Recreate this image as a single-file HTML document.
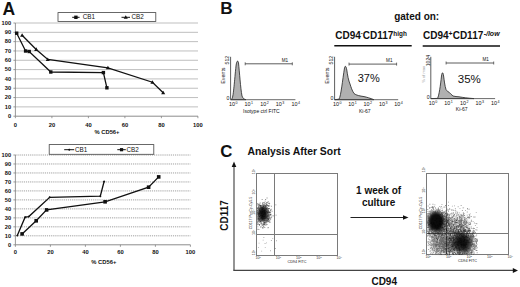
<!DOCTYPE html>
<html><head><meta charset="utf-8"><style>
html,body{margin:0;padding:0;background:#fff;width:520px;height:287px;overflow:hidden}
svg{display:block}
text{font-family:"Liberation Sans",sans-serif;fill:#111}
</style></head><body>
<svg width="520" height="287" viewBox="0 0 520 287" font-family="Liberation Sans, sans-serif">
<rect width="520" height="287" fill="#fff"/>
<text x="2.6" y="14.6" font-size="17.5" font-weight="bold" text-anchor="start" >A</text>
<line x1="15.4" y1="106.88" x2="198" y2="106.88" stroke="#bfbfbf" stroke-width="1" />
<line x1="15.4" y1="97.56" x2="198" y2="97.56" stroke="#bfbfbf" stroke-width="1" />
<line x1="15.4" y1="88.24" x2="198" y2="88.24" stroke="#bfbfbf" stroke-width="1" />
<line x1="15.4" y1="78.92" x2="198" y2="78.92" stroke="#bfbfbf" stroke-width="1" />
<line x1="15.4" y1="69.60" x2="198" y2="69.60" stroke="#bfbfbf" stroke-width="1" />
<line x1="15.4" y1="60.28" x2="198" y2="60.28" stroke="#bfbfbf" stroke-width="1" />
<line x1="15.4" y1="50.96" x2="198" y2="50.96" stroke="#bfbfbf" stroke-width="1" />
<line x1="15.4" y1="41.64" x2="198" y2="41.64" stroke="#bfbfbf" stroke-width="1" />
<line x1="15.4" y1="32.32" x2="198" y2="32.32" stroke="#bfbfbf" stroke-width="1" />
<line x1="15.4" y1="23.00" x2="198" y2="23.00" stroke="#bfbfbf" stroke-width="1" />
<line x1="15.4" y1="23.00" x2="15.4" y2="116.2" stroke="#8c8c8c" stroke-width="0.9"/>
<line x1="15.4" y1="116.2" x2="198" y2="116.2" stroke="#808080" stroke-width="0.9"/>
<line x1="13.4" y1="116.20" x2="15.4" y2="116.20" stroke="#808080" stroke-width="0.8"/>
<text x="11.100000000000001" y="117.90" font-size="5.7" font-weight="bold" text-anchor="end" >0</text>
<line x1="13.4" y1="106.88" x2="15.4" y2="106.88" stroke="#808080" stroke-width="0.8"/>
<text x="11.100000000000001" y="108.58" font-size="5.7" font-weight="bold" text-anchor="end" >10</text>
<line x1="13.4" y1="97.56" x2="15.4" y2="97.56" stroke="#808080" stroke-width="0.8"/>
<text x="11.100000000000001" y="99.26" font-size="5.7" font-weight="bold" text-anchor="end" >20</text>
<line x1="13.4" y1="88.24" x2="15.4" y2="88.24" stroke="#808080" stroke-width="0.8"/>
<text x="11.100000000000001" y="89.94" font-size="5.7" font-weight="bold" text-anchor="end" >30</text>
<line x1="13.4" y1="78.92" x2="15.4" y2="78.92" stroke="#808080" stroke-width="0.8"/>
<text x="11.100000000000001" y="80.62" font-size="5.7" font-weight="bold" text-anchor="end" >40</text>
<line x1="13.4" y1="69.60" x2="15.4" y2="69.60" stroke="#808080" stroke-width="0.8"/>
<text x="11.100000000000001" y="71.30" font-size="5.7" font-weight="bold" text-anchor="end" >50</text>
<line x1="13.4" y1="60.28" x2="15.4" y2="60.28" stroke="#808080" stroke-width="0.8"/>
<text x="11.100000000000001" y="61.98" font-size="5.7" font-weight="bold" text-anchor="end" >60</text>
<line x1="13.4" y1="50.96" x2="15.4" y2="50.96" stroke="#808080" stroke-width="0.8"/>
<text x="11.100000000000001" y="52.66" font-size="5.7" font-weight="bold" text-anchor="end" >70</text>
<line x1="13.4" y1="41.64" x2="15.4" y2="41.64" stroke="#808080" stroke-width="0.8"/>
<text x="11.100000000000001" y="43.34" font-size="5.7" font-weight="bold" text-anchor="end" >80</text>
<line x1="13.4" y1="32.32" x2="15.4" y2="32.32" stroke="#808080" stroke-width="0.8"/>
<text x="11.100000000000001" y="34.02" font-size="5.7" font-weight="bold" text-anchor="end" >90</text>
<line x1="13.4" y1="23.00" x2="15.4" y2="23.00" stroke="#808080" stroke-width="0.8"/>
<text x="11.100000000000001" y="24.70" font-size="5.7" font-weight="bold" text-anchor="end" >100</text>
<line x1="15.40" y1="116.2" x2="15.40" y2="118.2" stroke="#808080" stroke-width="0.8"/>
<text x="15.40" y="127" font-size="5.8" font-weight="bold" text-anchor="middle" >0</text>
<line x1="51.90" y1="116.2" x2="51.90" y2="118.2" stroke="#808080" stroke-width="0.8"/>
<text x="51.90" y="127" font-size="5.8" font-weight="bold" text-anchor="middle" >20</text>
<line x1="88.40" y1="116.2" x2="88.40" y2="118.2" stroke="#808080" stroke-width="0.8"/>
<text x="88.40" y="127" font-size="5.8" font-weight="bold" text-anchor="middle" >40</text>
<line x1="124.90" y1="116.2" x2="124.90" y2="118.2" stroke="#808080" stroke-width="0.8"/>
<text x="124.90" y="127" font-size="5.8" font-weight="bold" text-anchor="middle" >60</text>
<line x1="161.40" y1="116.2" x2="161.40" y2="118.2" stroke="#808080" stroke-width="0.8"/>
<text x="161.40" y="127" font-size="5.8" font-weight="bold" text-anchor="middle" >80</text>
<line x1="197.90" y1="116.2" x2="197.90" y2="118.2" stroke="#808080" stroke-width="0.8"/>
<text x="197.90" y="127" font-size="5.8" font-weight="bold" text-anchor="middle" >100</text>
<text x="107" y="133.5" font-size="5.8" font-weight="bold" text-anchor="middle" >% CD56+</text>
<rect x="58" y="12.6" width="97.8" height="8.9" fill="#fff" stroke="#444" stroke-width="0.8"/>
<polyline points="16.7,33.2 25.6,51 29.2,51.5 50.8,72 103.4,72.6 106.9,87.8" fill="none" stroke="#111" stroke-width="1.3"/>
<rect x="15.00" y="31.50" width="3.4" height="3.4" fill="#111"/>
<rect x="23.90" y="49.30" width="3.4" height="3.4" fill="#111"/>
<rect x="27.50" y="49.80" width="3.4" height="3.4" fill="#111"/>
<rect x="49.10" y="70.30" width="3.4" height="3.4" fill="#111"/>
<rect x="101.70" y="70.90" width="3.4" height="3.4" fill="#111"/>
<rect x="105.20" y="86.10" width="3.4" height="3.4" fill="#111"/>
<polyline points="22.1,35.3 36.2,49.4 47.8,59.5 107.9,67.8 152.4,82.2 163.2,92.7" fill="none" stroke="#111" stroke-width="1.3"/>
<polygon points="22.10,33.26 24.14,36.83 20.06,36.83" fill="#111"/>
<polygon points="36.20,47.36 38.24,50.93 34.16,50.93" fill="#111"/>
<polygon points="47.80,57.46 49.84,61.03 45.76,61.03" fill="#111"/>
<polygon points="107.90,65.76 109.94,69.33 105.86,69.33" fill="#111"/>
<polygon points="152.40,80.16 154.44,83.73 150.36,83.73" fill="#111"/>
<polygon points="163.20,90.66 165.24,94.23 161.16,94.23" fill="#111"/>
<line x1="72.2" y1="17.3" x2="79.6" y2="17.3" stroke="#111" stroke-width="1"/>
<rect x="74.20" y="15.60" width="3.4" height="3.4" fill="#111"/>
<text x="82.8" y="19.3" font-size="6.3" text-anchor="start" >CB1</text>
<line x1="121.5" y1="17.3" x2="130" y2="17.3" stroke="#111" stroke-width="1"/>
<polygon points="125.75,15.26 127.79,18.83 123.71,18.83" fill="#111"/>
<text x="131.4" y="19.3" font-size="6.3" text-anchor="start" >CB2</text>
<line x1="15.4" y1="235.82" x2="190.4" y2="235.82" stroke="#a0a0a0" stroke-width="1" stroke-dasharray="1.2 0.9"/>
<line x1="15.4" y1="226.84" x2="190.4" y2="226.84" stroke="#a0a0a0" stroke-width="1" stroke-dasharray="1.2 0.9"/>
<line x1="15.4" y1="217.86" x2="190.4" y2="217.86" stroke="#a0a0a0" stroke-width="1" stroke-dasharray="1.2 0.9"/>
<line x1="15.4" y1="208.88" x2="190.4" y2="208.88" stroke="#a0a0a0" stroke-width="1" stroke-dasharray="1.2 0.9"/>
<line x1="15.4" y1="199.90" x2="190.4" y2="199.90" stroke="#a0a0a0" stroke-width="1" stroke-dasharray="1.2 0.9"/>
<line x1="15.4" y1="190.92" x2="190.4" y2="190.92" stroke="#a0a0a0" stroke-width="1" stroke-dasharray="1.2 0.9"/>
<line x1="15.4" y1="181.94" x2="190.4" y2="181.94" stroke="#a0a0a0" stroke-width="1" stroke-dasharray="1.2 0.9"/>
<line x1="15.4" y1="172.96" x2="190.4" y2="172.96" stroke="#a0a0a0" stroke-width="1" stroke-dasharray="1.2 0.9"/>
<line x1="15.4" y1="163.98" x2="190.4" y2="163.98" stroke="#a0a0a0" stroke-width="1" stroke-dasharray="1.2 0.9"/>
<line x1="15.4" y1="155.00" x2="190.4" y2="155.00" stroke="#a0a0a0" stroke-width="1" stroke-dasharray="1.2 0.9"/>
<line x1="15.4" y1="155.00" x2="15.4" y2="244.8" stroke="#8c8c8c" stroke-width="0.9"/>
<line x1="15.4" y1="244.8" x2="190.4" y2="244.8" stroke="#808080" stroke-width="0.9"/>
<line x1="13.4" y1="244.80" x2="15.4" y2="244.80" stroke="#808080" stroke-width="0.8"/>
<text x="11.100000000000001" y="246.50" font-size="5.7" font-weight="bold" text-anchor="end" >0</text>
<line x1="13.4" y1="235.82" x2="15.4" y2="235.82" stroke="#808080" stroke-width="0.8"/>
<text x="11.100000000000001" y="237.52" font-size="5.7" font-weight="bold" text-anchor="end" >10</text>
<line x1="13.4" y1="226.84" x2="15.4" y2="226.84" stroke="#808080" stroke-width="0.8"/>
<text x="11.100000000000001" y="228.54" font-size="5.7" font-weight="bold" text-anchor="end" >20</text>
<line x1="13.4" y1="217.86" x2="15.4" y2="217.86" stroke="#808080" stroke-width="0.8"/>
<text x="11.100000000000001" y="219.56" font-size="5.7" font-weight="bold" text-anchor="end" >30</text>
<line x1="13.4" y1="208.88" x2="15.4" y2="208.88" stroke="#808080" stroke-width="0.8"/>
<text x="11.100000000000001" y="210.58" font-size="5.7" font-weight="bold" text-anchor="end" >40</text>
<line x1="13.4" y1="199.90" x2="15.4" y2="199.90" stroke="#808080" stroke-width="0.8"/>
<text x="11.100000000000001" y="201.60" font-size="5.7" font-weight="bold" text-anchor="end" >50</text>
<line x1="13.4" y1="190.92" x2="15.4" y2="190.92" stroke="#808080" stroke-width="0.8"/>
<text x="11.100000000000001" y="192.62" font-size="5.7" font-weight="bold" text-anchor="end" >60</text>
<line x1="13.4" y1="181.94" x2="15.4" y2="181.94" stroke="#808080" stroke-width="0.8"/>
<text x="11.100000000000001" y="183.64" font-size="5.7" font-weight="bold" text-anchor="end" >70</text>
<line x1="13.4" y1="172.96" x2="15.4" y2="172.96" stroke="#808080" stroke-width="0.8"/>
<text x="11.100000000000001" y="174.66" font-size="5.7" font-weight="bold" text-anchor="end" >80</text>
<line x1="13.4" y1="163.98" x2="15.4" y2="163.98" stroke="#808080" stroke-width="0.8"/>
<text x="11.100000000000001" y="165.68" font-size="5.7" font-weight="bold" text-anchor="end" >90</text>
<line x1="13.4" y1="155.00" x2="15.4" y2="155.00" stroke="#808080" stroke-width="0.8"/>
<text x="11.100000000000001" y="156.70" font-size="5.7" font-weight="bold" text-anchor="end" >100</text>
<line x1="15.40" y1="244.8" x2="15.40" y2="246.8" stroke="#808080" stroke-width="0.8"/>
<text x="15.40" y="254.3" font-size="5.8" font-weight="bold" text-anchor="middle" >0</text>
<line x1="50.40" y1="244.8" x2="50.40" y2="246.8" stroke="#808080" stroke-width="0.8"/>
<text x="50.40" y="254.3" font-size="5.8" font-weight="bold" text-anchor="middle" >20</text>
<line x1="85.40" y1="244.8" x2="85.40" y2="246.8" stroke="#808080" stroke-width="0.8"/>
<text x="85.40" y="254.3" font-size="5.8" font-weight="bold" text-anchor="middle" >40</text>
<line x1="120.40" y1="244.8" x2="120.40" y2="246.8" stroke="#808080" stroke-width="0.8"/>
<text x="120.40" y="254.3" font-size="5.8" font-weight="bold" text-anchor="middle" >60</text>
<line x1="155.40" y1="244.8" x2="155.40" y2="246.8" stroke="#808080" stroke-width="0.8"/>
<text x="155.40" y="254.3" font-size="5.8" font-weight="bold" text-anchor="middle" >80</text>
<line x1="190.40" y1="244.8" x2="190.40" y2="246.8" stroke="#808080" stroke-width="0.8"/>
<text x="190.40" y="254.3" font-size="5.8" font-weight="bold" text-anchor="middle" >100</text>
<text x="103.8" y="264.2" font-size="5.8" font-weight="bold" text-anchor="middle" >% CD56+</text>
<rect x="49.2" y="144.6" width="104.6" height="9.7" fill="#fff" stroke="#444" stroke-width="0.8"/>
<polyline points="17.3,235.6 25.1,217.2 28.8,216.6 49.7,197.3 100.3,196.2 104.1,181.5" fill="none" stroke="#111" stroke-width="1.3"/>
<polygon points="17.30,234.40 18.50,235.60 17.30,236.80 16.10,235.60" fill="#111"/>
<polygon points="25.10,216.00 26.30,217.20 25.10,218.40 23.90,217.20" fill="#111"/>
<polygon points="28.80,215.40 30.00,216.60 28.80,217.80 27.60,216.60" fill="#111"/>
<polygon points="49.70,196.10 50.90,197.30 49.70,198.50 48.50,197.30" fill="#111"/>
<polygon points="100.30,195.00 101.50,196.20 100.30,197.40 99.10,196.20" fill="#111"/>
<polygon points="104.10,180.30 105.30,181.50 104.10,182.70 102.90,181.50" fill="#111"/>
<polyline points="22.1,233.9 36.2,220.8 46.6,209.9 105.1,201.8 148.6,187.2 158.7,176.9" fill="none" stroke="#111" stroke-width="1.3"/>
<rect x="20.30" y="232.10" width="3.6" height="3.6" fill="#111"/>
<rect x="34.40" y="219.00" width="3.6" height="3.6" fill="#111"/>
<rect x="44.80" y="208.10" width="3.6" height="3.6" fill="#111"/>
<rect x="103.30" y="200.00" width="3.6" height="3.6" fill="#111"/>
<rect x="146.80" y="185.40" width="3.6" height="3.6" fill="#111"/>
<rect x="156.90" y="175.10" width="3.6" height="3.6" fill="#111"/>
<line x1="64.2" y1="149.7" x2="74.2" y2="149.7" stroke="#111" stroke-width="1"/>
<polygon points="69.20,148.50 70.40,149.70 69.20,150.90 68.00,149.70" fill="#111"/>
<text x="75" y="151.7" font-size="6.3" text-anchor="start" >CB1</text>
<line x1="117.3" y1="149.7" x2="125.8" y2="149.7" stroke="#111" stroke-width="1"/>
<rect x="119.95" y="148.10" width="3.2" height="3.2" fill="#111"/>
<text x="126.5" y="151.7" font-size="6.3" text-anchor="start" >CB2</text>
<text x="220.2" y="13.85" font-size="17.2" font-weight="bold" text-anchor="start" >B</text>
<text x="416.7" y="19.6" font-size="10" font-weight="bold" text-anchor="middle" >gated on:</text>
<text x="335.2" y="39.3" font-size="10" font-weight="bold">CD94<tspan font-size="6" dy="-4">-</tspan><tspan dy="4">CD117</tspan><tspan font-size="6.4" dy="-3.3">high</tspan></text>
<line x1="334.3" y1="45.8" x2="411.7" y2="45.8" stroke="#111" stroke-width="1.5"/>
<text x="423" y="39.3" font-size="10" font-weight="bold">CD94<tspan font-size="7" dy="-3.3">+</tspan><tspan dy="3.3">CD117</tspan><tspan font-size="7" font-style="italic" dx="0.4" dy="-3">-/low</tspan></text>
<line x1="422.7" y1="46" x2="500" y2="46" stroke="#111" stroke-width="1.5"/>
<path d="M230.8,99.7 L232,98.9 C233.5,96 234.5,80 236,66 C236.6,61 237.8,59.5 238.5,63 C239.5,72 240.5,88 242,96 C243,98.5 244,99.2 246,99.7 Z" fill="#b0b0b0" stroke="#222" stroke-width="0.8"/>
<line x1="230.6" y1="56.8" x2="230.6" y2="99.7" stroke="#333" stroke-width="0.8"/>
<line x1="230.6" y1="99.7" x2="295.4" y2="99.7" stroke="#444" stroke-width="0.8"/>
<text x="229.00" y="106.30" font-size="5.4">10<tspan font-size="3.6" dx="0.5" dy="-2">0</tspan></text>
<text x="244.60" y="106.30" font-size="5.4">10<tspan font-size="3.6" dx="0.5" dy="-2">1</tspan></text>
<text x="260.20" y="106.30" font-size="5.4">10<tspan font-size="3.6" dx="0.5" dy="-2">2</tspan></text>
<text x="275.80" y="106.30" font-size="5.4">10<tspan font-size="3.6" dx="0.5" dy="-2">3</tspan></text>
<text x="291.40" y="106.30" font-size="5.4">10<tspan font-size="3.6" dx="0.5" dy="-2">4</tspan></text>
<line x1="245.2" y1="63.8" x2="292.3" y2="63.8" stroke="#333" stroke-width="0.8"/>
<line x1="245.2" y1="62.3" x2="245.2" y2="65.3" stroke="#333" stroke-width="0.7"/>
<line x1="292.3" y1="62.3" x2="292.3" y2="65.3" stroke="#333" stroke-width="0.7"/>
<text x="285" y="62.0" font-size="4.6" text-anchor="middle" >M1</text>
<text transform="translate(229.4,55.8) rotate(-90)" font-size="5.2" text-anchor="end">512</text>
<text transform="translate(224.91,75.6) rotate(-90)" font-size="5.3" text-anchor="middle" style="fill:#111">Events</text>
<text x="229.4" y="99.9" font-size="5.2" text-anchor="end">0</text>
<text x="261.4" y="113.2" font-size="5.0" text-anchor="middle" >Isotype ctrl FITC</text>
<path d="M334.6,99.7 L339,99.2 C341,96 342.5,80 344.5,68 C345,65.5 346,65.5 346.8,70 C347.5,75 348.5,80.5 350,84 C351,87 352,90.5 354,93.5 C356,95.3 360,96 364,96.6 C367,97.2 370,98.2 374,99.7 Z" fill="#b0b0b0" stroke="#222" stroke-width="0.8"/>
<line x1="334.6" y1="56.8" x2="334.6" y2="99.7" stroke="#333" stroke-width="0.8"/>
<line x1="334.6" y1="99.7" x2="398.2" y2="99.7" stroke="#444" stroke-width="0.8"/>
<text x="333.00" y="106.30" font-size="5.4">10<tspan font-size="3.6" dx="0.5" dy="-2">0</tspan></text>
<text x="348.30" y="106.30" font-size="5.4">10<tspan font-size="3.6" dx="0.5" dy="-2">1</tspan></text>
<text x="363.60" y="106.30" font-size="5.4">10<tspan font-size="3.6" dx="0.5" dy="-2">2</tspan></text>
<text x="378.90" y="106.30" font-size="5.4">10<tspan font-size="3.6" dx="0.5" dy="-2">3</tspan></text>
<text x="394.20" y="106.30" font-size="5.4">10<tspan font-size="3.6" dx="0.5" dy="-2">4</tspan></text>
<line x1="349" y1="64.1" x2="396.6" y2="64.1" stroke="#333" stroke-width="0.8"/>
<line x1="349" y1="62.599999999999994" x2="349" y2="65.6" stroke="#333" stroke-width="0.7"/>
<line x1="396.6" y1="62.599999999999994" x2="396.6" y2="65.6" stroke="#333" stroke-width="0.7"/>
<text x="389.3" y="61.599999999999994" font-size="4.6" text-anchor="middle" >M1</text>
<text transform="translate(333.40000000000003,55.8) rotate(-90)" font-size="5.2" text-anchor="end">512</text>
<text transform="translate(328.91,75.6) rotate(-90)" font-size="5.3" text-anchor="middle" style="fill:#111">Events</text>
<text x="333.40000000000003" y="99.9" font-size="5.2" text-anchor="end">0</text>
<text x="364.8" y="112.7" font-size="5.0" text-anchor="middle" >Ki-67</text>
<path d="M430.8,98.6 L437.5,98.4 C439,96 440.5,85 441.5,76 C442,72 443,71.5 443.6,76 C444.2,80 444.8,86 446,89.5 C447,91.5 448,91.3 449,92.2 C450.5,93.5 451.5,95 453,96 C455,96.6 457,96.6 459,96.8 C463,97.5 468,98.2 474,98.6 Z" fill="#b0b0b0" stroke="#222" stroke-width="0.8"/>
<line x1="430.8" y1="56.8" x2="430.8" y2="98.6" stroke="#333" stroke-width="0.8"/>
<line x1="430.8" y1="98.6" x2="495.09999999999997" y2="98.6" stroke="#444" stroke-width="0.8"/>
<text x="428.70" y="105.20" font-size="5.4">10<tspan font-size="3.6" dx="0.5" dy="-2">0</tspan></text>
<text x="444.30" y="105.20" font-size="5.4">10<tspan font-size="3.6" dx="0.5" dy="-2">1</tspan></text>
<text x="459.90" y="105.20" font-size="5.4">10<tspan font-size="3.6" dx="0.5" dy="-2">2</tspan></text>
<text x="475.50" y="105.20" font-size="5.4">10<tspan font-size="3.6" dx="0.5" dy="-2">3</tspan></text>
<text x="491.10" y="105.20" font-size="5.4">10<tspan font-size="3.6" dx="0.5" dy="-2">4</tspan></text>
<line x1="446.1" y1="63.0" x2="493.7" y2="63.0" stroke="#333" stroke-width="0.8"/>
<line x1="446.1" y1="61.5" x2="446.1" y2="64.5" stroke="#333" stroke-width="0.7"/>
<line x1="493.7" y1="61.5" x2="493.7" y2="64.5" stroke="#333" stroke-width="0.7"/>
<text x="485.7" y="61.199999999999996" font-size="4.6" text-anchor="middle" >M1</text>
<text transform="translate(429.6,54.8) rotate(-90)" font-size="5.2" text-anchor="end">1024</text>
<text transform="translate(425.44,74.3) rotate(-90)" font-size="4" text-anchor="middle" style="fill:#999">% of max</text>
<text x="429.6" y="98.8" font-size="5.2" text-anchor="end">0</text>
<text x="461.7" y="111.1" font-size="5.0" text-anchor="middle" >Ki-67</text>
<text x="357.7" y="82.4" font-size="11" text-anchor="start" >37%</text>
<text x="457.8" y="83.4" font-size="11.5" text-anchor="start" >35%</text>
<text x="220.3" y="157.3" font-size="16.8" font-weight="bold" text-anchor="start" >C</text>
<text x="247.5" y="155" font-size="10.4" font-weight="bold" text-anchor="start" >Analysis After Sort</text>
<line x1="234" y1="165" x2="234" y2="270.3" stroke="#666" stroke-width="1.4"/>
<polygon points="234,161.6 231.7,166.9 236.3,166.9" fill="#111"/>
<line x1="233.3" y1="270.4" x2="514" y2="270.4" stroke="#444" stroke-width="1.3"/>
<polygon points="518,270.4 512.8,267.9 512.8,272.9" fill="#111"/>
<text transform="translate(228.2,215.5) rotate(-90)" font-size="10" font-weight="bold" text-anchor="middle">CD117</text>
<text x="384.2" y="285" font-size="10" font-weight="bold" text-anchor="middle" >CD94</text>
<text x="378.6" y="193.9" font-size="10" font-weight="bold" text-anchor="middle" >1 week of</text>
<text x="378.6" y="206.1" font-size="10" font-weight="bold" text-anchor="middle" >culture</text>
<line x1="350.5" y1="217.5" x2="404" y2="217.5" stroke="#222" stroke-width="1"/>
<polygon points="408.5,217.5 403,215.3 403,219.7" fill="#111"/>
<rect x="256.5" y="173.5" width="81.0" height="82.0" fill="none" stroke="#7a7a7a" stroke-width="1"/>
<line x1="274.5" y1="173.5" x2="274.5" y2="255.5" stroke="#7a7a7a" stroke-width="1"/>
<line x1="256.5" y1="234.5" x2="337.5" y2="234.5" stroke="#7a7a7a" stroke-width="1"/>
<text x="258.30" y="259.10" font-size="3.6" text-anchor="middle" style="fill:#333">10<tspan font-size="2.5" dy="-1.4">0</tspan></text>
<text transform="translate(255.10,252.50) rotate(-90)" font-size="3.6" text-anchor="middle" style="fill:#333">10<tspan font-size="2.5" dy="-1.4">0</tspan></text>
<text x="278.55" y="259.10" font-size="3.6" text-anchor="middle" style="fill:#333">10<tspan font-size="2.5" dy="-1.4">1</tspan></text>
<text transform="translate(255.10,232.25) rotate(-90)" font-size="3.6" text-anchor="middle" style="fill:#333">10<tspan font-size="2.5" dy="-1.4">1</tspan></text>
<text x="298.80" y="259.10" font-size="3.6" text-anchor="middle" style="fill:#333">10<tspan font-size="2.5" dy="-1.4">2</tspan></text>
<text transform="translate(255.10,212.00) rotate(-90)" font-size="3.6" text-anchor="middle" style="fill:#333">10<tspan font-size="2.5" dy="-1.4">2</tspan></text>
<text x="319.05" y="259.10" font-size="3.6" text-anchor="middle" style="fill:#333">10<tspan font-size="2.5" dy="-1.4">3</tspan></text>
<text transform="translate(255.10,191.75) rotate(-90)" font-size="3.6" text-anchor="middle" style="fill:#333">10<tspan font-size="2.5" dy="-1.4">3</tspan></text>
<text x="339.30" y="259.10" font-size="3.6" text-anchor="middle" style="fill:#333">10<tspan font-size="2.5" dy="-1.4">4</tspan></text>
<text transform="translate(255.10,171.50) rotate(-90)" font-size="3.6" text-anchor="middle" style="fill:#333">10<tspan font-size="2.5" dy="-1.4">4</tspan></text>
<text x="297.00" y="262.80" font-size="3.8" text-anchor="middle" style="fill:#222">CD94 FITC</text>
<text transform="translate(251.70,213.00) rotate(-90)" font-size="3.6" text-anchor="middle" style="fill:#222">CD117 PerCp-Cy5.5</text>
<defs><filter id="bl" x="-50%" y="-50%" width="200%" height="200%"><feGaussianBlur stdDeviation="1.8"/></filter><filter id="bl2" x="-50%" y="-50%" width="200%" height="200%"><feGaussianBlur stdDeviation="2.4"/></filter></defs>
<ellipse cx="262.8" cy="213.6" rx="4.4" ry="6.8" fill="#000" fill-opacity="0.85" filter="url(#bl)"/>
<path d="M262.1 215.7h0.9v0.9h-0.9zM262.1 212.3h0.9v0.9h-0.9zM260.1 212.7h0.9v0.9h-0.9zM266.0 215.4h0.9v0.9h-0.9zM265.8 214.6h0.9v0.9h-0.9zM263.9 214.4h0.9v0.9h-0.9zM258.0 217.2h0.9v0.9h-0.9zM264.3 215.7h0.9v0.9h-0.9zM257.9 206.3h0.9v0.9h-0.9zM260.2 211.6h0.9v0.9h-0.9zM263.7 213.4h0.9v0.9h-0.9zM264.3 210.9h0.9v0.9h-0.9zM263.7 215.3h0.9v0.9h-0.9zM260.9 220.8h0.9v0.9h-0.9zM264.4 218.6h0.9v0.9h-0.9zM261.0 210.5h0.9v0.9h-0.9zM261.8 213.2h0.9v0.9h-0.9zM264.6 214.6h0.9v0.9h-0.9zM261.5 209.6h0.9v0.9h-0.9zM261.3 218.7h0.9v0.9h-0.9zM260.5 214.6h0.9v0.9h-0.9zM264.0 207.3h0.9v0.9h-0.9zM262.9 219.1h0.9v0.9h-0.9zM257.0 212.2h0.9v0.9h-0.9zM262.5 210.2h0.9v0.9h-0.9zM264.2 213.3h0.9v0.9h-0.9zM258.6 217.1h0.9v0.9h-0.9zM264.7 217.6h0.9v0.9h-0.9zM267.0 215.1h0.9v0.9h-0.9zM263.1 208.1h0.9v0.9h-0.9zM264.6 211.0h0.9v0.9h-0.9zM261.5 208.3h0.9v0.9h-0.9zM260.0 211.4h0.9v0.9h-0.9zM266.5 205.1h0.9v0.9h-0.9zM258.6 214.6h0.9v0.9h-0.9zM267.0 216.0h0.9v0.9h-0.9zM257.3 203.0h0.9v0.9h-0.9zM263.8 210.5h0.9v0.9h-0.9zM259.6 217.7h0.9v0.9h-0.9zM266.0 214.3h0.9v0.9h-0.9zM263.5 215.4h0.9v0.9h-0.9zM267.4 216.2h0.9v0.9h-0.9zM264.3 215.9h0.9v0.9h-0.9zM258.3 219.0h0.9v0.9h-0.9zM265.6 215.8h0.9v0.9h-0.9zM257.1 210.9h0.9v0.9h-0.9zM265.2 206.0h0.9v0.9h-0.9zM262.3 217.9h0.9v0.9h-0.9zM259.0 220.4h0.9v0.9h-0.9zM264.4 213.0h0.9v0.9h-0.9zM263.7 216.3h0.9v0.9h-0.9zM263.1 218.4h0.9v0.9h-0.9zM260.9 211.9h0.9v0.9h-0.9zM265.8 213.7h0.9v0.9h-0.9zM260.2 217.6h0.9v0.9h-0.9zM267.0 211.7h0.9v0.9h-0.9zM258.8 213.0h0.9v0.9h-0.9zM262.4 212.3h0.9v0.9h-0.9zM266.9 209.3h0.9v0.9h-0.9zM266.5 208.3h0.9v0.9h-0.9zM260.5 216.3h0.9v0.9h-0.9zM266.1 217.2h0.9v0.9h-0.9zM263.8 214.2h0.9v0.9h-0.9zM263.2 216.0h0.9v0.9h-0.9zM262.3 214.8h0.9v0.9h-0.9zM264.5 213.6h0.9v0.9h-0.9zM265.0 216.0h0.9v0.9h-0.9zM268.6 215.0h0.9v0.9h-0.9zM261.6 212.0h0.9v0.9h-0.9zM262.8 217.5h0.9v0.9h-0.9zM261.8 215.2h0.9v0.9h-0.9zM268.1 202.8h0.9v0.9h-0.9zM259.5 214.6h0.9v0.9h-0.9zM264.0 214.6h0.9v0.9h-0.9zM261.5 216.4h0.9v0.9h-0.9zM263.6 211.4h0.9v0.9h-0.9zM269.8 215.1h0.9v0.9h-0.9zM261.2 213.2h0.9v0.9h-0.9zM262.1 213.3h0.9v0.9h-0.9zM265.7 208.7h0.9v0.9h-0.9zM262.6 217.6h0.9v0.9h-0.9zM265.3 219.9h0.9v0.9h-0.9zM257.9 212.1h0.9v0.9h-0.9zM261.8 216.2h0.9v0.9h-0.9zM266.0 202.3h0.9v0.9h-0.9zM266.0 207.5h0.9v0.9h-0.9zM264.8 207.3h0.9v0.9h-0.9zM263.3 218.6h0.9v0.9h-0.9zM262.4 214.4h0.9v0.9h-0.9zM265.1 214.2h0.9v0.9h-0.9zM262.5 220.0h0.9v0.9h-0.9zM265.8 212.4h0.9v0.9h-0.9zM270.8 208.8h0.9v0.9h-0.9zM265.5 212.5h0.9v0.9h-0.9zM263.2 216.6h0.9v0.9h-0.9zM263.4 216.3h0.9v0.9h-0.9zM258.4 207.3h0.9v0.9h-0.9zM264.6 209.6h0.9v0.9h-0.9zM259.8 207.4h0.9v0.9h-0.9zM266.5 216.7h0.9v0.9h-0.9zM267.1 209.7h0.9v0.9h-0.9zM262.8 208.8h0.9v0.9h-0.9zM265.0 220.3h0.9v0.9h-0.9zM260.2 220.2h0.9v0.9h-0.9zM265.7 212.9h0.9v0.9h-0.9zM257.1 219.5h0.9v0.9h-0.9zM262.5 211.1h0.9v0.9h-0.9zM264.0 215.3h0.9v0.9h-0.9zM267.1 209.3h0.9v0.9h-0.9zM266.1 219.8h0.9v0.9h-0.9zM267.0 212.8h0.9v0.9h-0.9zM260.6 217.9h0.9v0.9h-0.9zM263.1 214.1h0.9v0.9h-0.9zM266.9 212.5h0.9v0.9h-0.9zM257.4 217.0h0.9v0.9h-0.9zM263.7 211.0h0.9v0.9h-0.9zM262.8 217.1h0.9v0.9h-0.9zM263.0 219.2h0.9v0.9h-0.9zM262.6 218.0h0.9v0.9h-0.9zM267.1 220.4h0.9v0.9h-0.9zM260.9 217.3h0.9v0.9h-0.9zM257.4 209.0h0.9v0.9h-0.9zM257.1 218.1h0.9v0.9h-0.9zM259.2 213.5h0.9v0.9h-0.9zM262.2 213.5h0.9v0.9h-0.9zM261.1 214.6h0.9v0.9h-0.9zM268.0 213.8h0.9v0.9h-0.9zM264.3 217.8h0.9v0.9h-0.9zM262.2 208.3h0.9v0.9h-0.9zM261.2 218.1h0.9v0.9h-0.9zM258.0 211.1h0.9v0.9h-0.9zM265.7 216.9h0.9v0.9h-0.9zM262.8 217.0h0.9v0.9h-0.9zM263.3 208.6h0.9v0.9h-0.9zM258.3 210.9h0.9v0.9h-0.9zM265.5 211.2h0.9v0.9h-0.9zM260.2 210.4h0.9v0.9h-0.9zM258.4 213.1h0.9v0.9h-0.9zM259.4 215.1h0.9v0.9h-0.9zM260.9 205.4h0.9v0.9h-0.9zM264.9 212.4h0.9v0.9h-0.9zM263.6 211.7h0.9v0.9h-0.9zM265.1 216.7h0.9v0.9h-0.9zM264.7 215.0h0.9v0.9h-0.9zM266.7 216.4h0.9v0.9h-0.9zM264.1 204.8h0.9v0.9h-0.9zM265.4 219.1h0.9v0.9h-0.9zM261.9 211.6h0.9v0.9h-0.9zM268.4 206.2h0.9v0.9h-0.9zM264.2 223.8h0.9v0.9h-0.9zM260.1 216.5h0.9v0.9h-0.9zM268.3 213.1h0.9v0.9h-0.9zM264.4 217.4h0.9v0.9h-0.9zM260.2 213.2h0.9v0.9h-0.9zM263.6 217.1h0.9v0.9h-0.9zM262.7 212.8h0.9v0.9h-0.9zM259.9 212.1h0.9v0.9h-0.9zM265.4 214.0h0.9v0.9h-0.9zM260.3 210.1h0.9v0.9h-0.9zM270.5 218.4h0.9v0.9h-0.9zM264.6 202.7h0.9v0.9h-0.9zM264.6 215.6h0.9v0.9h-0.9zM267.7 215.4h0.9v0.9h-0.9zM262.6 215.8h0.9v0.9h-0.9zM257.2 217.9h0.9v0.9h-0.9zM263.7 210.7h0.9v0.9h-0.9zM266.6 221.2h0.9v0.9h-0.9zM258.7 210.8h0.9v0.9h-0.9zM263.6 214.4h0.9v0.9h-0.9zM261.6 209.5h0.9v0.9h-0.9zM268.9 218.0h0.9v0.9h-0.9zM259.3 208.0h0.9v0.9h-0.9zM267.7 217.8h0.9v0.9h-0.9zM268.1 217.0h0.9v0.9h-0.9zM260.3 214.7h0.9v0.9h-0.9zM262.6 215.8h0.9v0.9h-0.9zM260.7 213.1h0.9v0.9h-0.9zM264.1 215.2h0.9v0.9h-0.9zM264.7 214.5h0.9v0.9h-0.9zM261.9 216.9h0.9v0.9h-0.9zM262.9 210.1h0.9v0.9h-0.9zM261.0 213.6h0.9v0.9h-0.9zM262.5 214.3h0.9v0.9h-0.9zM262.8 214.3h0.9v0.9h-0.9zM262.4 208.3h0.9v0.9h-0.9zM264.0 218.0h0.9v0.9h-0.9zM264.1 212.8h0.9v0.9h-0.9zM264.1 209.5h0.9v0.9h-0.9zM257.3 213.9h0.9v0.9h-0.9zM260.1 216.7h0.9v0.9h-0.9zM259.7 202.6h0.9v0.9h-0.9zM259.8 220.2h0.9v0.9h-0.9zM261.7 207.8h0.9v0.9h-0.9zM260.6 215.8h0.9v0.9h-0.9zM264.2 214.3h0.9v0.9h-0.9zM267.1 216.6h0.9v0.9h-0.9zM262.7 216.1h0.9v0.9h-0.9zM267.6 217.7h0.9v0.9h-0.9zM265.8 209.1h0.9v0.9h-0.9zM262.4 216.7h0.9v0.9h-0.9zM261.9 218.1h0.9v0.9h-0.9zM264.5 217.4h0.9v0.9h-0.9zM262.2 224.3h0.9v0.9h-0.9zM266.4 212.7h0.9v0.9h-0.9zM263.1 224.5h0.9v0.9h-0.9zM261.8 217.3h0.9v0.9h-0.9zM265.6 213.6h0.9v0.9h-0.9zM259.4 214.4h0.9v0.9h-0.9zM263.8 218.3h0.9v0.9h-0.9zM265.1 213.7h0.9v0.9h-0.9zM265.3 215.9h0.9v0.9h-0.9zM263.4 213.8h0.9v0.9h-0.9zM262.1 216.5h0.9v0.9h-0.9zM259.7 211.0h0.9v0.9h-0.9zM262.8 207.5h0.9v0.9h-0.9zM261.5 205.2h0.9v0.9h-0.9zM260.8 216.0h0.9v0.9h-0.9zM264.4 213.4h0.9v0.9h-0.9zM262.1 207.6h0.9v0.9h-0.9zM268.1 215.8h0.9v0.9h-0.9zM266.0 209.9h0.9v0.9h-0.9zM262.3 206.0h0.9v0.9h-0.9zM265.1 217.5h0.9v0.9h-0.9zM257.3 213.4h0.9v0.9h-0.9zM264.6 206.2h0.9v0.9h-0.9zM257.5 209.1h0.9v0.9h-0.9zM261.0 207.7h0.9v0.9h-0.9zM262.9 214.6h0.9v0.9h-0.9zM264.6 216.5h0.9v0.9h-0.9zM267.2 218.5h0.9v0.9h-0.9zM259.0 211.5h0.9v0.9h-0.9zM259.7 209.1h0.9v0.9h-0.9zM262.6 213.6h0.9v0.9h-0.9zM264.2 206.9h0.9v0.9h-0.9zM259.2 213.5h0.9v0.9h-0.9zM262.2 212.3h0.9v0.9h-0.9zM262.6 210.4h0.9v0.9h-0.9zM264.8 215.1h0.9v0.9h-0.9zM262.5 210.8h0.9v0.9h-0.9zM262.3 202.2h0.9v0.9h-0.9zM260.0 213.8h0.9v0.9h-0.9zM258.4 214.4h0.9v0.9h-0.9zM263.2 207.8h0.9v0.9h-0.9zM262.1 212.3h0.9v0.9h-0.9zM264.1 216.2h0.9v0.9h-0.9zM262.7 210.0h0.9v0.9h-0.9zM262.4 213.3h0.9v0.9h-0.9zM264.9 214.8h0.9v0.9h-0.9zM260.7 207.9h0.9v0.9h-0.9zM261.7 210.5h0.9v0.9h-0.9zM259.6 213.1h0.9v0.9h-0.9zM261.4 214.0h0.9v0.9h-0.9zM264.3 211.9h0.9v0.9h-0.9zM269.5 212.2h0.9v0.9h-0.9zM266.0 214.1h0.9v0.9h-0.9zM266.0 203.6h0.9v0.9h-0.9zM260.6 214.6h0.9v0.9h-0.9zM264.5 223.4h0.9v0.9h-0.9zM263.7 219.0h0.9v0.9h-0.9zM265.0 217.6h0.9v0.9h-0.9zM264.3 212.9h0.9v0.9h-0.9zM264.3 209.1h0.9v0.9h-0.9zM266.2 209.3h0.9v0.9h-0.9zM263.5 222.5h0.9v0.9h-0.9zM262.2 213.7h0.9v0.9h-0.9zM266.2 213.7h0.9v0.9h-0.9zM260.5 214.7h0.9v0.9h-0.9zM264.5 216.6h0.9v0.9h-0.9zM260.6 221.0h0.9v0.9h-0.9zM267.6 213.7h0.9v0.9h-0.9zM263.6 211.8h0.9v0.9h-0.9zM266.9 210.6h0.9v0.9h-0.9zM264.8 211.6h0.9v0.9h-0.9zM260.8 216.6h0.9v0.9h-0.9zM266.7 213.6h0.9v0.9h-0.9zM260.8 217.0h0.9v0.9h-0.9zM262.7 214.9h0.9v0.9h-0.9zM267.2 218.4h0.9v0.9h-0.9zM261.3 223.2h0.9v0.9h-0.9zM262.8 216.9h0.9v0.9h-0.9zM260.9 213.4h0.9v0.9h-0.9zM257.7 221.1h0.9v0.9h-0.9zM266.8 208.5h0.9v0.9h-0.9zM258.4 206.8h0.9v0.9h-0.9zM266.2 211.7h0.9v0.9h-0.9zM262.6 212.3h0.9v0.9h-0.9zM262.4 209.0h0.9v0.9h-0.9zM262.9 207.6h0.9v0.9h-0.9zM262.6 214.9h0.9v0.9h-0.9zM264.2 212.6h0.9v0.9h-0.9zM260.2 214.3h0.9v0.9h-0.9zM261.4 220.2h0.9v0.9h-0.9zM265.0 213.1h0.9v0.9h-0.9zM261.4 210.6h0.9v0.9h-0.9zM260.1 212.1h0.9v0.9h-0.9zM263.7 215.8h0.9v0.9h-0.9zM264.4 222.4h0.9v0.9h-0.9zM260.8 213.7h0.9v0.9h-0.9zM270.9 205.8h0.9v0.9h-0.9zM261.3 214.3h0.9v0.9h-0.9zM263.2 215.3h0.9v0.9h-0.9zM262.1 215.1h0.9v0.9h-0.9zM263.0 216.8h0.9v0.9h-0.9zM257.3 209.9h0.9v0.9h-0.9zM262.8 209.3h0.9v0.9h-0.9zM259.8 216.2h0.9v0.9h-0.9zM260.9 216.3h0.9v0.9h-0.9zM265.0 214.9h0.9v0.9h-0.9zM264.3 213.2h0.9v0.9h-0.9zM258.7 213.5h0.9v0.9h-0.9zM264.1 211.4h0.9v0.9h-0.9zM262.5 216.7h0.9v0.9h-0.9zM260.3 216.3h0.9v0.9h-0.9zM268.2 211.3h0.9v0.9h-0.9zM263.2 213.0h0.9v0.9h-0.9zM267.3 214.9h0.9v0.9h-0.9zM265.4 210.7h0.9v0.9h-0.9zM262.8 213.6h0.9v0.9h-0.9zM257.6 219.7h0.9v0.9h-0.9zM265.4 206.3h0.9v0.9h-0.9zM265.0 213.0h0.9v0.9h-0.9zM264.1 215.1h0.9v0.9h-0.9zM258.5 212.7h0.9v0.9h-0.9zM267.1 211.2h0.9v0.9h-0.9zM259.8 207.9h0.9v0.9h-0.9zM259.3 215.0h0.9v0.9h-0.9zM267.7 215.4h0.9v0.9h-0.9zM263.5 223.0h0.9v0.9h-0.9zM261.3 210.8h0.9v0.9h-0.9zM264.3 215.9h0.9v0.9h-0.9zM259.9 208.7h0.9v0.9h-0.9zM263.6 214.6h0.9v0.9h-0.9zM259.0 212.8h0.9v0.9h-0.9zM261.2 215.5h0.9v0.9h-0.9zM262.5 213.2h0.9v0.9h-0.9zM261.8 218.0h0.9v0.9h-0.9zM266.8 212.1h0.9v0.9h-0.9zM265.3 210.4h0.9v0.9h-0.9zM263.0 216.7h0.9v0.9h-0.9zM267.2 212.0h0.9v0.9h-0.9zM262.6 214.4h0.9v0.9h-0.9zM258.5 213.7h0.9v0.9h-0.9zM260.8 215.2h0.9v0.9h-0.9zM259.5 205.3h0.9v0.9h-0.9zM262.9 214.7h0.9v0.9h-0.9zM261.2 217.3h0.9v0.9h-0.9zM262.0 211.1h0.9v0.9h-0.9zM264.2 207.0h0.9v0.9h-0.9zM260.8 213.5h0.9v0.9h-0.9zM265.3 212.9h0.9v0.9h-0.9zM263.7 210.8h0.9v0.9h-0.9zM263.7 220.6h0.9v0.9h-0.9zM260.8 223.5h0.9v0.9h-0.9zM260.9 213.7h0.9v0.9h-0.9zM263.3 217.9h0.9v0.9h-0.9zM259.2 204.8h0.9v0.9h-0.9zM264.6 216.9h0.9v0.9h-0.9zM264.6 224.6h0.9v0.9h-0.9zM263.4 214.7h0.9v0.9h-0.9zM265.5 215.1h0.9v0.9h-0.9zM267.6 208.4h0.9v0.9h-0.9zM261.7 199.1h0.9v0.9h-0.9zM265.2 212.0h0.9v0.9h-0.9zM265.5 222.6h0.9v0.9h-0.9zM262.8 212.5h0.9v0.9h-0.9zM261.4 210.1h0.9v0.9h-0.9zM261.0 216.3h0.9v0.9h-0.9zM262.9 213.9h0.9v0.9h-0.9zM262.3 217.4h0.9v0.9h-0.9zM264.2 213.0h0.9v0.9h-0.9zM264.7 213.0h0.9v0.9h-0.9zM259.5 219.7h0.9v0.9h-0.9zM264.1 209.6h0.9v0.9h-0.9zM265.9 215.0h0.9v0.9h-0.9zM258.3 220.4h0.9v0.9h-0.9zM263.8 217.3h0.9v0.9h-0.9zM263.4 213.0h0.9v0.9h-0.9zM258.3 217.7h0.9v0.9h-0.9zM262.9 212.4h0.9v0.9h-0.9zM263.8 213.9h0.9v0.9h-0.9zM264.8 212.0h0.9v0.9h-0.9zM262.7 204.6h0.9v0.9h-0.9zM261.6 216.4h0.9v0.9h-0.9zM266.7 212.1h0.9v0.9h-0.9zM262.4 220.3h0.9v0.9h-0.9zM261.9 216.7h0.9v0.9h-0.9zM267.7 213.8h0.9v0.9h-0.9zM266.4 210.6h0.9v0.9h-0.9zM263.4 213.3h0.9v0.9h-0.9zM263.1 218.3h0.9v0.9h-0.9zM269.7 210.8h0.9v0.9h-0.9zM261.1 215.7h0.9v0.9h-0.9zM259.7 215.7h0.9v0.9h-0.9zM264.5 212.4h0.9v0.9h-0.9zM264.3 207.1h0.9v0.9h-0.9zM265.0 207.1h0.9v0.9h-0.9zM260.8 211.3h0.9v0.9h-0.9zM261.6 217.2h0.9v0.9h-0.9zM263.0 211.9h0.9v0.9h-0.9zM264.4 220.2h0.9v0.9h-0.9zM262.8 215.1h0.9v0.9h-0.9zM266.4 214.7h0.9v0.9h-0.9zM259.1 224.1h0.9v0.9h-0.9zM269.2 205.3h0.9v0.9h-0.9zM262.7 215.4h0.9v0.9h-0.9zM265.6 216.4h0.9v0.9h-0.9zM262.0 209.2h0.9v0.9h-0.9zM263.1 217.9h0.9v0.9h-0.9zM259.6 209.3h0.9v0.9h-0.9zM262.7 205.5h0.9v0.9h-0.9zM262.0 211.8h0.9v0.9h-0.9zM264.1 210.7h0.9v0.9h-0.9zM260.2 211.9h0.9v0.9h-0.9zM262.7 210.8h0.9v0.9h-0.9zM262.8 216.8h0.9v0.9h-0.9zM266.2 220.8h0.9v0.9h-0.9zM260.5 211.8h0.9v0.9h-0.9zM260.7 213.5h0.9v0.9h-0.9zM264.3 207.9h0.9v0.9h-0.9zM264.1 213.5h0.9v0.9h-0.9zM257.5 214.8h0.9v0.9h-0.9zM266.3 205.8h0.9v0.9h-0.9zM265.1 214.5h0.9v0.9h-0.9zM264.2 215.5h0.9v0.9h-0.9zM266.6 212.7h0.9v0.9h-0.9zM265.3 211.9h0.9v0.9h-0.9zM264.9 210.2h0.9v0.9h-0.9zM262.5 220.9h0.9v0.9h-0.9zM264.1 212.9h0.9v0.9h-0.9zM259.5 210.3h0.9v0.9h-0.9zM263.4 217.5h0.9v0.9h-0.9zM264.0 215.8h0.9v0.9h-0.9zM262.7 219.3h0.9v0.9h-0.9zM261.7 211.3h0.9v0.9h-0.9zM265.4 213.9h0.9v0.9h-0.9zM262.0 211.2h0.9v0.9h-0.9zM262.1 216.2h0.9v0.9h-0.9zM263.8 208.5h0.9v0.9h-0.9zM264.0 214.4h0.9v0.9h-0.9zM259.9 216.8h0.9v0.9h-0.9zM262.0 212.2h0.9v0.9h-0.9zM265.1 219.1h0.9v0.9h-0.9zM260.8 215.4h0.9v0.9h-0.9zM260.3 223.3h0.9v0.9h-0.9zM261.4 218.6h0.9v0.9h-0.9zM260.9 217.0h0.9v0.9h-0.9zM269.2 202.9h0.9v0.9h-0.9zM261.5 215.7h0.9v0.9h-0.9zM262.5 210.8h0.9v0.9h-0.9zM269.0 213.9h0.9v0.9h-0.9zM258.0 217.2h0.9v0.9h-0.9zM257.8 218.4h0.9v0.9h-0.9zM261.1 214.2h0.9v0.9h-0.9zM266.5 214.1h0.9v0.9h-0.9zM258.8 206.5h0.9v0.9h-0.9zM266.2 216.7h0.9v0.9h-0.9zM260.4 217.2h0.9v0.9h-0.9zM264.2 216.3h0.9v0.9h-0.9zM265.4 216.7h0.9v0.9h-0.9zM265.4 203.3h0.9v0.9h-0.9zM263.3 215.7h0.9v0.9h-0.9zM270.2 209.6h0.9v0.9h-0.9zM261.8 213.8h0.9v0.9h-0.9zM265.4 211.7h0.9v0.9h-0.9zM266.1 210.3h0.9v0.9h-0.9zM263.6 211.4h0.9v0.9h-0.9zM263.3 210.7h0.9v0.9h-0.9zM258.2 218.2h0.9v0.9h-0.9zM263.7 211.3h0.9v0.9h-0.9zM263.4 217.8h0.9v0.9h-0.9zM260.0 213.1h0.9v0.9h-0.9zM264.4 215.8h0.9v0.9h-0.9zM261.8 204.8h0.9v0.9h-0.9zM266.4 215.0h0.9v0.9h-0.9zM262.8 212.4h0.9v0.9h-0.9zM263.6 211.8h0.9v0.9h-0.9zM259.8 210.5h0.9v0.9h-0.9zM261.1 211.0h0.9v0.9h-0.9zM259.4 216.3h0.9v0.9h-0.9zM259.0 216.4h0.9v0.9h-0.9zM259.9 215.1h0.9v0.9h-0.9zM266.8 214.5h0.9v0.9h-0.9zM260.7 213.8h0.9v0.9h-0.9zM263.2 206.3h0.9v0.9h-0.9zM261.0 214.3h0.9v0.9h-0.9zM261.4 213.9h0.9v0.9h-0.9zM264.9 216.8h0.9v0.9h-0.9zM265.4 216.1h0.9v0.9h-0.9zM262.0 213.5h0.9v0.9h-0.9zM262.0 212.3h0.9v0.9h-0.9zM262.3 206.4h0.9v0.9h-0.9zM261.8 213.5h0.9v0.9h-0.9zM260.0 213.5h0.9v0.9h-0.9zM264.3 212.9h0.9v0.9h-0.9zM268.8 202.7h0.9v0.9h-0.9zM262.2 205.9h0.9v0.9h-0.9zM265.6 224.7h0.9v0.9h-0.9zM264.3 212.3h0.9v0.9h-0.9zM264.4 204.2h0.9v0.9h-0.9zM265.3 215.2h0.9v0.9h-0.9zM262.9 211.1h0.9v0.9h-0.9zM264.7 211.6h0.9v0.9h-0.9zM263.4 211.5h0.9v0.9h-0.9zM263.4 216.8h0.9v0.9h-0.9zM260.3 213.5h0.9v0.9h-0.9zM264.6 214.2h0.9v0.9h-0.9zM266.4 222.0h0.9v0.9h-0.9zM260.2 205.5h0.9v0.9h-0.9zM265.3 220.0h0.9v0.9h-0.9zM265.5 217.0h0.9v0.9h-0.9zM261.0 210.6h0.9v0.9h-0.9zM265.4 209.8h0.9v0.9h-0.9zM257.5 209.4h0.9v0.9h-0.9zM270.0 221.7h0.9v0.9h-0.9zM260.8 210.5h0.9v0.9h-0.9zM263.5 210.5h0.9v0.9h-0.9zM266.6 213.3h0.9v0.9h-0.9zM259.6 219.1h0.9v0.9h-0.9zM261.1 214.5h0.9v0.9h-0.9zM262.8 212.3h0.9v0.9h-0.9zM263.7 210.7h0.9v0.9h-0.9zM257.5 204.3h0.9v0.9h-0.9zM259.1 210.4h0.9v0.9h-0.9zM262.7 213.8h0.9v0.9h-0.9zM264.4 214.1h0.9v0.9h-0.9zM260.5 210.6h0.9v0.9h-0.9zM264.2 215.8h0.9v0.9h-0.9zM262.4 212.9h0.9v0.9h-0.9zM265.5 213.7h0.9v0.9h-0.9zM264.9 216.0h0.9v0.9h-0.9zM263.4 219.1h0.9v0.9h-0.9zM261.1 212.1h0.9v0.9h-0.9zM260.5 210.3h0.9v0.9h-0.9zM267.3 221.0h0.9v0.9h-0.9zM262.9 216.0h0.9v0.9h-0.9zM266.2 217.0h0.9v0.9h-0.9zM266.3 208.3h0.9v0.9h-0.9zM260.9 215.5h0.9v0.9h-0.9zM267.0 214.0h0.9v0.9h-0.9zM260.3 212.1h0.9v0.9h-0.9zM260.9 210.0h0.9v0.9h-0.9zM267.2 211.0h0.9v0.9h-0.9zM262.9 222.7h0.9v0.9h-0.9zM266.2 215.0h0.9v0.9h-0.9zM261.0 215.3h0.9v0.9h-0.9zM267.5 216.2h0.9v0.9h-0.9zM266.5 214.0h0.9v0.9h-0.9zM264.3 212.8h0.9v0.9h-0.9zM264.0 219.1h0.9v0.9h-0.9zM258.6 213.3h0.9v0.9h-0.9zM263.5 211.2h0.9v0.9h-0.9zM261.9 216.9h0.9v0.9h-0.9zM268.6 216.2h0.9v0.9h-0.9zM263.7 207.1h0.9v0.9h-0.9zM268.4 213.9h0.9v0.9h-0.9zM262.7 208.9h0.9v0.9h-0.9zM262.6 209.0h0.9v0.9h-0.9zM263.0 215.6h0.9v0.9h-0.9zM262.9 214.8h0.9v0.9h-0.9zM260.3 219.6h0.9v0.9h-0.9zM260.9 206.0h0.9v0.9h-0.9zM262.3 210.4h0.9v0.9h-0.9zM259.9 212.1h0.9v0.9h-0.9zM263.6 208.6h0.9v0.9h-0.9zM262.4 219.6h0.9v0.9h-0.9zM264.8 213.0h0.9v0.9h-0.9zM263.2 213.1h0.9v0.9h-0.9zM262.7 216.7h0.9v0.9h-0.9zM262.5 203.5h0.9v0.9h-0.9zM262.7 209.9h0.9v0.9h-0.9zM264.7 211.0h0.9v0.9h-0.9zM263.2 222.7h0.9v0.9h-0.9zM259.8 208.9h0.9v0.9h-0.9zM258.7 203.5h0.9v0.9h-0.9zM257.4 215.1h0.9v0.9h-0.9zM260.9 205.8h0.9v0.9h-0.9zM258.5 216.2h0.9v0.9h-0.9zM260.6 212.1h0.9v0.9h-0.9zM263.8 219.3h0.9v0.9h-0.9zM268.4 217.9h0.9v0.9h-0.9zM263.2 214.4h0.9v0.9h-0.9zM268.0 219.6h0.9v0.9h-0.9zM261.9 215.5h0.9v0.9h-0.9zM263.6 213.8h0.9v0.9h-0.9zM261.3 208.0h0.9v0.9h-0.9zM261.3 207.1h0.9v0.9h-0.9zM266.3 215.9h0.9v0.9h-0.9zM259.3 219.5h0.9v0.9h-0.9zM265.4 205.6h0.9v0.9h-0.9zM268.1 217.0h0.9v0.9h-0.9zM268.8 208.4h0.9v0.9h-0.9zM264.3 215.4h0.9v0.9h-0.9zM263.4 214.3h0.9v0.9h-0.9zM265.9 207.3h0.9v0.9h-0.9zM259.2 207.7h0.9v0.9h-0.9zM261.2 211.1h0.9v0.9h-0.9zM263.9 214.7h0.9v0.9h-0.9zM262.9 210.8h0.9v0.9h-0.9zM261.5 217.6h0.9v0.9h-0.9zM265.0 214.0h0.9v0.9h-0.9zM261.9 220.1h0.9v0.9h-0.9zM261.1 216.3h0.9v0.9h-0.9zM266.1 212.5h0.9v0.9h-0.9zM265.2 208.9h0.9v0.9h-0.9zM265.7 214.4h0.9v0.9h-0.9zM258.2 216.4h0.9v0.9h-0.9zM260.2 219.0h0.9v0.9h-0.9zM260.8 212.9h0.9v0.9h-0.9zM263.6 212.2h0.9v0.9h-0.9zM263.6 211.3h0.9v0.9h-0.9zM264.7 213.6h0.9v0.9h-0.9zM263.4 202.0h0.9v0.9h-0.9zM266.2 213.7h0.9v0.9h-0.9zM257.6 214.0h0.9v0.9h-0.9zM264.2 218.1h0.9v0.9h-0.9zM259.7 220.1h0.9v0.9h-0.9zM262.3 223.7h0.9v0.9h-0.9zM262.4 216.5h0.9v0.9h-0.9zM261.7 208.9h0.9v0.9h-0.9zM266.0 217.4h0.9v0.9h-0.9zM267.3 217.2h0.9v0.9h-0.9zM261.1 206.6h0.9v0.9h-0.9zM260.9 210.8h0.9v0.9h-0.9zM260.4 216.0h0.9v0.9h-0.9zM263.8 212.5h0.9v0.9h-0.9zM263.3 213.0h0.9v0.9h-0.9zM263.4 216.8h0.9v0.9h-0.9zM265.6 210.7h0.9v0.9h-0.9zM258.4 219.6h0.9v0.9h-0.9zM263.1 218.2h0.9v0.9h-0.9zM258.0 212.2h0.9v0.9h-0.9zM262.9 207.5h0.9v0.9h-0.9zM261.3 216.6h0.9v0.9h-0.9zM265.9 220.3h0.9v0.9h-0.9zM260.3 207.7h0.9v0.9h-0.9zM264.3 217.5h0.9v0.9h-0.9zM263.4 208.1h0.9v0.9h-0.9zM265.1 216.9h0.9v0.9h-0.9zM264.4 211.6h0.9v0.9h-0.9zM263.7 216.9h0.9v0.9h-0.9zM261.2 205.9h0.9v0.9h-0.9zM263.8 215.6h0.9v0.9h-0.9zM262.8 217.3h0.9v0.9h-0.9zM261.1 213.3h0.9v0.9h-0.9zM261.9 216.0h0.9v0.9h-0.9zM267.4 212.5h0.9v0.9h-0.9zM268.8 220.0h0.9v0.9h-0.9zM265.1 216.1h0.9v0.9h-0.9zM267.9 212.8h0.9v0.9h-0.9zM262.5 209.1h0.9v0.9h-0.9zM264.2 219.2h0.9v0.9h-0.9zM264.3 215.4h0.9v0.9h-0.9zM262.2 214.3h0.9v0.9h-0.9zM258.7 218.0h0.9v0.9h-0.9zM261.6 209.0h0.9v0.9h-0.9zM260.6 210.1h0.9v0.9h-0.9zM265.3 218.0h0.9v0.9h-0.9zM258.9 217.5h0.9v0.9h-0.9zM265.4 211.2h0.9v0.9h-0.9zM258.5 210.5h0.9v0.9h-0.9zM261.0 215.0h0.9v0.9h-0.9zM261.8 205.1h0.9v0.9h-0.9zM263.5 207.2h0.9v0.9h-0.9zM265.4 208.5h0.9v0.9h-0.9zM260.8 210.0h0.9v0.9h-0.9zM261.2 219.1h0.9v0.9h-0.9zM265.3 216.1h0.9v0.9h-0.9zM263.7 207.1h0.9v0.9h-0.9zM261.3 211.3h0.9v0.9h-0.9zM260.0 215.7h0.9v0.9h-0.9zM260.7 210.6h0.9v0.9h-0.9zM259.8 205.0h0.9v0.9h-0.9zM264.5 219.2h0.9v0.9h-0.9zM263.3 209.5h0.9v0.9h-0.9zM266.3 214.8h0.9v0.9h-0.9zM265.5 219.8h0.9v0.9h-0.9zM266.1 211.7h0.9v0.9h-0.9zM265.9 216.9h0.9v0.9h-0.9zM258.3 211.9h0.9v0.9h-0.9zM258.7 213.1h0.9v0.9h-0.9zM264.5 209.1h0.9v0.9h-0.9zM263.9 219.8h0.9v0.9h-0.9zM259.0 218.1h0.9v0.9h-0.9zM268.8 222.0h0.9v0.9h-0.9zM262.2 214.7h0.9v0.9h-0.9zM262.4 217.8h0.9v0.9h-0.9zM265.8 214.0h0.9v0.9h-0.9zM258.9 216.7h0.9v0.9h-0.9zM261.4 216.2h0.9v0.9h-0.9zM263.6 220.4h0.9v0.9h-0.9zM266.1 211.7h0.9v0.9h-0.9zM263.8 221.0h0.9v0.9h-0.9zM261.2 215.4h0.9v0.9h-0.9zM266.3 218.9h0.9v0.9h-0.9zM264.3 208.1h0.9v0.9h-0.9zM259.1 214.6h0.9v0.9h-0.9zM263.9 224.3h0.9v0.9h-0.9zM260.3 218.4h0.9v0.9h-0.9zM265.0 206.6h0.9v0.9h-0.9zM260.4 214.3h0.9v0.9h-0.9zM261.4 213.0h0.9v0.9h-0.9zM264.2 210.2h0.9v0.9h-0.9zM264.2 210.9h0.9v0.9h-0.9zM261.2 215.9h0.9v0.9h-0.9zM261.1 214.8h0.9v0.9h-0.9zM267.4 213.7h0.9v0.9h-0.9zM262.4 216.7h0.9v0.9h-0.9zM261.7 218.1h0.9v0.9h-0.9zM259.1 216.2h0.9v0.9h-0.9zM261.3 210.2h0.9v0.9h-0.9zM267.9 210.0h0.9v0.9h-0.9zM267.9 216.4h0.9v0.9h-0.9zM267.0 209.5h0.9v0.9h-0.9zM266.3 219.7h0.9v0.9h-0.9zM262.5 213.1h0.9v0.9h-0.9zM269.9 214.3h0.9v0.9h-0.9zM261.6 211.0h0.9v0.9h-0.9zM264.1 215.0h0.9v0.9h-0.9zM263.3 220.8h0.9v0.9h-0.9zM261.8 215.6h0.9v0.9h-0.9zM267.0 209.4h0.9v0.9h-0.9zM265.8 221.3h0.9v0.9h-0.9zM258.9 209.0h0.9v0.9h-0.9zM259.8 205.8h0.9v0.9h-0.9zM264.1 205.8h0.9v0.9h-0.9zM264.2 219.7h0.9v0.9h-0.9zM258.1 212.3h0.9v0.9h-0.9zM257.2 216.9h0.9v0.9h-0.9zM260.7 212.5h0.9v0.9h-0.9zM263.0 215.9h0.9v0.9h-0.9zM261.8 213.7h0.9v0.9h-0.9zM261.2 214.1h0.9v0.9h-0.9zM259.4 213.9h0.9v0.9h-0.9zM257.2 211.5h0.9v0.9h-0.9zM268.4 213.9h0.9v0.9h-0.9zM259.1 214.7h0.9v0.9h-0.9zM260.0 206.7h0.9v0.9h-0.9zM260.7 216.7h0.9v0.9h-0.9zM263.9 213.2h0.9v0.9h-0.9zM260.1 209.1h0.9v0.9h-0.9zM266.7 214.6h0.9v0.9h-0.9zM260.0 204.7h0.9v0.9h-0.9zM258.8 224.0h0.9v0.9h-0.9zM259.5 213.3h0.9v0.9h-0.9zM263.4 212.9h0.9v0.9h-0.9zM262.0 207.8h0.9v0.9h-0.9zM259.8 220.7h0.9v0.9h-0.9zM260.6 217.2h0.9v0.9h-0.9zM257.9 212.4h0.9v0.9h-0.9zM263.6 218.0h0.9v0.9h-0.9zM259.5 216.1h0.9v0.9h-0.9zM263.9 210.5h0.9v0.9h-0.9zM264.2 209.8h0.9v0.9h-0.9zM260.5 213.5h0.9v0.9h-0.9zM259.9 207.5h0.9v0.9h-0.9zM261.6 216.8h0.9v0.9h-0.9zM261.6 218.9h0.9v0.9h-0.9zM259.4 208.1h0.9v0.9h-0.9zM267.3 215.3h0.9v0.9h-0.9zM265.5 210.1h0.9v0.9h-0.9zM265.1 214.7h0.9v0.9h-0.9zM264.7 213.7h0.9v0.9h-0.9zM266.3 210.9h0.9v0.9h-0.9zM260.0 207.4h0.9v0.9h-0.9zM266.2 210.5h0.9v0.9h-0.9zM259.8 209.7h0.9v0.9h-0.9zM261.5 208.3h0.9v0.9h-0.9zM262.0 211.0h0.9v0.9h-0.9zM261.2 209.6h0.9v0.9h-0.9zM262.9 211.7h0.9v0.9h-0.9zM263.1 214.6h0.9v0.9h-0.9zM263.8 204.4h0.9v0.9h-0.9zM261.2 210.3h0.9v0.9h-0.9zM265.0 207.0h0.9v0.9h-0.9zM260.7 212.4h0.9v0.9h-0.9zM261.8 217.8h0.9v0.9h-0.9zM261.5 217.7h0.9v0.9h-0.9zM258.5 206.0h0.9v0.9h-0.9zM266.3 215.4h0.9v0.9h-0.9zM264.2 214.1h0.9v0.9h-0.9zM264.2 208.5h0.9v0.9h-0.9zM265.6 211.4h0.9v0.9h-0.9zM265.7 214.0h0.9v0.9h-0.9zM257.1 208.2h0.9v0.9h-0.9zM266.1 213.0h0.9v0.9h-0.9zM261.7 214.6h0.9v0.9h-0.9zM261.6 211.3h0.9v0.9h-0.9zM263.1 214.2h0.9v0.9h-0.9zM267.2 213.8h0.9v0.9h-0.9zM268.3 221.2h0.9v0.9h-0.9zM267.8 218.1h0.9v0.9h-0.9zM263.2 214.2h0.9v0.9h-0.9zM262.4 210.5h0.9v0.9h-0.9zM262.6 210.9h0.9v0.9h-0.9zM267.6 215.8h0.9v0.9h-0.9zM261.5 205.6h0.9v0.9h-0.9zM262.6 211.9h0.9v0.9h-0.9zM259.7 208.8h0.9v0.9h-0.9zM262.6 224.4h0.9v0.9h-0.9zM262.7 213.0h0.9v0.9h-0.9zM267.0 214.2h0.9v0.9h-0.9zM263.3 212.0h0.9v0.9h-0.9zM261.0 219.9h0.9v0.9h-0.9zM265.7 220.8h0.9v0.9h-0.9zM261.8 213.7h0.9v0.9h-0.9zM260.2 217.7h0.9v0.9h-0.9zM258.8 216.0h0.9v0.9h-0.9zM266.0 219.5h0.9v0.9h-0.9zM260.1 218.2h0.9v0.9h-0.9zM260.7 210.4h0.9v0.9h-0.9zM259.0 218.5h0.9v0.9h-0.9zM267.6 211.1h0.9v0.9h-0.9zM260.6 212.2h0.9v0.9h-0.9zM270.1 217.8h0.9v0.9h-0.9zM261.2 206.1h0.9v0.9h-0.9zM260.8 218.6h0.9v0.9h-0.9zM268.2 212.5h0.9v0.9h-0.9zM260.8 211.5h0.9v0.9h-0.9zM257.3 217.4h0.9v0.9h-0.9zM259.7 218.1h0.9v0.9h-0.9zM257.8 208.3h0.9v0.9h-0.9zM263.6 210.4h0.9v0.9h-0.9zM265.1 213.6h0.9v0.9h-0.9zM259.4 216.2h0.9v0.9h-0.9zM265.2 205.6h0.9v0.9h-0.9zM268.1 215.7h0.9v0.9h-0.9zM265.0 205.8h0.9v0.9h-0.9zM260.7 212.1h0.9v0.9h-0.9zM265.9 207.5h0.9v0.9h-0.9zM260.2 205.1h0.9v0.9h-0.9zM262.1 215.1h0.9v0.9h-0.9zM257.9 211.1h0.9v0.9h-0.9zM264.3 220.3h0.9v0.9h-0.9zM264.7 212.3h0.9v0.9h-0.9zM259.4 209.7h0.9v0.9h-0.9zM260.9 214.2h0.9v0.9h-0.9zM262.7 220.6h0.9v0.9h-0.9zM263.6 209.1h0.9v0.9h-0.9zM267.3 217.6h0.9v0.9h-0.9zM263.1 210.6h0.9v0.9h-0.9zM257.4 209.3h0.9v0.9h-0.9zM265.4 210.2h0.9v0.9h-0.9zM259.0 214.4h0.9v0.9h-0.9zM263.5 216.1h0.9v0.9h-0.9zM264.7 219.5h0.9v0.9h-0.9zM260.4 217.7h0.9v0.9h-0.9zM259.9 216.5h0.9v0.9h-0.9zM263.3 214.6h0.9v0.9h-0.9zM265.6 213.5h0.9v0.9h-0.9zM266.0 217.3h0.9v0.9h-0.9zM263.2 211.2h0.9v0.9h-0.9zM260.6 211.4h0.9v0.9h-0.9zM262.2 213.5h0.9v0.9h-0.9zM271.4 216.3h0.9v0.9h-0.9zM265.0 210.0h0.9v0.9h-0.9zM260.7 212.3h0.9v0.9h-0.9zM263.4 209.2h0.9v0.9h-0.9zM267.5 211.2h0.9v0.9h-0.9zM265.9 203.8h0.9v0.9h-0.9zM262.8 214.8h0.9v0.9h-0.9zM263.4 216.1h0.9v0.9h-0.9zM263.6 214.3h0.9v0.9h-0.9zM257.3 210.6h0.9v0.9h-0.9zM263.7 212.8h0.9v0.9h-0.9zM260.4 211.2h0.9v0.9h-0.9zM268.2 220.9h0.9v0.9h-0.9zM262.6 219.0h0.9v0.9h-0.9zM258.2 205.5h0.9v0.9h-0.9zM261.4 209.9h0.9v0.9h-0.9zM261.2 214.4h0.9v0.9h-0.9zM271.6 210.8h0.9v0.9h-0.9zM262.9 214.8h0.9v0.9h-0.9zM262.7 217.5h0.9v0.9h-0.9zM267.9 208.4h0.9v0.9h-0.9zM263.3 212.5h0.9v0.9h-0.9zM263.8 207.2h0.9v0.9h-0.9zM257.7 203.9h0.9v0.9h-0.9zM264.3 214.4h0.9v0.9h-0.9zM263.0 203.7h0.9v0.9h-0.9zM261.7 210.4h0.9v0.9h-0.9zM258.7 209.8h0.9v0.9h-0.9zM264.8 215.9h0.9v0.9h-0.9zM262.7 215.8h0.9v0.9h-0.9zM261.0 213.9h0.9v0.9h-0.9zM262.9 215.9h0.9v0.9h-0.9zM262.6 213.0h0.9v0.9h-0.9zM262.4 210.9h0.9v0.9h-0.9zM269.3 215.8h0.9v0.9h-0.9zM264.0 223.2h0.9v0.9h-0.9zM266.9 207.1h0.9v0.9h-0.9zM264.8 217.1h0.9v0.9h-0.9zM268.3 219.1h0.9v0.9h-0.9zM265.0 208.7h0.9v0.9h-0.9zM260.3 214.7h0.9v0.9h-0.9zM264.3 209.3h0.9v0.9h-0.9zM261.7 211.9h0.9v0.9h-0.9zM263.0 215.0h0.9v0.9h-0.9zM262.0 208.4h0.9v0.9h-0.9zM266.4 220.3h0.9v0.9h-0.9zM262.5 217.9h0.9v0.9h-0.9zM264.1 216.4h0.9v0.9h-0.9zM264.2 210.4h0.9v0.9h-0.9zM264.5 217.8h0.9v0.9h-0.9zM260.2 221.9h0.9v0.9h-0.9zM268.9 221.3h0.9v0.9h-0.9zM268.6 216.7h0.9v0.9h-0.9zM261.8 211.1h0.9v0.9h-0.9zM260.4 214.1h0.9v0.9h-0.9zM262.7 216.4h0.9v0.9h-0.9zM256.9 223.3h0.9v0.9h-0.9zM269.4 213.5h0.9v0.9h-0.9zM264.8 215.6h0.9v0.9h-0.9zM263.6 212.7h0.9v0.9h-0.9zM262.4 210.1h0.9v0.9h-0.9zM263.3 213.5h0.9v0.9h-0.9zM263.7 210.0h0.9v0.9h-0.9zM262.9 213.8h0.9v0.9h-0.9zM264.6 209.1h0.9v0.9h-0.9zM264.0 217.7h0.9v0.9h-0.9zM264.5 212.1h0.9v0.9h-0.9zM261.4 212.6h0.9v0.9h-0.9zM264.9 220.1h0.9v0.9h-0.9zM262.3 210.9h0.9v0.9h-0.9zM263.9 214.5h0.9v0.9h-0.9zM260.2 210.5h0.9v0.9h-0.9zM262.5 216.4h0.9v0.9h-0.9zM259.3 209.3h0.9v0.9h-0.9zM264.2 208.5h0.9v0.9h-0.9zM263.1 215.1h0.9v0.9h-0.9zM262.5 209.3h0.9v0.9h-0.9zM262.6 212.2h0.9v0.9h-0.9zM263.8 210.1h0.9v0.9h-0.9zM266.0 206.6h0.9v0.9h-0.9zM262.3 213.6h0.9v0.9h-0.9zM265.6 211.0h0.9v0.9h-0.9zM264.4 211.2h0.9v0.9h-0.9zM264.9 220.9h0.9v0.9h-0.9zM261.6 215.5h0.9v0.9h-0.9zM260.1 217.7h0.9v0.9h-0.9zM266.3 213.7h0.9v0.9h-0.9zM259.5 215.3h0.9v0.9h-0.9zM266.1 218.2h0.9v0.9h-0.9zM265.2 205.9h0.9v0.9h-0.9zM260.8 219.6h0.9v0.9h-0.9zM259.2 218.4h0.9v0.9h-0.9zM268.3 216.8h0.9v0.9h-0.9zM266.0 212.2h0.9v0.9h-0.9zM259.2 213.2h0.9v0.9h-0.9zM262.2 213.4h0.9v0.9h-0.9zM264.8 213.0h0.9v0.9h-0.9zM263.4 215.4h0.9v0.9h-0.9zM262.8 221.3h0.9v0.9h-0.9zM264.1 214.0h0.9v0.9h-0.9zM262.2 211.0h0.9v0.9h-0.9zM266.7 214.2h0.9v0.9h-0.9zM259.7 211.2h0.9v0.9h-0.9zM262.4 211.7h0.9v0.9h-0.9zM265.9 208.7h0.9v0.9h-0.9zM264.2 214.2h0.9v0.9h-0.9zM259.4 213.8h0.9v0.9h-0.9zM262.5 215.7h0.9v0.9h-0.9zM261.5 214.9h0.9v0.9h-0.9zM258.0 209.0h0.9v0.9h-0.9zM265.1 218.0h0.9v0.9h-0.9zM262.8 211.1h0.9v0.9h-0.9zM265.9 204.8h0.9v0.9h-0.9zM260.5 216.4h0.9v0.9h-0.9zM264.7 209.3h0.9v0.9h-0.9zM257.3 219.7h0.9v0.9h-0.9zM263.2 209.8h0.9v0.9h-0.9zM263.0 217.4h0.9v0.9h-0.9zM264.9 204.9h0.9v0.9h-0.9zM265.0 206.1h0.9v0.9h-0.9zM266.1 215.3h0.9v0.9h-0.9zM269.3 211.0h0.9v0.9h-0.9zM262.8 218.0h0.9v0.9h-0.9zM260.9 210.6h0.9v0.9h-0.9zM261.7 213.3h0.9v0.9h-0.9zM259.7 215.6h0.9v0.9h-0.9zM264.4 213.9h0.9v0.9h-0.9zM267.7 212.2h0.9v0.9h-0.9zM266.6 211.3h0.9v0.9h-0.9zM265.0 205.5h0.9v0.9h-0.9zM263.4 212.9h0.9v0.9h-0.9zM261.4 211.0h0.9v0.9h-0.9zM261.8 210.6h0.9v0.9h-0.9zM261.2 211.4h0.9v0.9h-0.9zM259.7 213.0h0.9v0.9h-0.9zM265.1 212.5h0.9v0.9h-0.9zM261.4 219.3h0.9v0.9h-0.9zM265.6 217.5h0.9v0.9h-0.9zM266.2 212.2h0.9v0.9h-0.9zM262.4 218.3h0.9v0.9h-0.9zM261.2 213.1h0.9v0.9h-0.9zM263.9 215.2h0.9v0.9h-0.9zM262.0 217.7h0.9v0.9h-0.9zM262.3 216.6h0.9v0.9h-0.9zM265.9 216.4h0.9v0.9h-0.9zM264.9 208.7h0.9v0.9h-0.9zM259.0 211.0h0.9v0.9h-0.9zM264.2 219.9h0.9v0.9h-0.9zM259.3 214.9h0.9v0.9h-0.9zM260.3 210.5h0.9v0.9h-0.9zM262.0 216.5h0.9v0.9h-0.9zM263.4 218.6h0.9v0.9h-0.9zM259.9 217.3h0.9v0.9h-0.9zM265.5 213.9h0.9v0.9h-0.9zM264.2 211.2h0.9v0.9h-0.9zM259.6 211.9h0.9v0.9h-0.9zM260.9 225.7h0.9v0.9h-0.9zM261.4 220.5h0.9v0.9h-0.9zM263.4 214.9h0.9v0.9h-0.9zM265.0 210.3h0.9v0.9h-0.9zM265.5 215.2h0.9v0.9h-0.9zM258.4 216.1h0.9v0.9h-0.9zM264.4 215.5h0.9v0.9h-0.9zM267.4 211.9h0.9v0.9h-0.9zM264.3 216.7h0.9v0.9h-0.9zM260.2 218.6h0.9v0.9h-0.9zM258.6 208.1h0.9v0.9h-0.9zM264.3 209.0h0.9v0.9h-0.9zM262.5 206.7h0.9v0.9h-0.9zM263.0 208.8h0.9v0.9h-0.9zM263.8 207.2h0.9v0.9h-0.9zM264.1 212.5h0.9v0.9h-0.9zM263.0 213.3h0.9v0.9h-0.9zM263.2 208.1h0.9v0.9h-0.9zM260.1 211.7h0.9v0.9h-0.9zM264.0 205.3h0.9v0.9h-0.9zM260.6 211.0h0.9v0.9h-0.9zM259.7 215.0h0.9v0.9h-0.9zM262.4 210.2h0.9v0.9h-0.9zM259.9 217.0h0.9v0.9h-0.9zM260.9 216.1h0.9v0.9h-0.9zM264.1 205.6h0.9v0.9h-0.9zM259.7 213.6h0.9v0.9h-0.9zM263.8 216.9h0.9v0.9h-0.9zM265.1 217.9h0.9v0.9h-0.9zM261.7 212.7h0.9v0.9h-0.9zM265.0 211.8h0.9v0.9h-0.9zM265.9 206.9h0.9v0.9h-0.9zM264.7 212.9h0.9v0.9h-0.9zM257.1 217.7h0.9v0.9h-0.9zM263.7 213.7h0.9v0.9h-0.9zM259.7 211.6h0.9v0.9h-0.9zM267.2 210.1h0.9v0.9h-0.9zM259.3 213.0h0.9v0.9h-0.9zM261.7 209.8h0.9v0.9h-0.9zM260.4 218.0h0.9v0.9h-0.9zM258.6 221.8h0.9v0.9h-0.9zM261.2 209.0h0.9v0.9h-0.9zM265.1 216.0h0.9v0.9h-0.9zM259.8 216.7h0.9v0.9h-0.9zM257.5 209.7h0.9v0.9h-0.9zM266.1 212.5h0.9v0.9h-0.9zM259.0 215.8h0.9v0.9h-0.9zM265.5 213.5h0.9v0.9h-0.9zM257.6 212.1h0.9v0.9h-0.9zM264.0 216.8h0.9v0.9h-0.9zM268.2 212.5h0.9v0.9h-0.9zM261.4 213.4h0.9v0.9h-0.9zM266.3 209.6h0.9v0.9h-0.9zM266.6 202.1h0.9v0.9h-0.9zM265.1 210.8h0.9v0.9h-0.9zM264.1 216.5h0.9v0.9h-0.9zM259.4 213.2h0.9v0.9h-0.9zM263.5 216.1h0.9v0.9h-0.9zM260.1 209.4h0.9v0.9h-0.9zM257.2 224.3h0.9v0.9h-0.9zM262.2 212.7h0.9v0.9h-0.9zM258.5 217.5h0.9v0.9h-0.9zM261.2 219.6h0.9v0.9h-0.9zM265.3 213.7h0.9v0.9h-0.9zM264.9 208.9h0.9v0.9h-0.9zM261.9 211.2h0.9v0.9h-0.9zM259.1 213.7h0.9v0.9h-0.9zM262.4 219.6h0.9v0.9h-0.9zM260.1 211.7h0.9v0.9h-0.9zM264.0 215.3h0.9v0.9h-0.9zM262.9 211.6h0.9v0.9h-0.9zM264.2 215.1h0.9v0.9h-0.9zM257.5 212.5h0.9v0.9h-0.9zM258.8 208.6h0.9v0.9h-0.9zM263.2 213.9h0.9v0.9h-0.9zM263.1 209.9h0.9v0.9h-0.9zM262.2 209.8h0.9v0.9h-0.9zM263.9 216.5h0.9v0.9h-0.9zM267.9 218.9h0.9v0.9h-0.9zM260.5 211.7h0.9v0.9h-0.9zM260.1 214.9h0.9v0.9h-0.9zM268.5 216.6h0.9v0.9h-0.9zM259.1 215.8h0.9v0.9h-0.9zM262.8 214.9h0.9v0.9h-0.9zM268.0 210.1h0.9v0.9h-0.9zM260.3 221.9h0.9v0.9h-0.9zM263.8 210.3h0.9v0.9h-0.9zM256.9 207.2h0.9v0.9h-0.9zM262.9 217.8h0.9v0.9h-0.9zM262.4 210.7h0.9v0.9h-0.9zM260.7 221.6h0.9v0.9h-0.9zM257.7 214.3h0.9v0.9h-0.9zM262.9 216.2h0.9v0.9h-0.9zM261.6 215.7h0.9v0.9h-0.9zM265.2 213.0h0.9v0.9h-0.9zM261.5 212.8h0.9v0.9h-0.9zM260.0 212.7h0.9v0.9h-0.9zM261.9 214.5h0.9v0.9h-0.9zM266.7 219.1h0.9v0.9h-0.9zM261.5 216.1h0.9v0.9h-0.9zM263.7 216.8h0.9v0.9h-0.9zM262.9 214.7h0.9v0.9h-0.9zM261.4 210.3h0.9v0.9h-0.9zM265.3 219.1h0.9v0.9h-0.9zM264.7 215.4h0.9v0.9h-0.9zM263.6 211.7h0.9v0.9h-0.9zM257.6 216.4h0.9v0.9h-0.9zM263.4 211.3h0.9v0.9h-0.9zM260.0 219.0h0.9v0.9h-0.9zM257.6 221.0h0.9v0.9h-0.9zM264.7 223.6h0.9v0.9h-0.9zM260.7 213.5h0.9v0.9h-0.9zM261.3 214.3h0.9v0.9h-0.9zM262.2 210.5h0.9v0.9h-0.9zM265.9 210.3h0.9v0.9h-0.9zM261.3 215.9h0.9v0.9h-0.9zM261.2 211.8h0.9v0.9h-0.9zM263.8 212.1h0.9v0.9h-0.9zM259.2 213.2h0.9v0.9h-0.9zM262.2 220.8h0.9v0.9h-0.9zM259.6 217.7h0.9v0.9h-0.9zM260.5 212.1h0.9v0.9h-0.9zM261.9 214.7h0.9v0.9h-0.9zM265.3 220.9h0.9v0.9h-0.9zM261.0 219.2h0.9v0.9h-0.9zM265.7 217.0h0.9v0.9h-0.9zM260.6 217.4h0.9v0.9h-0.9zM262.5 215.1h0.9v0.9h-0.9zM262.0 216.4h0.9v0.9h-0.9zM266.0 218.4h0.9v0.9h-0.9zM262.2 217.8h0.9v0.9h-0.9zM267.0 209.7h0.9v0.9h-0.9zM267.1 208.0h0.9v0.9h-0.9zM264.4 216.1h0.9v0.9h-0.9zM267.1 214.8h0.9v0.9h-0.9zM261.4 210.3h0.9v0.9h-0.9zM259.2 216.8h0.9v0.9h-0.9zM262.1 210.6h0.9v0.9h-0.9zM264.3 210.4h0.9v0.9h-0.9zM261.5 211.7h0.9v0.9h-0.9zM267.6 219.7h0.9v0.9h-0.9zM262.3 207.0h0.9v0.9h-0.9zM263.6 213.9h0.9v0.9h-0.9zM263.8 216.0h0.9v0.9h-0.9zM261.9 217.5h0.9v0.9h-0.9zM265.2 214.5h0.9v0.9h-0.9zM261.6 211.6h0.9v0.9h-0.9zM264.8 209.0h0.9v0.9h-0.9zM262.3 210.5h0.9v0.9h-0.9zM258.8 216.1h0.9v0.9h-0.9zM262.7 213.8h0.9v0.9h-0.9zM265.3 207.3h0.9v0.9h-0.9zM262.6 214.8h0.9v0.9h-0.9zM265.2 209.0h0.9v0.9h-0.9zM264.9 214.5h0.9v0.9h-0.9zM266.7 218.4h0.9v0.9h-0.9zM264.4 222.6h0.9v0.9h-0.9zM262.8 211.8h0.9v0.9h-0.9zM261.8 209.7h0.9v0.9h-0.9zM262.7 205.7h0.9v0.9h-0.9zM262.6 215.4h0.9v0.9h-0.9zM265.7 212.1h0.9v0.9h-0.9zM266.8 210.9h0.9v0.9h-0.9zM262.4 205.7h0.9v0.9h-0.9zM260.6 210.3h0.9v0.9h-0.9zM267.0 215.8h0.9v0.9h-0.9zM259.7 215.8h0.9v0.9h-0.9zM264.2 212.6h0.9v0.9h-0.9zM262.9 212.3h0.9v0.9h-0.9zM261.3 206.3h0.9v0.9h-0.9zM262.5 218.9h0.9v0.9h-0.9zM266.9 212.5h0.9v0.9h-0.9zM260.7 212.7h0.9v0.9h-0.9zM265.3 215.0h0.9v0.9h-0.9zM261.1 215.1h0.9v0.9h-0.9zM262.2 215.7h0.9v0.9h-0.9zM261.6 207.6h0.9v0.9h-0.9zM263.0 216.7h0.9v0.9h-0.9zM259.7 213.2h0.9v0.9h-0.9zM265.3 212.1h0.9v0.9h-0.9zM261.0 221.9h0.9v0.9h-0.9zM265.1 217.8h0.9v0.9h-0.9zM260.1 220.3h0.9v0.9h-0.9zM258.1 211.5h0.9v0.9h-0.9zM264.9 219.0h0.9v0.9h-0.9zM260.2 210.9h0.9v0.9h-0.9zM263.4 205.7h0.9v0.9h-0.9zM264.6 215.9h0.9v0.9h-0.9zM261.5 215.8h0.9v0.9h-0.9zM265.0 214.9h0.9v0.9h-0.9zM264.3 219.8h0.9v0.9h-0.9zM261.5 214.3h0.9v0.9h-0.9zM261.3 217.8h0.9v0.9h-0.9zM261.7 215.5h0.9v0.9h-0.9zM263.2 213.9h0.9v0.9h-0.9zM267.6 213.3h0.9v0.9h-0.9zM266.8 217.0h0.9v0.9h-0.9zM266.5 212.9h0.9v0.9h-0.9zM265.4 216.7h0.9v0.9h-0.9zM261.1 214.7h0.9v0.9h-0.9zM262.4 213.5h0.9v0.9h-0.9zM266.4 210.7h0.9v0.9h-0.9zM258.1 206.5h0.9v0.9h-0.9zM261.5 211.0h0.9v0.9h-0.9zM262.8 215.9h0.9v0.9h-0.9zM267.7 214.9h0.9v0.9h-0.9zM264.1 210.6h0.9v0.9h-0.9zM264.4 219.1h0.9v0.9h-0.9zM266.6 205.7h0.9v0.9h-0.9zM265.3 220.0h0.9v0.9h-0.9zM265.1 207.5h0.9v0.9h-0.9zM261.9 216.0h0.9v0.9h-0.9zM264.0 210.3h0.9v0.9h-0.9zM260.3 217.5h0.9v0.9h-0.9zM259.1 219.4h0.9v0.9h-0.9zM262.9 214.8h0.9v0.9h-0.9zM259.1 211.2h0.9v0.9h-0.9zM264.7 207.7h0.9v0.9h-0.9zM268.6 207.9h0.9v0.9h-0.9zM259.4 213.8h0.9v0.9h-0.9zM264.1 216.6h0.9v0.9h-0.9zM261.8 212.8h0.9v0.9h-0.9zM262.1 211.3h0.9v0.9h-0.9zM263.5 214.2h0.9v0.9h-0.9zM261.0 214.6h0.9v0.9h-0.9zM262.8 213.3h0.9v0.9h-0.9zM265.9 206.6h0.9v0.9h-0.9zM263.5 209.3h0.9v0.9h-0.9zM261.9 219.6h0.9v0.9h-0.9zM259.8 213.2h0.9v0.9h-0.9zM261.2 217.4h0.9v0.9h-0.9zM260.1 206.8h0.9v0.9h-0.9zM264.2 212.2h0.9v0.9h-0.9zM261.9 218.0h0.9v0.9h-0.9zM260.3 212.1h0.9v0.9h-0.9zM263.2 215.3h0.9v0.9h-0.9zM261.4 217.8h0.9v0.9h-0.9zM269.0 212.0h0.9v0.9h-0.9zM268.0 205.1h0.9v0.9h-0.9zM266.7 212.2h0.9v0.9h-0.9zM263.2 212.2h0.9v0.9h-0.9zM261.0 208.4h0.9v0.9h-0.9zM261.7 218.8h0.9v0.9h-0.9zM266.0 212.2h0.9v0.9h-0.9zM261.3 210.8h0.9v0.9h-0.9zM259.5 220.9h0.9v0.9h-0.9zM264.6 214.1h0.9v0.9h-0.9zM261.4 209.5h0.9v0.9h-0.9zM266.5 216.7h0.9v0.9h-0.9zM260.1 217.6h0.9v0.9h-0.9zM259.7 216.2h0.9v0.9h-0.9zM260.1 211.9h0.9v0.9h-0.9zM264.2 215.3h0.9v0.9h-0.9zM265.6 210.2h0.9v0.9h-0.9zM267.2 219.0h0.9v0.9h-0.9zM262.8 215.5h0.9v0.9h-0.9zM260.6 213.0h0.9v0.9h-0.9zM259.1 214.0h0.9v0.9h-0.9zM263.4 219.0h0.9v0.9h-0.9zM265.4 216.9h0.9v0.9h-0.9zM261.8 212.7h0.9v0.9h-0.9zM261.9 214.5h0.9v0.9h-0.9zM257.4 216.7h0.9v0.9h-0.9zM258.4 211.5h0.9v0.9h-0.9zM262.9 211.5h0.9v0.9h-0.9zM267.4 213.2h0.9v0.9h-0.9zM267.2 218.3h0.9v0.9h-0.9zM261.4 215.2h0.9v0.9h-0.9zM266.4 212.3h0.9v0.9h-0.9zM263.0 211.3h0.9v0.9h-0.9zM263.0 212.2h0.9v0.9h-0.9zM263.0 217.6h0.9v0.9h-0.9zM266.7 214.1h0.9v0.9h-0.9zM263.4 217.1h0.9v0.9h-0.9zM262.0 209.3h0.9v0.9h-0.9zM265.9 209.8h0.9v0.9h-0.9zM265.4 209.7h0.9v0.9h-0.9zM267.9 209.4h0.9v0.9h-0.9zM265.2 219.6h0.9v0.9h-0.9zM260.1 219.6h0.9v0.9h-0.9zM260.5 206.5h0.9v0.9h-0.9zM264.8 216.4h0.9v0.9h-0.9zM262.2 203.4h0.9v0.9h-0.9zM262.6 212.4h0.9v0.9h-0.9zM261.7 212.4h0.9v0.9h-0.9zM257.8 211.3h0.9v0.9h-0.9zM267.8 219.8h0.9v0.9h-0.9zM261.8 210.7h0.9v0.9h-0.9zM263.9 217.9h0.9v0.9h-0.9zM264.8 208.9h0.9v0.9h-0.9zM263.3 214.2h0.9v0.9h-0.9zM266.8 218.4h0.9v0.9h-0.9zM264.3 218.5h0.9v0.9h-0.9zM261.7 219.8h0.9v0.9h-0.9zM261.6 215.2h0.9v0.9h-0.9zM265.4 209.9h0.9v0.9h-0.9zM260.8 206.5h0.9v0.9h-0.9zM263.3 213.4h0.9v0.9h-0.9zM261.9 215.6h0.9v0.9h-0.9zM256.9 213.5h0.9v0.9h-0.9zM263.0 212.5h0.9v0.9h-0.9zM265.0 220.7h0.9v0.9h-0.9zM261.6 209.8h0.9v0.9h-0.9zM261.1 214.0h0.9v0.9h-0.9zM264.4 210.1h0.9v0.9h-0.9zM265.6 209.5h0.9v0.9h-0.9zM265.1 215.3h0.9v0.9h-0.9zM264.1 222.3h0.9v0.9h-0.9zM262.1 212.9h0.9v0.9h-0.9zM264.1 217.1h0.9v0.9h-0.9zM259.1 214.7h0.9v0.9h-0.9zM260.7 216.1h0.9v0.9h-0.9zM266.6 213.8h0.9v0.9h-0.9zM262.5 214.3h0.9v0.9h-0.9zM264.4 214.3h0.9v0.9h-0.9zM261.7 210.7h0.9v0.9h-0.9zM262.3 218.5h0.9v0.9h-0.9zM262.5 219.0h0.9v0.9h-0.9zM263.6 213.5h0.9v0.9h-0.9zM258.2 210.9h0.9v0.9h-0.9zM266.3 208.4h0.9v0.9h-0.9zM260.0 209.2h0.9v0.9h-0.9zM261.3 216.2h0.9v0.9h-0.9zM264.5 205.4h0.9v0.9h-0.9zM266.9 211.2h0.9v0.9h-0.9zM261.2 220.3h0.9v0.9h-0.9zM262.6 208.6h0.9v0.9h-0.9zM261.0 210.7h0.9v0.9h-0.9zM260.0 212.3h0.9v0.9h-0.9zM265.2 215.0h0.9v0.9h-0.9zM259.0 224.8h0.9v0.9h-0.9zM260.0 214.1h0.9v0.9h-0.9zM262.9 216.7h0.9v0.9h-0.9zM261.9 215.4h0.9v0.9h-0.9zM268.7 214.0h0.9v0.9h-0.9zM259.8 214.9h0.9v0.9h-0.9zM260.6 212.1h0.9v0.9h-0.9zM263.3 215.0h0.9v0.9h-0.9zM262.0 217.0h0.9v0.9h-0.9zM262.3 208.3h0.9v0.9h-0.9zM265.2 212.1h0.9v0.9h-0.9zM266.2 211.0h0.9v0.9h-0.9zM264.4 214.9h0.9v0.9h-0.9zM259.7 219.3h0.9v0.9h-0.9zM257.5 217.3h0.9v0.9h-0.9zM265.8 215.6h0.9v0.9h-0.9zM264.7 211.6h0.9v0.9h-0.9zM262.8 214.5h0.9v0.9h-0.9zM264.0 216.5h0.9v0.9h-0.9zM262.2 210.8h0.9v0.9h-0.9zM261.2 215.3h0.9v0.9h-0.9zM258.2 208.5h0.9v0.9h-0.9zM261.7 211.4h0.9v0.9h-0.9zM262.0 202.9h0.9v0.9h-0.9zM261.9 212.6h0.9v0.9h-0.9zM265.0 205.6h0.9v0.9h-0.9zM261.9 215.5h0.9v0.9h-0.9zM264.2 218.4h0.9v0.9h-0.9zM265.7 209.4h0.9v0.9h-0.9zM264.6 212.2h0.9v0.9h-0.9zM260.6 219.8h0.9v0.9h-0.9zM261.0 210.2h0.9v0.9h-0.9zM261.7 210.2h0.9v0.9h-0.9zM265.6 215.1h0.9v0.9h-0.9zM266.7 215.3h0.9v0.9h-0.9zM261.1 217.8h0.9v0.9h-0.9zM261.0 211.7h0.9v0.9h-0.9zM262.3 213.8h0.9v0.9h-0.9zM266.1 211.2h0.9v0.9h-0.9zM263.8 213.5h0.9v0.9h-0.9zM259.3 209.2h0.9v0.9h-0.9zM262.2 215.2h0.9v0.9h-0.9zM263.7 215.5h0.9v0.9h-0.9zM262.9 211.8h0.9v0.9h-0.9zM264.0 209.5h0.9v0.9h-0.9zM259.0 212.3h0.9v0.9h-0.9zM258.8 211.5h0.9v0.9h-0.9zM260.7 211.4h0.9v0.9h-0.9zM262.7 210.4h0.9v0.9h-0.9zM261.6 206.7h0.9v0.9h-0.9zM263.2 210.0h0.9v0.9h-0.9zM263.9 202.2h0.9v0.9h-0.9zM260.6 214.6h0.9v0.9h-0.9zM263.1 214.0h0.9v0.9h-0.9zM258.6 214.5h0.9v0.9h-0.9zM263.2 209.7h0.9v0.9h-0.9zM264.9 213.4h0.9v0.9h-0.9zM262.9 211.8h0.9v0.9h-0.9zM264.3 214.0h0.9v0.9h-0.9zM266.0 215.4h0.9v0.9h-0.9zM261.1 212.7h0.9v0.9h-0.9zM265.4 212.1h0.9v0.9h-0.9zM263.9 215.7h0.9v0.9h-0.9zM262.3 204.2h0.9v0.9h-0.9zM263.2 214.5h0.9v0.9h-0.9zM263.2 210.5h0.9v0.9h-0.9zM266.2 213.1h0.9v0.9h-0.9zM261.1 210.7h0.9v0.9h-0.9zM263.8 209.2h0.9v0.9h-0.9zM260.0 221.7h0.9v0.9h-0.9zM266.5 217.9h0.9v0.9h-0.9zM266.6 216.0h0.9v0.9h-0.9zM258.1 218.5h0.9v0.9h-0.9zM266.3 215.6h0.9v0.9h-0.9zM257.3 218.7h0.9v0.9h-0.9zM266.6 211.6h0.9v0.9h-0.9zM263.2 216.8h0.9v0.9h-0.9zM262.6 218.1h0.9v0.9h-0.9zM263.0 216.4h0.9v0.9h-0.9zM263.0 207.6h0.9v0.9h-0.9zM260.0 226.5h0.9v0.9h-0.9zM263.6 218.9h0.9v0.9h-0.9zM266.0 220.6h0.9v0.9h-0.9zM264.4 211.2h0.9v0.9h-0.9zM262.9 205.8h0.9v0.9h-0.9zM262.3 217.3h0.9v0.9h-0.9zM265.1 219.0h0.9v0.9h-0.9zM260.2 210.9h0.9v0.9h-0.9zM257.5 209.4h0.9v0.9h-0.9zM264.3 222.0h0.9v0.9h-0.9zM259.6 219.2h0.9v0.9h-0.9zM264.0 211.6h0.9v0.9h-0.9zM269.0 203.3h0.9v0.9h-0.9zM262.6 214.5h0.9v0.9h-0.9zM268.8 220.9h0.9v0.9h-0.9zM269.2 214.1h0.9v0.9h-0.9zM265.6 219.2h0.9v0.9h-0.9zM264.2 215.1h0.9v0.9h-0.9zM262.3 211.9h0.9v0.9h-0.9zM259.3 221.6h0.9v0.9h-0.9zM261.5 205.1h0.9v0.9h-0.9zM263.5 213.5h0.9v0.9h-0.9zM263.3 221.0h0.9v0.9h-0.9zM262.5 212.5h0.9v0.9h-0.9zM260.7 213.5h0.9v0.9h-0.9zM261.6 214.4h0.9v0.9h-0.9zM271.6 215.2h0.9v0.9h-0.9zM260.4 221.5h0.9v0.9h-0.9zM265.2 216.9h0.9v0.9h-0.9zM264.8 216.9h0.9v0.9h-0.9zM264.7 219.4h0.9v0.9h-0.9zM265.6 219.1h0.9v0.9h-0.9zM261.4 213.6h0.9v0.9h-0.9zM260.7 217.5h0.9v0.9h-0.9zM265.1 211.7h0.9v0.9h-0.9zM264.4 224.3h0.9v0.9h-0.9zM266.3 209.0h0.9v0.9h-0.9zM262.5 216.2h0.9v0.9h-0.9zM262.7 215.2h0.9v0.9h-0.9zM266.1 214.9h0.9v0.9h-0.9zM259.7 216.5h0.9v0.9h-0.9zM262.5 214.1h0.9v0.9h-0.9zM261.2 207.9h0.9v0.9h-0.9zM259.3 212.2h0.9v0.9h-0.9zM259.8 202.5h0.9v0.9h-0.9zM266.0 208.8h0.9v0.9h-0.9zM260.8 215.8h0.9v0.9h-0.9zM260.6 216.3h0.9v0.9h-0.9zM261.4 214.9h0.9v0.9h-0.9zM263.1 213.6h0.9v0.9h-0.9zM257.6 207.6h0.9v0.9h-0.9zM262.7 219.4h0.9v0.9h-0.9z" fill="#000" fill-opacity="0.45"/>
<path d="M260.8 217.2h0.9v0.9h-0.9zM263.7 216.9h0.9v0.9h-0.9zM267.1 204.9h0.9v0.9h-0.9zM264.1 212.9h0.9v0.9h-0.9zM261.7 208.8h0.9v0.9h-0.9zM259.8 207.8h0.9v0.9h-0.9zM258.5 229.2h0.9v0.9h-0.9zM270.0 214.1h0.9v0.9h-0.9zM266.0 208.1h0.9v0.9h-0.9zM263.6 222.7h0.9v0.9h-0.9zM262.8 208.0h0.9v0.9h-0.9zM262.0 208.0h0.9v0.9h-0.9zM257.3 212.6h0.9v0.9h-0.9zM261.4 209.1h0.9v0.9h-0.9zM259.4 208.4h0.9v0.9h-0.9zM264.0 222.4h0.9v0.9h-0.9zM262.1 227.5h0.9v0.9h-0.9zM258.3 213.0h0.9v0.9h-0.9zM263.4 217.4h0.9v0.9h-0.9zM267.6 210.6h0.9v0.9h-0.9zM257.9 212.9h0.9v0.9h-0.9zM264.2 209.8h0.9v0.9h-0.9zM266.7 224.2h0.9v0.9h-0.9zM257.2 216.2h0.9v0.9h-0.9zM267.2 202.4h0.9v0.9h-0.9zM263.8 212.6h0.9v0.9h-0.9zM257.2 222.0h0.9v0.9h-0.9zM263.9 211.1h0.9v0.9h-0.9zM264.8 217.9h0.9v0.9h-0.9zM266.1 217.5h0.9v0.9h-0.9zM264.7 206.9h0.9v0.9h-0.9zM261.3 214.8h0.9v0.9h-0.9zM261.4 207.6h0.9v0.9h-0.9zM263.1 210.5h0.9v0.9h-0.9zM261.3 208.6h0.9v0.9h-0.9zM259.9 213.4h0.9v0.9h-0.9zM260.4 218.1h0.9v0.9h-0.9zM262.4 214.8h0.9v0.9h-0.9zM264.7 221.7h0.9v0.9h-0.9zM265.5 215.4h0.9v0.9h-0.9zM262.3 209.1h0.9v0.9h-0.9zM261.6 218.1h0.9v0.9h-0.9zM263.9 211.7h0.9v0.9h-0.9zM257.5 204.7h0.9v0.9h-0.9zM264.3 220.2h0.9v0.9h-0.9zM264.5 205.7h0.9v0.9h-0.9zM262.1 215.3h0.9v0.9h-0.9zM259.2 216.1h0.9v0.9h-0.9zM262.2 209.0h0.9v0.9h-0.9zM257.9 218.9h0.9v0.9h-0.9zM264.5 208.6h0.9v0.9h-0.9zM258.8 219.4h0.9v0.9h-0.9zM265.4 212.2h0.9v0.9h-0.9zM269.5 212.3h0.9v0.9h-0.9zM258.7 220.6h0.9v0.9h-0.9zM262.2 216.1h0.9v0.9h-0.9zM263.2 207.9h0.9v0.9h-0.9zM258.1 212.8h0.9v0.9h-0.9zM268.7 207.9h0.9v0.9h-0.9zM268.6 215.3h0.9v0.9h-0.9zM258.5 215.6h0.9v0.9h-0.9zM265.3 208.6h0.9v0.9h-0.9zM258.5 216.7h0.9v0.9h-0.9zM259.7 205.1h0.9v0.9h-0.9zM262.0 215.0h0.9v0.9h-0.9zM260.7 206.9h0.9v0.9h-0.9zM263.9 203.4h0.9v0.9h-0.9zM265.2 217.0h0.9v0.9h-0.9zM269.9 219.3h0.9v0.9h-0.9zM264.4 215.6h0.9v0.9h-0.9zM263.1 206.0h0.9v0.9h-0.9zM269.0 217.2h0.9v0.9h-0.9zM261.8 207.1h0.9v0.9h-0.9zM269.1 217.2h0.9v0.9h-0.9zM258.2 218.0h0.9v0.9h-0.9zM270.7 213.9h0.9v0.9h-0.9zM264.6 211.5h0.9v0.9h-0.9zM260.4 220.5h0.9v0.9h-0.9zM275.6 214.7h0.9v0.9h-0.9zM262.5 218.8h0.9v0.9h-0.9zM261.8 218.4h0.9v0.9h-0.9zM266.4 207.9h0.9v0.9h-0.9zM258.6 213.6h0.9v0.9h-0.9zM266.4 215.7h0.9v0.9h-0.9zM268.1 205.7h0.9v0.9h-0.9zM265.0 210.3h0.9v0.9h-0.9zM263.4 215.9h0.9v0.9h-0.9zM259.0 212.6h0.9v0.9h-0.9zM258.3 215.6h0.9v0.9h-0.9zM259.5 211.0h0.9v0.9h-0.9zM263.9 210.1h0.9v0.9h-0.9zM267.7 210.2h0.9v0.9h-0.9zM266.5 215.7h0.9v0.9h-0.9zM258.8 212.7h0.9v0.9h-0.9zM259.6 211.8h0.9v0.9h-0.9zM261.9 224.9h0.9v0.9h-0.9zM261.3 223.4h0.9v0.9h-0.9zM264.8 206.1h0.9v0.9h-0.9zM267.2 216.3h0.9v0.9h-0.9zM262.1 212.5h0.9v0.9h-0.9zM264.1 212.2h0.9v0.9h-0.9zM260.8 211.8h0.9v0.9h-0.9zM267.8 210.3h0.9v0.9h-0.9zM264.5 207.1h0.9v0.9h-0.9zM260.1 205.7h0.9v0.9h-0.9zM262.2 218.1h0.9v0.9h-0.9zM264.2 211.0h0.9v0.9h-0.9zM265.5 211.9h0.9v0.9h-0.9zM264.5 215.6h0.9v0.9h-0.9zM265.2 199.1h0.9v0.9h-0.9zM257.7 218.6h0.9v0.9h-0.9zM262.6 227.5h0.9v0.9h-0.9zM262.0 210.7h0.9v0.9h-0.9zM269.1 217.3h0.9v0.9h-0.9zM270.7 217.1h0.9v0.9h-0.9zM262.2 218.3h0.9v0.9h-0.9zM259.8 211.3h0.9v0.9h-0.9zM260.7 212.7h0.9v0.9h-0.9zM266.2 211.1h0.9v0.9h-0.9zM264.3 211.0h0.9v0.9h-0.9zM266.6 197.5h0.9v0.9h-0.9zM262.2 215.0h0.9v0.9h-0.9zM258.6 220.1h0.9v0.9h-0.9zM263.9 221.7h0.9v0.9h-0.9zM266.9 217.8h0.9v0.9h-0.9zM262.4 207.5h0.9v0.9h-0.9zM262.1 211.2h0.9v0.9h-0.9zM264.0 211.2h0.9v0.9h-0.9zM275.4 204.4h0.9v0.9h-0.9zM267.8 211.2h0.9v0.9h-0.9zM262.0 219.5h0.9v0.9h-0.9zM263.0 206.7h0.9v0.9h-0.9zM264.7 212.8h0.9v0.9h-0.9zM258.7 209.5h0.9v0.9h-0.9zM265.0 215.8h0.9v0.9h-0.9zM261.8 227.0h0.9v0.9h-0.9zM264.7 210.3h0.9v0.9h-0.9zM264.0 213.3h0.9v0.9h-0.9zM257.4 226.4h0.9v0.9h-0.9zM262.3 212.3h0.9v0.9h-0.9zM260.7 219.9h0.9v0.9h-0.9zM263.1 224.2h0.9v0.9h-0.9zM266.2 223.8h0.9v0.9h-0.9zM262.5 216.2h0.9v0.9h-0.9zM261.2 213.0h0.9v0.9h-0.9zM259.1 210.1h0.9v0.9h-0.9zM267.9 215.6h0.9v0.9h-0.9zM268.0 219.1h0.9v0.9h-0.9zM266.7 220.0h0.9v0.9h-0.9zM260.5 218.8h0.9v0.9h-0.9zM261.7 210.8h0.9v0.9h-0.9zM267.8 226.9h0.9v0.9h-0.9zM259.0 224.4h0.9v0.9h-0.9zM266.4 208.9h0.9v0.9h-0.9zM264.1 216.2h0.9v0.9h-0.9zM264.5 211.9h0.9v0.9h-0.9zM257.8 214.2h0.9v0.9h-0.9zM266.5 218.7h0.9v0.9h-0.9zM265.7 220.6h0.9v0.9h-0.9zM259.0 213.7h0.9v0.9h-0.9zM264.4 220.0h0.9v0.9h-0.9zM263.6 217.1h0.9v0.9h-0.9zM263.5 226.5h0.9v0.9h-0.9zM273.0 215.4h0.9v0.9h-0.9zM257.2 209.9h0.9v0.9h-0.9zM263.9 224.2h0.9v0.9h-0.9zM264.9 218.0h0.9v0.9h-0.9zM267.1 215.2h0.9v0.9h-0.9zM259.5 213.4h0.9v0.9h-0.9zM264.4 212.3h0.9v0.9h-0.9zM260.3 211.9h0.9v0.9h-0.9zM256.9 207.9h0.9v0.9h-0.9zM262.6 211.8h0.9v0.9h-0.9zM263.2 222.4h0.9v0.9h-0.9zM264.2 213.8h0.9v0.9h-0.9zM258.3 207.6h0.9v0.9h-0.9zM264.5 208.8h0.9v0.9h-0.9zM264.7 207.6h0.9v0.9h-0.9zM263.5 213.6h0.9v0.9h-0.9zM267.0 211.7h0.9v0.9h-0.9zM261.5 215.5h0.9v0.9h-0.9zM263.2 224.1h0.9v0.9h-0.9zM262.0 210.8h0.9v0.9h-0.9zM261.7 216.8h0.9v0.9h-0.9zM263.9 218.1h0.9v0.9h-0.9zM257.4 228.8h0.9v0.9h-0.9zM270.4 213.8h0.9v0.9h-0.9zM258.1 214.9h0.9v0.9h-0.9zM264.7 200.7h0.9v0.9h-0.9zM263.1 205.2h0.9v0.9h-0.9zM264.9 222.2h0.9v0.9h-0.9zM267.2 205.0h0.9v0.9h-0.9zM268.6 219.4h0.9v0.9h-0.9zM261.5 217.0h0.9v0.9h-0.9zM269.1 212.0h0.9v0.9h-0.9zM262.9 210.7h0.9v0.9h-0.9zM267.7 201.2h0.9v0.9h-0.9zM268.7 208.2h0.9v0.9h-0.9zM266.7 204.3h0.9v0.9h-0.9zM259.2 210.4h0.9v0.9h-0.9zM266.3 204.3h0.9v0.9h-0.9zM265.4 210.2h0.9v0.9h-0.9zM268.0 212.1h0.9v0.9h-0.9zM265.0 213.0h0.9v0.9h-0.9zM270.2 211.9h0.9v0.9h-0.9zM262.9 225.8h0.9v0.9h-0.9zM263.3 218.1h0.9v0.9h-0.9zM260.0 215.2h0.9v0.9h-0.9zM260.4 205.0h0.9v0.9h-0.9zM257.3 220.8h0.9v0.9h-0.9zM264.7 205.0h0.9v0.9h-0.9zM270.3 209.8h0.9v0.9h-0.9zM261.5 215.5h0.9v0.9h-0.9zM258.4 204.4h0.9v0.9h-0.9zM260.0 221.0h0.9v0.9h-0.9zM266.8 204.6h0.9v0.9h-0.9zM267.9 214.2h0.9v0.9h-0.9zM265.0 214.3h0.9v0.9h-0.9zM264.7 208.0h0.9v0.9h-0.9zM259.3 209.8h0.9v0.9h-0.9zM261.5 217.7h0.9v0.9h-0.9zM258.1 223.5h0.9v0.9h-0.9zM260.4 210.5h0.9v0.9h-0.9zM265.8 216.6h0.9v0.9h-0.9zM261.6 207.6h0.9v0.9h-0.9zM259.0 204.5h0.9v0.9h-0.9zM267.6 220.5h0.9v0.9h-0.9zM270.6 217.0h0.9v0.9h-0.9zM264.3 218.5h0.9v0.9h-0.9zM266.8 212.5h0.9v0.9h-0.9zM264.4 226.9h0.9v0.9h-0.9zM259.1 218.5h0.9v0.9h-0.9zM267.8 212.0h0.9v0.9h-0.9zM265.7 213.7h0.9v0.9h-0.9zM264.2 210.8h0.9v0.9h-0.9zM262.9 214.0h0.9v0.9h-0.9zM267.6 227.3h0.9v0.9h-0.9zM263.0 219.8h0.9v0.9h-0.9zM267.3 218.7h0.9v0.9h-0.9zM266.3 208.3h0.9v0.9h-0.9zM267.9 208.3h0.9v0.9h-0.9zM268.2 218.0h0.9v0.9h-0.9z" fill="#000" fill-opacity="0.5"/>
<path d="M261.2 250.7h0.9v0.9h-0.9zM262.7 239.7h0.9v0.9h-0.9zM258.6 242.7h0.9v0.9h-0.9zM270.9 240.1h0.9v0.9h-0.9zM274.9 248.0h0.9v0.9h-0.9zM263.4 237.0h0.9v0.9h-0.9zM258.1 247.2h0.9v0.9h-0.9zM272.3 237.9h0.9v0.9h-0.9zM266.0 242.4h0.9v0.9h-0.9zM264.8 246.9h0.9v0.9h-0.9zM276.1 240.3h0.9v0.9h-0.9zM270.1 250.3h0.9v0.9h-0.9zM264.6 243.1h0.9v0.9h-0.9z" fill="#000" fill-opacity="0.35"/>
<rect x="426.5" y="173.5" width="82.0" height="81.0" fill="none" stroke="#7a7a7a" stroke-width="1"/>
<line x1="446.5" y1="173.5" x2="446.5" y2="254.5" stroke="#7a7a7a" stroke-width="1"/>
<line x1="426.5" y1="233.5" x2="508.5" y2="233.5" stroke="#7a7a7a" stroke-width="1"/>
<text x="428.30" y="258.10" font-size="3.6" text-anchor="middle" style="fill:#333">10<tspan font-size="2.5" dy="-1.4">0</tspan></text>
<text transform="translate(425.10,251.50) rotate(-90)" font-size="3.6" text-anchor="middle" style="fill:#333">10<tspan font-size="2.5" dy="-1.4">0</tspan></text>
<text x="448.80" y="258.10" font-size="3.6" text-anchor="middle" style="fill:#333">10<tspan font-size="2.5" dy="-1.4">1</tspan></text>
<text transform="translate(425.10,231.00) rotate(-90)" font-size="3.6" text-anchor="middle" style="fill:#333">10<tspan font-size="2.5" dy="-1.4">1</tspan></text>
<text x="469.30" y="258.10" font-size="3.6" text-anchor="middle" style="fill:#333">10<tspan font-size="2.5" dy="-1.4">2</tspan></text>
<text transform="translate(425.10,210.50) rotate(-90)" font-size="3.6" text-anchor="middle" style="fill:#333">10<tspan font-size="2.5" dy="-1.4">2</tspan></text>
<text x="489.80" y="258.10" font-size="3.6" text-anchor="middle" style="fill:#333">10<tspan font-size="2.5" dy="-1.4">3</tspan></text>
<text transform="translate(425.10,190.00) rotate(-90)" font-size="3.6" text-anchor="middle" style="fill:#333">10<tspan font-size="2.5" dy="-1.4">3</tspan></text>
<text x="510.30" y="258.10" font-size="3.6" text-anchor="middle" style="fill:#333">10<tspan font-size="2.5" dy="-1.4">4</tspan></text>
<text transform="translate(425.10,169.50) rotate(-90)" font-size="3.6" text-anchor="middle" style="fill:#333">10<tspan font-size="2.5" dy="-1.4">4</tspan></text>
<text x="467.50" y="261.80" font-size="3.8" text-anchor="middle" style="fill:#222">CD94 FITC</text>
<text transform="translate(421.70,213.00) rotate(-90)" font-size="3.6" text-anchor="middle" style="fill:#222">CD117 PerCp-Cy5.5</text>
<ellipse cx="436.2" cy="221.5" rx="8" ry="9.5" fill="#000" fill-opacity="0.92" filter="url(#bl)"/>
<ellipse cx="463" cy="243" rx="8" ry="8.5" fill="#000" fill-opacity="0.85" filter="url(#bl2)"/>
<ellipse cx="445" cy="245" rx="14" ry="8" fill="#000" fill-opacity="0.3" filter="url(#bl2)"/>
<ellipse cx="459" cy="224" rx="10" ry="9" fill="#000" fill-opacity="0.12" filter="url(#bl2)"/>
<path d="M429.0 227.7h0.9v0.9h-0.9zM433.2 217.7h0.9v0.9h-0.9zM436.4 216.5h0.9v0.9h-0.9zM430.6 219.8h0.9v0.9h-0.9zM443.7 220.3h0.9v0.9h-0.9zM438.7 213.0h0.9v0.9h-0.9zM433.9 212.6h0.9v0.9h-0.9zM435.4 225.0h0.9v0.9h-0.9zM427.0 216.4h0.9v0.9h-0.9zM437.4 216.2h0.9v0.9h-0.9zM440.2 227.1h0.9v0.9h-0.9zM438.3 219.0h0.9v0.9h-0.9zM435.8 217.8h0.9v0.9h-0.9zM435.3 223.3h0.9v0.9h-0.9zM434.4 227.1h0.9v0.9h-0.9zM449.5 218.3h0.9v0.9h-0.9zM437.8 226.3h0.9v0.9h-0.9zM439.4 220.1h0.9v0.9h-0.9zM433.5 227.3h0.9v0.9h-0.9zM439.3 224.4h0.9v0.9h-0.9zM431.8 225.2h0.9v0.9h-0.9zM440.1 220.4h0.9v0.9h-0.9zM439.4 234.1h0.9v0.9h-0.9zM429.9 213.6h0.9v0.9h-0.9zM434.8 224.7h0.9v0.9h-0.9zM436.3 214.7h0.9v0.9h-0.9zM428.5 218.3h0.9v0.9h-0.9zM436.1 216.7h0.9v0.9h-0.9zM428.2 231.7h0.9v0.9h-0.9zM431.6 220.6h0.9v0.9h-0.9zM433.1 218.1h0.9v0.9h-0.9zM436.2 219.8h0.9v0.9h-0.9zM439.2 214.6h0.9v0.9h-0.9zM428.2 232.8h0.9v0.9h-0.9zM435.6 226.0h0.9v0.9h-0.9zM442.2 224.7h0.9v0.9h-0.9zM436.2 212.5h0.9v0.9h-0.9zM427.6 227.2h0.9v0.9h-0.9zM439.5 224.8h0.9v0.9h-0.9zM427.3 209.1h0.9v0.9h-0.9zM430.5 214.6h0.9v0.9h-0.9zM436.8 215.6h0.9v0.9h-0.9zM444.3 217.9h0.9v0.9h-0.9zM433.1 226.5h0.9v0.9h-0.9zM437.7 216.3h0.9v0.9h-0.9zM440.3 232.7h0.9v0.9h-0.9zM429.6 220.1h0.9v0.9h-0.9zM430.4 210.2h0.9v0.9h-0.9zM439.3 225.6h0.9v0.9h-0.9zM441.1 224.0h0.9v0.9h-0.9zM432.5 214.6h0.9v0.9h-0.9zM430.2 226.0h0.9v0.9h-0.9zM434.4 233.0h0.9v0.9h-0.9zM438.5 210.4h0.9v0.9h-0.9zM440.7 228.8h0.9v0.9h-0.9zM436.2 214.4h0.9v0.9h-0.9zM445.3 213.8h0.9v0.9h-0.9zM435.6 210.4h0.9v0.9h-0.9zM429.4 211.6h0.9v0.9h-0.9zM441.7 228.4h0.9v0.9h-0.9zM433.9 213.6h0.9v0.9h-0.9zM435.7 223.7h0.9v0.9h-0.9zM428.0 214.7h0.9v0.9h-0.9zM435.5 225.6h0.9v0.9h-0.9zM436.4 224.1h0.9v0.9h-0.9zM429.4 206.9h0.9v0.9h-0.9zM437.6 216.1h0.9v0.9h-0.9zM435.3 219.3h0.9v0.9h-0.9zM438.5 217.0h0.9v0.9h-0.9zM443.6 221.7h0.9v0.9h-0.9zM438.8 225.2h0.9v0.9h-0.9zM441.5 223.9h0.9v0.9h-0.9zM445.8 224.3h0.9v0.9h-0.9zM439.0 224.2h0.9v0.9h-0.9zM432.6 217.5h0.9v0.9h-0.9zM432.6 228.3h0.9v0.9h-0.9zM437.9 231.9h0.9v0.9h-0.9zM438.6 232.6h0.9v0.9h-0.9zM438.4 214.6h0.9v0.9h-0.9zM445.2 223.5h0.9v0.9h-0.9zM442.3 222.8h0.9v0.9h-0.9zM434.3 222.5h0.9v0.9h-0.9zM430.1 214.5h0.9v0.9h-0.9zM431.3 218.4h0.9v0.9h-0.9zM428.8 220.9h0.9v0.9h-0.9zM437.6 233.4h0.9v0.9h-0.9zM445.7 221.2h0.9v0.9h-0.9zM440.7 220.2h0.9v0.9h-0.9zM438.1 221.3h0.9v0.9h-0.9zM433.1 221.9h0.9v0.9h-0.9zM428.2 224.1h0.9v0.9h-0.9zM434.5 215.1h0.9v0.9h-0.9zM434.1 224.8h0.9v0.9h-0.9zM432.4 224.3h0.9v0.9h-0.9zM439.0 230.7h0.9v0.9h-0.9zM430.2 220.8h0.9v0.9h-0.9zM438.7 230.4h0.9v0.9h-0.9zM437.4 226.0h0.9v0.9h-0.9zM428.2 218.1h0.9v0.9h-0.9zM444.8 219.8h0.9v0.9h-0.9zM447.5 217.2h0.9v0.9h-0.9zM434.5 212.1h0.9v0.9h-0.9zM439.4 223.1h0.9v0.9h-0.9zM446.7 222.5h0.9v0.9h-0.9zM434.7 213.2h0.9v0.9h-0.9zM435.6 227.1h0.9v0.9h-0.9zM439.9 228.8h0.9v0.9h-0.9zM440.6 221.2h0.9v0.9h-0.9zM439.2 222.5h0.9v0.9h-0.9zM428.9 231.6h0.9v0.9h-0.9zM438.0 215.3h0.9v0.9h-0.9zM438.1 223.2h0.9v0.9h-0.9zM441.3 230.1h0.9v0.9h-0.9zM444.2 215.9h0.9v0.9h-0.9zM437.8 223.6h0.9v0.9h-0.9zM430.1 218.7h0.9v0.9h-0.9zM437.0 225.9h0.9v0.9h-0.9zM447.7 223.2h0.9v0.9h-0.9zM432.8 207.5h0.9v0.9h-0.9zM441.7 220.7h0.9v0.9h-0.9zM435.4 215.6h0.9v0.9h-0.9zM439.9 210.8h0.9v0.9h-0.9zM436.6 222.2h0.9v0.9h-0.9zM437.6 229.3h0.9v0.9h-0.9zM435.5 222.1h0.9v0.9h-0.9zM440.6 212.3h0.9v0.9h-0.9zM434.4 221.9h0.9v0.9h-0.9zM441.1 216.7h0.9v0.9h-0.9zM440.3 223.8h0.9v0.9h-0.9zM428.0 212.7h0.9v0.9h-0.9zM428.3 222.3h0.9v0.9h-0.9zM437.1 225.8h0.9v0.9h-0.9zM440.4 218.2h0.9v0.9h-0.9zM441.7 226.4h0.9v0.9h-0.9zM438.5 224.4h0.9v0.9h-0.9zM429.1 223.7h0.9v0.9h-0.9zM430.5 214.4h0.9v0.9h-0.9zM434.1 222.3h0.9v0.9h-0.9zM435.7 219.5h0.9v0.9h-0.9zM430.6 222.6h0.9v0.9h-0.9zM432.0 213.1h0.9v0.9h-0.9zM436.5 230.2h0.9v0.9h-0.9zM433.8 215.2h0.9v0.9h-0.9zM443.4 231.7h0.9v0.9h-0.9zM434.4 220.2h0.9v0.9h-0.9zM437.1 239.1h0.9v0.9h-0.9zM436.7 227.4h0.9v0.9h-0.9zM438.4 210.6h0.9v0.9h-0.9zM430.1 214.1h0.9v0.9h-0.9zM438.3 222.1h0.9v0.9h-0.9zM445.6 219.9h0.9v0.9h-0.9zM437.7 221.9h0.9v0.9h-0.9zM436.7 235.3h0.9v0.9h-0.9zM437.5 230.3h0.9v0.9h-0.9zM443.0 217.9h0.9v0.9h-0.9zM439.7 219.2h0.9v0.9h-0.9zM436.6 222.4h0.9v0.9h-0.9zM436.1 218.7h0.9v0.9h-0.9zM444.4 219.9h0.9v0.9h-0.9zM439.8 231.5h0.9v0.9h-0.9zM439.4 227.6h0.9v0.9h-0.9zM443.5 228.0h0.9v0.9h-0.9zM445.3 213.0h0.9v0.9h-0.9zM446.5 221.7h0.9v0.9h-0.9zM428.5 221.4h0.9v0.9h-0.9zM428.0 215.5h0.9v0.9h-0.9zM437.6 222.4h0.9v0.9h-0.9zM431.7 220.1h0.9v0.9h-0.9zM435.5 221.9h0.9v0.9h-0.9zM436.0 220.2h0.9v0.9h-0.9zM440.7 211.9h0.9v0.9h-0.9zM433.3 222.3h0.9v0.9h-0.9zM433.8 218.2h0.9v0.9h-0.9zM433.6 222.8h0.9v0.9h-0.9zM442.7 220.4h0.9v0.9h-0.9zM434.6 223.6h0.9v0.9h-0.9zM434.7 209.9h0.9v0.9h-0.9zM437.4 219.2h0.9v0.9h-0.9zM432.9 225.3h0.9v0.9h-0.9zM436.2 218.1h0.9v0.9h-0.9zM436.1 220.8h0.9v0.9h-0.9zM438.4 222.8h0.9v0.9h-0.9zM433.4 213.9h0.9v0.9h-0.9zM430.1 220.7h0.9v0.9h-0.9zM429.8 226.0h0.9v0.9h-0.9zM428.8 210.8h0.9v0.9h-0.9zM435.0 210.9h0.9v0.9h-0.9zM444.8 215.5h0.9v0.9h-0.9zM435.7 220.0h0.9v0.9h-0.9zM431.6 210.9h0.9v0.9h-0.9zM441.5 234.5h0.9v0.9h-0.9zM428.1 224.9h0.9v0.9h-0.9zM435.9 226.6h0.9v0.9h-0.9zM433.2 225.8h0.9v0.9h-0.9zM440.8 225.1h0.9v0.9h-0.9zM443.8 220.5h0.9v0.9h-0.9zM444.3 217.3h0.9v0.9h-0.9zM445.0 205.0h0.9v0.9h-0.9zM436.1 216.7h0.9v0.9h-0.9zM436.0 227.7h0.9v0.9h-0.9zM439.9 222.1h0.9v0.9h-0.9zM445.2 212.6h0.9v0.9h-0.9zM431.6 230.6h0.9v0.9h-0.9zM437.8 209.1h0.9v0.9h-0.9zM437.8 214.4h0.9v0.9h-0.9zM444.0 228.4h0.9v0.9h-0.9zM433.0 229.3h0.9v0.9h-0.9zM431.5 227.0h0.9v0.9h-0.9zM439.1 220.7h0.9v0.9h-0.9zM428.3 219.8h0.9v0.9h-0.9zM430.8 206.9h0.9v0.9h-0.9zM439.2 223.7h0.9v0.9h-0.9zM433.3 234.2h0.9v0.9h-0.9zM440.2 221.9h0.9v0.9h-0.9zM432.5 203.8h0.9v0.9h-0.9zM438.6 227.3h0.9v0.9h-0.9zM432.8 213.0h0.9v0.9h-0.9zM435.8 211.5h0.9v0.9h-0.9zM436.0 226.1h0.9v0.9h-0.9zM444.2 223.1h0.9v0.9h-0.9zM437.1 226.0h0.9v0.9h-0.9zM443.6 219.6h0.9v0.9h-0.9zM429.4 216.8h0.9v0.9h-0.9zM429.2 216.2h0.9v0.9h-0.9zM435.3 223.6h0.9v0.9h-0.9zM436.8 221.9h0.9v0.9h-0.9zM434.1 224.0h0.9v0.9h-0.9zM440.8 226.1h0.9v0.9h-0.9zM444.1 219.8h0.9v0.9h-0.9zM434.6 231.7h0.9v0.9h-0.9zM437.1 224.0h0.9v0.9h-0.9zM434.2 227.3h0.9v0.9h-0.9zM433.8 215.5h0.9v0.9h-0.9zM435.7 218.8h0.9v0.9h-0.9zM440.5 219.2h0.9v0.9h-0.9zM436.7 220.2h0.9v0.9h-0.9zM437.8 217.7h0.9v0.9h-0.9zM442.0 213.0h0.9v0.9h-0.9zM433.9 217.2h0.9v0.9h-0.9zM439.5 221.7h0.9v0.9h-0.9zM438.6 219.5h0.9v0.9h-0.9zM432.1 214.8h0.9v0.9h-0.9zM434.2 218.3h0.9v0.9h-0.9zM437.5 223.6h0.9v0.9h-0.9zM441.3 220.9h0.9v0.9h-0.9zM432.0 215.1h0.9v0.9h-0.9zM436.3 223.7h0.9v0.9h-0.9zM446.5 222.6h0.9v0.9h-0.9zM445.5 232.7h0.9v0.9h-0.9zM430.3 228.8h0.9v0.9h-0.9zM442.1 229.6h0.9v0.9h-0.9zM435.9 227.2h0.9v0.9h-0.9zM433.4 221.1h0.9v0.9h-0.9zM436.1 232.2h0.9v0.9h-0.9zM434.8 227.2h0.9v0.9h-0.9zM436.4 217.2h0.9v0.9h-0.9zM437.3 225.5h0.9v0.9h-0.9zM432.2 225.3h0.9v0.9h-0.9zM432.2 216.2h0.9v0.9h-0.9zM437.2 220.1h0.9v0.9h-0.9zM430.7 211.7h0.9v0.9h-0.9zM436.1 223.0h0.9v0.9h-0.9zM433.5 222.6h0.9v0.9h-0.9zM427.8 223.9h0.9v0.9h-0.9zM438.2 223.2h0.9v0.9h-0.9zM432.7 222.0h0.9v0.9h-0.9zM436.7 227.9h0.9v0.9h-0.9zM437.5 223.0h0.9v0.9h-0.9zM432.1 226.7h0.9v0.9h-0.9zM442.3 218.5h0.9v0.9h-0.9zM439.4 223.3h0.9v0.9h-0.9zM435.7 213.8h0.9v0.9h-0.9zM445.5 210.3h0.9v0.9h-0.9zM437.6 219.2h0.9v0.9h-0.9zM442.2 219.0h0.9v0.9h-0.9zM436.2 225.2h0.9v0.9h-0.9zM438.5 218.4h0.9v0.9h-0.9zM439.7 223.8h0.9v0.9h-0.9zM441.3 218.4h0.9v0.9h-0.9zM435.8 219.2h0.9v0.9h-0.9zM431.5 223.0h0.9v0.9h-0.9zM438.2 230.0h0.9v0.9h-0.9zM434.2 223.8h0.9v0.9h-0.9zM442.2 220.8h0.9v0.9h-0.9zM436.3 222.3h0.9v0.9h-0.9zM432.3 215.6h0.9v0.9h-0.9zM442.0 222.5h0.9v0.9h-0.9zM435.6 214.1h0.9v0.9h-0.9zM436.6 228.5h0.9v0.9h-0.9zM429.8 216.2h0.9v0.9h-0.9zM442.0 230.1h0.9v0.9h-0.9zM444.4 218.2h0.9v0.9h-0.9zM439.2 217.0h0.9v0.9h-0.9zM438.8 219.3h0.9v0.9h-0.9zM437.1 229.5h0.9v0.9h-0.9zM437.8 220.1h0.9v0.9h-0.9zM436.3 223.1h0.9v0.9h-0.9zM433.2 222.7h0.9v0.9h-0.9zM439.2 230.8h0.9v0.9h-0.9zM429.4 226.7h0.9v0.9h-0.9zM449.1 222.7h0.9v0.9h-0.9zM436.7 228.3h0.9v0.9h-0.9zM433.3 218.6h0.9v0.9h-0.9zM437.8 218.0h0.9v0.9h-0.9zM442.0 221.5h0.9v0.9h-0.9zM438.0 236.6h0.9v0.9h-0.9zM433.6 227.0h0.9v0.9h-0.9zM431.6 228.9h0.9v0.9h-0.9zM441.2 222.3h0.9v0.9h-0.9zM441.3 231.1h0.9v0.9h-0.9zM443.4 221.5h0.9v0.9h-0.9zM435.7 228.1h0.9v0.9h-0.9zM428.1 217.9h0.9v0.9h-0.9zM438.6 224.9h0.9v0.9h-0.9zM446.0 232.0h0.9v0.9h-0.9zM437.7 224.1h0.9v0.9h-0.9zM428.9 220.4h0.9v0.9h-0.9zM437.4 220.2h0.9v0.9h-0.9zM436.3 225.1h0.9v0.9h-0.9zM430.9 218.1h0.9v0.9h-0.9zM430.4 211.4h0.9v0.9h-0.9zM440.1 220.2h0.9v0.9h-0.9zM441.2 219.3h0.9v0.9h-0.9zM447.4 225.7h0.9v0.9h-0.9zM436.8 222.2h0.9v0.9h-0.9zM434.9 226.3h0.9v0.9h-0.9zM446.7 219.0h0.9v0.9h-0.9zM430.2 225.0h0.9v0.9h-0.9zM441.7 212.6h0.9v0.9h-0.9zM432.3 215.6h0.9v0.9h-0.9zM439.0 224.5h0.9v0.9h-0.9zM432.1 214.8h0.9v0.9h-0.9zM439.6 209.3h0.9v0.9h-0.9zM439.4 220.6h0.9v0.9h-0.9zM446.2 227.4h0.9v0.9h-0.9zM432.9 219.9h0.9v0.9h-0.9zM434.5 217.2h0.9v0.9h-0.9zM436.4 227.2h0.9v0.9h-0.9zM428.0 220.2h0.9v0.9h-0.9zM444.0 225.9h0.9v0.9h-0.9zM431.7 216.7h0.9v0.9h-0.9zM431.4 212.0h0.9v0.9h-0.9zM442.1 221.9h0.9v0.9h-0.9zM432.3 213.0h0.9v0.9h-0.9zM434.0 218.5h0.9v0.9h-0.9zM445.2 218.8h0.9v0.9h-0.9zM436.6 227.8h0.9v0.9h-0.9zM439.6 220.4h0.9v0.9h-0.9zM439.2 218.9h0.9v0.9h-0.9zM435.5 215.9h0.9v0.9h-0.9zM431.2 212.7h0.9v0.9h-0.9zM438.7 224.6h0.9v0.9h-0.9zM436.9 226.1h0.9v0.9h-0.9zM438.8 222.2h0.9v0.9h-0.9zM431.3 225.0h0.9v0.9h-0.9zM442.3 225.2h0.9v0.9h-0.9zM442.6 218.7h0.9v0.9h-0.9zM430.8 228.9h0.9v0.9h-0.9zM432.9 222.9h0.9v0.9h-0.9zM435.0 221.6h0.9v0.9h-0.9zM434.6 218.3h0.9v0.9h-0.9zM437.1 210.2h0.9v0.9h-0.9zM431.2 214.9h0.9v0.9h-0.9zM432.1 206.5h0.9v0.9h-0.9zM439.0 231.2h0.9v0.9h-0.9zM434.7 225.9h0.9v0.9h-0.9zM439.2 214.2h0.9v0.9h-0.9zM442.5 211.6h0.9v0.9h-0.9zM433.0 219.4h0.9v0.9h-0.9zM442.7 222.2h0.9v0.9h-0.9zM435.3 216.8h0.9v0.9h-0.9zM436.5 221.7h0.9v0.9h-0.9zM439.9 229.7h0.9v0.9h-0.9zM439.9 221.6h0.9v0.9h-0.9zM435.2 230.9h0.9v0.9h-0.9zM437.1 221.4h0.9v0.9h-0.9zM445.5 230.7h0.9v0.9h-0.9zM439.0 220.9h0.9v0.9h-0.9zM432.6 227.8h0.9v0.9h-0.9zM433.6 227.1h0.9v0.9h-0.9zM431.9 222.1h0.9v0.9h-0.9zM438.1 222.4h0.9v0.9h-0.9zM437.2 223.7h0.9v0.9h-0.9zM430.1 215.0h0.9v0.9h-0.9zM435.2 232.1h0.9v0.9h-0.9zM435.3 216.1h0.9v0.9h-0.9zM432.5 221.7h0.9v0.9h-0.9zM442.2 218.2h0.9v0.9h-0.9zM439.0 222.6h0.9v0.9h-0.9zM434.1 216.0h0.9v0.9h-0.9zM435.2 217.3h0.9v0.9h-0.9zM438.8 211.2h0.9v0.9h-0.9zM442.0 225.9h0.9v0.9h-0.9zM439.1 230.3h0.9v0.9h-0.9zM439.2 211.5h0.9v0.9h-0.9zM436.3 224.1h0.9v0.9h-0.9zM432.4 214.9h0.9v0.9h-0.9zM438.3 224.5h0.9v0.9h-0.9zM433.8 220.1h0.9v0.9h-0.9zM433.3 218.2h0.9v0.9h-0.9zM435.7 227.8h0.9v0.9h-0.9zM427.5 219.5h0.9v0.9h-0.9zM444.5 223.4h0.9v0.9h-0.9zM436.8 226.4h0.9v0.9h-0.9zM430.7 214.4h0.9v0.9h-0.9zM427.3 213.0h0.9v0.9h-0.9zM437.3 226.5h0.9v0.9h-0.9zM433.8 217.5h0.9v0.9h-0.9zM438.1 225.1h0.9v0.9h-0.9zM437.4 210.4h0.9v0.9h-0.9zM433.1 206.7h0.9v0.9h-0.9zM437.3 216.5h0.9v0.9h-0.9zM432.5 230.3h0.9v0.9h-0.9zM443.0 224.3h0.9v0.9h-0.9zM437.5 222.5h0.9v0.9h-0.9zM432.9 221.2h0.9v0.9h-0.9zM446.1 216.4h0.9v0.9h-0.9zM432.5 222.4h0.9v0.9h-0.9zM440.7 226.4h0.9v0.9h-0.9zM430.9 220.7h0.9v0.9h-0.9zM434.6 214.3h0.9v0.9h-0.9zM436.4 218.7h0.9v0.9h-0.9zM440.8 224.0h0.9v0.9h-0.9zM431.9 222.0h0.9v0.9h-0.9zM434.1 217.8h0.9v0.9h-0.9zM433.4 227.7h0.9v0.9h-0.9zM433.8 211.5h0.9v0.9h-0.9zM431.9 226.2h0.9v0.9h-0.9zM447.3 215.4h0.9v0.9h-0.9zM434.1 219.6h0.9v0.9h-0.9zM428.6 223.8h0.9v0.9h-0.9zM435.7 223.1h0.9v0.9h-0.9zM447.8 219.9h0.9v0.9h-0.9zM440.2 226.4h0.9v0.9h-0.9zM432.7 218.0h0.9v0.9h-0.9zM444.2 225.7h0.9v0.9h-0.9zM436.8 215.1h0.9v0.9h-0.9zM440.6 224.6h0.9v0.9h-0.9zM447.5 230.1h0.9v0.9h-0.9zM440.2 223.1h0.9v0.9h-0.9zM436.3 218.3h0.9v0.9h-0.9zM437.6 222.9h0.9v0.9h-0.9zM439.4 227.8h0.9v0.9h-0.9zM437.6 218.3h0.9v0.9h-0.9zM440.2 230.6h0.9v0.9h-0.9zM431.6 224.0h0.9v0.9h-0.9zM438.9 224.6h0.9v0.9h-0.9zM438.7 221.0h0.9v0.9h-0.9zM435.5 231.3h0.9v0.9h-0.9zM445.1 213.3h0.9v0.9h-0.9zM432.5 218.5h0.9v0.9h-0.9zM427.6 223.6h0.9v0.9h-0.9zM435.7 218.4h0.9v0.9h-0.9zM440.7 235.7h0.9v0.9h-0.9zM443.7 228.3h0.9v0.9h-0.9zM433.8 225.3h0.9v0.9h-0.9zM435.8 228.2h0.9v0.9h-0.9zM439.1 221.3h0.9v0.9h-0.9zM438.9 217.3h0.9v0.9h-0.9zM440.2 230.3h0.9v0.9h-0.9zM434.1 224.7h0.9v0.9h-0.9zM427.3 227.0h0.9v0.9h-0.9zM440.6 215.6h0.9v0.9h-0.9zM445.1 222.2h0.9v0.9h-0.9zM440.6 219.9h0.9v0.9h-0.9zM441.8 212.5h0.9v0.9h-0.9zM435.5 227.2h0.9v0.9h-0.9zM432.4 225.5h0.9v0.9h-0.9zM434.1 223.5h0.9v0.9h-0.9zM437.7 234.5h0.9v0.9h-0.9zM429.5 226.0h0.9v0.9h-0.9zM442.9 214.9h0.9v0.9h-0.9zM436.4 235.0h0.9v0.9h-0.9zM441.5 204.2h0.9v0.9h-0.9zM434.8 211.5h0.9v0.9h-0.9zM437.6 217.3h0.9v0.9h-0.9zM433.1 216.6h0.9v0.9h-0.9zM437.5 218.8h0.9v0.9h-0.9zM431.3 220.2h0.9v0.9h-0.9zM438.1 216.5h0.9v0.9h-0.9zM441.8 211.8h0.9v0.9h-0.9zM438.1 219.2h0.9v0.9h-0.9zM444.3 217.8h0.9v0.9h-0.9zM432.5 213.7h0.9v0.9h-0.9zM446.4 225.1h0.9v0.9h-0.9zM430.3 219.5h0.9v0.9h-0.9zM431.0 230.4h0.9v0.9h-0.9zM438.2 209.6h0.9v0.9h-0.9zM437.1 226.8h0.9v0.9h-0.9zM436.0 224.3h0.9v0.9h-0.9zM435.4 222.7h0.9v0.9h-0.9zM437.1 217.4h0.9v0.9h-0.9zM437.8 222.5h0.9v0.9h-0.9zM435.8 217.5h0.9v0.9h-0.9zM430.7 222.9h0.9v0.9h-0.9zM440.3 207.4h0.9v0.9h-0.9zM433.2 229.4h0.9v0.9h-0.9zM440.8 217.3h0.9v0.9h-0.9zM443.1 215.7h0.9v0.9h-0.9zM431.9 232.8h0.9v0.9h-0.9zM433.7 220.2h0.9v0.9h-0.9zM427.3 215.6h0.9v0.9h-0.9zM429.8 220.7h0.9v0.9h-0.9zM434.1 218.0h0.9v0.9h-0.9zM432.7 225.8h0.9v0.9h-0.9zM444.1 219.1h0.9v0.9h-0.9zM444.5 230.9h0.9v0.9h-0.9zM443.0 223.2h0.9v0.9h-0.9zM428.2 225.4h0.9v0.9h-0.9zM433.9 222.6h0.9v0.9h-0.9zM437.2 216.0h0.9v0.9h-0.9zM437.5 231.3h0.9v0.9h-0.9zM437.2 217.5h0.9v0.9h-0.9zM448.5 208.9h0.9v0.9h-0.9zM431.2 223.9h0.9v0.9h-0.9zM432.9 208.1h0.9v0.9h-0.9zM437.4 226.4h0.9v0.9h-0.9zM431.8 230.1h0.9v0.9h-0.9zM438.6 228.5h0.9v0.9h-0.9zM428.0 221.5h0.9v0.9h-0.9zM444.4 233.3h0.9v0.9h-0.9zM442.9 221.5h0.9v0.9h-0.9zM437.0 217.8h0.9v0.9h-0.9zM441.8 217.4h0.9v0.9h-0.9zM436.7 209.4h0.9v0.9h-0.9zM428.1 231.9h0.9v0.9h-0.9zM436.3 222.8h0.9v0.9h-0.9zM446.9 212.8h0.9v0.9h-0.9zM433.2 220.3h0.9v0.9h-0.9zM429.4 213.6h0.9v0.9h-0.9zM429.5 225.3h0.9v0.9h-0.9zM435.8 226.3h0.9v0.9h-0.9zM430.3 225.0h0.9v0.9h-0.9zM433.7 222.0h0.9v0.9h-0.9zM440.9 221.7h0.9v0.9h-0.9zM434.1 211.7h0.9v0.9h-0.9zM436.3 226.1h0.9v0.9h-0.9zM432.7 221.1h0.9v0.9h-0.9zM438.1 229.1h0.9v0.9h-0.9zM434.4 211.7h0.9v0.9h-0.9zM434.0 212.3h0.9v0.9h-0.9zM434.5 232.8h0.9v0.9h-0.9zM437.6 220.6h0.9v0.9h-0.9zM441.5 219.3h0.9v0.9h-0.9zM437.8 222.7h0.9v0.9h-0.9zM438.4 212.9h0.9v0.9h-0.9zM439.8 226.7h0.9v0.9h-0.9zM431.3 230.3h0.9v0.9h-0.9zM436.1 225.5h0.9v0.9h-0.9zM438.9 226.7h0.9v0.9h-0.9zM432.6 218.1h0.9v0.9h-0.9zM438.0 225.1h0.9v0.9h-0.9zM439.0 223.5h0.9v0.9h-0.9zM433.4 228.0h0.9v0.9h-0.9zM438.5 227.8h0.9v0.9h-0.9zM432.5 222.2h0.9v0.9h-0.9zM433.5 219.7h0.9v0.9h-0.9zM437.0 223.5h0.9v0.9h-0.9zM431.8 206.6h0.9v0.9h-0.9zM431.9 224.7h0.9v0.9h-0.9zM431.5 224.0h0.9v0.9h-0.9zM434.0 215.9h0.9v0.9h-0.9zM442.2 231.3h0.9v0.9h-0.9zM435.5 221.2h0.9v0.9h-0.9zM441.1 213.6h0.9v0.9h-0.9zM431.4 228.2h0.9v0.9h-0.9zM440.8 218.6h0.9v0.9h-0.9zM431.9 223.6h0.9v0.9h-0.9zM428.5 218.5h0.9v0.9h-0.9zM434.8 206.9h0.9v0.9h-0.9zM439.2 226.0h0.9v0.9h-0.9zM441.7 213.0h0.9v0.9h-0.9zM429.1 216.7h0.9v0.9h-0.9zM429.0 233.7h0.9v0.9h-0.9zM430.8 219.6h0.9v0.9h-0.9zM437.1 224.2h0.9v0.9h-0.9zM443.8 215.0h0.9v0.9h-0.9zM440.7 222.4h0.9v0.9h-0.9zM429.7 222.4h0.9v0.9h-0.9zM428.5 231.1h0.9v0.9h-0.9zM432.1 227.5h0.9v0.9h-0.9zM443.0 217.8h0.9v0.9h-0.9zM431.2 222.3h0.9v0.9h-0.9zM430.4 226.9h0.9v0.9h-0.9zM436.9 217.0h0.9v0.9h-0.9zM432.3 225.8h0.9v0.9h-0.9zM428.2 231.6h0.9v0.9h-0.9zM431.8 220.3h0.9v0.9h-0.9zM431.0 231.2h0.9v0.9h-0.9zM440.4 229.3h0.9v0.9h-0.9zM439.5 222.0h0.9v0.9h-0.9zM445.1 225.5h0.9v0.9h-0.9zM438.3 224.9h0.9v0.9h-0.9zM440.0 223.2h0.9v0.9h-0.9zM435.1 212.0h0.9v0.9h-0.9zM447.1 213.7h0.9v0.9h-0.9zM446.4 228.8h0.9v0.9h-0.9zM432.8 223.1h0.9v0.9h-0.9zM435.9 209.6h0.9v0.9h-0.9zM434.2 223.2h0.9v0.9h-0.9zM442.3 214.3h0.9v0.9h-0.9zM437.8 222.0h0.9v0.9h-0.9zM436.8 222.4h0.9v0.9h-0.9zM434.0 213.3h0.9v0.9h-0.9zM438.4 223.8h0.9v0.9h-0.9zM439.1 229.0h0.9v0.9h-0.9zM429.3 207.5h0.9v0.9h-0.9zM431.1 223.9h0.9v0.9h-0.9zM435.9 225.9h0.9v0.9h-0.9zM453.3 218.4h0.9v0.9h-0.9zM435.1 217.9h0.9v0.9h-0.9zM437.3 224.6h0.9v0.9h-0.9zM430.8 229.4h0.9v0.9h-0.9zM442.2 224.2h0.9v0.9h-0.9zM435.4 220.1h0.9v0.9h-0.9zM427.1 225.4h0.9v0.9h-0.9zM430.7 218.5h0.9v0.9h-0.9zM441.4 216.0h0.9v0.9h-0.9zM433.2 226.6h0.9v0.9h-0.9zM446.0 217.4h0.9v0.9h-0.9zM442.0 217.6h0.9v0.9h-0.9zM438.1 224.4h0.9v0.9h-0.9zM429.9 227.7h0.9v0.9h-0.9zM445.7 221.8h0.9v0.9h-0.9zM437.5 214.5h0.9v0.9h-0.9zM445.7 221.9h0.9v0.9h-0.9zM429.1 226.1h0.9v0.9h-0.9zM428.1 217.4h0.9v0.9h-0.9zM447.9 217.7h0.9v0.9h-0.9zM432.5 218.0h0.9v0.9h-0.9zM432.9 224.8h0.9v0.9h-0.9zM443.9 215.5h0.9v0.9h-0.9zM438.4 210.7h0.9v0.9h-0.9zM444.2 221.0h0.9v0.9h-0.9zM432.2 230.7h0.9v0.9h-0.9zM435.4 229.7h0.9v0.9h-0.9zM441.8 231.4h0.9v0.9h-0.9zM431.7 221.8h0.9v0.9h-0.9zM438.0 220.3h0.9v0.9h-0.9zM444.2 217.2h0.9v0.9h-0.9zM441.4 229.7h0.9v0.9h-0.9zM431.1 218.2h0.9v0.9h-0.9zM438.1 220.5h0.9v0.9h-0.9zM436.4 218.7h0.9v0.9h-0.9zM435.6 224.4h0.9v0.9h-0.9zM440.0 216.8h0.9v0.9h-0.9zM435.4 216.9h0.9v0.9h-0.9zM435.0 212.9h0.9v0.9h-0.9zM441.2 225.5h0.9v0.9h-0.9zM435.3 217.4h0.9v0.9h-0.9zM433.5 217.5h0.9v0.9h-0.9zM427.7 231.3h0.9v0.9h-0.9zM453.8 214.1h0.9v0.9h-0.9zM429.7 225.0h0.9v0.9h-0.9zM439.3 212.1h0.9v0.9h-0.9zM433.3 222.0h0.9v0.9h-0.9zM436.0 218.1h0.9v0.9h-0.9zM435.2 219.7h0.9v0.9h-0.9zM442.7 220.9h0.9v0.9h-0.9zM435.8 218.3h0.9v0.9h-0.9zM432.6 217.1h0.9v0.9h-0.9zM436.1 232.5h0.9v0.9h-0.9zM442.0 222.9h0.9v0.9h-0.9zM445.0 227.6h0.9v0.9h-0.9zM437.1 220.5h0.9v0.9h-0.9zM430.1 223.0h0.9v0.9h-0.9zM434.3 212.0h0.9v0.9h-0.9zM429.1 233.1h0.9v0.9h-0.9zM437.2 224.5h0.9v0.9h-0.9zM437.1 218.7h0.9v0.9h-0.9zM438.5 228.0h0.9v0.9h-0.9zM434.3 224.6h0.9v0.9h-0.9zM441.5 218.6h0.9v0.9h-0.9zM436.9 217.1h0.9v0.9h-0.9zM439.3 219.3h0.9v0.9h-0.9zM442.2 216.9h0.9v0.9h-0.9zM445.1 219.6h0.9v0.9h-0.9zM431.5 216.1h0.9v0.9h-0.9zM439.6 216.4h0.9v0.9h-0.9zM445.7 229.2h0.9v0.9h-0.9zM438.8 213.0h0.9v0.9h-0.9zM435.9 217.1h0.9v0.9h-0.9zM447.9 218.3h0.9v0.9h-0.9zM440.4 229.2h0.9v0.9h-0.9zM430.8 219.5h0.9v0.9h-0.9zM437.4 224.3h0.9v0.9h-0.9zM429.8 222.8h0.9v0.9h-0.9zM435.4 227.2h0.9v0.9h-0.9zM427.4 218.1h0.9v0.9h-0.9zM433.3 219.6h0.9v0.9h-0.9zM439.9 217.7h0.9v0.9h-0.9zM450.8 217.3h0.9v0.9h-0.9zM440.5 227.6h0.9v0.9h-0.9zM441.2 220.3h0.9v0.9h-0.9zM431.5 220.0h0.9v0.9h-0.9zM439.6 222.2h0.9v0.9h-0.9zM439.1 224.9h0.9v0.9h-0.9zM431.2 215.9h0.9v0.9h-0.9zM443.8 218.6h0.9v0.9h-0.9zM427.4 232.7h0.9v0.9h-0.9zM431.5 215.9h0.9v0.9h-0.9zM441.2 214.7h0.9v0.9h-0.9zM431.3 227.8h0.9v0.9h-0.9zM431.6 236.5h0.9v0.9h-0.9zM436.5 237.6h0.9v0.9h-0.9zM436.7 221.8h0.9v0.9h-0.9zM432.5 220.2h0.9v0.9h-0.9zM433.3 221.4h0.9v0.9h-0.9zM440.2 213.9h0.9v0.9h-0.9zM431.0 208.9h0.9v0.9h-0.9zM444.1 221.1h0.9v0.9h-0.9zM435.9 221.2h0.9v0.9h-0.9zM441.4 223.4h0.9v0.9h-0.9zM440.6 220.5h0.9v0.9h-0.9zM435.3 221.2h0.9v0.9h-0.9zM427.5 215.5h0.9v0.9h-0.9zM439.6 221.8h0.9v0.9h-0.9zM440.4 231.7h0.9v0.9h-0.9zM446.1 229.8h0.9v0.9h-0.9zM434.8 233.8h0.9v0.9h-0.9zM431.2 221.0h0.9v0.9h-0.9zM441.4 220.2h0.9v0.9h-0.9zM435.3 219.4h0.9v0.9h-0.9zM443.4 206.7h0.9v0.9h-0.9zM442.9 227.9h0.9v0.9h-0.9zM435.6 224.9h0.9v0.9h-0.9zM430.8 228.2h0.9v0.9h-0.9zM452.5 216.0h0.9v0.9h-0.9zM443.5 221.2h0.9v0.9h-0.9zM434.2 218.6h0.9v0.9h-0.9zM435.0 214.0h0.9v0.9h-0.9zM428.7 231.5h0.9v0.9h-0.9zM435.9 224.8h0.9v0.9h-0.9zM437.7 224.4h0.9v0.9h-0.9zM427.8 215.8h0.9v0.9h-0.9zM439.4 227.5h0.9v0.9h-0.9zM429.8 218.0h0.9v0.9h-0.9zM430.2 225.4h0.9v0.9h-0.9zM437.9 221.7h0.9v0.9h-0.9zM432.5 223.6h0.9v0.9h-0.9zM436.2 217.0h0.9v0.9h-0.9zM437.8 217.5h0.9v0.9h-0.9zM441.1 225.3h0.9v0.9h-0.9zM432.3 225.0h0.9v0.9h-0.9zM436.4 217.3h0.9v0.9h-0.9zM431.1 211.5h0.9v0.9h-0.9zM429.9 223.6h0.9v0.9h-0.9zM442.5 217.7h0.9v0.9h-0.9zM436.9 223.6h0.9v0.9h-0.9zM440.2 224.2h0.9v0.9h-0.9zM442.6 226.1h0.9v0.9h-0.9zM431.9 223.9h0.9v0.9h-0.9zM436.1 225.0h0.9v0.9h-0.9zM434.4 226.5h0.9v0.9h-0.9zM443.1 216.5h0.9v0.9h-0.9zM433.1 223.1h0.9v0.9h-0.9zM438.6 222.4h0.9v0.9h-0.9zM440.5 214.4h0.9v0.9h-0.9zM440.2 228.5h0.9v0.9h-0.9zM442.0 224.1h0.9v0.9h-0.9zM434.7 223.9h0.9v0.9h-0.9zM435.6 212.0h0.9v0.9h-0.9zM432.7 221.3h0.9v0.9h-0.9zM433.2 215.9h0.9v0.9h-0.9zM434.7 219.3h0.9v0.9h-0.9zM436.4 221.2h0.9v0.9h-0.9zM436.9 227.5h0.9v0.9h-0.9zM436.7 223.9h0.9v0.9h-0.9zM429.4 203.8h0.9v0.9h-0.9zM433.8 225.6h0.9v0.9h-0.9zM434.2 217.8h0.9v0.9h-0.9zM429.3 226.9h0.9v0.9h-0.9zM433.2 223.0h0.9v0.9h-0.9zM442.1 224.7h0.9v0.9h-0.9zM448.1 220.7h0.9v0.9h-0.9zM441.2 225.7h0.9v0.9h-0.9zM432.5 221.8h0.9v0.9h-0.9zM433.0 215.4h0.9v0.9h-0.9zM437.6 216.9h0.9v0.9h-0.9zM445.1 217.1h0.9v0.9h-0.9zM433.1 222.0h0.9v0.9h-0.9zM433.2 221.8h0.9v0.9h-0.9zM432.7 213.0h0.9v0.9h-0.9zM444.2 224.2h0.9v0.9h-0.9zM436.8 218.7h0.9v0.9h-0.9zM435.2 223.3h0.9v0.9h-0.9zM428.5 216.7h0.9v0.9h-0.9zM431.2 229.1h0.9v0.9h-0.9zM430.3 228.5h0.9v0.9h-0.9zM433.5 237.9h0.9v0.9h-0.9zM435.6 221.7h0.9v0.9h-0.9zM443.3 226.7h0.9v0.9h-0.9zM441.1 215.1h0.9v0.9h-0.9zM442.1 231.6h0.9v0.9h-0.9zM435.4 218.6h0.9v0.9h-0.9zM430.1 227.6h0.9v0.9h-0.9zM437.6 221.5h0.9v0.9h-0.9zM429.3 231.2h0.9v0.9h-0.9zM440.7 221.4h0.9v0.9h-0.9zM444.0 215.8h0.9v0.9h-0.9zM440.8 215.5h0.9v0.9h-0.9zM443.6 219.8h0.9v0.9h-0.9zM442.6 219.0h0.9v0.9h-0.9zM438.2 228.4h0.9v0.9h-0.9zM431.1 222.1h0.9v0.9h-0.9zM431.5 226.6h0.9v0.9h-0.9zM432.7 219.3h0.9v0.9h-0.9zM434.9 228.5h0.9v0.9h-0.9zM430.4 221.3h0.9v0.9h-0.9zM434.2 218.2h0.9v0.9h-0.9zM431.7 220.5h0.9v0.9h-0.9zM437.1 212.2h0.9v0.9h-0.9zM437.3 214.4h0.9v0.9h-0.9zM436.1 235.2h0.9v0.9h-0.9zM430.8 221.1h0.9v0.9h-0.9zM434.6 227.4h0.9v0.9h-0.9zM433.4 210.8h0.9v0.9h-0.9zM427.3 222.6h0.9v0.9h-0.9zM437.4 227.9h0.9v0.9h-0.9zM433.1 225.5h0.9v0.9h-0.9zM430.3 229.3h0.9v0.9h-0.9zM435.6 217.4h0.9v0.9h-0.9zM437.0 232.0h0.9v0.9h-0.9zM431.4 214.1h0.9v0.9h-0.9zM430.5 214.6h0.9v0.9h-0.9zM435.7 223.6h0.9v0.9h-0.9zM435.1 222.7h0.9v0.9h-0.9zM442.4 219.8h0.9v0.9h-0.9zM429.2 207.8h0.9v0.9h-0.9zM437.3 217.4h0.9v0.9h-0.9zM434.7 224.0h0.9v0.9h-0.9zM438.5 212.1h0.9v0.9h-0.9zM430.8 221.9h0.9v0.9h-0.9zM435.2 228.4h0.9v0.9h-0.9zM433.3 209.1h0.9v0.9h-0.9zM442.3 211.7h0.9v0.9h-0.9zM430.8 223.8h0.9v0.9h-0.9zM430.3 236.4h0.9v0.9h-0.9zM437.3 224.7h0.9v0.9h-0.9zM433.6 234.8h0.9v0.9h-0.9zM438.9 217.2h0.9v0.9h-0.9zM442.8 211.4h0.9v0.9h-0.9zM432.8 223.2h0.9v0.9h-0.9zM436.7 215.7h0.9v0.9h-0.9zM444.5 230.3h0.9v0.9h-0.9zM431.0 223.7h0.9v0.9h-0.9zM432.6 218.9h0.9v0.9h-0.9zM441.3 222.3h0.9v0.9h-0.9zM435.4 222.1h0.9v0.9h-0.9zM429.7 228.8h0.9v0.9h-0.9zM431.9 229.4h0.9v0.9h-0.9zM433.5 218.8h0.9v0.9h-0.9zM444.0 222.6h0.9v0.9h-0.9zM432.5 218.3h0.9v0.9h-0.9zM439.3 232.7h0.9v0.9h-0.9zM439.3 219.1h0.9v0.9h-0.9zM429.9 217.5h0.9v0.9h-0.9zM435.4 223.0h0.9v0.9h-0.9zM432.5 229.2h0.9v0.9h-0.9zM430.8 217.2h0.9v0.9h-0.9zM438.7 224.4h0.9v0.9h-0.9zM433.9 227.3h0.9v0.9h-0.9zM428.4 231.3h0.9v0.9h-0.9zM447.8 233.2h0.9v0.9h-0.9zM436.6 233.3h0.9v0.9h-0.9zM436.3 229.5h0.9v0.9h-0.9zM434.9 222.7h0.9v0.9h-0.9zM438.8 211.0h0.9v0.9h-0.9zM434.9 231.8h0.9v0.9h-0.9zM441.0 223.5h0.9v0.9h-0.9zM437.1 229.8h0.9v0.9h-0.9zM437.8 210.1h0.9v0.9h-0.9zM430.9 219.7h0.9v0.9h-0.9zM436.8 218.8h0.9v0.9h-0.9zM435.4 231.5h0.9v0.9h-0.9zM441.1 225.1h0.9v0.9h-0.9zM436.1 221.9h0.9v0.9h-0.9zM438.0 223.0h0.9v0.9h-0.9zM432.1 226.2h0.9v0.9h-0.9zM431.5 221.3h0.9v0.9h-0.9zM434.1 214.6h0.9v0.9h-0.9zM439.3 221.1h0.9v0.9h-0.9zM429.7 221.0h0.9v0.9h-0.9zM428.6 230.1h0.9v0.9h-0.9zM438.8 233.4h0.9v0.9h-0.9zM432.9 225.7h0.9v0.9h-0.9zM430.8 216.4h0.9v0.9h-0.9zM435.5 224.0h0.9v0.9h-0.9zM441.0 219.9h0.9v0.9h-0.9zM441.9 227.3h0.9v0.9h-0.9zM431.3 220.4h0.9v0.9h-0.9zM431.1 231.7h0.9v0.9h-0.9zM433.0 226.8h0.9v0.9h-0.9zM440.9 220.0h0.9v0.9h-0.9zM433.4 223.6h0.9v0.9h-0.9zM431.8 213.9h0.9v0.9h-0.9zM430.8 223.5h0.9v0.9h-0.9zM437.0 232.0h0.9v0.9h-0.9zM429.8 228.4h0.9v0.9h-0.9zM439.7 222.3h0.9v0.9h-0.9zM443.9 219.3h0.9v0.9h-0.9zM433.2 215.2h0.9v0.9h-0.9zM432.5 222.2h0.9v0.9h-0.9zM439.6 229.1h0.9v0.9h-0.9zM434.6 217.1h0.9v0.9h-0.9zM434.2 218.9h0.9v0.9h-0.9zM433.5 219.1h0.9v0.9h-0.9zM431.3 221.2h0.9v0.9h-0.9zM433.2 220.5h0.9v0.9h-0.9zM428.6 222.4h0.9v0.9h-0.9zM439.1 225.4h0.9v0.9h-0.9zM433.1 214.7h0.9v0.9h-0.9zM429.0 214.5h0.9v0.9h-0.9zM432.6 219.7h0.9v0.9h-0.9zM427.7 217.4h0.9v0.9h-0.9zM432.1 226.4h0.9v0.9h-0.9zM445.9 219.4h0.9v0.9h-0.9zM434.5 219.2h0.9v0.9h-0.9zM434.9 220.5h0.9v0.9h-0.9zM449.2 215.0h0.9v0.9h-0.9zM435.4 216.8h0.9v0.9h-0.9zM437.9 218.4h0.9v0.9h-0.9zM439.1 215.1h0.9v0.9h-0.9zM447.3 222.7h0.9v0.9h-0.9zM433.5 214.6h0.9v0.9h-0.9zM438.4 218.4h0.9v0.9h-0.9zM439.9 218.3h0.9v0.9h-0.9zM440.8 222.4h0.9v0.9h-0.9zM437.9 222.4h0.9v0.9h-0.9zM434.1 219.4h0.9v0.9h-0.9zM438.4 225.7h0.9v0.9h-0.9zM433.8 234.8h0.9v0.9h-0.9zM445.0 214.7h0.9v0.9h-0.9zM441.8 221.1h0.9v0.9h-0.9zM437.2 216.8h0.9v0.9h-0.9zM444.8 216.6h0.9v0.9h-0.9zM435.6 217.2h0.9v0.9h-0.9zM446.3 228.9h0.9v0.9h-0.9zM429.0 218.8h0.9v0.9h-0.9zM437.9 219.0h0.9v0.9h-0.9zM434.1 215.1h0.9v0.9h-0.9zM437.3 215.0h0.9v0.9h-0.9zM440.4 235.7h0.9v0.9h-0.9zM434.3 231.2h0.9v0.9h-0.9zM438.0 217.5h0.9v0.9h-0.9zM434.2 215.8h0.9v0.9h-0.9zM436.6 225.6h0.9v0.9h-0.9zM441.0 219.9h0.9v0.9h-0.9zM429.6 221.1h0.9v0.9h-0.9zM444.9 223.2h0.9v0.9h-0.9zM435.7 209.2h0.9v0.9h-0.9zM433.7 224.7h0.9v0.9h-0.9zM431.0 229.5h0.9v0.9h-0.9zM433.0 216.4h0.9v0.9h-0.9zM432.9 221.0h0.9v0.9h-0.9zM441.3 218.2h0.9v0.9h-0.9zM438.8 230.6h0.9v0.9h-0.9zM430.0 230.2h0.9v0.9h-0.9zM439.6 224.2h0.9v0.9h-0.9zM431.9 216.3h0.9v0.9h-0.9zM430.9 227.0h0.9v0.9h-0.9zM437.2 227.8h0.9v0.9h-0.9zM445.7 221.6h0.9v0.9h-0.9zM435.7 232.8h0.9v0.9h-0.9zM429.1 218.9h0.9v0.9h-0.9zM434.0 219.3h0.9v0.9h-0.9zM436.8 216.6h0.9v0.9h-0.9zM442.2 213.5h0.9v0.9h-0.9zM431.7 211.6h0.9v0.9h-0.9zM428.6 225.0h0.9v0.9h-0.9zM439.3 220.4h0.9v0.9h-0.9zM440.5 225.2h0.9v0.9h-0.9zM432.9 221.3h0.9v0.9h-0.9zM438.0 233.3h0.9v0.9h-0.9zM433.7 223.7h0.9v0.9h-0.9zM438.9 228.7h0.9v0.9h-0.9zM438.3 227.8h0.9v0.9h-0.9zM430.4 220.0h0.9v0.9h-0.9zM448.4 223.0h0.9v0.9h-0.9zM436.5 223.1h0.9v0.9h-0.9zM436.8 213.8h0.9v0.9h-0.9zM432.3 220.5h0.9v0.9h-0.9zM436.9 216.5h0.9v0.9h-0.9zM435.4 217.2h0.9v0.9h-0.9zM429.0 217.7h0.9v0.9h-0.9zM431.7 226.5h0.9v0.9h-0.9zM443.1 224.9h0.9v0.9h-0.9zM434.9 218.3h0.9v0.9h-0.9zM427.7 218.4h0.9v0.9h-0.9zM444.3 228.3h0.9v0.9h-0.9zM437.2 220.1h0.9v0.9h-0.9zM436.0 224.0h0.9v0.9h-0.9zM436.0 224.0h0.9v0.9h-0.9zM431.9 221.8h0.9v0.9h-0.9zM434.1 227.8h0.9v0.9h-0.9zM429.4 229.1h0.9v0.9h-0.9zM435.5 218.6h0.9v0.9h-0.9zM436.1 222.3h0.9v0.9h-0.9zM434.8 224.0h0.9v0.9h-0.9zM432.9 211.6h0.9v0.9h-0.9zM439.7 221.4h0.9v0.9h-0.9zM444.8 223.8h0.9v0.9h-0.9zM432.4 224.7h0.9v0.9h-0.9zM447.8 227.9h0.9v0.9h-0.9zM430.2 221.0h0.9v0.9h-0.9zM427.5 225.5h0.9v0.9h-0.9zM439.0 215.5h0.9v0.9h-0.9zM438.4 227.0h0.9v0.9h-0.9zM440.3 217.6h0.9v0.9h-0.9zM432.3 215.0h0.9v0.9h-0.9zM429.1 223.4h0.9v0.9h-0.9zM436.2 229.2h0.9v0.9h-0.9zM437.5 219.7h0.9v0.9h-0.9zM428.4 230.6h0.9v0.9h-0.9zM436.9 221.4h0.9v0.9h-0.9zM430.7 215.4h0.9v0.9h-0.9zM439.4 215.9h0.9v0.9h-0.9zM439.1 225.2h0.9v0.9h-0.9zM434.0 212.1h0.9v0.9h-0.9zM438.2 229.8h0.9v0.9h-0.9zM431.6 214.2h0.9v0.9h-0.9zM441.8 222.4h0.9v0.9h-0.9zM432.7 228.7h0.9v0.9h-0.9zM434.5 224.2h0.9v0.9h-0.9zM433.9 217.2h0.9v0.9h-0.9zM437.2 216.5h0.9v0.9h-0.9zM442.5 228.0h0.9v0.9h-0.9zM447.5 227.3h0.9v0.9h-0.9zM444.6 223.0h0.9v0.9h-0.9zM433.7 224.3h0.9v0.9h-0.9zM431.0 225.8h0.9v0.9h-0.9zM433.6 223.1h0.9v0.9h-0.9zM431.5 220.8h0.9v0.9h-0.9zM441.2 220.3h0.9v0.9h-0.9zM432.4 223.2h0.9v0.9h-0.9zM440.7 220.5h0.9v0.9h-0.9zM429.8 212.5h0.9v0.9h-0.9zM428.9 227.8h0.9v0.9h-0.9zM435.5 224.3h0.9v0.9h-0.9zM441.7 223.2h0.9v0.9h-0.9zM438.6 218.6h0.9v0.9h-0.9zM427.5 225.2h0.9v0.9h-0.9zM435.5 224.9h0.9v0.9h-0.9zM430.4 220.7h0.9v0.9h-0.9zM446.7 216.7h0.9v0.9h-0.9zM436.5 229.2h0.9v0.9h-0.9zM434.8 222.3h0.9v0.9h-0.9zM433.7 229.0h0.9v0.9h-0.9zM435.5 219.4h0.9v0.9h-0.9zM438.3 220.2h0.9v0.9h-0.9zM433.3 230.5h0.9v0.9h-0.9zM441.2 222.2h0.9v0.9h-0.9zM440.3 226.4h0.9v0.9h-0.9zM439.1 221.8h0.9v0.9h-0.9zM436.4 223.9h0.9v0.9h-0.9zM439.0 223.6h0.9v0.9h-0.9zM433.1 221.1h0.9v0.9h-0.9zM438.4 215.9h0.9v0.9h-0.9zM436.0 226.0h0.9v0.9h-0.9zM436.9 219.9h0.9v0.9h-0.9zM435.9 218.8h0.9v0.9h-0.9zM441.2 219.4h0.9v0.9h-0.9zM427.2 214.6h0.9v0.9h-0.9zM437.6 222.8h0.9v0.9h-0.9zM433.5 214.0h0.9v0.9h-0.9zM435.2 216.7h0.9v0.9h-0.9zM432.5 221.6h0.9v0.9h-0.9zM431.9 223.4h0.9v0.9h-0.9zM432.1 218.9h0.9v0.9h-0.9zM434.8 230.0h0.9v0.9h-0.9zM444.3 227.0h0.9v0.9h-0.9zM432.1 221.6h0.9v0.9h-0.9zM440.8 226.2h0.9v0.9h-0.9zM427.4 221.3h0.9v0.9h-0.9zM432.1 225.9h0.9v0.9h-0.9zM439.4 218.5h0.9v0.9h-0.9zM447.3 220.0h0.9v0.9h-0.9zM448.9 220.6h0.9v0.9h-0.9zM435.6 232.5h0.9v0.9h-0.9zM433.2 218.9h0.9v0.9h-0.9zM443.8 221.4h0.9v0.9h-0.9zM438.5 214.4h0.9v0.9h-0.9zM445.5 227.2h0.9v0.9h-0.9zM437.9 225.6h0.9v0.9h-0.9zM433.4 218.9h0.9v0.9h-0.9zM427.7 223.7h0.9v0.9h-0.9zM442.5 226.5h0.9v0.9h-0.9zM440.9 225.7h0.9v0.9h-0.9zM431.1 214.1h0.9v0.9h-0.9zM439.4 222.5h0.9v0.9h-0.9zM441.2 220.0h0.9v0.9h-0.9zM431.3 224.1h0.9v0.9h-0.9zM433.1 212.2h0.9v0.9h-0.9zM432.8 216.6h0.9v0.9h-0.9zM430.1 218.4h0.9v0.9h-0.9zM441.0 235.1h0.9v0.9h-0.9zM445.1 219.2h0.9v0.9h-0.9zM442.0 221.2h0.9v0.9h-0.9zM438.1 217.7h0.9v0.9h-0.9zM435.6 212.0h0.9v0.9h-0.9zM445.5 217.2h0.9v0.9h-0.9zM439.1 218.2h0.9v0.9h-0.9zM437.4 214.9h0.9v0.9h-0.9zM434.0 226.8h0.9v0.9h-0.9zM439.1 210.5h0.9v0.9h-0.9zM440.5 214.1h0.9v0.9h-0.9zM437.5 224.6h0.9v0.9h-0.9zM432.6 219.8h0.9v0.9h-0.9zM434.7 223.9h0.9v0.9h-0.9zM440.8 229.4h0.9v0.9h-0.9zM437.7 233.0h0.9v0.9h-0.9zM431.0 231.8h0.9v0.9h-0.9zM434.6 226.0h0.9v0.9h-0.9zM435.3 222.1h0.9v0.9h-0.9zM431.1 223.8h0.9v0.9h-0.9zM446.7 222.4h0.9v0.9h-0.9zM435.9 221.6h0.9v0.9h-0.9zM439.8 220.4h0.9v0.9h-0.9zM436.0 222.8h0.9v0.9h-0.9zM442.9 227.0h0.9v0.9h-0.9zM430.4 218.0h0.9v0.9h-0.9zM436.1 226.4h0.9v0.9h-0.9zM441.1 220.4h0.9v0.9h-0.9zM447.2 220.7h0.9v0.9h-0.9zM443.4 229.7h0.9v0.9h-0.9zM444.4 222.7h0.9v0.9h-0.9zM439.0 212.9h0.9v0.9h-0.9zM439.8 227.7h0.9v0.9h-0.9zM435.5 227.5h0.9v0.9h-0.9zM439.1 230.3h0.9v0.9h-0.9zM427.6 216.9h0.9v0.9h-0.9zM430.9 215.6h0.9v0.9h-0.9zM444.7 216.3h0.9v0.9h-0.9zM431.6 219.3h0.9v0.9h-0.9zM440.7 219.0h0.9v0.9h-0.9zM439.9 224.7h0.9v0.9h-0.9zM432.6 208.1h0.9v0.9h-0.9zM431.1 214.5h0.9v0.9h-0.9zM444.7 217.5h0.9v0.9h-0.9zM430.3 223.7h0.9v0.9h-0.9zM436.3 216.3h0.9v0.9h-0.9zM441.8 226.8h0.9v0.9h-0.9zM437.5 217.3h0.9v0.9h-0.9zM431.4 209.9h0.9v0.9h-0.9zM438.0 223.8h0.9v0.9h-0.9zM431.1 221.7h0.9v0.9h-0.9zM453.3 215.2h0.9v0.9h-0.9zM433.7 218.8h0.9v0.9h-0.9zM439.3 220.8h0.9v0.9h-0.9zM441.3 224.5h0.9v0.9h-0.9zM442.1 222.3h0.9v0.9h-0.9zM437.3 213.7h0.9v0.9h-0.9zM436.4 226.6h0.9v0.9h-0.9zM430.6 221.8h0.9v0.9h-0.9zM432.1 215.9h0.9v0.9h-0.9zM432.7 228.9h0.9v0.9h-0.9zM439.6 221.4h0.9v0.9h-0.9zM435.6 222.3h0.9v0.9h-0.9zM437.5 222.6h0.9v0.9h-0.9zM431.5 206.7h0.9v0.9h-0.9zM439.7 214.7h0.9v0.9h-0.9zM435.2 221.0h0.9v0.9h-0.9zM432.9 224.6h0.9v0.9h-0.9zM434.6 220.0h0.9v0.9h-0.9zM430.9 220.0h0.9v0.9h-0.9zM430.5 221.8h0.9v0.9h-0.9zM443.0 227.3h0.9v0.9h-0.9zM438.3 213.8h0.9v0.9h-0.9zM441.5 226.9h0.9v0.9h-0.9zM446.9 208.7h0.9v0.9h-0.9zM436.1 219.7h0.9v0.9h-0.9zM441.8 215.4h0.9v0.9h-0.9zM434.0 234.8h0.9v0.9h-0.9zM441.3 210.2h0.9v0.9h-0.9zM436.1 229.4h0.9v0.9h-0.9zM432.7 225.0h0.9v0.9h-0.9zM436.5 213.2h0.9v0.9h-0.9zM432.7 228.0h0.9v0.9h-0.9zM442.3 218.1h0.9v0.9h-0.9zM442.0 217.5h0.9v0.9h-0.9zM437.3 221.4h0.9v0.9h-0.9zM429.4 223.4h0.9v0.9h-0.9zM433.9 205.9h0.9v0.9h-0.9zM431.6 216.7h0.9v0.9h-0.9zM431.6 216.0h0.9v0.9h-0.9zM432.3 207.5h0.9v0.9h-0.9zM440.7 222.0h0.9v0.9h-0.9zM437.4 220.0h0.9v0.9h-0.9zM436.3 220.0h0.9v0.9h-0.9zM430.2 212.9h0.9v0.9h-0.9zM436.4 227.4h0.9v0.9h-0.9zM437.2 230.8h0.9v0.9h-0.9zM428.8 220.0h0.9v0.9h-0.9zM432.7 228.6h0.9v0.9h-0.9zM445.0 218.6h0.9v0.9h-0.9zM439.9 220.2h0.9v0.9h-0.9zM430.7 220.9h0.9v0.9h-0.9zM430.5 230.4h0.9v0.9h-0.9zM439.1 228.3h0.9v0.9h-0.9zM437.9 207.6h0.9v0.9h-0.9zM440.3 222.1h0.9v0.9h-0.9zM441.4 231.3h0.9v0.9h-0.9zM430.6 226.1h0.9v0.9h-0.9zM437.8 220.5h0.9v0.9h-0.9zM434.5 224.6h0.9v0.9h-0.9zM439.1 225.3h0.9v0.9h-0.9zM433.8 214.0h0.9v0.9h-0.9zM443.0 229.0h0.9v0.9h-0.9zM433.0 221.3h0.9v0.9h-0.9zM440.3 211.4h0.9v0.9h-0.9zM438.7 235.4h0.9v0.9h-0.9zM437.4 217.5h0.9v0.9h-0.9zM446.9 221.6h0.9v0.9h-0.9zM437.1 219.1h0.9v0.9h-0.9zM437.0 211.2h0.9v0.9h-0.9zM429.2 213.1h0.9v0.9h-0.9zM440.8 221.0h0.9v0.9h-0.9zM442.1 209.8h0.9v0.9h-0.9zM432.8 229.9h0.9v0.9h-0.9zM431.8 210.8h0.9v0.9h-0.9zM432.0 219.5h0.9v0.9h-0.9zM435.9 229.0h0.9v0.9h-0.9zM443.1 230.4h0.9v0.9h-0.9zM439.1 218.6h0.9v0.9h-0.9zM433.4 213.0h0.9v0.9h-0.9zM442.8 228.7h0.9v0.9h-0.9zM436.5 216.4h0.9v0.9h-0.9zM439.6 224.3h0.9v0.9h-0.9zM436.8 214.8h0.9v0.9h-0.9zM437.3 218.3h0.9v0.9h-0.9zM439.9 224.9h0.9v0.9h-0.9zM438.3 219.1h0.9v0.9h-0.9zM444.1 226.0h0.9v0.9h-0.9zM442.7 226.3h0.9v0.9h-0.9zM439.5 223.8h0.9v0.9h-0.9zM430.3 211.1h0.9v0.9h-0.9zM431.0 225.0h0.9v0.9h-0.9zM440.8 222.6h0.9v0.9h-0.9zM436.5 232.1h0.9v0.9h-0.9zM433.9 211.3h0.9v0.9h-0.9zM427.8 219.7h0.9v0.9h-0.9zM439.7 225.7h0.9v0.9h-0.9zM434.8 226.2h0.9v0.9h-0.9zM435.7 217.3h0.9v0.9h-0.9zM434.0 225.9h0.9v0.9h-0.9zM441.1 215.0h0.9v0.9h-0.9zM430.8 222.2h0.9v0.9h-0.9zM447.3 214.8h0.9v0.9h-0.9zM429.4 223.9h0.9v0.9h-0.9zM438.7 218.0h0.9v0.9h-0.9zM435.9 224.3h0.9v0.9h-0.9zM439.2 226.8h0.9v0.9h-0.9zM442.2 221.1h0.9v0.9h-0.9zM428.4 229.2h0.9v0.9h-0.9zM440.1 217.8h0.9v0.9h-0.9zM441.5 227.5h0.9v0.9h-0.9zM435.3 207.9h0.9v0.9h-0.9zM433.5 217.2h0.9v0.9h-0.9zM431.6 221.0h0.9v0.9h-0.9zM430.3 223.7h0.9v0.9h-0.9zM446.0 214.7h0.9v0.9h-0.9zM441.5 218.4h0.9v0.9h-0.9zM438.9 220.8h0.9v0.9h-0.9zM442.8 217.4h0.9v0.9h-0.9zM439.9 217.0h0.9v0.9h-0.9zM437.2 221.4h0.9v0.9h-0.9zM441.8 212.4h0.9v0.9h-0.9zM428.9 229.5h0.9v0.9h-0.9zM438.0 231.3h0.9v0.9h-0.9zM430.6 222.7h0.9v0.9h-0.9zM439.2 231.7h0.9v0.9h-0.9zM435.7 218.9h0.9v0.9h-0.9zM439.8 220.9h0.9v0.9h-0.9zM432.0 225.9h0.9v0.9h-0.9zM443.2 218.6h0.9v0.9h-0.9zM434.3 223.6h0.9v0.9h-0.9zM441.9 224.5h0.9v0.9h-0.9zM430.9 218.2h0.9v0.9h-0.9zM441.5 220.8h0.9v0.9h-0.9zM432.7 226.5h0.9v0.9h-0.9zM442.0 234.0h0.9v0.9h-0.9zM430.3 217.4h0.9v0.9h-0.9zM432.3 223.5h0.9v0.9h-0.9zM433.5 227.9h0.9v0.9h-0.9zM432.6 219.9h0.9v0.9h-0.9zM439.0 222.7h0.9v0.9h-0.9zM430.7 230.1h0.9v0.9h-0.9zM439.0 218.7h0.9v0.9h-0.9zM437.1 215.1h0.9v0.9h-0.9zM429.5 219.8h0.9v0.9h-0.9zM437.9 222.1h0.9v0.9h-0.9zM431.9 213.5h0.9v0.9h-0.9zM427.2 230.7h0.9v0.9h-0.9zM437.9 216.9h0.9v0.9h-0.9zM442.3 224.6h0.9v0.9h-0.9zM433.8 218.0h0.9v0.9h-0.9zM442.0 223.4h0.9v0.9h-0.9zM444.6 223.6h0.9v0.9h-0.9zM432.9 218.1h0.9v0.9h-0.9zM432.3 223.0h0.9v0.9h-0.9zM437.3 225.0h0.9v0.9h-0.9zM438.4 215.5h0.9v0.9h-0.9zM434.9 216.1h0.9v0.9h-0.9zM438.5 213.9h0.9v0.9h-0.9zM432.9 216.6h0.9v0.9h-0.9zM432.7 220.0h0.9v0.9h-0.9zM444.0 220.0h0.9v0.9h-0.9zM428.5 219.8h0.9v0.9h-0.9zM439.9 224.7h0.9v0.9h-0.9zM437.3 233.0h0.9v0.9h-0.9zM441.8 222.0h0.9v0.9h-0.9zM442.4 213.8h0.9v0.9h-0.9zM435.1 216.5h0.9v0.9h-0.9zM436.9 230.8h0.9v0.9h-0.9zM433.4 230.7h0.9v0.9h-0.9zM430.6 229.7h0.9v0.9h-0.9zM427.1 216.6h0.9v0.9h-0.9zM441.2 221.0h0.9v0.9h-0.9zM436.8 221.4h0.9v0.9h-0.9zM437.0 220.5h0.9v0.9h-0.9zM430.9 219.8h0.9v0.9h-0.9zM436.6 216.3h0.9v0.9h-0.9zM438.5 231.6h0.9v0.9h-0.9zM427.4 218.4h0.9v0.9h-0.9zM434.5 221.6h0.9v0.9h-0.9zM436.5 217.3h0.9v0.9h-0.9zM435.8 221.5h0.9v0.9h-0.9zM435.5 230.4h0.9v0.9h-0.9zM436.7 213.0h0.9v0.9h-0.9zM427.8 224.9h0.9v0.9h-0.9zM434.2 217.9h0.9v0.9h-0.9zM428.9 219.7h0.9v0.9h-0.9zM435.5 217.6h0.9v0.9h-0.9zM434.2 226.6h0.9v0.9h-0.9zM440.1 224.6h0.9v0.9h-0.9zM435.1 213.7h0.9v0.9h-0.9zM440.1 230.1h0.9v0.9h-0.9zM442.7 228.2h0.9v0.9h-0.9zM437.5 223.7h0.9v0.9h-0.9zM435.9 228.7h0.9v0.9h-0.9zM434.6 233.9h0.9v0.9h-0.9zM440.1 219.7h0.9v0.9h-0.9zM436.0 212.2h0.9v0.9h-0.9zM432.2 219.8h0.9v0.9h-0.9zM448.8 216.8h0.9v0.9h-0.9zM440.8 221.9h0.9v0.9h-0.9zM434.4 225.1h0.9v0.9h-0.9zM446.1 223.2h0.9v0.9h-0.9zM435.7 222.4h0.9v0.9h-0.9zM439.5 218.7h0.9v0.9h-0.9zM436.6 224.4h0.9v0.9h-0.9zM434.2 223.7h0.9v0.9h-0.9zM437.8 225.6h0.9v0.9h-0.9zM430.8 218.4h0.9v0.9h-0.9zM433.8 228.4h0.9v0.9h-0.9zM437.3 212.0h0.9v0.9h-0.9zM429.3 232.7h0.9v0.9h-0.9zM437.8 214.1h0.9v0.9h-0.9zM431.2 222.3h0.9v0.9h-0.9zM443.5 230.8h0.9v0.9h-0.9zM434.1 219.8h0.9v0.9h-0.9zM446.1 215.8h0.9v0.9h-0.9zM444.2 223.5h0.9v0.9h-0.9zM436.5 228.9h0.9v0.9h-0.9zM438.5 216.7h0.9v0.9h-0.9zM428.0 221.6h0.9v0.9h-0.9zM438.7 229.4h0.9v0.9h-0.9zM439.2 230.2h0.9v0.9h-0.9zM440.2 222.7h0.9v0.9h-0.9zM438.3 223.8h0.9v0.9h-0.9zM432.7 220.8h0.9v0.9h-0.9zM436.7 218.9h0.9v0.9h-0.9zM428.3 213.2h0.9v0.9h-0.9zM438.6 224.5h0.9v0.9h-0.9zM436.6 214.8h0.9v0.9h-0.9zM440.5 219.2h0.9v0.9h-0.9zM428.2 234.5h0.9v0.9h-0.9zM438.8 219.0h0.9v0.9h-0.9zM443.8 229.3h0.9v0.9h-0.9zM437.4 211.6h0.9v0.9h-0.9zM434.0 219.9h0.9v0.9h-0.9zM438.4 220.8h0.9v0.9h-0.9zM437.8 212.1h0.9v0.9h-0.9zM432.6 229.8h0.9v0.9h-0.9zM428.4 226.8h0.9v0.9h-0.9zM448.1 225.3h0.9v0.9h-0.9zM428.7 228.7h0.9v0.9h-0.9zM433.9 228.6h0.9v0.9h-0.9zM442.2 222.6h0.9v0.9h-0.9zM445.4 227.2h0.9v0.9h-0.9zM433.5 215.8h0.9v0.9h-0.9zM448.9 219.2h0.9v0.9h-0.9zM438.2 220.8h0.9v0.9h-0.9zM433.5 212.2h0.9v0.9h-0.9zM435.2 220.8h0.9v0.9h-0.9zM441.2 218.5h0.9v0.9h-0.9zM427.8 215.3h0.9v0.9h-0.9zM435.8 222.9h0.9v0.9h-0.9zM439.8 219.3h0.9v0.9h-0.9zM438.8 222.3h0.9v0.9h-0.9zM444.9 221.2h0.9v0.9h-0.9zM436.8 224.8h0.9v0.9h-0.9zM442.4 216.2h0.9v0.9h-0.9zM433.5 219.9h0.9v0.9h-0.9zM441.6 221.6h0.9v0.9h-0.9zM453.7 228.8h0.9v0.9h-0.9zM446.6 230.6h0.9v0.9h-0.9zM440.7 213.3h0.9v0.9h-0.9zM444.0 223.9h0.9v0.9h-0.9zM429.7 221.8h0.9v0.9h-0.9zM440.0 227.2h0.9v0.9h-0.9zM436.9 218.5h0.9v0.9h-0.9zM440.0 217.1h0.9v0.9h-0.9zM435.6 225.9h0.9v0.9h-0.9zM428.4 223.7h0.9v0.9h-0.9zM429.5 221.0h0.9v0.9h-0.9zM439.8 221.2h0.9v0.9h-0.9zM440.8 222.1h0.9v0.9h-0.9zM434.9 224.3h0.9v0.9h-0.9zM434.8 222.3h0.9v0.9h-0.9zM441.5 218.2h0.9v0.9h-0.9zM442.0 215.1h0.9v0.9h-0.9zM434.9 211.5h0.9v0.9h-0.9zM433.2 230.7h0.9v0.9h-0.9zM437.9 228.8h0.9v0.9h-0.9zM428.3 215.7h0.9v0.9h-0.9zM438.5 226.3h0.9v0.9h-0.9zM440.4 211.8h0.9v0.9h-0.9zM438.7 221.1h0.9v0.9h-0.9zM436.6 224.3h0.9v0.9h-0.9zM434.5 211.7h0.9v0.9h-0.9zM430.4 213.1h0.9v0.9h-0.9zM429.1 220.7h0.9v0.9h-0.9zM442.9 217.4h0.9v0.9h-0.9zM432.0 214.9h0.9v0.9h-0.9zM433.5 220.1h0.9v0.9h-0.9zM431.0 224.3h0.9v0.9h-0.9zM429.7 224.7h0.9v0.9h-0.9zM432.5 226.1h0.9v0.9h-0.9zM431.3 224.1h0.9v0.9h-0.9zM438.3 221.0h0.9v0.9h-0.9zM444.6 222.5h0.9v0.9h-0.9zM431.3 225.5h0.9v0.9h-0.9zM431.7 218.4h0.9v0.9h-0.9zM436.1 222.6h0.9v0.9h-0.9zM445.0 211.4h0.9v0.9h-0.9zM434.6 228.0h0.9v0.9h-0.9zM435.2 223.4h0.9v0.9h-0.9zM444.0 214.4h0.9v0.9h-0.9zM436.2 226.1h0.9v0.9h-0.9zM432.9 211.4h0.9v0.9h-0.9zM430.8 222.6h0.9v0.9h-0.9zM437.0 232.2h0.9v0.9h-0.9zM443.0 212.5h0.9v0.9h-0.9zM441.5 226.8h0.9v0.9h-0.9zM444.5 220.6h0.9v0.9h-0.9zM433.1 222.4h0.9v0.9h-0.9zM444.1 225.1h0.9v0.9h-0.9zM444.9 226.1h0.9v0.9h-0.9zM432.9 215.6h0.9v0.9h-0.9zM445.7 212.7h0.9v0.9h-0.9zM434.2 219.7h0.9v0.9h-0.9zM431.2 218.2h0.9v0.9h-0.9zM436.0 235.3h0.9v0.9h-0.9zM435.7 218.5h0.9v0.9h-0.9zM436.7 226.9h0.9v0.9h-0.9zM431.7 219.1h0.9v0.9h-0.9zM439.6 230.2h0.9v0.9h-0.9zM429.7 234.1h0.9v0.9h-0.9zM440.6 219.9h0.9v0.9h-0.9zM433.9 219.7h0.9v0.9h-0.9zM429.6 226.0h0.9v0.9h-0.9zM432.8 217.3h0.9v0.9h-0.9zM438.7 222.2h0.9v0.9h-0.9zM432.9 220.1h0.9v0.9h-0.9zM433.4 229.3h0.9v0.9h-0.9zM441.3 217.3h0.9v0.9h-0.9zM435.8 229.5h0.9v0.9h-0.9zM434.5 231.8h0.9v0.9h-0.9zM438.3 225.4h0.9v0.9h-0.9zM437.8 224.9h0.9v0.9h-0.9zM438.5 224.6h0.9v0.9h-0.9zM433.3 226.7h0.9v0.9h-0.9zM436.3 215.4h0.9v0.9h-0.9zM430.6 222.4h0.9v0.9h-0.9zM437.8 208.7h0.9v0.9h-0.9zM435.9 238.1h0.9v0.9h-0.9zM427.9 220.1h0.9v0.9h-0.9zM432.8 224.7h0.9v0.9h-0.9zM443.4 230.9h0.9v0.9h-0.9zM430.7 228.7h0.9v0.9h-0.9zM429.6 223.3h0.9v0.9h-0.9zM436.9 225.1h0.9v0.9h-0.9zM431.8 229.3h0.9v0.9h-0.9zM435.6 221.4h0.9v0.9h-0.9zM434.6 215.3h0.9v0.9h-0.9zM439.8 223.5h0.9v0.9h-0.9zM438.4 232.3h0.9v0.9h-0.9zM431.4 219.8h0.9v0.9h-0.9zM436.0 226.5h0.9v0.9h-0.9zM435.1 226.9h0.9v0.9h-0.9zM438.4 211.3h0.9v0.9h-0.9zM432.4 209.7h0.9v0.9h-0.9zM434.5 219.1h0.9v0.9h-0.9zM439.1 222.5h0.9v0.9h-0.9zM435.7 228.8h0.9v0.9h-0.9zM439.1 214.3h0.9v0.9h-0.9zM432.4 223.4h0.9v0.9h-0.9zM445.0 220.3h0.9v0.9h-0.9zM435.1 223.0h0.9v0.9h-0.9zM440.1 221.0h0.9v0.9h-0.9zM437.6 219.0h0.9v0.9h-0.9zM433.1 216.9h0.9v0.9h-0.9zM439.5 218.3h0.9v0.9h-0.9zM438.9 223.9h0.9v0.9h-0.9zM441.1 205.9h0.9v0.9h-0.9zM430.9 214.4h0.9v0.9h-0.9zM435.1 226.2h0.9v0.9h-0.9zM449.4 230.5h0.9v0.9h-0.9zM443.2 223.7h0.9v0.9h-0.9zM434.0 224.6h0.9v0.9h-0.9zM436.0 225.1h0.9v0.9h-0.9zM430.6 215.1h0.9v0.9h-0.9zM432.6 221.2h0.9v0.9h-0.9zM437.8 219.4h0.9v0.9h-0.9zM437.8 225.5h0.9v0.9h-0.9zM429.9 220.9h0.9v0.9h-0.9zM427.8 218.3h0.9v0.9h-0.9zM440.8 217.3h0.9v0.9h-0.9zM445.8 224.4h0.9v0.9h-0.9zM440.7 222.1h0.9v0.9h-0.9zM440.6 227.9h0.9v0.9h-0.9zM436.6 218.4h0.9v0.9h-0.9zM433.1 232.8h0.9v0.9h-0.9zM435.0 218.8h0.9v0.9h-0.9zM432.3 211.7h0.9v0.9h-0.9zM433.4 223.4h0.9v0.9h-0.9zM433.4 217.1h0.9v0.9h-0.9zM438.2 224.2h0.9v0.9h-0.9zM433.7 223.3h0.9v0.9h-0.9zM430.9 226.5h0.9v0.9h-0.9zM430.8 219.5h0.9v0.9h-0.9zM436.7 219.1h0.9v0.9h-0.9zM430.0 233.7h0.9v0.9h-0.9zM444.0 211.3h0.9v0.9h-0.9zM436.6 214.1h0.9v0.9h-0.9zM437.6 213.9h0.9v0.9h-0.9zM439.1 224.6h0.9v0.9h-0.9zM445.0 228.5h0.9v0.9h-0.9zM433.6 227.0h0.9v0.9h-0.9zM433.6 220.8h0.9v0.9h-0.9zM433.4 211.2h0.9v0.9h-0.9zM439.2 209.6h0.9v0.9h-0.9zM434.8 224.6h0.9v0.9h-0.9zM436.6 212.3h0.9v0.9h-0.9zM432.6 225.5h0.9v0.9h-0.9zM441.8 230.8h0.9v0.9h-0.9zM433.5 226.0h0.9v0.9h-0.9zM427.1 220.7h0.9v0.9h-0.9zM439.7 217.7h0.9v0.9h-0.9zM434.1 215.8h0.9v0.9h-0.9zM441.9 213.7h0.9v0.9h-0.9zM431.2 219.6h0.9v0.9h-0.9zM434.3 233.8h0.9v0.9h-0.9zM437.4 216.6h0.9v0.9h-0.9zM439.1 223.5h0.9v0.9h-0.9zM437.5 221.1h0.9v0.9h-0.9zM438.4 214.7h0.9v0.9h-0.9zM429.7 219.0h0.9v0.9h-0.9zM430.2 225.6h0.9v0.9h-0.9zM446.2 228.7h0.9v0.9h-0.9zM438.4 223.5h0.9v0.9h-0.9zM432.4 213.9h0.9v0.9h-0.9zM438.9 212.9h0.9v0.9h-0.9zM437.6 220.7h0.9v0.9h-0.9zM440.0 221.8h0.9v0.9h-0.9zM436.6 218.1h0.9v0.9h-0.9zM439.7 227.6h0.9v0.9h-0.9zM443.3 215.7h0.9v0.9h-0.9zM431.1 225.6h0.9v0.9h-0.9zM433.6 236.5h0.9v0.9h-0.9zM437.7 212.6h0.9v0.9h-0.9zM433.1 230.7h0.9v0.9h-0.9zM428.7 230.9h0.9v0.9h-0.9zM433.6 215.5h0.9v0.9h-0.9zM447.5 222.1h0.9v0.9h-0.9zM434.6 214.7h0.9v0.9h-0.9zM437.8 218.7h0.9v0.9h-0.9zM431.5 229.6h0.9v0.9h-0.9zM438.3 216.3h0.9v0.9h-0.9zM443.8 221.2h0.9v0.9h-0.9zM438.7 222.4h0.9v0.9h-0.9zM442.2 225.1h0.9v0.9h-0.9zM434.2 225.7h0.9v0.9h-0.9zM433.9 222.3h0.9v0.9h-0.9zM444.7 215.3h0.9v0.9h-0.9zM430.5 219.2h0.9v0.9h-0.9zM433.4 229.1h0.9v0.9h-0.9zM427.6 234.9h0.9v0.9h-0.9zM444.4 218.9h0.9v0.9h-0.9zM437.0 219.4h0.9v0.9h-0.9zM439.5 225.4h0.9v0.9h-0.9zM440.0 226.0h0.9v0.9h-0.9zM446.2 220.5h0.9v0.9h-0.9zM439.7 220.4h0.9v0.9h-0.9zM436.2 222.8h0.9v0.9h-0.9zM435.7 223.5h0.9v0.9h-0.9zM431.5 220.6h0.9v0.9h-0.9zM432.8 214.7h0.9v0.9h-0.9zM432.3 218.6h0.9v0.9h-0.9zM435.2 212.4h0.9v0.9h-0.9zM434.6 214.9h0.9v0.9h-0.9zM431.7 222.6h0.9v0.9h-0.9zM441.9 223.2h0.9v0.9h-0.9zM433.4 218.9h0.9v0.9h-0.9zM443.1 212.0h0.9v0.9h-0.9zM442.0 212.7h0.9v0.9h-0.9zM432.7 221.8h0.9v0.9h-0.9zM434.8 231.2h0.9v0.9h-0.9zM438.6 221.2h0.9v0.9h-0.9zM441.0 221.7h0.9v0.9h-0.9zM431.7 228.1h0.9v0.9h-0.9zM443.9 229.0h0.9v0.9h-0.9zM429.8 232.7h0.9v0.9h-0.9zM433.8 226.0h0.9v0.9h-0.9zM442.3 235.4h0.9v0.9h-0.9zM427.5 215.5h0.9v0.9h-0.9zM442.2 224.4h0.9v0.9h-0.9zM434.4 204.4h0.9v0.9h-0.9zM438.3 220.4h0.9v0.9h-0.9zM436.0 222.9h0.9v0.9h-0.9zM440.0 219.9h0.9v0.9h-0.9zM431.3 219.4h0.9v0.9h-0.9zM446.4 217.5h0.9v0.9h-0.9zM435.6 232.6h0.9v0.9h-0.9zM441.6 222.2h0.9v0.9h-0.9zM439.9 219.9h0.9v0.9h-0.9zM431.2 227.4h0.9v0.9h-0.9zM436.7 230.9h0.9v0.9h-0.9zM434.6 219.3h0.9v0.9h-0.9zM437.8 220.4h0.9v0.9h-0.9zM434.4 216.3h0.9v0.9h-0.9zM437.3 223.4h0.9v0.9h-0.9zM445.7 221.3h0.9v0.9h-0.9zM448.1 218.9h0.9v0.9h-0.9zM431.8 220.5h0.9v0.9h-0.9zM435.0 212.6h0.9v0.9h-0.9zM439.1 216.4h0.9v0.9h-0.9zM439.4 232.8h0.9v0.9h-0.9zM442.6 222.6h0.9v0.9h-0.9zM433.3 220.0h0.9v0.9h-0.9zM441.1 218.5h0.9v0.9h-0.9zM438.2 227.2h0.9v0.9h-0.9zM431.2 218.0h0.9v0.9h-0.9zM438.4 221.5h0.9v0.9h-0.9zM435.3 218.4h0.9v0.9h-0.9zM435.7 232.4h0.9v0.9h-0.9zM443.2 212.0h0.9v0.9h-0.9zM436.3 222.0h0.9v0.9h-0.9zM436.2 213.4h0.9v0.9h-0.9zM435.3 222.4h0.9v0.9h-0.9zM432.4 223.3h0.9v0.9h-0.9zM436.5 223.8h0.9v0.9h-0.9zM435.1 218.8h0.9v0.9h-0.9zM437.0 227.9h0.9v0.9h-0.9zM440.8 221.0h0.9v0.9h-0.9zM433.5 227.7h0.9v0.9h-0.9zM438.9 226.7h0.9v0.9h-0.9zM434.5 216.4h0.9v0.9h-0.9zM437.0 217.8h0.9v0.9h-0.9zM442.1 226.5h0.9v0.9h-0.9zM443.1 227.6h0.9v0.9h-0.9zM433.5 216.4h0.9v0.9h-0.9zM441.1 227.5h0.9v0.9h-0.9zM436.3 214.7h0.9v0.9h-0.9zM427.9 223.1h0.9v0.9h-0.9zM431.6 217.5h0.9v0.9h-0.9zM438.4 227.7h0.9v0.9h-0.9zM442.9 221.3h0.9v0.9h-0.9zM434.2 225.3h0.9v0.9h-0.9zM430.0 214.3h0.9v0.9h-0.9zM436.1 230.7h0.9v0.9h-0.9zM441.4 221.5h0.9v0.9h-0.9zM441.4 219.1h0.9v0.9h-0.9zM429.8 211.7h0.9v0.9h-0.9zM437.4 226.8h0.9v0.9h-0.9zM438.0 221.3h0.9v0.9h-0.9zM433.9 227.9h0.9v0.9h-0.9zM435.8 213.0h0.9v0.9h-0.9zM443.3 217.7h0.9v0.9h-0.9zM438.1 221.5h0.9v0.9h-0.9zM441.6 223.0h0.9v0.9h-0.9zM442.5 222.7h0.9v0.9h-0.9zM433.6 218.5h0.9v0.9h-0.9zM439.5 216.6h0.9v0.9h-0.9zM440.9 220.1h0.9v0.9h-0.9zM431.1 216.4h0.9v0.9h-0.9zM435.2 231.9h0.9v0.9h-0.9zM440.1 221.6h0.9v0.9h-0.9zM431.2 232.7h0.9v0.9h-0.9zM434.5 221.5h0.9v0.9h-0.9zM433.8 229.3h0.9v0.9h-0.9zM436.9 218.8h0.9v0.9h-0.9zM437.0 215.6h0.9v0.9h-0.9zM430.4 220.6h0.9v0.9h-0.9zM446.5 215.0h0.9v0.9h-0.9zM435.2 212.2h0.9v0.9h-0.9zM436.9 222.7h0.9v0.9h-0.9zM439.9 213.7h0.9v0.9h-0.9zM432.8 217.7h0.9v0.9h-0.9zM434.7 234.9h0.9v0.9h-0.9zM434.9 221.3h0.9v0.9h-0.9zM433.3 226.2h0.9v0.9h-0.9zM449.6 228.3h0.9v0.9h-0.9zM444.1 215.2h0.9v0.9h-0.9zM441.6 221.7h0.9v0.9h-0.9zM442.6 227.7h0.9v0.9h-0.9zM439.5 211.6h0.9v0.9h-0.9zM436.7 218.6h0.9v0.9h-0.9zM438.4 221.7h0.9v0.9h-0.9zM441.6 212.1h0.9v0.9h-0.9zM432.1 221.1h0.9v0.9h-0.9zM437.7 219.1h0.9v0.9h-0.9zM435.8 221.8h0.9v0.9h-0.9zM441.6 220.8h0.9v0.9h-0.9zM437.3 210.8h0.9v0.9h-0.9zM437.9 207.9h0.9v0.9h-0.9zM438.2 220.9h0.9v0.9h-0.9zM436.0 217.2h0.9v0.9h-0.9zM433.8 226.4h0.9v0.9h-0.9zM437.9 221.3h0.9v0.9h-0.9zM433.4 222.7h0.9v0.9h-0.9zM442.3 221.4h0.9v0.9h-0.9zM434.1 214.6h0.9v0.9h-0.9zM436.5 216.1h0.9v0.9h-0.9zM428.4 226.6h0.9v0.9h-0.9zM432.7 209.5h0.9v0.9h-0.9zM432.2 232.4h0.9v0.9h-0.9zM435.4 213.7h0.9v0.9h-0.9zM430.1 225.7h0.9v0.9h-0.9zM438.2 222.8h0.9v0.9h-0.9zM435.0 224.4h0.9v0.9h-0.9zM444.2 224.4h0.9v0.9h-0.9zM435.1 213.3h0.9v0.9h-0.9zM438.4 230.7h0.9v0.9h-0.9zM439.4 214.1h0.9v0.9h-0.9zM437.0 229.2h0.9v0.9h-0.9zM432.6 224.4h0.9v0.9h-0.9zM442.4 231.1h0.9v0.9h-0.9zM427.5 211.2h0.9v0.9h-0.9zM438.0 225.6h0.9v0.9h-0.9zM434.1 221.4h0.9v0.9h-0.9zM433.8 228.6h0.9v0.9h-0.9zM429.2 217.5h0.9v0.9h-0.9zM427.9 216.1h0.9v0.9h-0.9zM435.9 221.7h0.9v0.9h-0.9zM445.5 220.2h0.9v0.9h-0.9zM437.8 223.6h0.9v0.9h-0.9zM437.4 230.2h0.9v0.9h-0.9zM436.7 222.4h0.9v0.9h-0.9zM435.4 221.5h0.9v0.9h-0.9zM435.7 227.4h0.9v0.9h-0.9zM436.1 221.9h0.9v0.9h-0.9zM435.7 226.0h0.9v0.9h-0.9zM433.5 227.0h0.9v0.9h-0.9zM433.0 225.6h0.9v0.9h-0.9zM446.2 222.9h0.9v0.9h-0.9zM435.5 214.5h0.9v0.9h-0.9zM439.9 221.6h0.9v0.9h-0.9zM440.8 217.6h0.9v0.9h-0.9zM438.8 232.2h0.9v0.9h-0.9zM438.1 219.6h0.9v0.9h-0.9zM429.1 221.4h0.9v0.9h-0.9zM439.5 225.0h0.9v0.9h-0.9zM430.0 215.4h0.9v0.9h-0.9zM430.8 215.5h0.9v0.9h-0.9zM434.5 223.1h0.9v0.9h-0.9zM446.2 222.7h0.9v0.9h-0.9zM443.7 211.7h0.9v0.9h-0.9zM444.2 226.2h0.9v0.9h-0.9zM438.3 226.4h0.9v0.9h-0.9zM439.3 232.8h0.9v0.9h-0.9zM440.3 211.2h0.9v0.9h-0.9zM435.6 229.3h0.9v0.9h-0.9zM434.2 217.6h0.9v0.9h-0.9zM434.2 223.4h0.9v0.9h-0.9zM437.0 217.8h0.9v0.9h-0.9zM438.9 225.2h0.9v0.9h-0.9zM431.1 214.9h0.9v0.9h-0.9zM436.1 217.4h0.9v0.9h-0.9zM432.8 220.7h0.9v0.9h-0.9zM436.2 224.9h0.9v0.9h-0.9zM440.4 224.1h0.9v0.9h-0.9zM442.0 215.8h0.9v0.9h-0.9zM439.2 223.7h0.9v0.9h-0.9zM430.4 217.5h0.9v0.9h-0.9zM438.4 221.9h0.9v0.9h-0.9zM429.3 218.2h0.9v0.9h-0.9zM444.1 226.5h0.9v0.9h-0.9zM436.4 229.5h0.9v0.9h-0.9zM431.2 220.5h0.9v0.9h-0.9zM441.1 219.5h0.9v0.9h-0.9zM430.0 225.0h0.9v0.9h-0.9zM444.5 206.5h0.9v0.9h-0.9zM436.8 214.1h0.9v0.9h-0.9zM434.4 213.1h0.9v0.9h-0.9zM449.9 217.5h0.9v0.9h-0.9zM436.2 217.3h0.9v0.9h-0.9zM430.7 218.8h0.9v0.9h-0.9zM437.1 231.9h0.9v0.9h-0.9zM437.5 230.8h0.9v0.9h-0.9zM430.3 221.9h0.9v0.9h-0.9zM433.7 212.2h0.9v0.9h-0.9zM455.9 220.1h0.9v0.9h-0.9zM437.3 217.0h0.9v0.9h-0.9zM432.9 215.4h0.9v0.9h-0.9zM441.5 219.1h0.9v0.9h-0.9zM435.2 222.6h0.9v0.9h-0.9zM429.5 222.9h0.9v0.9h-0.9zM435.1 224.1h0.9v0.9h-0.9zM433.9 221.7h0.9v0.9h-0.9zM438.8 227.2h0.9v0.9h-0.9zM432.3 227.3h0.9v0.9h-0.9zM430.7 220.4h0.9v0.9h-0.9zM436.7 222.4h0.9v0.9h-0.9zM435.0 227.0h0.9v0.9h-0.9zM432.2 230.5h0.9v0.9h-0.9zM438.9 221.6h0.9v0.9h-0.9zM437.4 227.0h0.9v0.9h-0.9zM431.7 225.0h0.9v0.9h-0.9zM441.7 220.1h0.9v0.9h-0.9zM431.4 215.2h0.9v0.9h-0.9zM438.3 216.7h0.9v0.9h-0.9zM449.2 224.9h0.9v0.9h-0.9zM429.0 219.8h0.9v0.9h-0.9zM444.2 225.5h0.9v0.9h-0.9zM430.6 227.6h0.9v0.9h-0.9zM433.5 234.6h0.9v0.9h-0.9zM433.1 225.0h0.9v0.9h-0.9zM439.0 218.9h0.9v0.9h-0.9zM435.2 228.4h0.9v0.9h-0.9zM438.7 221.1h0.9v0.9h-0.9zM438.4 231.9h0.9v0.9h-0.9zM441.0 224.3h0.9v0.9h-0.9zM437.8 212.2h0.9v0.9h-0.9zM436.7 218.6h0.9v0.9h-0.9zM439.9 217.9h0.9v0.9h-0.9zM438.4 215.3h0.9v0.9h-0.9zM440.8 217.2h0.9v0.9h-0.9zM435.8 224.9h0.9v0.9h-0.9zM434.3 221.5h0.9v0.9h-0.9zM441.7 232.0h0.9v0.9h-0.9zM439.6 227.1h0.9v0.9h-0.9zM433.5 222.1h0.9v0.9h-0.9zM435.0 235.0h0.9v0.9h-0.9zM434.9 214.4h0.9v0.9h-0.9zM427.7 213.9h0.9v0.9h-0.9zM443.0 219.2h0.9v0.9h-0.9zM446.4 225.3h0.9v0.9h-0.9zM438.0 225.3h0.9v0.9h-0.9zM440.2 227.0h0.9v0.9h-0.9zM430.8 218.2h0.9v0.9h-0.9zM433.1 222.1h0.9v0.9h-0.9zM434.7 214.2h0.9v0.9h-0.9zM432.3 232.1h0.9v0.9h-0.9zM447.3 216.4h0.9v0.9h-0.9zM438.0 221.3h0.9v0.9h-0.9zM431.5 225.7h0.9v0.9h-0.9zM435.6 231.4h0.9v0.9h-0.9zM438.4 219.7h0.9v0.9h-0.9zM440.5 217.3h0.9v0.9h-0.9zM440.7 225.5h0.9v0.9h-0.9zM437.7 226.0h0.9v0.9h-0.9zM436.8 221.4h0.9v0.9h-0.9zM434.2 219.8h0.9v0.9h-0.9zM436.0 215.2h0.9v0.9h-0.9zM439.4 219.6h0.9v0.9h-0.9zM438.8 218.5h0.9v0.9h-0.9zM438.2 222.3h0.9v0.9h-0.9zM440.8 224.2h0.9v0.9h-0.9zM441.0 220.5h0.9v0.9h-0.9zM435.7 220.0h0.9v0.9h-0.9zM429.3 220.8h0.9v0.9h-0.9zM441.8 226.1h0.9v0.9h-0.9zM431.5 223.3h0.9v0.9h-0.9zM440.0 213.4h0.9v0.9h-0.9zM437.9 223.5h0.9v0.9h-0.9zM440.0 223.0h0.9v0.9h-0.9zM446.6 219.2h0.9v0.9h-0.9zM442.8 229.0h0.9v0.9h-0.9zM436.5 214.7h0.9v0.9h-0.9zM443.3 221.3h0.9v0.9h-0.9zM438.8 224.3h0.9v0.9h-0.9zM441.1 227.5h0.9v0.9h-0.9zM428.4 213.2h0.9v0.9h-0.9zM436.8 221.6h0.9v0.9h-0.9zM440.1 220.7h0.9v0.9h-0.9zM435.0 233.5h0.9v0.9h-0.9zM443.3 228.4h0.9v0.9h-0.9zM441.5 216.8h0.9v0.9h-0.9zM435.5 221.1h0.9v0.9h-0.9zM430.2 216.4h0.9v0.9h-0.9zM436.9 214.3h0.9v0.9h-0.9zM438.9 224.3h0.9v0.9h-0.9zM434.7 219.5h0.9v0.9h-0.9z" fill="#000" fill-opacity="0.45"/>
<path d="M466.5 245.9h0.9v0.9h-0.9zM465.1 235.5h0.9v0.9h-0.9zM459.3 240.8h0.9v0.9h-0.9zM452.5 238.1h0.9v0.9h-0.9zM458.8 247.9h0.9v0.9h-0.9zM447.9 234.4h0.9v0.9h-0.9zM460.6 240.0h0.9v0.9h-0.9zM458.6 240.3h0.9v0.9h-0.9zM454.0 244.6h0.9v0.9h-0.9zM469.8 243.9h0.9v0.9h-0.9zM459.9 250.7h0.9v0.9h-0.9zM465.8 236.7h0.9v0.9h-0.9zM459.7 239.3h0.9v0.9h-0.9zM462.7 250.4h0.9v0.9h-0.9zM459.0 242.1h0.9v0.9h-0.9zM463.6 235.7h0.9v0.9h-0.9zM460.3 246.7h0.9v0.9h-0.9zM469.5 231.6h0.9v0.9h-0.9zM467.1 241.2h0.9v0.9h-0.9zM470.4 246.8h0.9v0.9h-0.9zM474.3 244.9h0.9v0.9h-0.9zM460.7 237.9h0.9v0.9h-0.9zM454.8 246.4h0.9v0.9h-0.9zM466.0 248.0h0.9v0.9h-0.9zM465.0 233.9h0.9v0.9h-0.9zM460.7 241.5h0.9v0.9h-0.9zM463.9 247.7h0.9v0.9h-0.9zM471.1 244.7h0.9v0.9h-0.9zM451.2 236.8h0.9v0.9h-0.9zM450.8 238.3h0.9v0.9h-0.9zM456.1 244.5h0.9v0.9h-0.9zM461.7 249.8h0.9v0.9h-0.9zM469.2 240.2h0.9v0.9h-0.9zM468.4 243.1h0.9v0.9h-0.9zM465.6 251.2h0.9v0.9h-0.9zM456.4 242.6h0.9v0.9h-0.9zM471.8 238.4h0.9v0.9h-0.9zM464.2 243.8h0.9v0.9h-0.9zM460.6 235.0h0.9v0.9h-0.9zM459.1 237.0h0.9v0.9h-0.9zM469.2 244.5h0.9v0.9h-0.9zM467.0 235.8h0.9v0.9h-0.9zM465.9 243.9h0.9v0.9h-0.9zM469.0 238.6h0.9v0.9h-0.9zM467.6 251.3h0.9v0.9h-0.9zM473.3 237.3h0.9v0.9h-0.9zM456.6 234.1h0.9v0.9h-0.9zM468.5 246.6h0.9v0.9h-0.9zM465.0 237.7h0.9v0.9h-0.9zM470.2 252.8h0.9v0.9h-0.9zM462.8 242.3h0.9v0.9h-0.9zM469.8 246.1h0.9v0.9h-0.9zM470.7 240.5h0.9v0.9h-0.9zM464.9 240.9h0.9v0.9h-0.9zM459.7 241.2h0.9v0.9h-0.9zM461.4 246.1h0.9v0.9h-0.9zM461.3 243.4h0.9v0.9h-0.9zM458.4 235.6h0.9v0.9h-0.9zM471.2 237.0h0.9v0.9h-0.9zM473.4 248.7h0.9v0.9h-0.9zM449.9 239.1h0.9v0.9h-0.9zM460.6 243.1h0.9v0.9h-0.9zM462.0 239.3h0.9v0.9h-0.9zM470.2 242.2h0.9v0.9h-0.9zM468.5 238.8h0.9v0.9h-0.9zM459.1 251.1h0.9v0.9h-0.9zM461.4 236.3h0.9v0.9h-0.9zM462.0 249.4h0.9v0.9h-0.9zM462.1 238.6h0.9v0.9h-0.9zM466.7 249.0h0.9v0.9h-0.9zM461.8 241.1h0.9v0.9h-0.9zM461.9 253.6h0.9v0.9h-0.9zM462.2 245.5h0.9v0.9h-0.9zM451.3 244.1h0.9v0.9h-0.9zM463.3 241.1h0.9v0.9h-0.9zM460.7 234.7h0.9v0.9h-0.9zM454.5 244.0h0.9v0.9h-0.9zM459.3 242.5h0.9v0.9h-0.9zM462.0 239.9h0.9v0.9h-0.9zM456.7 239.9h0.9v0.9h-0.9zM461.3 236.0h0.9v0.9h-0.9zM457.5 248.2h0.9v0.9h-0.9zM468.3 243.8h0.9v0.9h-0.9zM470.1 238.1h0.9v0.9h-0.9zM469.2 253.2h0.9v0.9h-0.9zM460.8 254.0h0.9v0.9h-0.9zM458.4 236.1h0.9v0.9h-0.9zM462.8 238.1h0.9v0.9h-0.9zM466.7 236.3h0.9v0.9h-0.9zM463.5 231.1h0.9v0.9h-0.9zM462.8 249.4h0.9v0.9h-0.9zM461.5 244.9h0.9v0.9h-0.9zM469.3 236.4h0.9v0.9h-0.9zM455.7 243.5h0.9v0.9h-0.9zM464.6 241.4h0.9v0.9h-0.9zM457.5 250.4h0.9v0.9h-0.9zM456.4 241.4h0.9v0.9h-0.9zM462.8 247.4h0.9v0.9h-0.9zM460.5 238.0h0.9v0.9h-0.9zM474.5 237.9h0.9v0.9h-0.9zM467.6 242.1h0.9v0.9h-0.9zM460.3 242.7h0.9v0.9h-0.9zM461.6 244.9h0.9v0.9h-0.9zM448.5 242.8h0.9v0.9h-0.9zM463.4 237.1h0.9v0.9h-0.9zM473.6 246.9h0.9v0.9h-0.9zM464.4 241.2h0.9v0.9h-0.9zM471.0 240.3h0.9v0.9h-0.9zM458.3 247.2h0.9v0.9h-0.9zM457.5 238.2h0.9v0.9h-0.9zM471.3 233.3h0.9v0.9h-0.9zM462.6 243.7h0.9v0.9h-0.9zM464.5 234.2h0.9v0.9h-0.9zM461.7 241.0h0.9v0.9h-0.9zM474.0 249.1h0.9v0.9h-0.9zM458.7 248.3h0.9v0.9h-0.9zM466.8 242.3h0.9v0.9h-0.9zM461.6 241.3h0.9v0.9h-0.9zM454.2 239.2h0.9v0.9h-0.9zM468.4 251.7h0.9v0.9h-0.9zM473.6 240.7h0.9v0.9h-0.9zM466.6 228.4h0.9v0.9h-0.9zM461.5 235.4h0.9v0.9h-0.9zM467.7 233.0h0.9v0.9h-0.9zM457.1 236.3h0.9v0.9h-0.9zM465.3 248.1h0.9v0.9h-0.9zM457.8 253.9h0.9v0.9h-0.9zM463.9 238.0h0.9v0.9h-0.9zM465.0 242.9h0.9v0.9h-0.9zM467.8 245.1h0.9v0.9h-0.9zM475.6 250.1h0.9v0.9h-0.9zM459.4 247.8h0.9v0.9h-0.9zM467.4 237.0h0.9v0.9h-0.9zM458.7 238.1h0.9v0.9h-0.9zM448.9 246.9h0.9v0.9h-0.9zM461.8 250.5h0.9v0.9h-0.9zM459.8 243.5h0.9v0.9h-0.9zM467.2 248.9h0.9v0.9h-0.9zM464.9 236.7h0.9v0.9h-0.9zM475.6 248.3h0.9v0.9h-0.9zM470.8 252.8h0.9v0.9h-0.9zM471.1 245.5h0.9v0.9h-0.9zM465.7 246.8h0.9v0.9h-0.9zM454.4 247.9h0.9v0.9h-0.9zM457.5 245.6h0.9v0.9h-0.9zM457.2 247.3h0.9v0.9h-0.9zM464.1 246.1h0.9v0.9h-0.9zM457.9 241.3h0.9v0.9h-0.9zM462.7 241.3h0.9v0.9h-0.9zM460.5 237.7h0.9v0.9h-0.9zM467.4 240.7h0.9v0.9h-0.9zM458.4 245.2h0.9v0.9h-0.9zM458.4 242.0h0.9v0.9h-0.9zM460.1 237.4h0.9v0.9h-0.9zM461.7 238.0h0.9v0.9h-0.9zM455.9 245.1h0.9v0.9h-0.9zM461.3 234.2h0.9v0.9h-0.9zM460.8 244.1h0.9v0.9h-0.9zM465.5 245.3h0.9v0.9h-0.9zM464.5 246.6h0.9v0.9h-0.9zM460.2 238.2h0.9v0.9h-0.9zM466.5 240.5h0.9v0.9h-0.9zM463.1 246.9h0.9v0.9h-0.9zM468.4 250.4h0.9v0.9h-0.9zM459.1 240.8h0.9v0.9h-0.9zM466.2 234.4h0.9v0.9h-0.9zM455.8 246.7h0.9v0.9h-0.9zM459.5 237.4h0.9v0.9h-0.9zM467.6 246.2h0.9v0.9h-0.9zM468.3 241.0h0.9v0.9h-0.9zM461.4 241.0h0.9v0.9h-0.9zM464.7 230.8h0.9v0.9h-0.9zM459.1 247.3h0.9v0.9h-0.9zM458.6 242.6h0.9v0.9h-0.9zM463.8 246.2h0.9v0.9h-0.9zM460.3 236.2h0.9v0.9h-0.9zM472.8 232.4h0.9v0.9h-0.9zM463.7 241.8h0.9v0.9h-0.9zM468.6 236.9h0.9v0.9h-0.9zM458.5 238.5h0.9v0.9h-0.9zM460.1 244.6h0.9v0.9h-0.9zM458.6 241.5h0.9v0.9h-0.9zM471.5 251.7h0.9v0.9h-0.9zM452.4 237.3h0.9v0.9h-0.9zM460.9 250.8h0.9v0.9h-0.9zM465.1 251.7h0.9v0.9h-0.9zM458.2 241.1h0.9v0.9h-0.9zM468.9 246.5h0.9v0.9h-0.9zM452.4 241.4h0.9v0.9h-0.9zM464.1 246.8h0.9v0.9h-0.9zM459.4 253.5h0.9v0.9h-0.9zM463.9 251.7h0.9v0.9h-0.9zM465.4 243.5h0.9v0.9h-0.9zM461.2 236.0h0.9v0.9h-0.9zM468.0 247.6h0.9v0.9h-0.9zM468.4 240.7h0.9v0.9h-0.9zM457.3 240.7h0.9v0.9h-0.9zM461.3 242.9h0.9v0.9h-0.9zM468.7 237.5h0.9v0.9h-0.9zM460.3 247.2h0.9v0.9h-0.9zM466.1 237.9h0.9v0.9h-0.9zM457.1 238.3h0.9v0.9h-0.9zM463.5 244.5h0.9v0.9h-0.9zM462.7 239.3h0.9v0.9h-0.9zM462.0 242.5h0.9v0.9h-0.9zM466.4 243.5h0.9v0.9h-0.9zM458.5 236.0h0.9v0.9h-0.9zM471.5 242.5h0.9v0.9h-0.9zM462.1 242.9h0.9v0.9h-0.9zM469.5 241.1h0.9v0.9h-0.9zM464.1 241.6h0.9v0.9h-0.9zM466.4 236.9h0.9v0.9h-0.9zM464.2 249.2h0.9v0.9h-0.9zM469.8 246.7h0.9v0.9h-0.9zM464.7 252.5h0.9v0.9h-0.9zM467.1 251.4h0.9v0.9h-0.9zM456.2 236.4h0.9v0.9h-0.9zM467.6 241.4h0.9v0.9h-0.9zM460.6 237.3h0.9v0.9h-0.9zM471.5 235.8h0.9v0.9h-0.9zM463.7 234.6h0.9v0.9h-0.9zM476.9 240.0h0.9v0.9h-0.9zM457.3 252.8h0.9v0.9h-0.9zM458.2 232.3h0.9v0.9h-0.9zM465.1 236.5h0.9v0.9h-0.9zM454.8 249.8h0.9v0.9h-0.9zM458.9 236.6h0.9v0.9h-0.9zM464.0 241.9h0.9v0.9h-0.9zM469.5 243.6h0.9v0.9h-0.9zM472.1 249.8h0.9v0.9h-0.9zM473.2 249.7h0.9v0.9h-0.9zM463.5 246.3h0.9v0.9h-0.9zM463.2 233.7h0.9v0.9h-0.9zM456.4 247.5h0.9v0.9h-0.9zM449.6 238.1h0.9v0.9h-0.9zM455.8 242.6h0.9v0.9h-0.9zM457.2 244.5h0.9v0.9h-0.9zM462.0 240.2h0.9v0.9h-0.9zM458.3 229.7h0.9v0.9h-0.9zM463.5 235.3h0.9v0.9h-0.9zM461.4 245.2h0.9v0.9h-0.9zM469.0 247.2h0.9v0.9h-0.9zM471.5 234.5h0.9v0.9h-0.9zM466.9 252.4h0.9v0.9h-0.9zM465.3 236.4h0.9v0.9h-0.9zM465.3 239.9h0.9v0.9h-0.9zM459.4 249.4h0.9v0.9h-0.9zM462.1 236.3h0.9v0.9h-0.9zM458.3 247.1h0.9v0.9h-0.9zM464.1 250.0h0.9v0.9h-0.9zM461.5 237.3h0.9v0.9h-0.9zM459.5 236.8h0.9v0.9h-0.9zM461.3 250.6h0.9v0.9h-0.9zM466.8 241.9h0.9v0.9h-0.9zM466.6 244.6h0.9v0.9h-0.9zM469.5 252.9h0.9v0.9h-0.9zM461.3 242.8h0.9v0.9h-0.9zM462.1 250.3h0.9v0.9h-0.9zM465.3 247.7h0.9v0.9h-0.9zM468.2 239.2h0.9v0.9h-0.9zM463.8 251.3h0.9v0.9h-0.9zM468.3 247.9h0.9v0.9h-0.9zM461.5 240.9h0.9v0.9h-0.9zM458.2 241.4h0.9v0.9h-0.9zM462.7 234.4h0.9v0.9h-0.9zM469.7 238.4h0.9v0.9h-0.9zM464.5 246.6h0.9v0.9h-0.9zM460.0 232.2h0.9v0.9h-0.9zM468.6 245.5h0.9v0.9h-0.9zM461.7 249.8h0.9v0.9h-0.9zM468.2 237.3h0.9v0.9h-0.9zM462.6 232.5h0.9v0.9h-0.9zM461.6 251.5h0.9v0.9h-0.9zM458.3 248.0h0.9v0.9h-0.9zM454.6 241.2h0.9v0.9h-0.9zM468.4 253.3h0.9v0.9h-0.9zM465.7 247.6h0.9v0.9h-0.9zM472.8 228.4h0.9v0.9h-0.9zM463.5 244.6h0.9v0.9h-0.9zM463.3 239.3h0.9v0.9h-0.9zM463.0 242.3h0.9v0.9h-0.9zM466.9 247.1h0.9v0.9h-0.9zM468.6 246.5h0.9v0.9h-0.9zM457.6 251.4h0.9v0.9h-0.9zM448.0 243.7h0.9v0.9h-0.9zM465.0 239.8h0.9v0.9h-0.9zM473.7 236.5h0.9v0.9h-0.9zM456.5 240.0h0.9v0.9h-0.9zM465.5 247.8h0.9v0.9h-0.9zM463.7 247.0h0.9v0.9h-0.9zM459.1 239.4h0.9v0.9h-0.9zM463.8 235.0h0.9v0.9h-0.9zM464.2 240.7h0.9v0.9h-0.9zM467.0 237.0h0.9v0.9h-0.9zM460.1 239.6h0.9v0.9h-0.9zM461.0 237.0h0.9v0.9h-0.9zM461.6 234.9h0.9v0.9h-0.9zM466.1 247.0h0.9v0.9h-0.9zM463.0 241.9h0.9v0.9h-0.9zM458.1 237.3h0.9v0.9h-0.9zM461.9 237.6h0.9v0.9h-0.9zM456.5 244.0h0.9v0.9h-0.9zM463.0 240.6h0.9v0.9h-0.9zM458.5 242.7h0.9v0.9h-0.9zM459.2 240.4h0.9v0.9h-0.9zM464.1 247.3h0.9v0.9h-0.9zM467.4 239.4h0.9v0.9h-0.9zM469.9 236.1h0.9v0.9h-0.9zM462.1 250.8h0.9v0.9h-0.9zM476.5 243.8h0.9v0.9h-0.9zM461.1 240.8h0.9v0.9h-0.9zM456.3 242.1h0.9v0.9h-0.9zM460.7 238.5h0.9v0.9h-0.9zM469.8 238.4h0.9v0.9h-0.9zM472.6 248.1h0.9v0.9h-0.9zM466.7 239.5h0.9v0.9h-0.9zM460.2 231.1h0.9v0.9h-0.9zM464.6 241.4h0.9v0.9h-0.9zM465.3 239.0h0.9v0.9h-0.9zM465.8 234.1h0.9v0.9h-0.9zM450.8 245.9h0.9v0.9h-0.9zM469.1 224.2h0.9v0.9h-0.9zM470.3 240.9h0.9v0.9h-0.9zM462.2 233.8h0.9v0.9h-0.9zM457.5 247.3h0.9v0.9h-0.9zM459.0 242.8h0.9v0.9h-0.9zM468.1 235.1h0.9v0.9h-0.9zM460.4 236.1h0.9v0.9h-0.9zM455.3 238.9h0.9v0.9h-0.9zM469.3 243.3h0.9v0.9h-0.9zM466.9 242.2h0.9v0.9h-0.9zM460.7 243.5h0.9v0.9h-0.9zM473.2 245.3h0.9v0.9h-0.9zM466.5 231.1h0.9v0.9h-0.9zM458.6 247.9h0.9v0.9h-0.9zM469.9 240.6h0.9v0.9h-0.9zM461.8 240.3h0.9v0.9h-0.9zM467.5 243.1h0.9v0.9h-0.9zM471.5 250.1h0.9v0.9h-0.9zM461.4 239.4h0.9v0.9h-0.9zM461.8 237.7h0.9v0.9h-0.9zM460.7 242.6h0.9v0.9h-0.9zM468.1 233.5h0.9v0.9h-0.9zM455.2 238.4h0.9v0.9h-0.9zM461.4 245.7h0.9v0.9h-0.9zM458.7 252.1h0.9v0.9h-0.9zM460.1 241.7h0.9v0.9h-0.9zM463.4 250.0h0.9v0.9h-0.9zM464.7 243.2h0.9v0.9h-0.9zM460.0 244.0h0.9v0.9h-0.9zM465.3 240.9h0.9v0.9h-0.9zM463.0 232.0h0.9v0.9h-0.9zM460.1 250.1h0.9v0.9h-0.9zM471.0 242.6h0.9v0.9h-0.9zM460.8 249.0h0.9v0.9h-0.9zM459.6 251.3h0.9v0.9h-0.9zM469.6 236.6h0.9v0.9h-0.9zM461.8 235.7h0.9v0.9h-0.9zM464.6 240.6h0.9v0.9h-0.9zM454.7 236.7h0.9v0.9h-0.9zM464.4 233.9h0.9v0.9h-0.9zM469.1 245.7h0.9v0.9h-0.9zM462.1 251.4h0.9v0.9h-0.9zM457.9 247.1h0.9v0.9h-0.9zM455.5 241.1h0.9v0.9h-0.9zM466.6 239.8h0.9v0.9h-0.9zM462.4 246.9h0.9v0.9h-0.9zM471.6 250.8h0.9v0.9h-0.9zM465.6 241.4h0.9v0.9h-0.9zM455.0 253.3h0.9v0.9h-0.9zM473.5 230.0h0.9v0.9h-0.9zM467.9 242.8h0.9v0.9h-0.9zM467.0 244.9h0.9v0.9h-0.9zM462.0 243.0h0.9v0.9h-0.9zM462.9 250.0h0.9v0.9h-0.9zM461.6 239.7h0.9v0.9h-0.9zM466.7 246.9h0.9v0.9h-0.9zM465.5 244.7h0.9v0.9h-0.9zM471.3 249.7h0.9v0.9h-0.9zM464.2 241.7h0.9v0.9h-0.9zM466.7 231.7h0.9v0.9h-0.9zM460.1 238.7h0.9v0.9h-0.9zM464.0 240.7h0.9v0.9h-0.9zM476.8 247.4h0.9v0.9h-0.9zM463.0 241.1h0.9v0.9h-0.9zM469.9 248.0h0.9v0.9h-0.9zM468.2 250.3h0.9v0.9h-0.9zM461.0 239.0h0.9v0.9h-0.9zM459.0 243.6h0.9v0.9h-0.9zM468.7 236.7h0.9v0.9h-0.9zM460.1 234.9h0.9v0.9h-0.9zM474.2 247.8h0.9v0.9h-0.9zM464.3 235.7h0.9v0.9h-0.9zM457.3 239.1h0.9v0.9h-0.9zM463.2 235.4h0.9v0.9h-0.9zM461.8 250.4h0.9v0.9h-0.9zM463.1 243.6h0.9v0.9h-0.9zM451.4 241.4h0.9v0.9h-0.9zM462.2 238.8h0.9v0.9h-0.9zM455.3 242.6h0.9v0.9h-0.9zM457.3 239.7h0.9v0.9h-0.9zM454.2 242.4h0.9v0.9h-0.9zM468.1 237.9h0.9v0.9h-0.9zM464.9 233.9h0.9v0.9h-0.9zM466.3 246.3h0.9v0.9h-0.9zM460.9 248.3h0.9v0.9h-0.9zM458.2 243.3h0.9v0.9h-0.9zM472.4 242.9h0.9v0.9h-0.9zM456.8 250.0h0.9v0.9h-0.9zM466.0 241.3h0.9v0.9h-0.9zM452.9 231.6h0.9v0.9h-0.9zM454.6 252.0h0.9v0.9h-0.9zM464.7 237.9h0.9v0.9h-0.9zM469.5 251.9h0.9v0.9h-0.9zM458.4 245.9h0.9v0.9h-0.9zM453.9 245.3h0.9v0.9h-0.9zM473.2 234.5h0.9v0.9h-0.9zM463.4 239.2h0.9v0.9h-0.9zM462.5 243.5h0.9v0.9h-0.9zM464.6 248.4h0.9v0.9h-0.9zM465.9 249.3h0.9v0.9h-0.9zM468.7 249.6h0.9v0.9h-0.9zM459.3 245.5h0.9v0.9h-0.9zM461.0 237.9h0.9v0.9h-0.9zM473.9 244.8h0.9v0.9h-0.9zM463.3 230.3h0.9v0.9h-0.9zM461.8 247.7h0.9v0.9h-0.9zM461.9 239.7h0.9v0.9h-0.9zM471.3 241.1h0.9v0.9h-0.9zM461.2 242.4h0.9v0.9h-0.9zM461.7 249.4h0.9v0.9h-0.9zM466.2 242.6h0.9v0.9h-0.9zM461.0 241.6h0.9v0.9h-0.9zM472.5 241.2h0.9v0.9h-0.9zM466.7 233.5h0.9v0.9h-0.9zM464.8 247.2h0.9v0.9h-0.9zM470.1 244.9h0.9v0.9h-0.9zM466.3 245.0h0.9v0.9h-0.9zM464.2 238.1h0.9v0.9h-0.9zM466.4 242.3h0.9v0.9h-0.9zM466.6 247.7h0.9v0.9h-0.9zM463.9 240.3h0.9v0.9h-0.9zM464.8 235.5h0.9v0.9h-0.9zM464.6 237.6h0.9v0.9h-0.9zM465.6 243.7h0.9v0.9h-0.9zM461.8 235.7h0.9v0.9h-0.9zM463.3 238.9h0.9v0.9h-0.9zM462.3 247.2h0.9v0.9h-0.9zM468.3 235.2h0.9v0.9h-0.9zM468.2 251.2h0.9v0.9h-0.9zM469.3 244.7h0.9v0.9h-0.9zM462.6 253.5h0.9v0.9h-0.9zM461.3 233.8h0.9v0.9h-0.9zM463.6 244.7h0.9v0.9h-0.9zM457.3 235.6h0.9v0.9h-0.9zM474.1 243.7h0.9v0.9h-0.9zM467.4 239.5h0.9v0.9h-0.9zM454.6 241.9h0.9v0.9h-0.9zM470.5 239.0h0.9v0.9h-0.9zM453.1 242.0h0.9v0.9h-0.9zM461.5 243.1h0.9v0.9h-0.9zM457.3 241.1h0.9v0.9h-0.9zM460.0 248.3h0.9v0.9h-0.9zM463.9 248.3h0.9v0.9h-0.9zM462.8 230.1h0.9v0.9h-0.9zM452.2 246.2h0.9v0.9h-0.9zM467.9 248.3h0.9v0.9h-0.9zM462.6 232.2h0.9v0.9h-0.9zM460.3 245.4h0.9v0.9h-0.9zM470.7 240.9h0.9v0.9h-0.9zM459.9 238.3h0.9v0.9h-0.9zM468.7 248.3h0.9v0.9h-0.9zM452.9 250.3h0.9v0.9h-0.9zM458.0 234.1h0.9v0.9h-0.9zM454.2 238.6h0.9v0.9h-0.9zM456.2 238.9h0.9v0.9h-0.9zM463.9 245.5h0.9v0.9h-0.9zM460.4 233.4h0.9v0.9h-0.9zM460.8 238.9h0.9v0.9h-0.9zM453.1 243.9h0.9v0.9h-0.9zM454.9 232.5h0.9v0.9h-0.9zM471.5 248.7h0.9v0.9h-0.9zM471.1 243.7h0.9v0.9h-0.9zM460.8 242.5h0.9v0.9h-0.9zM455.5 247.5h0.9v0.9h-0.9zM464.6 241.2h0.9v0.9h-0.9zM452.7 242.3h0.9v0.9h-0.9zM472.1 251.8h0.9v0.9h-0.9zM467.9 240.9h0.9v0.9h-0.9zM463.8 246.4h0.9v0.9h-0.9zM464.1 249.3h0.9v0.9h-0.9zM459.4 229.0h0.9v0.9h-0.9zM449.6 237.5h0.9v0.9h-0.9zM455.4 247.0h0.9v0.9h-0.9zM469.0 243.0h0.9v0.9h-0.9zM466.1 243.5h0.9v0.9h-0.9zM464.0 240.1h0.9v0.9h-0.9zM460.8 250.2h0.9v0.9h-0.9zM461.6 242.8h0.9v0.9h-0.9zM469.7 249.0h0.9v0.9h-0.9zM460.9 244.5h0.9v0.9h-0.9zM457.5 243.8h0.9v0.9h-0.9zM464.8 243.0h0.9v0.9h-0.9zM464.0 245.2h0.9v0.9h-0.9zM449.0 238.0h0.9v0.9h-0.9zM463.5 240.0h0.9v0.9h-0.9zM457.7 241.6h0.9v0.9h-0.9zM472.0 241.6h0.9v0.9h-0.9zM459.5 240.1h0.9v0.9h-0.9zM456.5 245.9h0.9v0.9h-0.9zM457.6 248.5h0.9v0.9h-0.9zM468.1 246.5h0.9v0.9h-0.9zM468.8 242.5h0.9v0.9h-0.9zM453.3 242.6h0.9v0.9h-0.9zM466.6 233.6h0.9v0.9h-0.9zM456.3 249.6h0.9v0.9h-0.9zM465.5 251.2h0.9v0.9h-0.9zM466.8 243.4h0.9v0.9h-0.9zM465.5 248.1h0.9v0.9h-0.9zM462.9 241.7h0.9v0.9h-0.9zM464.8 241.1h0.9v0.9h-0.9zM476.5 238.4h0.9v0.9h-0.9zM454.6 235.2h0.9v0.9h-0.9zM468.9 240.5h0.9v0.9h-0.9zM464.0 241.7h0.9v0.9h-0.9zM464.6 234.2h0.9v0.9h-0.9zM463.5 239.5h0.9v0.9h-0.9zM469.1 246.8h0.9v0.9h-0.9zM456.1 237.1h0.9v0.9h-0.9zM466.2 250.2h0.9v0.9h-0.9zM467.3 242.1h0.9v0.9h-0.9zM469.3 228.7h0.9v0.9h-0.9zM460.1 237.1h0.9v0.9h-0.9zM457.3 246.4h0.9v0.9h-0.9zM464.6 244.7h0.9v0.9h-0.9zM462.3 246.8h0.9v0.9h-0.9zM467.4 239.5h0.9v0.9h-0.9zM468.3 237.4h0.9v0.9h-0.9zM472.9 235.1h0.9v0.9h-0.9zM461.5 236.4h0.9v0.9h-0.9zM463.3 251.0h0.9v0.9h-0.9zM458.9 253.8h0.9v0.9h-0.9zM471.0 245.3h0.9v0.9h-0.9zM459.8 248.5h0.9v0.9h-0.9zM447.1 238.4h0.9v0.9h-0.9zM468.4 242.8h0.9v0.9h-0.9zM477.0 238.9h0.9v0.9h-0.9zM455.6 241.7h0.9v0.9h-0.9zM466.3 253.4h0.9v0.9h-0.9zM453.2 244.0h0.9v0.9h-0.9zM470.1 238.9h0.9v0.9h-0.9zM460.5 235.6h0.9v0.9h-0.9zM467.4 248.0h0.9v0.9h-0.9zM466.4 244.5h0.9v0.9h-0.9zM468.6 242.3h0.9v0.9h-0.9zM467.1 248.0h0.9v0.9h-0.9zM470.4 246.1h0.9v0.9h-0.9zM463.6 247.3h0.9v0.9h-0.9zM454.4 232.3h0.9v0.9h-0.9zM472.2 243.8h0.9v0.9h-0.9zM457.2 239.5h0.9v0.9h-0.9zM462.2 243.4h0.9v0.9h-0.9zM458.8 249.1h0.9v0.9h-0.9zM457.0 253.1h0.9v0.9h-0.9zM466.8 232.8h0.9v0.9h-0.9zM456.2 243.4h0.9v0.9h-0.9zM464.6 240.4h0.9v0.9h-0.9zM463.1 244.0h0.9v0.9h-0.9zM456.6 243.4h0.9v0.9h-0.9zM475.9 239.1h0.9v0.9h-0.9zM457.4 247.0h0.9v0.9h-0.9zM470.7 249.4h0.9v0.9h-0.9zM459.5 242.6h0.9v0.9h-0.9zM464.2 241.7h0.9v0.9h-0.9zM465.3 249.6h0.9v0.9h-0.9zM466.2 242.9h0.9v0.9h-0.9zM461.9 253.9h0.9v0.9h-0.9zM467.2 243.5h0.9v0.9h-0.9zM470.0 248.6h0.9v0.9h-0.9zM474.9 232.0h0.9v0.9h-0.9zM463.6 241.1h0.9v0.9h-0.9zM459.0 243.5h0.9v0.9h-0.9zM466.1 246.2h0.9v0.9h-0.9zM462.3 234.9h0.9v0.9h-0.9zM466.2 246.7h0.9v0.9h-0.9zM475.1 248.7h0.9v0.9h-0.9zM463.2 236.0h0.9v0.9h-0.9zM464.2 247.6h0.9v0.9h-0.9zM465.9 251.1h0.9v0.9h-0.9zM457.2 238.8h0.9v0.9h-0.9zM464.1 235.5h0.9v0.9h-0.9zM459.6 251.5h0.9v0.9h-0.9zM464.8 242.4h0.9v0.9h-0.9zM459.8 243.3h0.9v0.9h-0.9zM462.9 236.4h0.9v0.9h-0.9zM467.6 235.2h0.9v0.9h-0.9zM470.4 240.9h0.9v0.9h-0.9zM450.1 233.5h0.9v0.9h-0.9zM464.7 237.7h0.9v0.9h-0.9zM473.4 251.5h0.9v0.9h-0.9zM475.1 248.5h0.9v0.9h-0.9zM470.8 239.3h0.9v0.9h-0.9zM470.5 240.3h0.9v0.9h-0.9zM462.8 234.7h0.9v0.9h-0.9zM463.4 245.5h0.9v0.9h-0.9zM462.7 236.2h0.9v0.9h-0.9zM468.3 248.6h0.9v0.9h-0.9zM462.6 247.8h0.9v0.9h-0.9zM468.7 237.0h0.9v0.9h-0.9zM462.9 231.6h0.9v0.9h-0.9zM457.1 245.6h0.9v0.9h-0.9zM458.0 245.4h0.9v0.9h-0.9zM465.2 230.3h0.9v0.9h-0.9zM460.3 252.3h0.9v0.9h-0.9zM463.2 243.8h0.9v0.9h-0.9zM459.0 233.1h0.9v0.9h-0.9zM462.0 237.6h0.9v0.9h-0.9zM463.7 231.1h0.9v0.9h-0.9zM471.1 253.5h0.9v0.9h-0.9zM458.7 245.0h0.9v0.9h-0.9zM457.9 248.3h0.9v0.9h-0.9zM458.2 242.1h0.9v0.9h-0.9zM470.6 246.2h0.9v0.9h-0.9zM461.2 233.6h0.9v0.9h-0.9zM453.9 250.4h0.9v0.9h-0.9zM466.0 243.4h0.9v0.9h-0.9zM470.3 243.9h0.9v0.9h-0.9zM458.9 242.4h0.9v0.9h-0.9zM462.5 242.9h0.9v0.9h-0.9zM464.7 241.5h0.9v0.9h-0.9zM459.1 236.9h0.9v0.9h-0.9zM452.2 240.2h0.9v0.9h-0.9zM454.3 231.6h0.9v0.9h-0.9zM457.6 230.5h0.9v0.9h-0.9zM471.0 250.7h0.9v0.9h-0.9zM466.9 227.4h0.9v0.9h-0.9zM463.2 236.8h0.9v0.9h-0.9zM453.0 241.4h0.9v0.9h-0.9zM469.7 245.7h0.9v0.9h-0.9zM454.6 238.9h0.9v0.9h-0.9zM458.7 250.1h0.9v0.9h-0.9zM462.5 236.9h0.9v0.9h-0.9zM457.8 230.8h0.9v0.9h-0.9zM458.2 248.5h0.9v0.9h-0.9zM452.0 244.2h0.9v0.9h-0.9zM462.4 248.1h0.9v0.9h-0.9zM456.4 248.6h0.9v0.9h-0.9zM453.6 242.8h0.9v0.9h-0.9zM461.8 243.8h0.9v0.9h-0.9zM457.3 248.3h0.9v0.9h-0.9zM476.7 252.3h0.9v0.9h-0.9zM457.5 239.4h0.9v0.9h-0.9zM467.3 243.8h0.9v0.9h-0.9zM458.6 250.7h0.9v0.9h-0.9zM466.1 249.3h0.9v0.9h-0.9zM462.0 250.9h0.9v0.9h-0.9zM460.3 236.1h0.9v0.9h-0.9zM463.0 234.3h0.9v0.9h-0.9zM470.3 247.5h0.9v0.9h-0.9zM453.3 244.1h0.9v0.9h-0.9zM468.0 240.8h0.9v0.9h-0.9zM465.5 239.4h0.9v0.9h-0.9zM462.6 242.5h0.9v0.9h-0.9zM465.9 237.0h0.9v0.9h-0.9zM456.5 245.0h0.9v0.9h-0.9zM460.1 246.2h0.9v0.9h-0.9zM460.1 234.9h0.9v0.9h-0.9zM467.3 244.7h0.9v0.9h-0.9zM467.3 240.9h0.9v0.9h-0.9zM460.9 250.8h0.9v0.9h-0.9zM453.2 253.8h0.9v0.9h-0.9zM466.0 242.6h0.9v0.9h-0.9zM463.6 246.7h0.9v0.9h-0.9zM458.5 244.7h0.9v0.9h-0.9zM457.5 231.5h0.9v0.9h-0.9zM464.2 243.6h0.9v0.9h-0.9zM466.8 246.5h0.9v0.9h-0.9zM467.1 247.9h0.9v0.9h-0.9zM456.9 250.6h0.9v0.9h-0.9zM455.7 247.3h0.9v0.9h-0.9zM468.4 249.3h0.9v0.9h-0.9zM472.0 234.4h0.9v0.9h-0.9zM465.2 245.9h0.9v0.9h-0.9zM470.3 237.5h0.9v0.9h-0.9zM463.2 240.7h0.9v0.9h-0.9zM462.1 242.1h0.9v0.9h-0.9zM462.1 232.0h0.9v0.9h-0.9zM462.8 243.4h0.9v0.9h-0.9zM460.8 220.9h0.9v0.9h-0.9zM459.0 238.9h0.9v0.9h-0.9zM458.0 253.0h0.9v0.9h-0.9zM468.4 241.8h0.9v0.9h-0.9zM457.4 245.9h0.9v0.9h-0.9zM459.5 252.2h0.9v0.9h-0.9zM469.5 242.2h0.9v0.9h-0.9zM466.6 238.0h0.9v0.9h-0.9zM453.8 248.2h0.9v0.9h-0.9zM472.6 241.1h0.9v0.9h-0.9zM460.0 231.8h0.9v0.9h-0.9zM475.5 235.5h0.9v0.9h-0.9zM457.4 241.8h0.9v0.9h-0.9zM470.1 243.3h0.9v0.9h-0.9zM462.9 243.1h0.9v0.9h-0.9zM468.0 242.8h0.9v0.9h-0.9zM463.9 242.5h0.9v0.9h-0.9zM456.5 251.4h0.9v0.9h-0.9zM459.0 234.8h0.9v0.9h-0.9zM460.5 243.2h0.9v0.9h-0.9zM467.8 233.8h0.9v0.9h-0.9zM455.6 244.1h0.9v0.9h-0.9zM465.2 236.2h0.9v0.9h-0.9zM456.4 244.1h0.9v0.9h-0.9zM462.2 232.9h0.9v0.9h-0.9zM457.9 252.2h0.9v0.9h-0.9zM456.8 249.5h0.9v0.9h-0.9zM454.1 252.2h0.9v0.9h-0.9zM472.4 239.1h0.9v0.9h-0.9zM459.0 246.9h0.9v0.9h-0.9zM455.8 246.4h0.9v0.9h-0.9zM470.1 244.6h0.9v0.9h-0.9zM464.9 242.0h0.9v0.9h-0.9zM468.9 237.9h0.9v0.9h-0.9zM472.3 242.9h0.9v0.9h-0.9zM461.1 232.8h0.9v0.9h-0.9zM460.4 244.5h0.9v0.9h-0.9zM470.3 233.0h0.9v0.9h-0.9zM462.3 238.7h0.9v0.9h-0.9zM456.0 243.0h0.9v0.9h-0.9zM458.6 248.4h0.9v0.9h-0.9zM447.3 247.6h0.9v0.9h-0.9zM451.9 230.9h0.9v0.9h-0.9zM466.0 240.9h0.9v0.9h-0.9zM463.8 237.0h0.9v0.9h-0.9zM456.9 238.4h0.9v0.9h-0.9zM462.7 237.8h0.9v0.9h-0.9zM460.6 237.6h0.9v0.9h-0.9zM464.4 235.9h0.9v0.9h-0.9zM450.9 226.7h0.9v0.9h-0.9zM462.9 243.6h0.9v0.9h-0.9zM468.6 238.4h0.9v0.9h-0.9zM456.4 233.7h0.9v0.9h-0.9zM467.4 239.1h0.9v0.9h-0.9zM468.8 242.5h0.9v0.9h-0.9zM461.4 231.4h0.9v0.9h-0.9zM459.1 247.9h0.9v0.9h-0.9zM459.5 247.2h0.9v0.9h-0.9zM453.4 249.3h0.9v0.9h-0.9zM464.9 235.3h0.9v0.9h-0.9zM459.9 238.9h0.9v0.9h-0.9zM464.1 230.4h0.9v0.9h-0.9zM458.0 247.9h0.9v0.9h-0.9zM463.9 247.6h0.9v0.9h-0.9zM468.0 235.9h0.9v0.9h-0.9zM455.2 245.9h0.9v0.9h-0.9zM463.2 243.5h0.9v0.9h-0.9zM458.3 249.3h0.9v0.9h-0.9zM465.9 250.1h0.9v0.9h-0.9zM460.9 247.3h0.9v0.9h-0.9zM462.7 237.1h0.9v0.9h-0.9zM462.5 232.7h0.9v0.9h-0.9zM462.0 244.1h0.9v0.9h-0.9zM467.0 236.4h0.9v0.9h-0.9zM455.3 238.5h0.9v0.9h-0.9zM450.9 238.9h0.9v0.9h-0.9zM458.6 238.8h0.9v0.9h-0.9zM473.3 235.8h0.9v0.9h-0.9zM462.3 242.5h0.9v0.9h-0.9zM458.7 238.5h0.9v0.9h-0.9zM453.2 237.8h0.9v0.9h-0.9zM470.6 251.8h0.9v0.9h-0.9zM461.4 247.4h0.9v0.9h-0.9zM465.7 243.7h0.9v0.9h-0.9zM462.2 250.6h0.9v0.9h-0.9zM466.3 241.6h0.9v0.9h-0.9zM461.6 248.8h0.9v0.9h-0.9zM459.5 238.5h0.9v0.9h-0.9zM461.4 239.9h0.9v0.9h-0.9zM470.3 245.2h0.9v0.9h-0.9zM462.5 239.7h0.9v0.9h-0.9zM471.2 245.7h0.9v0.9h-0.9zM475.1 248.7h0.9v0.9h-0.9zM461.7 239.6h0.9v0.9h-0.9zM461.3 244.1h0.9v0.9h-0.9zM467.6 246.0h0.9v0.9h-0.9zM472.1 233.5h0.9v0.9h-0.9zM463.2 234.2h0.9v0.9h-0.9zM457.0 239.3h0.9v0.9h-0.9zM459.2 237.0h0.9v0.9h-0.9zM454.2 250.1h0.9v0.9h-0.9zM461.1 249.0h0.9v0.9h-0.9zM456.6 228.6h0.9v0.9h-0.9zM459.5 248.5h0.9v0.9h-0.9zM459.7 245.5h0.9v0.9h-0.9zM456.7 251.7h0.9v0.9h-0.9zM465.5 249.5h0.9v0.9h-0.9zM461.4 251.0h0.9v0.9h-0.9zM463.4 240.0h0.9v0.9h-0.9zM459.3 243.3h0.9v0.9h-0.9zM457.7 235.6h0.9v0.9h-0.9zM463.8 247.4h0.9v0.9h-0.9zM461.3 248.2h0.9v0.9h-0.9zM472.2 235.1h0.9v0.9h-0.9zM464.5 237.0h0.9v0.9h-0.9zM459.3 244.1h0.9v0.9h-0.9zM449.2 246.8h0.9v0.9h-0.9zM467.9 246.4h0.9v0.9h-0.9zM460.9 249.8h0.9v0.9h-0.9zM471.4 246.1h0.9v0.9h-0.9zM452.6 242.0h0.9v0.9h-0.9zM461.3 232.9h0.9v0.9h-0.9zM462.6 247.7h0.9v0.9h-0.9zM461.5 241.9h0.9v0.9h-0.9zM471.5 239.2h0.9v0.9h-0.9zM457.5 243.2h0.9v0.9h-0.9zM469.5 246.7h0.9v0.9h-0.9zM463.4 239.9h0.9v0.9h-0.9zM470.2 248.5h0.9v0.9h-0.9zM452.9 245.1h0.9v0.9h-0.9zM449.0 252.3h0.9v0.9h-0.9zM466.6 239.1h0.9v0.9h-0.9zM455.5 241.1h0.9v0.9h-0.9zM452.8 246.5h0.9v0.9h-0.9zM460.0 232.0h0.9v0.9h-0.9zM462.9 250.3h0.9v0.9h-0.9zM455.6 240.8h0.9v0.9h-0.9zM473.6 244.1h0.9v0.9h-0.9zM459.8 244.2h0.9v0.9h-0.9zM467.5 236.8h0.9v0.9h-0.9zM462.4 232.8h0.9v0.9h-0.9zM453.8 233.4h0.9v0.9h-0.9zM467.9 244.9h0.9v0.9h-0.9zM467.3 250.6h0.9v0.9h-0.9zM463.3 244.5h0.9v0.9h-0.9zM465.4 245.9h0.9v0.9h-0.9zM456.8 241.3h0.9v0.9h-0.9zM462.1 243.2h0.9v0.9h-0.9zM458.6 242.2h0.9v0.9h-0.9zM464.7 244.2h0.9v0.9h-0.9zM466.4 248.1h0.9v0.9h-0.9zM466.2 249.0h0.9v0.9h-0.9zM467.9 251.7h0.9v0.9h-0.9zM466.6 239.1h0.9v0.9h-0.9zM476.5 250.0h0.9v0.9h-0.9zM470.3 247.5h0.9v0.9h-0.9zM463.3 235.9h0.9v0.9h-0.9zM465.5 240.8h0.9v0.9h-0.9zM460.7 229.7h0.9v0.9h-0.9zM472.0 235.7h0.9v0.9h-0.9zM456.6 245.9h0.9v0.9h-0.9zM466.3 238.1h0.9v0.9h-0.9zM463.0 244.6h0.9v0.9h-0.9zM463.9 246.3h0.9v0.9h-0.9zM467.5 240.7h0.9v0.9h-0.9zM460.8 236.8h0.9v0.9h-0.9zM467.4 246.6h0.9v0.9h-0.9zM449.3 251.0h0.9v0.9h-0.9zM462.8 244.9h0.9v0.9h-0.9zM464.8 241.6h0.9v0.9h-0.9zM464.8 234.9h0.9v0.9h-0.9zM448.0 250.7h0.9v0.9h-0.9zM450.0 237.7h0.9v0.9h-0.9zM468.1 240.5h0.9v0.9h-0.9zM459.6 233.7h0.9v0.9h-0.9zM462.3 241.9h0.9v0.9h-0.9zM459.3 233.3h0.9v0.9h-0.9zM463.9 245.6h0.9v0.9h-0.9zM469.6 246.2h0.9v0.9h-0.9zM471.8 250.4h0.9v0.9h-0.9zM446.6 253.3h0.9v0.9h-0.9zM462.4 236.5h0.9v0.9h-0.9zM465.5 249.0h0.9v0.9h-0.9zM454.0 235.3h0.9v0.9h-0.9zM467.0 239.6h0.9v0.9h-0.9zM471.5 244.3h0.9v0.9h-0.9zM459.8 234.7h0.9v0.9h-0.9zM466.5 232.3h0.9v0.9h-0.9zM455.4 234.8h0.9v0.9h-0.9zM472.9 253.6h0.9v0.9h-0.9zM461.7 240.6h0.9v0.9h-0.9zM467.1 250.7h0.9v0.9h-0.9zM461.8 250.0h0.9v0.9h-0.9zM449.2 242.7h0.9v0.9h-0.9zM461.7 235.1h0.9v0.9h-0.9zM474.3 238.7h0.9v0.9h-0.9zM463.0 235.2h0.9v0.9h-0.9zM466.9 244.2h0.9v0.9h-0.9zM461.3 240.5h0.9v0.9h-0.9zM459.7 238.5h0.9v0.9h-0.9zM454.8 250.5h0.9v0.9h-0.9zM468.2 234.3h0.9v0.9h-0.9zM456.2 245.5h0.9v0.9h-0.9zM476.2 241.7h0.9v0.9h-0.9zM461.2 241.4h0.9v0.9h-0.9zM464.4 241.9h0.9v0.9h-0.9zM469.3 249.1h0.9v0.9h-0.9zM466.2 252.8h0.9v0.9h-0.9zM461.6 239.6h0.9v0.9h-0.9zM453.9 228.3h0.9v0.9h-0.9zM465.1 236.3h0.9v0.9h-0.9zM469.2 229.9h0.9v0.9h-0.9zM462.2 240.6h0.9v0.9h-0.9zM456.7 249.9h0.9v0.9h-0.9zM460.7 245.8h0.9v0.9h-0.9zM459.9 243.9h0.9v0.9h-0.9zM460.4 243.5h0.9v0.9h-0.9zM462.4 238.8h0.9v0.9h-0.9zM465.5 241.8h0.9v0.9h-0.9zM457.3 236.5h0.9v0.9h-0.9zM465.6 251.3h0.9v0.9h-0.9zM455.4 240.4h0.9v0.9h-0.9zM465.6 249.5h0.9v0.9h-0.9zM467.1 235.6h0.9v0.9h-0.9zM463.2 248.6h0.9v0.9h-0.9zM464.4 241.6h0.9v0.9h-0.9zM456.1 244.0h0.9v0.9h-0.9zM462.6 243.2h0.9v0.9h-0.9zM471.7 250.4h0.9v0.9h-0.9zM458.4 244.4h0.9v0.9h-0.9zM461.2 243.6h0.9v0.9h-0.9zM472.5 248.7h0.9v0.9h-0.9zM463.2 238.9h0.9v0.9h-0.9zM462.0 245.3h0.9v0.9h-0.9zM460.1 249.8h0.9v0.9h-0.9zM463.1 235.6h0.9v0.9h-0.9zM474.9 224.9h0.9v0.9h-0.9zM461.4 242.2h0.9v0.9h-0.9zM468.8 249.9h0.9v0.9h-0.9zM471.5 252.7h0.9v0.9h-0.9zM464.8 243.7h0.9v0.9h-0.9zM468.9 242.8h0.9v0.9h-0.9zM455.7 240.2h0.9v0.9h-0.9zM466.9 246.8h0.9v0.9h-0.9zM456.6 250.4h0.9v0.9h-0.9zM464.8 233.6h0.9v0.9h-0.9zM465.7 249.3h0.9v0.9h-0.9zM466.1 241.1h0.9v0.9h-0.9zM458.3 250.0h0.9v0.9h-0.9zM464.3 243.0h0.9v0.9h-0.9zM460.7 236.6h0.9v0.9h-0.9zM452.1 240.9h0.9v0.9h-0.9zM469.5 247.7h0.9v0.9h-0.9zM459.0 252.5h0.9v0.9h-0.9zM461.7 236.7h0.9v0.9h-0.9zM468.7 251.6h0.9v0.9h-0.9zM460.7 235.4h0.9v0.9h-0.9zM462.6 227.9h0.9v0.9h-0.9zM463.3 252.5h0.9v0.9h-0.9zM464.6 238.4h0.9v0.9h-0.9zM467.1 239.9h0.9v0.9h-0.9zM470.4 240.8h0.9v0.9h-0.9zM474.9 240.8h0.9v0.9h-0.9zM464.1 237.2h0.9v0.9h-0.9zM455.5 245.1h0.9v0.9h-0.9zM465.0 236.9h0.9v0.9h-0.9zM466.3 240.4h0.9v0.9h-0.9zM459.8 242.5h0.9v0.9h-0.9zM465.3 247.5h0.9v0.9h-0.9zM470.2 245.4h0.9v0.9h-0.9zM458.8 238.7h0.9v0.9h-0.9zM465.2 235.6h0.9v0.9h-0.9zM462.0 240.6h0.9v0.9h-0.9zM462.4 244.1h0.9v0.9h-0.9zM469.1 253.2h0.9v0.9h-0.9zM468.1 249.3h0.9v0.9h-0.9zM456.8 249.4h0.9v0.9h-0.9zM470.5 234.6h0.9v0.9h-0.9zM449.1 254.0h0.9v0.9h-0.9zM463.4 238.0h0.9v0.9h-0.9zM459.7 249.7h0.9v0.9h-0.9zM464.5 240.7h0.9v0.9h-0.9zM469.7 237.2h0.9v0.9h-0.9zM458.1 239.5h0.9v0.9h-0.9zM458.6 247.3h0.9v0.9h-0.9zM461.7 236.5h0.9v0.9h-0.9zM460.3 230.7h0.9v0.9h-0.9zM464.0 243.6h0.9v0.9h-0.9zM466.5 241.5h0.9v0.9h-0.9zM465.3 237.2h0.9v0.9h-0.9zM463.1 244.0h0.9v0.9h-0.9zM455.9 246.6h0.9v0.9h-0.9zM463.8 243.3h0.9v0.9h-0.9zM463.0 238.2h0.9v0.9h-0.9zM458.1 246.7h0.9v0.9h-0.9zM461.8 238.1h0.9v0.9h-0.9zM458.8 248.8h0.9v0.9h-0.9zM463.5 249.5h0.9v0.9h-0.9zM462.9 235.7h0.9v0.9h-0.9zM468.0 245.0h0.9v0.9h-0.9zM459.2 241.1h0.9v0.9h-0.9zM457.3 248.2h0.9v0.9h-0.9zM460.6 246.0h0.9v0.9h-0.9zM464.5 241.4h0.9v0.9h-0.9zM465.2 241.5h0.9v0.9h-0.9zM456.1 240.4h0.9v0.9h-0.9zM456.1 247.7h0.9v0.9h-0.9zM466.8 239.4h0.9v0.9h-0.9zM466.6 244.5h0.9v0.9h-0.9zM468.7 237.2h0.9v0.9h-0.9zM463.1 236.8h0.9v0.9h-0.9zM459.0 251.5h0.9v0.9h-0.9zM451.3 237.3h0.9v0.9h-0.9zM465.8 247.8h0.9v0.9h-0.9zM458.4 230.4h0.9v0.9h-0.9zM453.0 245.3h0.9v0.9h-0.9zM469.4 248.6h0.9v0.9h-0.9zM458.7 251.4h0.9v0.9h-0.9zM461.9 246.8h0.9v0.9h-0.9zM461.9 252.9h0.9v0.9h-0.9zM460.0 229.7h0.9v0.9h-0.9zM461.2 244.2h0.9v0.9h-0.9zM464.6 238.5h0.9v0.9h-0.9zM461.7 236.0h0.9v0.9h-0.9zM461.6 243.5h0.9v0.9h-0.9zM464.4 253.2h0.9v0.9h-0.9zM451.4 246.2h0.9v0.9h-0.9zM465.5 235.8h0.9v0.9h-0.9zM463.4 243.0h0.9v0.9h-0.9zM457.2 247.5h0.9v0.9h-0.9zM474.1 247.2h0.9v0.9h-0.9zM467.5 249.6h0.9v0.9h-0.9zM462.2 249.0h0.9v0.9h-0.9zM458.3 244.1h0.9v0.9h-0.9zM467.1 251.1h0.9v0.9h-0.9zM461.3 241.2h0.9v0.9h-0.9zM465.7 242.5h0.9v0.9h-0.9zM463.8 248.0h0.9v0.9h-0.9zM458.6 248.4h0.9v0.9h-0.9zM465.2 241.4h0.9v0.9h-0.9zM455.8 239.1h0.9v0.9h-0.9zM462.7 248.8h0.9v0.9h-0.9zM451.6 247.4h0.9v0.9h-0.9zM464.1 236.0h0.9v0.9h-0.9zM468.0 245.5h0.9v0.9h-0.9zM465.5 237.0h0.9v0.9h-0.9zM456.6 248.6h0.9v0.9h-0.9zM471.1 245.3h0.9v0.9h-0.9zM461.9 240.2h0.9v0.9h-0.9zM453.1 249.1h0.9v0.9h-0.9zM462.4 250.6h0.9v0.9h-0.9zM458.8 249.5h0.9v0.9h-0.9zM458.9 246.6h0.9v0.9h-0.9zM470.9 238.7h0.9v0.9h-0.9zM468.2 243.0h0.9v0.9h-0.9zM457.6 244.2h0.9v0.9h-0.9zM466.7 238.6h0.9v0.9h-0.9zM461.5 239.5h0.9v0.9h-0.9zM458.6 241.7h0.9v0.9h-0.9zM467.7 239.9h0.9v0.9h-0.9zM470.2 240.7h0.9v0.9h-0.9zM459.0 249.6h0.9v0.9h-0.9zM471.1 239.0h0.9v0.9h-0.9zM466.4 235.8h0.9v0.9h-0.9zM460.7 240.7h0.9v0.9h-0.9zM467.1 235.3h0.9v0.9h-0.9zM460.1 238.8h0.9v0.9h-0.9zM463.6 235.4h0.9v0.9h-0.9zM464.2 233.7h0.9v0.9h-0.9zM467.8 234.9h0.9v0.9h-0.9zM452.2 253.2h0.9v0.9h-0.9zM470.2 237.8h0.9v0.9h-0.9zM456.7 245.9h0.9v0.9h-0.9zM474.7 246.7h0.9v0.9h-0.9zM466.8 235.7h0.9v0.9h-0.9zM452.8 245.4h0.9v0.9h-0.9zM468.8 243.8h0.9v0.9h-0.9zM463.0 251.5h0.9v0.9h-0.9zM458.2 249.7h0.9v0.9h-0.9zM467.8 239.2h0.9v0.9h-0.9zM463.7 243.7h0.9v0.9h-0.9zM466.3 237.0h0.9v0.9h-0.9zM461.7 243.6h0.9v0.9h-0.9zM463.2 243.1h0.9v0.9h-0.9zM464.4 241.8h0.9v0.9h-0.9zM460.1 249.3h0.9v0.9h-0.9zM459.3 241.0h0.9v0.9h-0.9zM458.0 236.0h0.9v0.9h-0.9zM465.6 242.7h0.9v0.9h-0.9zM462.2 245.8h0.9v0.9h-0.9zM462.0 247.2h0.9v0.9h-0.9zM473.3 245.1h0.9v0.9h-0.9zM461.5 253.1h0.9v0.9h-0.9zM467.0 232.8h0.9v0.9h-0.9zM470.6 244.3h0.9v0.9h-0.9zM467.9 235.9h0.9v0.9h-0.9zM458.2 239.0h0.9v0.9h-0.9zM466.2 236.1h0.9v0.9h-0.9zM458.9 248.8h0.9v0.9h-0.9zM459.3 243.7h0.9v0.9h-0.9zM457.9 232.6h0.9v0.9h-0.9zM462.5 242.3h0.9v0.9h-0.9zM454.8 248.9h0.9v0.9h-0.9zM467.7 248.4h0.9v0.9h-0.9zM460.1 236.0h0.9v0.9h-0.9zM462.5 244.0h0.9v0.9h-0.9zM462.0 239.4h0.9v0.9h-0.9zM457.3 238.5h0.9v0.9h-0.9zM462.5 240.0h0.9v0.9h-0.9zM472.5 241.3h0.9v0.9h-0.9zM465.6 240.2h0.9v0.9h-0.9zM461.9 237.1h0.9v0.9h-0.9zM460.2 233.9h0.9v0.9h-0.9zM451.2 251.2h0.9v0.9h-0.9zM457.0 245.6h0.9v0.9h-0.9zM462.3 239.5h0.9v0.9h-0.9zM467.1 239.6h0.9v0.9h-0.9zM465.5 240.7h0.9v0.9h-0.9zM468.5 248.8h0.9v0.9h-0.9zM463.4 249.7h0.9v0.9h-0.9zM465.9 252.5h0.9v0.9h-0.9zM462.3 233.6h0.9v0.9h-0.9zM464.2 244.4h0.9v0.9h-0.9zM460.9 241.7h0.9v0.9h-0.9zM461.5 235.4h0.9v0.9h-0.9zM472.8 238.3h0.9v0.9h-0.9zM456.9 233.4h0.9v0.9h-0.9zM458.2 242.8h0.9v0.9h-0.9zM471.4 246.6h0.9v0.9h-0.9zM458.9 235.4h0.9v0.9h-0.9zM456.6 242.5h0.9v0.9h-0.9zM467.9 240.1h0.9v0.9h-0.9zM463.9 229.8h0.9v0.9h-0.9zM469.2 242.4h0.9v0.9h-0.9zM466.8 249.0h0.9v0.9h-0.9zM457.3 243.4h0.9v0.9h-0.9zM464.0 238.4h0.9v0.9h-0.9zM466.9 242.2h0.9v0.9h-0.9zM463.9 252.9h0.9v0.9h-0.9zM462.1 249.3h0.9v0.9h-0.9zM458.7 243.9h0.9v0.9h-0.9zM469.1 229.8h0.9v0.9h-0.9zM466.0 241.3h0.9v0.9h-0.9zM469.2 244.1h0.9v0.9h-0.9zM462.6 235.2h0.9v0.9h-0.9zM461.1 238.6h0.9v0.9h-0.9zM461.3 244.3h0.9v0.9h-0.9zM455.4 249.4h0.9v0.9h-0.9zM461.5 246.6h0.9v0.9h-0.9zM451.0 239.8h0.9v0.9h-0.9zM461.3 240.6h0.9v0.9h-0.9zM459.2 244.9h0.9v0.9h-0.9zM465.3 237.0h0.9v0.9h-0.9zM451.9 247.4h0.9v0.9h-0.9zM461.2 249.5h0.9v0.9h-0.9zM467.9 242.3h0.9v0.9h-0.9zM454.9 240.8h0.9v0.9h-0.9zM458.8 250.5h0.9v0.9h-0.9zM453.4 248.5h0.9v0.9h-0.9zM454.2 239.5h0.9v0.9h-0.9zM455.0 238.7h0.9v0.9h-0.9zM460.5 245.2h0.9v0.9h-0.9zM459.6 247.2h0.9v0.9h-0.9zM472.9 244.0h0.9v0.9h-0.9zM456.4 241.9h0.9v0.9h-0.9zM462.4 240.8h0.9v0.9h-0.9zM469.5 250.0h0.9v0.9h-0.9zM474.3 246.2h0.9v0.9h-0.9zM447.9 242.2h0.9v0.9h-0.9zM466.8 238.1h0.9v0.9h-0.9zM459.6 248.5h0.9v0.9h-0.9zM463.8 236.1h0.9v0.9h-0.9zM459.7 224.3h0.9v0.9h-0.9zM462.9 235.6h0.9v0.9h-0.9zM462.7 235.8h0.9v0.9h-0.9zM457.7 239.8h0.9v0.9h-0.9zM456.2 239.7h0.9v0.9h-0.9zM469.0 247.8h0.9v0.9h-0.9zM466.9 241.0h0.9v0.9h-0.9zM463.7 238.3h0.9v0.9h-0.9zM461.9 238.1h0.9v0.9h-0.9zM454.7 236.9h0.9v0.9h-0.9zM473.9 245.4h0.9v0.9h-0.9zM458.7 242.3h0.9v0.9h-0.9zM460.4 250.4h0.9v0.9h-0.9zM462.8 239.1h0.9v0.9h-0.9zM466.8 244.9h0.9v0.9h-0.9zM459.1 238.3h0.9v0.9h-0.9zM463.8 233.0h0.9v0.9h-0.9zM457.8 249.1h0.9v0.9h-0.9zM467.8 249.7h0.9v0.9h-0.9zM460.4 239.4h0.9v0.9h-0.9zM461.4 240.1h0.9v0.9h-0.9zM470.2 241.6h0.9v0.9h-0.9zM470.6 238.7h0.9v0.9h-0.9zM465.1 252.8h0.9v0.9h-0.9zM458.7 239.0h0.9v0.9h-0.9zM459.6 233.2h0.9v0.9h-0.9zM461.3 239.1h0.9v0.9h-0.9zM475.4 240.1h0.9v0.9h-0.9zM450.9 248.7h0.9v0.9h-0.9zM468.3 242.8h0.9v0.9h-0.9zM464.6 247.3h0.9v0.9h-0.9zM459.8 243.2h0.9v0.9h-0.9zM463.8 253.0h0.9v0.9h-0.9zM470.9 244.0h0.9v0.9h-0.9zM455.4 248.3h0.9v0.9h-0.9zM462.6 250.1h0.9v0.9h-0.9zM463.2 244.1h0.9v0.9h-0.9zM466.6 238.5h0.9v0.9h-0.9zM458.0 248.6h0.9v0.9h-0.9zM466.8 247.9h0.9v0.9h-0.9zM470.7 234.8h0.9v0.9h-0.9zM468.3 230.5h0.9v0.9h-0.9zM463.2 245.0h0.9v0.9h-0.9zM468.8 249.6h0.9v0.9h-0.9zM457.7 241.3h0.9v0.9h-0.9zM462.0 238.8h0.9v0.9h-0.9zM458.3 239.0h0.9v0.9h-0.9zM469.4 251.2h0.9v0.9h-0.9zM467.2 253.2h0.9v0.9h-0.9zM463.4 236.4h0.9v0.9h-0.9zM459.2 244.2h0.9v0.9h-0.9zM468.7 250.4h0.9v0.9h-0.9zM457.9 248.8h0.9v0.9h-0.9zM459.9 246.6h0.9v0.9h-0.9zM468.1 252.0h0.9v0.9h-0.9zM460.0 244.5h0.9v0.9h-0.9zM465.3 240.4h0.9v0.9h-0.9zM463.4 246.6h0.9v0.9h-0.9zM453.6 239.1h0.9v0.9h-0.9zM475.9 245.7h0.9v0.9h-0.9zM459.8 231.8h0.9v0.9h-0.9zM457.5 246.1h0.9v0.9h-0.9zM466.8 245.7h0.9v0.9h-0.9zM466.3 239.3h0.9v0.9h-0.9zM471.9 236.1h0.9v0.9h-0.9zM465.8 241.4h0.9v0.9h-0.9zM453.3 248.5h0.9v0.9h-0.9zM461.4 247.3h0.9v0.9h-0.9zM470.1 244.0h0.9v0.9h-0.9zM459.2 241.7h0.9v0.9h-0.9zM462.5 251.8h0.9v0.9h-0.9zM467.8 252.6h0.9v0.9h-0.9zM467.2 238.3h0.9v0.9h-0.9zM468.2 248.9h0.9v0.9h-0.9zM462.2 245.8h0.9v0.9h-0.9zM461.1 235.3h0.9v0.9h-0.9zM462.4 247.6h0.9v0.9h-0.9zM460.9 229.4h0.9v0.9h-0.9zM458.4 249.6h0.9v0.9h-0.9zM464.2 249.8h0.9v0.9h-0.9zM458.7 240.4h0.9v0.9h-0.9zM457.3 238.3h0.9v0.9h-0.9zM465.8 243.8h0.9v0.9h-0.9zM460.2 244.8h0.9v0.9h-0.9zM455.5 240.6h0.9v0.9h-0.9zM454.5 233.9h0.9v0.9h-0.9zM455.2 236.3h0.9v0.9h-0.9zM471.8 251.4h0.9v0.9h-0.9zM470.0 239.5h0.9v0.9h-0.9zM466.4 236.1h0.9v0.9h-0.9zM459.9 244.5h0.9v0.9h-0.9zM453.9 244.2h0.9v0.9h-0.9zM466.4 230.4h0.9v0.9h-0.9zM449.1 241.3h0.9v0.9h-0.9zM462.2 243.9h0.9v0.9h-0.9zM456.5 246.5h0.9v0.9h-0.9zM463.6 238.5h0.9v0.9h-0.9zM472.2 244.6h0.9v0.9h-0.9zM460.1 241.6h0.9v0.9h-0.9zM453.1 241.6h0.9v0.9h-0.9zM466.1 244.2h0.9v0.9h-0.9zM455.8 237.8h0.9v0.9h-0.9zM452.5 234.6h0.9v0.9h-0.9zM463.5 244.8h0.9v0.9h-0.9zM457.8 241.7h0.9v0.9h-0.9zM458.4 246.8h0.9v0.9h-0.9zM466.5 239.6h0.9v0.9h-0.9zM460.3 235.5h0.9v0.9h-0.9zM462.8 248.2h0.9v0.9h-0.9zM466.2 252.0h0.9v0.9h-0.9zM461.1 237.5h0.9v0.9h-0.9zM468.8 248.6h0.9v0.9h-0.9zM459.2 249.7h0.9v0.9h-0.9zM462.8 242.7h0.9v0.9h-0.9zM473.3 246.2h0.9v0.9h-0.9zM464.7 241.0h0.9v0.9h-0.9zM464.0 249.4h0.9v0.9h-0.9zM465.5 238.4h0.9v0.9h-0.9zM465.4 242.3h0.9v0.9h-0.9zM464.6 241.8h0.9v0.9h-0.9zM450.6 233.1h0.9v0.9h-0.9zM460.7 229.5h0.9v0.9h-0.9zM466.8 240.2h0.9v0.9h-0.9zM464.8 229.3h0.9v0.9h-0.9zM464.3 249.0h0.9v0.9h-0.9zM464.0 235.0h0.9v0.9h-0.9zM468.4 239.7h0.9v0.9h-0.9zM459.7 244.2h0.9v0.9h-0.9zM465.5 235.4h0.9v0.9h-0.9zM462.9 243.3h0.9v0.9h-0.9zM471.0 250.9h0.9v0.9h-0.9zM457.8 245.2h0.9v0.9h-0.9zM472.0 236.8h0.9v0.9h-0.9zM460.9 238.4h0.9v0.9h-0.9zM465.9 245.5h0.9v0.9h-0.9zM462.7 247.0h0.9v0.9h-0.9zM458.5 240.7h0.9v0.9h-0.9zM462.7 243.4h0.9v0.9h-0.9zM470.3 243.5h0.9v0.9h-0.9zM470.3 244.5h0.9v0.9h-0.9zM469.4 244.1h0.9v0.9h-0.9zM457.7 237.8h0.9v0.9h-0.9zM473.5 241.0h0.9v0.9h-0.9zM458.1 248.7h0.9v0.9h-0.9zM454.3 248.6h0.9v0.9h-0.9zM465.0 246.9h0.9v0.9h-0.9zM456.1 245.4h0.9v0.9h-0.9zM468.2 242.7h0.9v0.9h-0.9zM468.7 243.2h0.9v0.9h-0.9zM464.9 241.1h0.9v0.9h-0.9zM455.2 242.0h0.9v0.9h-0.9zM465.7 238.3h0.9v0.9h-0.9zM451.8 233.4h0.9v0.9h-0.9zM470.4 241.6h0.9v0.9h-0.9zM458.6 250.6h0.9v0.9h-0.9zM461.9 233.7h0.9v0.9h-0.9zM460.4 237.6h0.9v0.9h-0.9zM461.9 237.4h0.9v0.9h-0.9zM463.3 245.8h0.9v0.9h-0.9zM459.7 241.8h0.9v0.9h-0.9zM462.0 248.1h0.9v0.9h-0.9zM458.8 247.6h0.9v0.9h-0.9zM470.0 241.8h0.9v0.9h-0.9zM457.4 241.1h0.9v0.9h-0.9zM452.8 239.6h0.9v0.9h-0.9zM456.1 241.9h0.9v0.9h-0.9zM460.8 246.2h0.9v0.9h-0.9zM463.6 245.6h0.9v0.9h-0.9zM462.6 244.7h0.9v0.9h-0.9zM456.5 247.1h0.9v0.9h-0.9zM470.3 249.9h0.9v0.9h-0.9zM455.3 245.6h0.9v0.9h-0.9zM453.7 247.7h0.9v0.9h-0.9zM461.7 240.2h0.9v0.9h-0.9zM458.7 241.5h0.9v0.9h-0.9zM462.9 237.0h0.9v0.9h-0.9zM463.2 244.6h0.9v0.9h-0.9zM465.9 242.7h0.9v0.9h-0.9zM468.7 245.0h0.9v0.9h-0.9zM455.0 246.8h0.9v0.9h-0.9zM466.2 226.6h0.9v0.9h-0.9zM462.0 245.4h0.9v0.9h-0.9zM463.1 243.6h0.9v0.9h-0.9zM462.0 251.6h0.9v0.9h-0.9zM465.1 241.3h0.9v0.9h-0.9zM458.0 239.7h0.9v0.9h-0.9zM464.8 243.9h0.9v0.9h-0.9zM464.6 251.4h0.9v0.9h-0.9zM469.4 245.6h0.9v0.9h-0.9zM463.2 242.6h0.9v0.9h-0.9zM461.6 249.2h0.9v0.9h-0.9zM455.7 236.6h0.9v0.9h-0.9zM460.3 237.0h0.9v0.9h-0.9zM458.7 250.4h0.9v0.9h-0.9zM450.1 246.6h0.9v0.9h-0.9zM455.4 241.5h0.9v0.9h-0.9zM459.6 236.9h0.9v0.9h-0.9zM454.4 243.4h0.9v0.9h-0.9zM446.0 229.9h0.9v0.9h-0.9zM460.7 249.8h0.9v0.9h-0.9zM473.5 241.2h0.9v0.9h-0.9zM458.3 241.2h0.9v0.9h-0.9zM465.6 248.8h0.9v0.9h-0.9zM457.5 245.9h0.9v0.9h-0.9zM462.7 250.1h0.9v0.9h-0.9zM460.6 241.7h0.9v0.9h-0.9zM458.1 234.8h0.9v0.9h-0.9zM464.5 247.4h0.9v0.9h-0.9zM469.4 244.7h0.9v0.9h-0.9zM460.3 237.3h0.9v0.9h-0.9zM456.3 238.5h0.9v0.9h-0.9zM464.9 243.6h0.9v0.9h-0.9zM449.8 242.4h0.9v0.9h-0.9zM461.3 236.5h0.9v0.9h-0.9zM462.8 246.3h0.9v0.9h-0.9zM457.0 234.6h0.9v0.9h-0.9zM461.1 244.6h0.9v0.9h-0.9zM461.5 252.6h0.9v0.9h-0.9zM463.8 236.8h0.9v0.9h-0.9zM467.4 239.0h0.9v0.9h-0.9zM466.9 243.6h0.9v0.9h-0.9zM470.0 236.8h0.9v0.9h-0.9zM467.1 245.6h0.9v0.9h-0.9zM457.8 247.4h0.9v0.9h-0.9zM475.9 245.2h0.9v0.9h-0.9zM458.5 242.1h0.9v0.9h-0.9zM470.4 244.6h0.9v0.9h-0.9zM471.4 239.0h0.9v0.9h-0.9zM470.4 233.2h0.9v0.9h-0.9zM462.0 241.2h0.9v0.9h-0.9zM460.1 250.6h0.9v0.9h-0.9zM459.5 245.2h0.9v0.9h-0.9zM473.6 248.1h0.9v0.9h-0.9zM460.6 238.5h0.9v0.9h-0.9zM451.4 245.4h0.9v0.9h-0.9zM468.0 249.9h0.9v0.9h-0.9zM467.4 228.7h0.9v0.9h-0.9zM457.9 248.0h0.9v0.9h-0.9zM460.7 248.2h0.9v0.9h-0.9zM475.7 242.5h0.9v0.9h-0.9zM454.5 243.6h0.9v0.9h-0.9zM468.2 239.4h0.9v0.9h-0.9zM472.0 237.6h0.9v0.9h-0.9zM461.8 248.7h0.9v0.9h-0.9zM461.7 239.5h0.9v0.9h-0.9zM462.9 247.1h0.9v0.9h-0.9zM472.9 251.4h0.9v0.9h-0.9zM473.7 242.8h0.9v0.9h-0.9zM453.4 242.7h0.9v0.9h-0.9zM460.6 236.8h0.9v0.9h-0.9zM460.0 242.6h0.9v0.9h-0.9zM463.3 248.7h0.9v0.9h-0.9zM457.7 250.1h0.9v0.9h-0.9zM463.2 247.6h0.9v0.9h-0.9zM470.1 235.3h0.9v0.9h-0.9zM472.2 238.5h0.9v0.9h-0.9zM465.3 249.7h0.9v0.9h-0.9zM468.3 233.3h0.9v0.9h-0.9zM463.9 250.0h0.9v0.9h-0.9zM462.3 242.5h0.9v0.9h-0.9zM463.4 253.2h0.9v0.9h-0.9zM459.8 237.2h0.9v0.9h-0.9zM456.6 239.7h0.9v0.9h-0.9zM461.6 245.2h0.9v0.9h-0.9zM462.5 232.3h0.9v0.9h-0.9zM453.9 247.2h0.9v0.9h-0.9zM467.2 234.6h0.9v0.9h-0.9zM468.4 227.9h0.9v0.9h-0.9zM476.4 246.7h0.9v0.9h-0.9zM453.4 246.2h0.9v0.9h-0.9zM462.8 240.2h0.9v0.9h-0.9zM460.9 241.6h0.9v0.9h-0.9zM462.4 237.4h0.9v0.9h-0.9zM459.7 246.5h0.9v0.9h-0.9zM466.0 234.7h0.9v0.9h-0.9zM460.1 252.7h0.9v0.9h-0.9zM467.1 253.3h0.9v0.9h-0.9zM455.2 236.6h0.9v0.9h-0.9zM450.4 231.0h0.9v0.9h-0.9zM460.8 236.5h0.9v0.9h-0.9zM456.7 238.7h0.9v0.9h-0.9zM461.9 248.2h0.9v0.9h-0.9zM466.2 232.1h0.9v0.9h-0.9zM471.6 241.0h0.9v0.9h-0.9zM457.2 242.8h0.9v0.9h-0.9zM460.7 234.4h0.9v0.9h-0.9zM472.0 239.4h0.9v0.9h-0.9zM459.5 246.3h0.9v0.9h-0.9zM472.7 246.0h0.9v0.9h-0.9zM457.8 245.7h0.9v0.9h-0.9zM469.4 245.4h0.9v0.9h-0.9zM466.8 240.0h0.9v0.9h-0.9zM462.6 232.6h0.9v0.9h-0.9zM458.8 235.9h0.9v0.9h-0.9zM463.0 252.3h0.9v0.9h-0.9zM449.9 234.8h0.9v0.9h-0.9zM457.6 242.4h0.9v0.9h-0.9zM469.7 238.2h0.9v0.9h-0.9zM458.4 250.5h0.9v0.9h-0.9zM465.2 246.3h0.9v0.9h-0.9zM467.8 238.4h0.9v0.9h-0.9zM464.3 238.9h0.9v0.9h-0.9zM458.8 243.8h0.9v0.9h-0.9zM465.5 235.1h0.9v0.9h-0.9zM458.5 246.8h0.9v0.9h-0.9zM464.0 247.1h0.9v0.9h-0.9zM461.2 238.0h0.9v0.9h-0.9zM467.5 246.7h0.9v0.9h-0.9zM446.5 248.4h0.9v0.9h-0.9zM458.6 247.2h0.9v0.9h-0.9zM472.1 241.3h0.9v0.9h-0.9zM457.4 244.6h0.9v0.9h-0.9zM463.5 246.5h0.9v0.9h-0.9zM454.8 244.5h0.9v0.9h-0.9zM468.2 247.4h0.9v0.9h-0.9zM466.7 250.5h0.9v0.9h-0.9zM458.2 250.6h0.9v0.9h-0.9zM464.2 236.8h0.9v0.9h-0.9zM461.3 244.7h0.9v0.9h-0.9zM464.9 251.4h0.9v0.9h-0.9zM464.1 239.8h0.9v0.9h-0.9zM475.7 240.9h0.9v0.9h-0.9zM458.2 248.8h0.9v0.9h-0.9zM460.6 238.1h0.9v0.9h-0.9zM456.8 250.4h0.9v0.9h-0.9zM456.8 243.6h0.9v0.9h-0.9zM460.3 241.8h0.9v0.9h-0.9zM458.2 244.0h0.9v0.9h-0.9zM466.5 249.6h0.9v0.9h-0.9zM460.9 235.8h0.9v0.9h-0.9zM454.4 243.1h0.9v0.9h-0.9zM448.5 251.3h0.9v0.9h-0.9zM463.2 243.8h0.9v0.9h-0.9zM454.9 239.0h0.9v0.9h-0.9zM458.7 247.2h0.9v0.9h-0.9zM460.6 246.9h0.9v0.9h-0.9zM466.0 231.1h0.9v0.9h-0.9zM461.6 250.9h0.9v0.9h-0.9zM460.0 243.8h0.9v0.9h-0.9zM462.3 235.4h0.9v0.9h-0.9zM475.7 242.2h0.9v0.9h-0.9zM466.7 240.2h0.9v0.9h-0.9zM471.2 250.2h0.9v0.9h-0.9zM469.9 248.9h0.9v0.9h-0.9zM467.1 251.6h0.9v0.9h-0.9zM465.3 243.9h0.9v0.9h-0.9zM467.7 237.5h0.9v0.9h-0.9zM448.2 248.1h0.9v0.9h-0.9zM463.9 238.7h0.9v0.9h-0.9zM461.4 237.1h0.9v0.9h-0.9zM458.1 244.2h0.9v0.9h-0.9zM463.7 248.2h0.9v0.9h-0.9zM462.5 247.0h0.9v0.9h-0.9zM467.0 238.7h0.9v0.9h-0.9zM453.2 238.8h0.9v0.9h-0.9zM461.5 239.7h0.9v0.9h-0.9zM475.9 238.8h0.9v0.9h-0.9zM465.8 238.3h0.9v0.9h-0.9zM467.0 235.2h0.9v0.9h-0.9zM468.5 244.2h0.9v0.9h-0.9zM460.7 235.6h0.9v0.9h-0.9zM472.7 239.5h0.9v0.9h-0.9zM471.4 228.1h0.9v0.9h-0.9zM473.4 243.2h0.9v0.9h-0.9zM468.8 246.8h0.9v0.9h-0.9zM460.9 243.9h0.9v0.9h-0.9zM456.3 234.7h0.9v0.9h-0.9zM463.7 247.6h0.9v0.9h-0.9zM463.9 235.5h0.9v0.9h-0.9zM467.9 243.6h0.9v0.9h-0.9zM467.4 241.3h0.9v0.9h-0.9zM461.5 249.6h0.9v0.9h-0.9zM471.0 235.6h0.9v0.9h-0.9zM456.6 249.1h0.9v0.9h-0.9zM465.1 243.4h0.9v0.9h-0.9zM457.3 249.3h0.9v0.9h-0.9zM464.1 244.4h0.9v0.9h-0.9zM465.2 239.8h0.9v0.9h-0.9zM465.3 243.9h0.9v0.9h-0.9zM467.2 245.4h0.9v0.9h-0.9zM455.5 238.7h0.9v0.9h-0.9zM461.4 250.3h0.9v0.9h-0.9zM459.2 250.1h0.9v0.9h-0.9zM469.3 248.5h0.9v0.9h-0.9zM476.1 243.0h0.9v0.9h-0.9zM464.9 250.6h0.9v0.9h-0.9zM465.4 249.2h0.9v0.9h-0.9zM462.2 251.8h0.9v0.9h-0.9zM465.0 231.2h0.9v0.9h-0.9zM469.3 241.9h0.9v0.9h-0.9zM457.9 241.2h0.9v0.9h-0.9zM461.4 250.2h0.9v0.9h-0.9zM464.9 242.6h0.9v0.9h-0.9zM462.9 237.5h0.9v0.9h-0.9zM459.3 240.2h0.9v0.9h-0.9zM461.7 235.9h0.9v0.9h-0.9zM460.7 249.3h0.9v0.9h-0.9zM465.6 243.1h0.9v0.9h-0.9zM465.0 241.6h0.9v0.9h-0.9zM456.1 248.5h0.9v0.9h-0.9zM476.1 246.2h0.9v0.9h-0.9zM456.0 246.3h0.9v0.9h-0.9zM461.0 241.4h0.9v0.9h-0.9zM453.4 242.6h0.9v0.9h-0.9zM465.3 233.2h0.9v0.9h-0.9zM461.7 240.1h0.9v0.9h-0.9zM457.2 247.0h0.9v0.9h-0.9zM472.6 245.7h0.9v0.9h-0.9zM469.0 247.8h0.9v0.9h-0.9zM462.6 246.7h0.9v0.9h-0.9zM470.7 240.5h0.9v0.9h-0.9zM462.1 234.6h0.9v0.9h-0.9zM452.2 238.1h0.9v0.9h-0.9zM468.2 245.3h0.9v0.9h-0.9zM464.5 251.2h0.9v0.9h-0.9zM452.7 251.6h0.9v0.9h-0.9zM463.5 247.9h0.9v0.9h-0.9zM471.0 238.1h0.9v0.9h-0.9zM457.9 245.6h0.9v0.9h-0.9zM462.7 239.5h0.9v0.9h-0.9zM462.3 238.6h0.9v0.9h-0.9zM463.8 240.7h0.9v0.9h-0.9zM472.9 236.7h0.9v0.9h-0.9zM466.4 243.6h0.9v0.9h-0.9zM472.2 237.1h0.9v0.9h-0.9zM460.3 253.8h0.9v0.9h-0.9zM459.2 240.8h0.9v0.9h-0.9zM460.7 237.1h0.9v0.9h-0.9zM470.1 252.4h0.9v0.9h-0.9zM462.1 238.5h0.9v0.9h-0.9zM455.1 247.2h0.9v0.9h-0.9zM459.9 246.5h0.9v0.9h-0.9zM449.0 240.5h0.9v0.9h-0.9zM466.7 245.7h0.9v0.9h-0.9zM446.3 244.9h0.9v0.9h-0.9zM463.8 243.0h0.9v0.9h-0.9zM461.0 240.4h0.9v0.9h-0.9zM463.8 246.2h0.9v0.9h-0.9zM444.6 243.0h0.9v0.9h-0.9zM468.4 241.7h0.9v0.9h-0.9zM470.1 237.3h0.9v0.9h-0.9zM474.1 249.0h0.9v0.9h-0.9zM471.4 252.8h0.9v0.9h-0.9zM456.0 242.4h0.9v0.9h-0.9zM465.7 249.5h0.9v0.9h-0.9zM463.4 235.1h0.9v0.9h-0.9zM470.1 242.1h0.9v0.9h-0.9zM465.6 241.1h0.9v0.9h-0.9zM462.3 234.6h0.9v0.9h-0.9zM466.9 239.2h0.9v0.9h-0.9zM452.7 245.6h0.9v0.9h-0.9zM462.8 249.0h0.9v0.9h-0.9zM467.8 235.6h0.9v0.9h-0.9zM462.0 243.1h0.9v0.9h-0.9zM463.5 236.6h0.9v0.9h-0.9zM463.4 249.1h0.9v0.9h-0.9zM470.2 252.0h0.9v0.9h-0.9zM467.4 227.6h0.9v0.9h-0.9zM461.4 239.7h0.9v0.9h-0.9zM446.1 252.5h0.9v0.9h-0.9zM468.3 243.0h0.9v0.9h-0.9zM465.1 246.1h0.9v0.9h-0.9zM461.7 251.5h0.9v0.9h-0.9zM473.6 248.1h0.9v0.9h-0.9zM459.8 244.6h0.9v0.9h-0.9zM468.7 247.5h0.9v0.9h-0.9zM459.0 248.9h0.9v0.9h-0.9zM467.2 246.6h0.9v0.9h-0.9zM460.6 242.9h0.9v0.9h-0.9zM451.9 242.9h0.9v0.9h-0.9zM460.4 241.3h0.9v0.9h-0.9zM461.4 241.1h0.9v0.9h-0.9zM463.5 243.7h0.9v0.9h-0.9zM459.4 242.3h0.9v0.9h-0.9zM462.5 246.1h0.9v0.9h-0.9zM465.6 240.9h0.9v0.9h-0.9zM458.2 233.0h0.9v0.9h-0.9zM455.7 245.6h0.9v0.9h-0.9zM457.6 252.9h0.9v0.9h-0.9zM462.1 240.7h0.9v0.9h-0.9zM462.1 239.7h0.9v0.9h-0.9zM459.3 243.5h0.9v0.9h-0.9zM454.6 243.9h0.9v0.9h-0.9zM462.5 237.5h0.9v0.9h-0.9zM469.0 245.3h0.9v0.9h-0.9zM469.3 239.0h0.9v0.9h-0.9zM455.8 235.8h0.9v0.9h-0.9zM453.9 231.5h0.9v0.9h-0.9zM472.1 240.1h0.9v0.9h-0.9zM464.1 239.8h0.9v0.9h-0.9zM462.2 252.7h0.9v0.9h-0.9zM452.9 237.0h0.9v0.9h-0.9zM463.8 237.5h0.9v0.9h-0.9zM467.0 251.0h0.9v0.9h-0.9zM468.2 247.7h0.9v0.9h-0.9zM462.1 249.2h0.9v0.9h-0.9zM458.3 235.8h0.9v0.9h-0.9zM461.5 241.5h0.9v0.9h-0.9zM470.1 237.0h0.9v0.9h-0.9zM469.7 238.3h0.9v0.9h-0.9zM455.6 232.7h0.9v0.9h-0.9zM462.8 234.2h0.9v0.9h-0.9zM464.2 243.3h0.9v0.9h-0.9zM460.7 231.2h0.9v0.9h-0.9zM460.0 245.8h0.9v0.9h-0.9zM452.6 247.3h0.9v0.9h-0.9zM463.1 239.7h0.9v0.9h-0.9zM464.2 247.0h0.9v0.9h-0.9zM462.9 238.3h0.9v0.9h-0.9zM467.6 238.9h0.9v0.9h-0.9zM465.1 249.0h0.9v0.9h-0.9zM470.6 252.8h0.9v0.9h-0.9zM469.0 243.9h0.9v0.9h-0.9zM461.8 244.2h0.9v0.9h-0.9zM466.8 238.0h0.9v0.9h-0.9zM471.9 233.3h0.9v0.9h-0.9zM468.8 235.2h0.9v0.9h-0.9zM456.7 240.0h0.9v0.9h-0.9zM461.3 234.8h0.9v0.9h-0.9zM466.6 242.3h0.9v0.9h-0.9zM470.8 236.8h0.9v0.9h-0.9zM452.5 247.3h0.9v0.9h-0.9zM461.7 249.0h0.9v0.9h-0.9zM449.4 235.4h0.9v0.9h-0.9zM455.8 231.4h0.9v0.9h-0.9zM460.4 251.7h0.9v0.9h-0.9zM472.2 234.7h0.9v0.9h-0.9zM459.5 231.8h0.9v0.9h-0.9zM458.1 237.1h0.9v0.9h-0.9zM465.5 250.0h0.9v0.9h-0.9zM476.9 240.8h0.9v0.9h-0.9zM467.8 244.4h0.9v0.9h-0.9zM467.1 252.6h0.9v0.9h-0.9zM464.8 248.3h0.9v0.9h-0.9zM466.0 242.4h0.9v0.9h-0.9zM458.9 240.6h0.9v0.9h-0.9zM463.1 240.7h0.9v0.9h-0.9zM461.0 238.7h0.9v0.9h-0.9zM468.0 241.5h0.9v0.9h-0.9zM462.3 241.7h0.9v0.9h-0.9zM470.6 239.7h0.9v0.9h-0.9zM471.2 237.8h0.9v0.9h-0.9zM471.9 246.8h0.9v0.9h-0.9zM460.2 245.8h0.9v0.9h-0.9zM469.6 237.2h0.9v0.9h-0.9zM461.7 244.9h0.9v0.9h-0.9zM461.8 241.2h0.9v0.9h-0.9zM463.1 244.9h0.9v0.9h-0.9zM467.5 252.1h0.9v0.9h-0.9zM461.1 253.9h0.9v0.9h-0.9zM462.3 234.1h0.9v0.9h-0.9zM460.5 240.9h0.9v0.9h-0.9zM469.2 230.7h0.9v0.9h-0.9zM459.3 242.2h0.9v0.9h-0.9zM466.8 245.5h0.9v0.9h-0.9zM468.0 242.1h0.9v0.9h-0.9zM461.7 250.4h0.9v0.9h-0.9zM473.0 245.4h0.9v0.9h-0.9zM463.9 237.8h0.9v0.9h-0.9zM475.2 245.5h0.9v0.9h-0.9zM466.6 233.2h0.9v0.9h-0.9zM462.1 241.8h0.9v0.9h-0.9zM471.9 241.9h0.9v0.9h-0.9zM456.2 237.9h0.9v0.9h-0.9zM467.0 243.7h0.9v0.9h-0.9zM463.3 242.0h0.9v0.9h-0.9zM463.8 245.2h0.9v0.9h-0.9zM460.3 241.3h0.9v0.9h-0.9zM464.4 236.4h0.9v0.9h-0.9zM465.6 229.6h0.9v0.9h-0.9zM466.7 242.3h0.9v0.9h-0.9zM456.2 251.3h0.9v0.9h-0.9zM458.8 250.5h0.9v0.9h-0.9zM462.6 252.9h0.9v0.9h-0.9zM461.7 249.4h0.9v0.9h-0.9zM461.2 231.5h0.9v0.9h-0.9zM465.3 245.9h0.9v0.9h-0.9zM465.3 253.3h0.9v0.9h-0.9zM458.8 234.3h0.9v0.9h-0.9zM464.5 238.8h0.9v0.9h-0.9zM462.4 243.0h0.9v0.9h-0.9zM458.3 249.7h0.9v0.9h-0.9zM464.5 249.5h0.9v0.9h-0.9zM461.3 239.0h0.9v0.9h-0.9zM460.0 237.6h0.9v0.9h-0.9zM465.6 243.9h0.9v0.9h-0.9zM456.8 233.6h0.9v0.9h-0.9zM458.1 231.8h0.9v0.9h-0.9zM457.9 233.7h0.9v0.9h-0.9zM467.1 235.9h0.9v0.9h-0.9zM459.6 242.3h0.9v0.9h-0.9zM463.2 245.6h0.9v0.9h-0.9zM467.4 247.0h0.9v0.9h-0.9zM461.0 250.7h0.9v0.9h-0.9zM465.2 238.7h0.9v0.9h-0.9zM471.7 235.8h0.9v0.9h-0.9zM465.8 250.7h0.9v0.9h-0.9zM463.7 245.1h0.9v0.9h-0.9zM463.7 247.1h0.9v0.9h-0.9zM464.3 243.1h0.9v0.9h-0.9zM467.1 231.4h0.9v0.9h-0.9zM464.5 241.2h0.9v0.9h-0.9zM474.3 244.8h0.9v0.9h-0.9zM459.2 247.0h0.9v0.9h-0.9zM460.8 235.7h0.9v0.9h-0.9zM461.4 246.1h0.9v0.9h-0.9zM469.9 249.5h0.9v0.9h-0.9zM464.3 242.0h0.9v0.9h-0.9zM464.2 250.5h0.9v0.9h-0.9zM462.3 250.1h0.9v0.9h-0.9zM458.5 242.9h0.9v0.9h-0.9zM467.5 247.3h0.9v0.9h-0.9zM464.2 239.9h0.9v0.9h-0.9zM452.7 240.3h0.9v0.9h-0.9zM458.2 240.5h0.9v0.9h-0.9zM472.1 238.3h0.9v0.9h-0.9zM467.9 242.9h0.9v0.9h-0.9zM456.7 243.7h0.9v0.9h-0.9zM467.3 235.7h0.9v0.9h-0.9zM456.4 240.7h0.9v0.9h-0.9zM467.2 239.3h0.9v0.9h-0.9zM465.5 245.8h0.9v0.9h-0.9zM463.1 245.8h0.9v0.9h-0.9zM470.3 241.8h0.9v0.9h-0.9zM464.9 236.5h0.9v0.9h-0.9zM458.9 242.4h0.9v0.9h-0.9zM467.7 238.9h0.9v0.9h-0.9zM455.1 248.7h0.9v0.9h-0.9zM476.6 227.2h0.9v0.9h-0.9zM457.0 243.8h0.9v0.9h-0.9zM465.8 237.2h0.9v0.9h-0.9zM464.9 249.8h0.9v0.9h-0.9zM461.5 247.5h0.9v0.9h-0.9zM463.8 237.3h0.9v0.9h-0.9zM459.5 239.3h0.9v0.9h-0.9zM470.6 250.1h0.9v0.9h-0.9zM464.4 233.4h0.9v0.9h-0.9zM460.2 240.6h0.9v0.9h-0.9zM452.0 242.9h0.9v0.9h-0.9zM464.7 234.9h0.9v0.9h-0.9zM460.6 240.2h0.9v0.9h-0.9zM473.6 247.1h0.9v0.9h-0.9zM467.4 243.5h0.9v0.9h-0.9zM455.7 248.7h0.9v0.9h-0.9zM459.2 231.2h0.9v0.9h-0.9zM467.2 240.9h0.9v0.9h-0.9zM463.0 246.2h0.9v0.9h-0.9zM461.7 245.5h0.9v0.9h-0.9zM470.4 241.0h0.9v0.9h-0.9zM461.0 243.1h0.9v0.9h-0.9zM466.7 240.6h0.9v0.9h-0.9zM463.5 238.8h0.9v0.9h-0.9zM462.6 246.3h0.9v0.9h-0.9zM458.4 241.9h0.9v0.9h-0.9zM454.7 238.7h0.9v0.9h-0.9zM463.5 246.3h0.9v0.9h-0.9zM457.2 242.4h0.9v0.9h-0.9zM457.7 244.9h0.9v0.9h-0.9zM464.5 245.7h0.9v0.9h-0.9zM461.8 234.3h0.9v0.9h-0.9zM459.8 234.8h0.9v0.9h-0.9zM459.2 242.7h0.9v0.9h-0.9zM469.1 239.1h0.9v0.9h-0.9zM458.6 244.3h0.9v0.9h-0.9zM454.3 249.2h0.9v0.9h-0.9zM468.6 248.9h0.9v0.9h-0.9zM462.4 247.5h0.9v0.9h-0.9zM461.1 248.9h0.9v0.9h-0.9zM459.3 238.0h0.9v0.9h-0.9zM465.2 240.2h0.9v0.9h-0.9zM466.8 237.8h0.9v0.9h-0.9zM464.5 237.0h0.9v0.9h-0.9zM456.9 235.5h0.9v0.9h-0.9zM454.0 241.6h0.9v0.9h-0.9zM472.2 240.3h0.9v0.9h-0.9zM468.3 241.9h0.9v0.9h-0.9zM469.1 231.8h0.9v0.9h-0.9zM457.5 245.5h0.9v0.9h-0.9zM466.7 241.6h0.9v0.9h-0.9zM464.8 246.3h0.9v0.9h-0.9zM461.0 249.1h0.9v0.9h-0.9zM458.2 247.6h0.9v0.9h-0.9zM468.2 244.2h0.9v0.9h-0.9zM461.1 242.9h0.9v0.9h-0.9zM450.5 244.6h0.9v0.9h-0.9zM455.0 230.7h0.9v0.9h-0.9zM467.3 237.4h0.9v0.9h-0.9zM465.0 243.3h0.9v0.9h-0.9zM453.1 237.5h0.9v0.9h-0.9zM461.5 245.9h0.9v0.9h-0.9zM463.4 235.3h0.9v0.9h-0.9zM460.0 243.6h0.9v0.9h-0.9zM455.9 240.3h0.9v0.9h-0.9zM459.9 230.0h0.9v0.9h-0.9zM472.7 248.4h0.9v0.9h-0.9zM460.4 248.8h0.9v0.9h-0.9zM457.1 252.4h0.9v0.9h-0.9zM460.9 243.9h0.9v0.9h-0.9zM459.8 243.6h0.9v0.9h-0.9zM464.9 243.2h0.9v0.9h-0.9zM458.4 247.6h0.9v0.9h-0.9zM466.1 243.0h0.9v0.9h-0.9zM468.9 238.5h0.9v0.9h-0.9zM470.2 242.0h0.9v0.9h-0.9zM471.5 240.3h0.9v0.9h-0.9zM461.6 244.3h0.9v0.9h-0.9zM469.2 251.8h0.9v0.9h-0.9zM460.4 238.6h0.9v0.9h-0.9zM467.3 250.6h0.9v0.9h-0.9zM467.0 241.0h0.9v0.9h-0.9zM470.2 242.9h0.9v0.9h-0.9zM464.0 246.8h0.9v0.9h-0.9zM459.8 229.2h0.9v0.9h-0.9zM464.2 247.4h0.9v0.9h-0.9zM465.5 246.3h0.9v0.9h-0.9zM463.9 249.4h0.9v0.9h-0.9zM463.7 252.1h0.9v0.9h-0.9zM463.3 247.9h0.9v0.9h-0.9zM459.9 244.8h0.9v0.9h-0.9zM465.4 243.9h0.9v0.9h-0.9zM471.7 243.3h0.9v0.9h-0.9zM469.3 245.2h0.9v0.9h-0.9zM469.1 237.5h0.9v0.9h-0.9zM461.0 248.9h0.9v0.9h-0.9zM458.4 245.4h0.9v0.9h-0.9zM466.2 244.2h0.9v0.9h-0.9zM465.5 246.3h0.9v0.9h-0.9zM461.7 245.5h0.9v0.9h-0.9zM460.1 240.2h0.9v0.9h-0.9zM454.1 242.4h0.9v0.9h-0.9zM453.5 243.2h0.9v0.9h-0.9zM464.2 236.4h0.9v0.9h-0.9zM463.4 244.8h0.9v0.9h-0.9zM461.0 237.4h0.9v0.9h-0.9zM462.4 245.5h0.9v0.9h-0.9zM451.9 245.1h0.9v0.9h-0.9zM465.4 239.1h0.9v0.9h-0.9zM463.7 251.3h0.9v0.9h-0.9zM469.0 240.3h0.9v0.9h-0.9zM450.0 250.1h0.9v0.9h-0.9zM471.7 232.2h0.9v0.9h-0.9zM461.9 238.7h0.9v0.9h-0.9zM464.2 243.4h0.9v0.9h-0.9zM469.4 239.4h0.9v0.9h-0.9zM473.8 232.6h0.9v0.9h-0.9zM462.5 246.9h0.9v0.9h-0.9zM468.0 240.9h0.9v0.9h-0.9zM452.3 244.3h0.9v0.9h-0.9zM467.1 230.5h0.9v0.9h-0.9zM460.3 246.4h0.9v0.9h-0.9zM449.5 241.8h0.9v0.9h-0.9zM454.1 234.8h0.9v0.9h-0.9zM465.3 250.0h0.9v0.9h-0.9zM469.5 239.0h0.9v0.9h-0.9zM465.9 232.2h0.9v0.9h-0.9z" fill="#000" fill-opacity="0.45"/>
<path d="M431.3 243.9h0.9v0.9h-0.9zM442.8 226.9h0.9v0.9h-0.9zM427.1 235.5h0.9v0.9h-0.9zM470.8 216.1h0.9v0.9h-0.9zM435.9 250.2h0.9v0.9h-0.9zM447.7 250.3h0.9v0.9h-0.9zM446.7 236.8h0.9v0.9h-0.9zM451.7 241.8h0.9v0.9h-0.9zM431.0 227.7h0.9v0.9h-0.9zM444.5 241.7h0.9v0.9h-0.9zM434.0 230.2h0.9v0.9h-0.9zM439.1 241.7h0.9v0.9h-0.9zM442.4 244.6h0.9v0.9h-0.9zM451.1 228.0h0.9v0.9h-0.9zM443.8 224.5h0.9v0.9h-0.9zM448.2 246.8h0.9v0.9h-0.9zM436.5 218.7h0.9v0.9h-0.9zM452.5 234.8h0.9v0.9h-0.9zM446.7 243.0h0.9v0.9h-0.9zM451.1 248.1h0.9v0.9h-0.9zM442.1 214.0h0.9v0.9h-0.9zM441.8 234.7h0.9v0.9h-0.9zM442.6 242.3h0.9v0.9h-0.9zM444.3 252.1h0.9v0.9h-0.9zM440.2 237.9h0.9v0.9h-0.9zM436.8 227.1h0.9v0.9h-0.9zM442.9 246.3h0.9v0.9h-0.9zM447.1 236.1h0.9v0.9h-0.9zM431.4 215.4h0.9v0.9h-0.9zM444.7 235.4h0.9v0.9h-0.9zM465.9 242.1h0.9v0.9h-0.9zM451.6 248.6h0.9v0.9h-0.9zM437.4 224.6h0.9v0.9h-0.9zM457.6 231.6h0.9v0.9h-0.9zM433.7 248.1h0.9v0.9h-0.9zM458.7 226.0h0.9v0.9h-0.9zM464.2 229.5h0.9v0.9h-0.9zM455.0 235.8h0.9v0.9h-0.9zM443.5 231.3h0.9v0.9h-0.9zM454.4 244.8h0.9v0.9h-0.9zM455.7 234.9h0.9v0.9h-0.9zM465.4 235.9h0.9v0.9h-0.9zM448.4 238.6h0.9v0.9h-0.9zM456.2 241.8h0.9v0.9h-0.9zM436.4 238.8h0.9v0.9h-0.9zM445.2 240.9h0.9v0.9h-0.9zM472.1 233.5h0.9v0.9h-0.9zM456.7 244.9h0.9v0.9h-0.9zM450.2 232.5h0.9v0.9h-0.9zM453.8 241.0h0.9v0.9h-0.9zM462.6 247.1h0.9v0.9h-0.9zM439.4 206.1h0.9v0.9h-0.9zM463.3 243.4h0.9v0.9h-0.9zM448.9 231.4h0.9v0.9h-0.9zM474.0 252.7h0.9v0.9h-0.9zM448.0 234.0h0.9v0.9h-0.9zM453.2 252.9h0.9v0.9h-0.9zM452.6 248.3h0.9v0.9h-0.9zM449.8 241.9h0.9v0.9h-0.9zM433.3 239.3h0.9v0.9h-0.9zM447.6 237.2h0.9v0.9h-0.9zM444.4 241.4h0.9v0.9h-0.9zM440.7 235.9h0.9v0.9h-0.9zM437.3 224.8h0.9v0.9h-0.9zM441.2 233.5h0.9v0.9h-0.9zM435.4 211.3h0.9v0.9h-0.9zM464.8 249.2h0.9v0.9h-0.9zM442.9 244.1h0.9v0.9h-0.9zM435.0 220.2h0.9v0.9h-0.9zM450.6 244.3h0.9v0.9h-0.9zM439.6 238.0h0.9v0.9h-0.9zM458.5 239.9h0.9v0.9h-0.9zM449.0 244.3h0.9v0.9h-0.9zM433.2 240.7h0.9v0.9h-0.9zM440.2 217.3h0.9v0.9h-0.9zM456.7 235.9h0.9v0.9h-0.9zM429.0 224.0h0.9v0.9h-0.9zM458.7 253.5h0.9v0.9h-0.9zM451.3 242.0h0.9v0.9h-0.9zM454.6 245.2h0.9v0.9h-0.9zM433.1 246.2h0.9v0.9h-0.9zM457.8 233.6h0.9v0.9h-0.9zM437.0 232.6h0.9v0.9h-0.9zM440.6 243.8h0.9v0.9h-0.9zM455.5 238.3h0.9v0.9h-0.9zM443.7 218.6h0.9v0.9h-0.9zM442.4 227.1h0.9v0.9h-0.9zM441.0 241.8h0.9v0.9h-0.9zM437.5 232.1h0.9v0.9h-0.9zM434.5 235.2h0.9v0.9h-0.9zM443.9 249.0h0.9v0.9h-0.9zM454.0 232.3h0.9v0.9h-0.9zM439.5 240.2h0.9v0.9h-0.9zM452.7 236.3h0.9v0.9h-0.9zM445.3 238.2h0.9v0.9h-0.9zM435.2 241.0h0.9v0.9h-0.9zM453.3 238.6h0.9v0.9h-0.9zM434.5 238.0h0.9v0.9h-0.9zM445.8 241.5h0.9v0.9h-0.9zM442.4 247.1h0.9v0.9h-0.9zM458.8 247.0h0.9v0.9h-0.9zM449.5 251.3h0.9v0.9h-0.9zM446.5 236.2h0.9v0.9h-0.9zM431.3 238.2h0.9v0.9h-0.9zM460.3 227.6h0.9v0.9h-0.9zM455.5 224.2h0.9v0.9h-0.9zM447.5 225.3h0.9v0.9h-0.9zM450.1 236.4h0.9v0.9h-0.9zM455.7 232.3h0.9v0.9h-0.9zM428.0 232.8h0.9v0.9h-0.9zM453.4 249.2h0.9v0.9h-0.9zM450.0 238.3h0.9v0.9h-0.9zM454.5 235.9h0.9v0.9h-0.9zM442.0 240.5h0.9v0.9h-0.9zM458.9 232.6h0.9v0.9h-0.9zM452.4 231.1h0.9v0.9h-0.9zM438.9 239.9h0.9v0.9h-0.9zM432.4 228.8h0.9v0.9h-0.9zM433.9 231.5h0.9v0.9h-0.9zM453.6 238.8h0.9v0.9h-0.9zM432.3 212.3h0.9v0.9h-0.9zM451.8 231.2h0.9v0.9h-0.9zM458.4 233.8h0.9v0.9h-0.9zM432.7 231.1h0.9v0.9h-0.9zM430.3 222.8h0.9v0.9h-0.9zM454.7 232.3h0.9v0.9h-0.9zM454.5 232.0h0.9v0.9h-0.9zM444.4 232.1h0.9v0.9h-0.9zM441.0 230.9h0.9v0.9h-0.9zM463.3 237.4h0.9v0.9h-0.9zM460.6 250.1h0.9v0.9h-0.9zM445.8 236.4h0.9v0.9h-0.9zM441.7 239.4h0.9v0.9h-0.9zM452.0 238.0h0.9v0.9h-0.9zM437.9 227.6h0.9v0.9h-0.9zM433.4 231.2h0.9v0.9h-0.9zM446.5 244.3h0.9v0.9h-0.9zM445.7 240.6h0.9v0.9h-0.9zM450.9 250.3h0.9v0.9h-0.9zM432.6 249.8h0.9v0.9h-0.9zM451.7 243.8h0.9v0.9h-0.9zM430.4 235.6h0.9v0.9h-0.9zM444.1 244.9h0.9v0.9h-0.9zM454.4 245.4h0.9v0.9h-0.9zM432.7 251.5h0.9v0.9h-0.9zM447.6 248.0h0.9v0.9h-0.9zM446.8 230.5h0.9v0.9h-0.9zM475.6 245.1h0.9v0.9h-0.9zM455.2 233.1h0.9v0.9h-0.9zM444.5 249.9h0.9v0.9h-0.9zM460.0 226.5h0.9v0.9h-0.9zM430.0 250.4h0.9v0.9h-0.9zM453.5 235.3h0.9v0.9h-0.9zM443.7 232.1h0.9v0.9h-0.9zM466.5 236.3h0.9v0.9h-0.9zM431.7 247.7h0.9v0.9h-0.9zM445.9 241.8h0.9v0.9h-0.9zM442.7 237.6h0.9v0.9h-0.9zM439.3 234.0h0.9v0.9h-0.9zM450.3 251.7h0.9v0.9h-0.9zM452.8 248.9h0.9v0.9h-0.9zM436.9 241.5h0.9v0.9h-0.9zM451.2 248.0h0.9v0.9h-0.9zM440.0 236.1h0.9v0.9h-0.9zM441.2 250.2h0.9v0.9h-0.9zM458.7 233.4h0.9v0.9h-0.9zM445.3 240.4h0.9v0.9h-0.9zM437.0 236.9h0.9v0.9h-0.9zM456.3 246.3h0.9v0.9h-0.9zM439.4 231.2h0.9v0.9h-0.9zM445.6 222.5h0.9v0.9h-0.9zM450.2 239.3h0.9v0.9h-0.9zM432.2 235.6h0.9v0.9h-0.9zM439.6 235.2h0.9v0.9h-0.9zM437.2 252.5h0.9v0.9h-0.9zM436.2 246.1h0.9v0.9h-0.9zM449.1 253.3h0.9v0.9h-0.9zM446.2 238.1h0.9v0.9h-0.9zM447.6 218.2h0.9v0.9h-0.9zM473.2 235.8h0.9v0.9h-0.9zM443.4 226.2h0.9v0.9h-0.9zM438.5 242.7h0.9v0.9h-0.9zM458.1 248.1h0.9v0.9h-0.9zM442.4 219.7h0.9v0.9h-0.9zM451.3 244.1h0.9v0.9h-0.9zM443.2 233.6h0.9v0.9h-0.9zM466.0 221.5h0.9v0.9h-0.9zM441.2 231.7h0.9v0.9h-0.9zM429.7 230.8h0.9v0.9h-0.9zM438.1 251.2h0.9v0.9h-0.9zM427.6 223.7h0.9v0.9h-0.9zM449.7 221.9h0.9v0.9h-0.9zM433.6 227.9h0.9v0.9h-0.9zM445.1 242.9h0.9v0.9h-0.9zM439.7 235.2h0.9v0.9h-0.9zM454.6 236.5h0.9v0.9h-0.9zM454.9 232.0h0.9v0.9h-0.9zM452.2 251.5h0.9v0.9h-0.9zM443.2 234.6h0.9v0.9h-0.9zM445.0 243.0h0.9v0.9h-0.9zM433.5 238.5h0.9v0.9h-0.9zM440.4 253.1h0.9v0.9h-0.9zM427.8 244.9h0.9v0.9h-0.9zM443.3 230.3h0.9v0.9h-0.9zM448.3 235.6h0.9v0.9h-0.9zM447.2 240.6h0.9v0.9h-0.9zM460.0 233.9h0.9v0.9h-0.9zM465.1 209.9h0.9v0.9h-0.9zM466.8 250.8h0.9v0.9h-0.9zM463.9 240.2h0.9v0.9h-0.9zM449.9 227.6h0.9v0.9h-0.9zM461.5 226.0h0.9v0.9h-0.9zM438.1 238.1h0.9v0.9h-0.9zM449.4 241.7h0.9v0.9h-0.9zM434.0 234.5h0.9v0.9h-0.9zM452.2 250.5h0.9v0.9h-0.9zM455.2 242.5h0.9v0.9h-0.9zM443.9 232.5h0.9v0.9h-0.9zM441.2 237.2h0.9v0.9h-0.9zM452.6 232.9h0.9v0.9h-0.9zM469.4 227.7h0.9v0.9h-0.9zM455.7 236.0h0.9v0.9h-0.9zM445.3 234.2h0.9v0.9h-0.9zM463.6 235.0h0.9v0.9h-0.9zM452.8 239.4h0.9v0.9h-0.9zM455.0 244.3h0.9v0.9h-0.9zM464.9 230.5h0.9v0.9h-0.9zM460.8 238.9h0.9v0.9h-0.9zM443.7 240.8h0.9v0.9h-0.9zM461.1 230.2h0.9v0.9h-0.9zM462.7 237.6h0.9v0.9h-0.9zM442.8 234.0h0.9v0.9h-0.9zM432.4 232.3h0.9v0.9h-0.9zM437.0 240.6h0.9v0.9h-0.9zM454.7 238.6h0.9v0.9h-0.9zM448.9 242.4h0.9v0.9h-0.9zM464.4 244.2h0.9v0.9h-0.9zM464.0 237.5h0.9v0.9h-0.9zM450.7 231.4h0.9v0.9h-0.9zM453.3 229.3h0.9v0.9h-0.9zM452.0 231.6h0.9v0.9h-0.9zM442.9 250.8h0.9v0.9h-0.9zM448.4 246.4h0.9v0.9h-0.9zM444.2 218.8h0.9v0.9h-0.9zM462.9 236.3h0.9v0.9h-0.9zM439.7 248.0h0.9v0.9h-0.9zM434.4 230.4h0.9v0.9h-0.9zM459.4 230.9h0.9v0.9h-0.9zM459.2 235.0h0.9v0.9h-0.9zM444.5 238.9h0.9v0.9h-0.9zM441.3 249.3h0.9v0.9h-0.9zM458.8 238.9h0.9v0.9h-0.9zM453.5 243.8h0.9v0.9h-0.9zM465.2 221.7h0.9v0.9h-0.9zM458.0 247.6h0.9v0.9h-0.9zM443.4 238.3h0.9v0.9h-0.9zM443.0 251.0h0.9v0.9h-0.9zM434.3 244.5h0.9v0.9h-0.9zM460.9 244.1h0.9v0.9h-0.9zM441.5 233.4h0.9v0.9h-0.9zM458.8 228.4h0.9v0.9h-0.9zM428.8 235.6h0.9v0.9h-0.9zM430.5 242.9h0.9v0.9h-0.9zM437.2 248.0h0.9v0.9h-0.9zM445.5 223.5h0.9v0.9h-0.9zM438.4 231.5h0.9v0.9h-0.9zM437.6 251.0h0.9v0.9h-0.9zM435.8 242.0h0.9v0.9h-0.9zM440.4 244.3h0.9v0.9h-0.9zM431.1 222.0h0.9v0.9h-0.9zM452.4 253.0h0.9v0.9h-0.9zM431.6 234.9h0.9v0.9h-0.9zM441.2 228.5h0.9v0.9h-0.9zM457.4 238.7h0.9v0.9h-0.9zM431.6 235.9h0.9v0.9h-0.9zM461.4 230.8h0.9v0.9h-0.9zM441.2 229.6h0.9v0.9h-0.9zM448.6 232.4h0.9v0.9h-0.9zM456.6 229.6h0.9v0.9h-0.9zM430.8 242.9h0.9v0.9h-0.9zM449.9 240.7h0.9v0.9h-0.9zM440.5 233.6h0.9v0.9h-0.9zM438.0 236.3h0.9v0.9h-0.9zM441.8 243.9h0.9v0.9h-0.9zM446.9 243.9h0.9v0.9h-0.9zM464.7 235.4h0.9v0.9h-0.9zM443.6 242.1h0.9v0.9h-0.9zM469.8 234.5h0.9v0.9h-0.9zM465.4 250.5h0.9v0.9h-0.9zM436.1 242.3h0.9v0.9h-0.9zM461.4 238.8h0.9v0.9h-0.9zM441.3 213.0h0.9v0.9h-0.9zM437.7 233.3h0.9v0.9h-0.9zM446.3 246.0h0.9v0.9h-0.9zM454.4 243.6h0.9v0.9h-0.9zM460.0 238.6h0.9v0.9h-0.9zM440.6 237.7h0.9v0.9h-0.9zM444.4 231.0h0.9v0.9h-0.9zM446.7 231.3h0.9v0.9h-0.9zM453.9 231.4h0.9v0.9h-0.9zM452.2 241.5h0.9v0.9h-0.9zM448.7 243.6h0.9v0.9h-0.9zM439.2 245.8h0.9v0.9h-0.9zM447.1 233.7h0.9v0.9h-0.9zM465.9 249.6h0.9v0.9h-0.9zM443.8 244.0h0.9v0.9h-0.9zM458.0 236.4h0.9v0.9h-0.9zM444.1 226.1h0.9v0.9h-0.9zM449.7 247.2h0.9v0.9h-0.9zM442.6 245.1h0.9v0.9h-0.9zM448.3 233.4h0.9v0.9h-0.9zM433.5 249.7h0.9v0.9h-0.9zM474.7 243.9h0.9v0.9h-0.9zM435.0 227.4h0.9v0.9h-0.9zM449.6 244.9h0.9v0.9h-0.9zM463.5 213.1h0.9v0.9h-0.9zM467.2 239.9h0.9v0.9h-0.9zM448.4 242.2h0.9v0.9h-0.9zM443.0 235.2h0.9v0.9h-0.9zM458.5 220.1h0.9v0.9h-0.9zM445.6 244.0h0.9v0.9h-0.9zM428.8 236.5h0.9v0.9h-0.9zM463.7 242.0h0.9v0.9h-0.9zM454.6 245.5h0.9v0.9h-0.9zM449.3 241.9h0.9v0.9h-0.9zM437.9 236.0h0.9v0.9h-0.9zM467.2 225.4h0.9v0.9h-0.9zM445.0 225.0h0.9v0.9h-0.9zM441.0 230.1h0.9v0.9h-0.9zM433.4 240.7h0.9v0.9h-0.9zM436.5 243.7h0.9v0.9h-0.9zM466.8 211.5h0.9v0.9h-0.9zM445.1 216.3h0.9v0.9h-0.9zM445.5 242.1h0.9v0.9h-0.9zM449.2 250.8h0.9v0.9h-0.9zM448.6 220.2h0.9v0.9h-0.9zM463.5 228.3h0.9v0.9h-0.9zM445.9 241.5h0.9v0.9h-0.9zM437.2 239.1h0.9v0.9h-0.9zM463.3 220.6h0.9v0.9h-0.9zM428.6 233.5h0.9v0.9h-0.9zM445.1 224.8h0.9v0.9h-0.9zM451.2 224.3h0.9v0.9h-0.9zM453.2 237.5h0.9v0.9h-0.9zM448.7 224.2h0.9v0.9h-0.9zM444.5 243.2h0.9v0.9h-0.9zM427.6 227.2h0.9v0.9h-0.9zM454.2 237.4h0.9v0.9h-0.9zM435.0 233.9h0.9v0.9h-0.9zM444.2 242.8h0.9v0.9h-0.9zM461.5 215.2h0.9v0.9h-0.9zM434.1 238.1h0.9v0.9h-0.9zM457.7 242.4h0.9v0.9h-0.9zM461.8 244.3h0.9v0.9h-0.9zM475.1 246.5h0.9v0.9h-0.9zM442.0 232.4h0.9v0.9h-0.9zM435.8 240.7h0.9v0.9h-0.9zM451.8 248.0h0.9v0.9h-0.9zM462.9 244.7h0.9v0.9h-0.9zM460.5 235.5h0.9v0.9h-0.9zM436.3 245.8h0.9v0.9h-0.9zM458.1 252.2h0.9v0.9h-0.9zM445.1 233.2h0.9v0.9h-0.9zM442.9 241.9h0.9v0.9h-0.9zM446.4 236.2h0.9v0.9h-0.9zM449.8 235.1h0.9v0.9h-0.9zM450.7 231.8h0.9v0.9h-0.9zM429.9 234.9h0.9v0.9h-0.9zM467.8 229.6h0.9v0.9h-0.9zM457.0 252.3h0.9v0.9h-0.9zM441.0 240.8h0.9v0.9h-0.9zM463.9 240.1h0.9v0.9h-0.9zM438.8 239.3h0.9v0.9h-0.9zM450.1 233.8h0.9v0.9h-0.9zM443.6 229.5h0.9v0.9h-0.9zM453.3 240.2h0.9v0.9h-0.9zM450.8 232.8h0.9v0.9h-0.9zM452.4 235.0h0.9v0.9h-0.9zM450.3 236.4h0.9v0.9h-0.9zM439.7 226.6h0.9v0.9h-0.9zM428.9 229.5h0.9v0.9h-0.9zM444.7 225.8h0.9v0.9h-0.9zM460.6 225.8h0.9v0.9h-0.9zM445.8 231.4h0.9v0.9h-0.9zM455.4 222.7h0.9v0.9h-0.9zM450.4 240.4h0.9v0.9h-0.9zM453.2 242.6h0.9v0.9h-0.9zM448.7 219.3h0.9v0.9h-0.9zM443.4 228.1h0.9v0.9h-0.9zM452.8 235.6h0.9v0.9h-0.9zM448.7 249.7h0.9v0.9h-0.9zM456.2 222.4h0.9v0.9h-0.9zM440.5 251.0h0.9v0.9h-0.9zM441.5 250.7h0.9v0.9h-0.9zM440.8 236.8h0.9v0.9h-0.9zM458.3 221.4h0.9v0.9h-0.9zM447.8 233.3h0.9v0.9h-0.9zM452.4 223.7h0.9v0.9h-0.9zM457.6 233.3h0.9v0.9h-0.9zM448.8 250.3h0.9v0.9h-0.9zM443.6 248.2h0.9v0.9h-0.9zM449.0 228.5h0.9v0.9h-0.9zM443.6 223.6h0.9v0.9h-0.9zM460.0 239.8h0.9v0.9h-0.9zM457.7 226.2h0.9v0.9h-0.9zM456.3 225.4h0.9v0.9h-0.9zM450.1 237.9h0.9v0.9h-0.9zM440.5 241.3h0.9v0.9h-0.9zM447.4 228.8h0.9v0.9h-0.9zM438.8 224.2h0.9v0.9h-0.9zM462.1 239.6h0.9v0.9h-0.9zM443.0 245.4h0.9v0.9h-0.9zM437.5 225.7h0.9v0.9h-0.9zM450.3 239.7h0.9v0.9h-0.9zM466.2 221.6h0.9v0.9h-0.9zM446.2 223.8h0.9v0.9h-0.9zM433.6 235.5h0.9v0.9h-0.9zM473.9 228.0h0.9v0.9h-0.9zM440.2 240.9h0.9v0.9h-0.9zM435.8 235.3h0.9v0.9h-0.9zM456.0 214.8h0.9v0.9h-0.9zM443.7 234.9h0.9v0.9h-0.9zM441.4 236.8h0.9v0.9h-0.9zM427.2 233.3h0.9v0.9h-0.9zM441.3 227.1h0.9v0.9h-0.9zM455.8 228.8h0.9v0.9h-0.9zM462.6 243.3h0.9v0.9h-0.9zM438.0 244.5h0.9v0.9h-0.9zM440.6 244.1h0.9v0.9h-0.9zM457.1 250.3h0.9v0.9h-0.9zM435.4 236.7h0.9v0.9h-0.9zM447.0 225.0h0.9v0.9h-0.9zM451.6 245.4h0.9v0.9h-0.9zM431.8 232.1h0.9v0.9h-0.9zM434.8 224.5h0.9v0.9h-0.9zM435.3 252.6h0.9v0.9h-0.9zM439.7 233.8h0.9v0.9h-0.9zM457.9 248.9h0.9v0.9h-0.9zM462.5 215.9h0.9v0.9h-0.9zM455.3 219.3h0.9v0.9h-0.9zM440.0 233.6h0.9v0.9h-0.9zM445.2 250.5h0.9v0.9h-0.9zM445.0 237.4h0.9v0.9h-0.9zM452.6 242.7h0.9v0.9h-0.9zM452.5 219.5h0.9v0.9h-0.9zM452.6 241.4h0.9v0.9h-0.9zM453.6 237.4h0.9v0.9h-0.9zM451.5 224.1h0.9v0.9h-0.9zM459.5 225.1h0.9v0.9h-0.9zM462.4 248.8h0.9v0.9h-0.9zM446.3 234.9h0.9v0.9h-0.9zM455.6 234.8h0.9v0.9h-0.9zM433.9 241.0h0.9v0.9h-0.9zM433.6 233.1h0.9v0.9h-0.9zM466.7 246.6h0.9v0.9h-0.9zM442.0 237.3h0.9v0.9h-0.9zM439.9 237.9h0.9v0.9h-0.9zM431.1 245.3h0.9v0.9h-0.9zM447.2 231.5h0.9v0.9h-0.9zM442.1 232.9h0.9v0.9h-0.9zM440.6 232.7h0.9v0.9h-0.9zM461.4 245.2h0.9v0.9h-0.9zM451.6 241.9h0.9v0.9h-0.9zM434.5 212.2h0.9v0.9h-0.9zM463.6 245.7h0.9v0.9h-0.9zM449.4 241.0h0.9v0.9h-0.9zM449.2 238.2h0.9v0.9h-0.9zM444.1 214.2h0.9v0.9h-0.9zM453.3 238.5h0.9v0.9h-0.9zM457.8 241.3h0.9v0.9h-0.9zM443.9 244.5h0.9v0.9h-0.9zM449.1 233.3h0.9v0.9h-0.9zM442.9 233.5h0.9v0.9h-0.9zM443.7 233.2h0.9v0.9h-0.9zM445.8 250.0h0.9v0.9h-0.9zM441.8 236.3h0.9v0.9h-0.9zM438.8 223.4h0.9v0.9h-0.9zM437.6 232.5h0.9v0.9h-0.9zM448.7 234.4h0.9v0.9h-0.9zM433.8 234.0h0.9v0.9h-0.9zM463.6 228.6h0.9v0.9h-0.9zM447.7 248.8h0.9v0.9h-0.9zM438.1 231.9h0.9v0.9h-0.9zM441.2 239.7h0.9v0.9h-0.9zM448.1 239.6h0.9v0.9h-0.9zM452.1 234.8h0.9v0.9h-0.9zM448.7 223.4h0.9v0.9h-0.9zM449.6 231.0h0.9v0.9h-0.9zM448.5 249.2h0.9v0.9h-0.9zM428.2 224.6h0.9v0.9h-0.9zM439.7 233.3h0.9v0.9h-0.9zM446.0 231.8h0.9v0.9h-0.9zM448.2 238.9h0.9v0.9h-0.9zM434.2 231.3h0.9v0.9h-0.9zM433.4 241.1h0.9v0.9h-0.9zM449.9 245.0h0.9v0.9h-0.9zM437.4 232.3h0.9v0.9h-0.9zM429.2 241.7h0.9v0.9h-0.9zM458.9 242.8h0.9v0.9h-0.9zM453.9 240.4h0.9v0.9h-0.9zM451.1 248.0h0.9v0.9h-0.9zM444.1 246.9h0.9v0.9h-0.9zM456.5 242.6h0.9v0.9h-0.9zM449.9 224.5h0.9v0.9h-0.9zM459.0 228.6h0.9v0.9h-0.9zM439.8 228.9h0.9v0.9h-0.9zM453.1 227.7h0.9v0.9h-0.9zM452.0 244.0h0.9v0.9h-0.9zM448.1 234.4h0.9v0.9h-0.9zM453.5 252.0h0.9v0.9h-0.9zM441.9 226.8h0.9v0.9h-0.9zM440.4 228.6h0.9v0.9h-0.9zM444.4 236.3h0.9v0.9h-0.9zM438.1 233.4h0.9v0.9h-0.9zM435.9 240.4h0.9v0.9h-0.9zM456.3 218.7h0.9v0.9h-0.9zM443.9 247.8h0.9v0.9h-0.9zM450.4 228.1h0.9v0.9h-0.9zM457.9 231.5h0.9v0.9h-0.9zM450.9 233.7h0.9v0.9h-0.9zM444.6 239.6h0.9v0.9h-0.9zM461.5 220.0h0.9v0.9h-0.9zM434.7 239.1h0.9v0.9h-0.9zM457.7 236.0h0.9v0.9h-0.9zM444.9 243.6h0.9v0.9h-0.9zM464.3 228.3h0.9v0.9h-0.9zM429.5 235.0h0.9v0.9h-0.9zM455.4 224.0h0.9v0.9h-0.9zM459.4 248.0h0.9v0.9h-0.9zM455.7 229.0h0.9v0.9h-0.9zM432.8 245.0h0.9v0.9h-0.9zM449.9 245.3h0.9v0.9h-0.9zM432.2 206.5h0.9v0.9h-0.9zM459.3 248.7h0.9v0.9h-0.9zM444.0 237.9h0.9v0.9h-0.9zM452.0 246.0h0.9v0.9h-0.9zM444.9 232.5h0.9v0.9h-0.9zM436.3 248.9h0.9v0.9h-0.9zM448.1 201.7h0.9v0.9h-0.9zM450.8 231.9h0.9v0.9h-0.9zM433.0 232.5h0.9v0.9h-0.9zM433.0 233.2h0.9v0.9h-0.9zM441.0 243.4h0.9v0.9h-0.9zM435.9 218.6h0.9v0.9h-0.9zM440.3 223.3h0.9v0.9h-0.9zM455.1 235.8h0.9v0.9h-0.9zM428.6 228.7h0.9v0.9h-0.9zM446.7 237.6h0.9v0.9h-0.9zM450.2 248.5h0.9v0.9h-0.9zM459.0 236.7h0.9v0.9h-0.9zM432.7 234.0h0.9v0.9h-0.9zM454.1 228.2h0.9v0.9h-0.9zM460.8 227.8h0.9v0.9h-0.9zM434.6 246.8h0.9v0.9h-0.9zM445.9 241.4h0.9v0.9h-0.9zM443.6 238.3h0.9v0.9h-0.9zM454.2 236.7h0.9v0.9h-0.9zM452.2 246.9h0.9v0.9h-0.9zM441.2 239.9h0.9v0.9h-0.9zM449.2 232.0h0.9v0.9h-0.9zM438.5 235.9h0.9v0.9h-0.9zM443.7 233.6h0.9v0.9h-0.9zM454.2 238.8h0.9v0.9h-0.9zM465.8 247.2h0.9v0.9h-0.9zM443.1 230.8h0.9v0.9h-0.9zM452.5 234.0h0.9v0.9h-0.9zM429.2 239.3h0.9v0.9h-0.9zM443.7 235.6h0.9v0.9h-0.9zM453.7 240.1h0.9v0.9h-0.9zM469.2 230.1h0.9v0.9h-0.9zM445.9 241.3h0.9v0.9h-0.9zM442.2 232.5h0.9v0.9h-0.9zM466.2 222.5h0.9v0.9h-0.9zM450.8 219.3h0.9v0.9h-0.9zM450.7 217.6h0.9v0.9h-0.9zM434.2 250.1h0.9v0.9h-0.9zM463.9 239.4h0.9v0.9h-0.9zM449.7 226.2h0.9v0.9h-0.9zM443.1 223.9h0.9v0.9h-0.9zM446.0 237.1h0.9v0.9h-0.9zM448.3 246.4h0.9v0.9h-0.9zM439.9 214.5h0.9v0.9h-0.9zM434.2 224.6h0.9v0.9h-0.9zM442.9 233.3h0.9v0.9h-0.9zM446.5 252.5h0.9v0.9h-0.9zM447.3 226.5h0.9v0.9h-0.9zM443.6 228.7h0.9v0.9h-0.9zM444.3 244.1h0.9v0.9h-0.9zM434.6 245.5h0.9v0.9h-0.9zM464.8 238.9h0.9v0.9h-0.9zM446.4 240.4h0.9v0.9h-0.9zM443.1 228.0h0.9v0.9h-0.9zM453.8 223.2h0.9v0.9h-0.9zM431.9 243.8h0.9v0.9h-0.9zM442.9 229.1h0.9v0.9h-0.9zM452.4 253.1h0.9v0.9h-0.9zM443.9 236.6h0.9v0.9h-0.9zM453.1 247.9h0.9v0.9h-0.9zM458.3 245.2h0.9v0.9h-0.9zM439.7 243.6h0.9v0.9h-0.9zM447.1 220.0h0.9v0.9h-0.9zM460.5 244.1h0.9v0.9h-0.9zM462.0 237.3h0.9v0.9h-0.9zM455.0 237.2h0.9v0.9h-0.9zM448.8 247.6h0.9v0.9h-0.9zM447.6 244.5h0.9v0.9h-0.9zM446.6 251.0h0.9v0.9h-0.9zM454.1 220.5h0.9v0.9h-0.9zM465.2 242.6h0.9v0.9h-0.9zM441.4 231.4h0.9v0.9h-0.9zM468.8 238.9h0.9v0.9h-0.9zM452.6 244.3h0.9v0.9h-0.9zM470.0 229.8h0.9v0.9h-0.9zM459.4 220.8h0.9v0.9h-0.9zM443.3 238.6h0.9v0.9h-0.9zM447.6 244.0h0.9v0.9h-0.9zM451.4 241.9h0.9v0.9h-0.9zM445.5 241.2h0.9v0.9h-0.9zM447.7 251.1h0.9v0.9h-0.9zM448.2 236.4h0.9v0.9h-0.9zM445.0 224.4h0.9v0.9h-0.9zM469.7 242.4h0.9v0.9h-0.9zM448.4 233.1h0.9v0.9h-0.9zM461.0 234.5h0.9v0.9h-0.9zM442.0 232.3h0.9v0.9h-0.9zM463.9 241.3h0.9v0.9h-0.9zM445.4 231.2h0.9v0.9h-0.9zM461.1 241.1h0.9v0.9h-0.9zM443.4 247.4h0.9v0.9h-0.9zM456.6 227.5h0.9v0.9h-0.9zM459.6 249.5h0.9v0.9h-0.9zM444.4 224.0h0.9v0.9h-0.9zM459.0 234.4h0.9v0.9h-0.9zM444.8 235.0h0.9v0.9h-0.9zM444.1 246.8h0.9v0.9h-0.9zM435.1 243.6h0.9v0.9h-0.9zM459.7 249.1h0.9v0.9h-0.9zM454.9 240.8h0.9v0.9h-0.9zM444.9 236.8h0.9v0.9h-0.9zM445.8 227.4h0.9v0.9h-0.9zM456.1 253.9h0.9v0.9h-0.9zM450.1 234.7h0.9v0.9h-0.9zM434.9 244.8h0.9v0.9h-0.9zM444.4 231.1h0.9v0.9h-0.9zM453.6 224.4h0.9v0.9h-0.9zM455.1 212.5h0.9v0.9h-0.9zM440.3 223.0h0.9v0.9h-0.9zM444.4 246.4h0.9v0.9h-0.9zM432.9 252.3h0.9v0.9h-0.9zM439.7 233.0h0.9v0.9h-0.9zM457.9 230.4h0.9v0.9h-0.9zM462.9 235.9h0.9v0.9h-0.9zM446.0 227.9h0.9v0.9h-0.9zM459.6 237.3h0.9v0.9h-0.9zM441.8 228.1h0.9v0.9h-0.9zM440.2 237.0h0.9v0.9h-0.9zM439.3 246.4h0.9v0.9h-0.9zM446.7 231.5h0.9v0.9h-0.9zM452.1 253.0h0.9v0.9h-0.9zM458.8 239.5h0.9v0.9h-0.9zM456.0 221.9h0.9v0.9h-0.9zM439.0 248.6h0.9v0.9h-0.9zM446.1 238.7h0.9v0.9h-0.9zM453.9 241.9h0.9v0.9h-0.9zM452.0 232.8h0.9v0.9h-0.9zM443.9 251.7h0.9v0.9h-0.9zM441.8 223.0h0.9v0.9h-0.9zM443.3 247.4h0.9v0.9h-0.9zM466.5 239.6h0.9v0.9h-0.9zM440.5 244.4h0.9v0.9h-0.9zM450.4 250.4h0.9v0.9h-0.9zM452.7 245.9h0.9v0.9h-0.9zM452.6 242.4h0.9v0.9h-0.9zM437.3 236.3h0.9v0.9h-0.9zM464.4 251.9h0.9v0.9h-0.9zM457.6 242.1h0.9v0.9h-0.9zM446.0 241.7h0.9v0.9h-0.9zM443.6 249.4h0.9v0.9h-0.9zM443.8 230.1h0.9v0.9h-0.9zM439.1 229.1h0.9v0.9h-0.9zM454.4 234.6h0.9v0.9h-0.9zM453.3 229.4h0.9v0.9h-0.9zM444.5 238.3h0.9v0.9h-0.9zM447.4 246.2h0.9v0.9h-0.9zM456.2 235.1h0.9v0.9h-0.9zM450.0 229.2h0.9v0.9h-0.9zM440.7 234.5h0.9v0.9h-0.9zM458.1 230.8h0.9v0.9h-0.9zM430.5 227.5h0.9v0.9h-0.9zM434.4 236.1h0.9v0.9h-0.9zM444.0 225.9h0.9v0.9h-0.9zM438.8 233.7h0.9v0.9h-0.9zM451.5 244.4h0.9v0.9h-0.9zM461.5 235.4h0.9v0.9h-0.9zM454.0 238.8h0.9v0.9h-0.9zM435.6 231.4h0.9v0.9h-0.9zM470.7 236.4h0.9v0.9h-0.9zM465.0 246.6h0.9v0.9h-0.9zM465.1 236.1h0.9v0.9h-0.9zM457.3 234.9h0.9v0.9h-0.9zM435.5 225.9h0.9v0.9h-0.9zM452.0 221.3h0.9v0.9h-0.9zM451.3 229.0h0.9v0.9h-0.9zM451.2 223.8h0.9v0.9h-0.9zM456.4 235.6h0.9v0.9h-0.9zM431.0 223.1h0.9v0.9h-0.9zM448.1 221.0h0.9v0.9h-0.9zM450.9 243.1h0.9v0.9h-0.9zM440.4 252.5h0.9v0.9h-0.9zM462.8 241.3h0.9v0.9h-0.9zM452.3 242.9h0.9v0.9h-0.9zM444.6 251.7h0.9v0.9h-0.9zM441.7 211.9h0.9v0.9h-0.9zM447.6 242.6h0.9v0.9h-0.9zM456.2 226.5h0.9v0.9h-0.9zM462.2 229.5h0.9v0.9h-0.9zM454.1 245.6h0.9v0.9h-0.9zM449.3 249.8h0.9v0.9h-0.9zM452.7 233.7h0.9v0.9h-0.9zM475.2 238.0h0.9v0.9h-0.9zM430.2 252.8h0.9v0.9h-0.9zM463.9 232.0h0.9v0.9h-0.9zM436.9 249.8h0.9v0.9h-0.9zM448.1 228.0h0.9v0.9h-0.9zM442.3 238.7h0.9v0.9h-0.9zM440.8 254.0h0.9v0.9h-0.9zM431.3 245.4h0.9v0.9h-0.9zM446.0 242.6h0.9v0.9h-0.9zM442.8 230.6h0.9v0.9h-0.9zM450.5 249.8h0.9v0.9h-0.9zM443.2 226.9h0.9v0.9h-0.9zM433.1 243.4h0.9v0.9h-0.9zM453.4 244.7h0.9v0.9h-0.9zM440.9 233.5h0.9v0.9h-0.9zM466.2 234.0h0.9v0.9h-0.9zM448.8 248.4h0.9v0.9h-0.9zM465.2 241.9h0.9v0.9h-0.9zM443.2 219.4h0.9v0.9h-0.9zM439.5 234.8h0.9v0.9h-0.9zM461.4 241.3h0.9v0.9h-0.9zM460.3 239.1h0.9v0.9h-0.9zM447.9 232.0h0.9v0.9h-0.9zM434.3 243.3h0.9v0.9h-0.9zM451.3 244.0h0.9v0.9h-0.9zM441.8 233.7h0.9v0.9h-0.9zM451.5 244.4h0.9v0.9h-0.9zM468.7 228.9h0.9v0.9h-0.9zM458.0 247.2h0.9v0.9h-0.9zM444.7 239.5h0.9v0.9h-0.9zM446.9 253.9h0.9v0.9h-0.9zM474.5 241.4h0.9v0.9h-0.9zM444.7 247.9h0.9v0.9h-0.9zM452.7 236.1h0.9v0.9h-0.9zM455.5 247.1h0.9v0.9h-0.9zM443.3 246.9h0.9v0.9h-0.9zM444.2 239.7h0.9v0.9h-0.9zM432.0 253.4h0.9v0.9h-0.9zM443.4 239.6h0.9v0.9h-0.9zM447.0 245.9h0.9v0.9h-0.9zM441.3 245.8h0.9v0.9h-0.9zM438.6 222.6h0.9v0.9h-0.9zM452.9 239.7h0.9v0.9h-0.9zM456.8 217.8h0.9v0.9h-0.9zM448.6 231.3h0.9v0.9h-0.9zM445.5 233.9h0.9v0.9h-0.9zM443.5 231.1h0.9v0.9h-0.9zM458.3 220.1h0.9v0.9h-0.9zM429.7 241.6h0.9v0.9h-0.9zM468.9 230.1h0.9v0.9h-0.9zM437.9 225.8h0.9v0.9h-0.9zM436.6 251.1h0.9v0.9h-0.9zM454.7 247.4h0.9v0.9h-0.9zM451.2 240.5h0.9v0.9h-0.9zM441.3 227.9h0.9v0.9h-0.9zM443.5 251.3h0.9v0.9h-0.9zM440.0 238.4h0.9v0.9h-0.9zM465.5 237.3h0.9v0.9h-0.9zM454.2 232.2h0.9v0.9h-0.9zM467.5 225.2h0.9v0.9h-0.9zM453.4 235.5h0.9v0.9h-0.9zM449.6 241.8h0.9v0.9h-0.9zM461.4 247.2h0.9v0.9h-0.9zM458.7 241.9h0.9v0.9h-0.9zM436.1 252.0h0.9v0.9h-0.9zM463.8 243.1h0.9v0.9h-0.9zM455.9 235.6h0.9v0.9h-0.9zM432.1 248.3h0.9v0.9h-0.9zM454.8 237.8h0.9v0.9h-0.9zM440.9 239.1h0.9v0.9h-0.9zM436.7 234.1h0.9v0.9h-0.9zM464.5 234.9h0.9v0.9h-0.9zM467.0 237.0h0.9v0.9h-0.9zM451.9 228.4h0.9v0.9h-0.9zM444.3 233.4h0.9v0.9h-0.9zM453.7 237.1h0.9v0.9h-0.9zM435.8 238.4h0.9v0.9h-0.9zM436.2 227.9h0.9v0.9h-0.9zM428.9 243.9h0.9v0.9h-0.9zM441.6 207.7h0.9v0.9h-0.9zM432.4 236.6h0.9v0.9h-0.9zM448.1 230.1h0.9v0.9h-0.9zM466.3 243.6h0.9v0.9h-0.9zM440.7 220.8h0.9v0.9h-0.9zM449.3 231.0h0.9v0.9h-0.9zM458.3 227.1h0.9v0.9h-0.9zM460.2 233.2h0.9v0.9h-0.9zM449.5 235.2h0.9v0.9h-0.9zM454.1 250.0h0.9v0.9h-0.9zM441.6 228.6h0.9v0.9h-0.9zM467.6 248.0h0.9v0.9h-0.9zM467.8 248.0h0.9v0.9h-0.9zM440.3 233.5h0.9v0.9h-0.9zM443.1 245.2h0.9v0.9h-0.9zM438.3 236.2h0.9v0.9h-0.9zM438.4 235.6h0.9v0.9h-0.9zM459.4 249.7h0.9v0.9h-0.9zM439.9 242.8h0.9v0.9h-0.9zM442.3 214.8h0.9v0.9h-0.9zM434.7 251.0h0.9v0.9h-0.9zM446.1 240.9h0.9v0.9h-0.9zM460.8 238.3h0.9v0.9h-0.9zM440.6 231.6h0.9v0.9h-0.9zM437.3 243.8h0.9v0.9h-0.9zM442.3 243.4h0.9v0.9h-0.9zM431.3 233.5h0.9v0.9h-0.9zM469.4 241.8h0.9v0.9h-0.9zM446.3 250.5h0.9v0.9h-0.9zM434.9 246.1h0.9v0.9h-0.9zM436.0 245.2h0.9v0.9h-0.9zM438.2 242.4h0.9v0.9h-0.9zM452.2 230.5h0.9v0.9h-0.9zM450.0 226.8h0.9v0.9h-0.9zM457.7 247.6h0.9v0.9h-0.9zM445.6 245.2h0.9v0.9h-0.9zM472.8 236.3h0.9v0.9h-0.9zM427.3 241.5h0.9v0.9h-0.9zM442.5 229.8h0.9v0.9h-0.9zM457.0 248.5h0.9v0.9h-0.9zM440.6 233.6h0.9v0.9h-0.9zM451.8 209.6h0.9v0.9h-0.9zM445.0 238.6h0.9v0.9h-0.9zM437.0 240.4h0.9v0.9h-0.9zM458.6 231.4h0.9v0.9h-0.9zM453.4 236.4h0.9v0.9h-0.9zM445.6 239.2h0.9v0.9h-0.9zM463.4 243.5h0.9v0.9h-0.9zM454.6 239.6h0.9v0.9h-0.9zM447.1 239.0h0.9v0.9h-0.9zM441.9 221.8h0.9v0.9h-0.9zM464.1 218.7h0.9v0.9h-0.9zM453.2 225.6h0.9v0.9h-0.9zM445.3 232.6h0.9v0.9h-0.9zM440.6 229.9h0.9v0.9h-0.9zM442.1 246.2h0.9v0.9h-0.9zM464.5 247.8h0.9v0.9h-0.9zM447.1 236.5h0.9v0.9h-0.9zM444.6 237.8h0.9v0.9h-0.9zM440.6 236.1h0.9v0.9h-0.9zM456.3 235.7h0.9v0.9h-0.9zM438.5 236.7h0.9v0.9h-0.9zM448.2 237.2h0.9v0.9h-0.9zM444.4 245.4h0.9v0.9h-0.9zM446.8 227.4h0.9v0.9h-0.9zM453.3 230.5h0.9v0.9h-0.9zM455.5 246.6h0.9v0.9h-0.9zM452.4 241.3h0.9v0.9h-0.9zM432.8 235.9h0.9v0.9h-0.9zM448.6 244.7h0.9v0.9h-0.9zM435.2 236.4h0.9v0.9h-0.9zM430.7 239.9h0.9v0.9h-0.9zM448.1 239.3h0.9v0.9h-0.9zM465.0 245.8h0.9v0.9h-0.9zM445.1 231.9h0.9v0.9h-0.9zM442.4 246.3h0.9v0.9h-0.9zM457.0 232.7h0.9v0.9h-0.9zM446.0 233.5h0.9v0.9h-0.9zM454.6 240.0h0.9v0.9h-0.9zM439.5 228.7h0.9v0.9h-0.9zM461.2 223.3h0.9v0.9h-0.9zM427.7 205.6h0.9v0.9h-0.9zM469.1 232.4h0.9v0.9h-0.9zM456.4 243.9h0.9v0.9h-0.9zM456.2 250.0h0.9v0.9h-0.9zM442.2 237.8h0.9v0.9h-0.9zM457.8 243.9h0.9v0.9h-0.9zM439.1 230.1h0.9v0.9h-0.9zM431.6 240.8h0.9v0.9h-0.9zM441.5 221.7h0.9v0.9h-0.9zM441.2 241.4h0.9v0.9h-0.9zM449.2 235.7h0.9v0.9h-0.9zM449.0 244.9h0.9v0.9h-0.9zM434.3 229.4h0.9v0.9h-0.9zM457.7 245.8h0.9v0.9h-0.9zM432.1 230.4h0.9v0.9h-0.9zM462.9 245.9h0.9v0.9h-0.9zM445.6 248.8h0.9v0.9h-0.9zM462.0 252.9h0.9v0.9h-0.9zM432.2 224.4h0.9v0.9h-0.9zM441.7 237.5h0.9v0.9h-0.9zM443.4 240.6h0.9v0.9h-0.9zM463.2 249.6h0.9v0.9h-0.9zM457.9 238.0h0.9v0.9h-0.9zM465.1 242.8h0.9v0.9h-0.9zM449.8 237.8h0.9v0.9h-0.9zM446.9 247.5h0.9v0.9h-0.9zM471.7 236.0h0.9v0.9h-0.9zM434.6 248.7h0.9v0.9h-0.9zM449.8 228.1h0.9v0.9h-0.9zM457.6 238.2h0.9v0.9h-0.9zM437.0 211.4h0.9v0.9h-0.9zM436.4 242.1h0.9v0.9h-0.9zM436.0 248.2h0.9v0.9h-0.9zM471.1 241.4h0.9v0.9h-0.9zM449.7 237.2h0.9v0.9h-0.9zM456.5 238.4h0.9v0.9h-0.9zM458.5 253.0h0.9v0.9h-0.9zM456.5 227.9h0.9v0.9h-0.9zM454.4 235.3h0.9v0.9h-0.9zM450.6 248.2h0.9v0.9h-0.9zM440.0 240.2h0.9v0.9h-0.9zM463.1 229.3h0.9v0.9h-0.9zM445.1 245.7h0.9v0.9h-0.9zM444.7 248.8h0.9v0.9h-0.9zM436.2 222.3h0.9v0.9h-0.9zM451.3 236.6h0.9v0.9h-0.9zM450.6 248.1h0.9v0.9h-0.9zM458.6 234.4h0.9v0.9h-0.9zM443.0 217.7h0.9v0.9h-0.9zM436.6 240.6h0.9v0.9h-0.9zM449.6 222.5h0.9v0.9h-0.9zM455.7 237.6h0.9v0.9h-0.9zM459.2 234.3h0.9v0.9h-0.9zM457.7 226.4h0.9v0.9h-0.9zM427.1 229.6h0.9v0.9h-0.9zM454.8 242.3h0.9v0.9h-0.9zM455.7 243.4h0.9v0.9h-0.9zM430.0 241.9h0.9v0.9h-0.9zM443.2 227.9h0.9v0.9h-0.9zM436.2 236.6h0.9v0.9h-0.9zM453.5 231.3h0.9v0.9h-0.9zM450.5 245.5h0.9v0.9h-0.9zM443.8 230.4h0.9v0.9h-0.9zM454.6 236.1h0.9v0.9h-0.9zM450.6 236.7h0.9v0.9h-0.9zM456.7 237.9h0.9v0.9h-0.9zM449.7 237.2h0.9v0.9h-0.9zM437.6 214.9h0.9v0.9h-0.9zM453.1 225.0h0.9v0.9h-0.9zM451.5 244.7h0.9v0.9h-0.9zM467.7 230.3h0.9v0.9h-0.9zM448.8 247.9h0.9v0.9h-0.9zM439.9 231.9h0.9v0.9h-0.9zM458.9 248.0h0.9v0.9h-0.9zM436.7 244.9h0.9v0.9h-0.9zM459.6 224.9h0.9v0.9h-0.9zM447.3 236.0h0.9v0.9h-0.9zM454.2 219.9h0.9v0.9h-0.9zM454.9 238.0h0.9v0.9h-0.9zM444.3 216.0h0.9v0.9h-0.9zM454.3 242.5h0.9v0.9h-0.9zM455.4 220.3h0.9v0.9h-0.9zM449.4 252.1h0.9v0.9h-0.9zM430.3 244.8h0.9v0.9h-0.9zM439.3 243.7h0.9v0.9h-0.9zM448.3 221.1h0.9v0.9h-0.9zM435.8 251.3h0.9v0.9h-0.9zM446.0 250.9h0.9v0.9h-0.9zM450.9 247.3h0.9v0.9h-0.9zM442.9 240.3h0.9v0.9h-0.9zM443.1 247.5h0.9v0.9h-0.9zM440.9 249.6h0.9v0.9h-0.9zM464.3 225.4h0.9v0.9h-0.9zM445.3 243.7h0.9v0.9h-0.9zM466.5 250.0h0.9v0.9h-0.9zM448.1 220.0h0.9v0.9h-0.9zM456.3 231.9h0.9v0.9h-0.9zM449.3 242.2h0.9v0.9h-0.9zM431.8 249.1h0.9v0.9h-0.9zM457.2 244.0h0.9v0.9h-0.9zM453.7 241.7h0.9v0.9h-0.9zM432.0 232.7h0.9v0.9h-0.9zM456.0 234.6h0.9v0.9h-0.9zM447.4 241.9h0.9v0.9h-0.9zM448.1 240.7h0.9v0.9h-0.9zM452.4 238.0h0.9v0.9h-0.9zM435.2 235.2h0.9v0.9h-0.9zM457.6 231.0h0.9v0.9h-0.9zM452.3 241.2h0.9v0.9h-0.9zM437.6 208.7h0.9v0.9h-0.9zM447.0 230.0h0.9v0.9h-0.9zM440.3 247.7h0.9v0.9h-0.9zM438.8 241.6h0.9v0.9h-0.9zM448.4 240.1h0.9v0.9h-0.9zM468.8 217.5h0.9v0.9h-0.9zM457.7 236.5h0.9v0.9h-0.9zM444.1 231.1h0.9v0.9h-0.9zM447.6 238.5h0.9v0.9h-0.9zM439.1 236.6h0.9v0.9h-0.9zM433.4 239.6h0.9v0.9h-0.9zM451.0 249.3h0.9v0.9h-0.9zM457.8 232.8h0.9v0.9h-0.9zM464.6 236.9h0.9v0.9h-0.9zM442.8 226.9h0.9v0.9h-0.9zM453.0 252.9h0.9v0.9h-0.9zM451.5 249.4h0.9v0.9h-0.9zM453.6 247.2h0.9v0.9h-0.9zM461.5 235.0h0.9v0.9h-0.9zM431.8 236.8h0.9v0.9h-0.9zM438.6 225.7h0.9v0.9h-0.9zM445.3 245.4h0.9v0.9h-0.9zM427.1 222.3h0.9v0.9h-0.9zM455.8 228.8h0.9v0.9h-0.9zM442.9 252.1h0.9v0.9h-0.9zM459.3 241.7h0.9v0.9h-0.9zM453.0 209.8h0.9v0.9h-0.9zM453.2 242.0h0.9v0.9h-0.9zM432.0 239.9h0.9v0.9h-0.9zM452.1 236.8h0.9v0.9h-0.9zM455.7 247.2h0.9v0.9h-0.9zM447.7 235.4h0.9v0.9h-0.9zM434.3 249.8h0.9v0.9h-0.9zM440.9 241.3h0.9v0.9h-0.9zM463.8 246.0h0.9v0.9h-0.9zM433.4 237.1h0.9v0.9h-0.9zM439.4 221.0h0.9v0.9h-0.9zM438.4 244.1h0.9v0.9h-0.9zM450.8 235.9h0.9v0.9h-0.9zM449.0 225.9h0.9v0.9h-0.9zM438.8 236.3h0.9v0.9h-0.9zM455.8 234.7h0.9v0.9h-0.9zM445.3 241.5h0.9v0.9h-0.9zM463.1 225.0h0.9v0.9h-0.9zM452.9 239.9h0.9v0.9h-0.9zM446.4 240.6h0.9v0.9h-0.9zM444.6 225.2h0.9v0.9h-0.9zM456.3 236.8h0.9v0.9h-0.9zM443.4 245.9h0.9v0.9h-0.9zM437.2 230.6h0.9v0.9h-0.9zM456.1 247.0h0.9v0.9h-0.9zM469.0 233.3h0.9v0.9h-0.9zM431.4 222.6h0.9v0.9h-0.9zM434.2 239.1h0.9v0.9h-0.9zM444.5 231.0h0.9v0.9h-0.9zM436.2 230.8h0.9v0.9h-0.9zM443.2 250.3h0.9v0.9h-0.9zM453.9 252.2h0.9v0.9h-0.9zM456.0 245.9h0.9v0.9h-0.9zM459.9 242.7h0.9v0.9h-0.9zM463.8 249.7h0.9v0.9h-0.9zM466.8 240.3h0.9v0.9h-0.9zM444.1 243.4h0.9v0.9h-0.9zM443.0 230.8h0.9v0.9h-0.9zM451.8 226.4h0.9v0.9h-0.9zM445.4 252.6h0.9v0.9h-0.9zM448.5 246.5h0.9v0.9h-0.9zM454.1 242.0h0.9v0.9h-0.9zM448.3 244.4h0.9v0.9h-0.9zM436.6 244.0h0.9v0.9h-0.9zM435.5 230.2h0.9v0.9h-0.9zM440.7 224.2h0.9v0.9h-0.9zM452.6 244.8h0.9v0.9h-0.9zM471.1 239.8h0.9v0.9h-0.9zM455.2 230.3h0.9v0.9h-0.9zM454.8 226.2h0.9v0.9h-0.9zM468.5 228.0h0.9v0.9h-0.9zM442.6 245.8h0.9v0.9h-0.9zM436.8 240.1h0.9v0.9h-0.9zM457.7 239.6h0.9v0.9h-0.9zM457.2 232.8h0.9v0.9h-0.9zM453.5 215.5h0.9v0.9h-0.9zM463.5 231.1h0.9v0.9h-0.9zM437.7 238.2h0.9v0.9h-0.9zM465.5 230.7h0.9v0.9h-0.9zM446.8 234.3h0.9v0.9h-0.9zM437.0 224.5h0.9v0.9h-0.9zM453.5 245.3h0.9v0.9h-0.9zM438.9 240.4h0.9v0.9h-0.9zM451.9 241.9h0.9v0.9h-0.9zM445.3 238.5h0.9v0.9h-0.9zM450.1 227.0h0.9v0.9h-0.9zM445.5 246.2h0.9v0.9h-0.9zM441.0 251.6h0.9v0.9h-0.9zM444.5 226.6h0.9v0.9h-0.9zM443.9 224.0h0.9v0.9h-0.9zM453.7 221.5h0.9v0.9h-0.9zM447.2 235.6h0.9v0.9h-0.9zM443.8 242.4h0.9v0.9h-0.9zM450.2 232.2h0.9v0.9h-0.9zM455.9 233.4h0.9v0.9h-0.9zM456.8 251.9h0.9v0.9h-0.9zM451.1 247.6h0.9v0.9h-0.9zM432.5 243.8h0.9v0.9h-0.9zM430.9 236.2h0.9v0.9h-0.9zM454.6 210.2h0.9v0.9h-0.9zM438.6 230.0h0.9v0.9h-0.9zM436.8 238.2h0.9v0.9h-0.9zM454.0 226.0h0.9v0.9h-0.9zM440.3 218.8h0.9v0.9h-0.9zM439.4 216.3h0.9v0.9h-0.9zM430.7 242.9h0.9v0.9h-0.9zM456.5 229.6h0.9v0.9h-0.9zM450.8 230.0h0.9v0.9h-0.9zM440.1 233.1h0.9v0.9h-0.9zM446.9 244.6h0.9v0.9h-0.9zM429.8 234.9h0.9v0.9h-0.9zM443.9 236.5h0.9v0.9h-0.9zM450.2 221.8h0.9v0.9h-0.9zM428.2 238.6h0.9v0.9h-0.9zM454.9 243.1h0.9v0.9h-0.9zM447.6 221.3h0.9v0.9h-0.9zM441.9 221.9h0.9v0.9h-0.9zM468.3 241.7h0.9v0.9h-0.9zM454.9 240.1h0.9v0.9h-0.9zM442.8 250.2h0.9v0.9h-0.9zM456.6 244.6h0.9v0.9h-0.9zM453.3 245.7h0.9v0.9h-0.9zM444.0 242.5h0.9v0.9h-0.9zM447.9 235.4h0.9v0.9h-0.9zM442.3 250.4h0.9v0.9h-0.9zM436.0 236.1h0.9v0.9h-0.9zM458.1 237.3h0.9v0.9h-0.9zM450.8 225.5h0.9v0.9h-0.9zM448.7 237.1h0.9v0.9h-0.9zM432.0 227.3h0.9v0.9h-0.9zM435.8 237.5h0.9v0.9h-0.9zM445.8 231.7h0.9v0.9h-0.9zM439.7 239.2h0.9v0.9h-0.9zM459.7 223.5h0.9v0.9h-0.9zM431.6 249.7h0.9v0.9h-0.9zM431.5 233.8h0.9v0.9h-0.9zM446.1 249.1h0.9v0.9h-0.9zM448.6 229.6h0.9v0.9h-0.9zM449.1 216.7h0.9v0.9h-0.9zM455.9 253.3h0.9v0.9h-0.9zM444.8 246.5h0.9v0.9h-0.9zM435.6 253.3h0.9v0.9h-0.9zM440.0 229.7h0.9v0.9h-0.9zM438.7 219.7h0.9v0.9h-0.9zM431.5 235.9h0.9v0.9h-0.9zM451.9 232.1h0.9v0.9h-0.9zM430.1 241.5h0.9v0.9h-0.9zM457.9 239.1h0.9v0.9h-0.9zM435.4 234.9h0.9v0.9h-0.9zM460.2 249.5h0.9v0.9h-0.9zM446.1 242.5h0.9v0.9h-0.9zM441.4 239.4h0.9v0.9h-0.9zM440.5 239.7h0.9v0.9h-0.9zM441.4 240.0h0.9v0.9h-0.9zM454.5 237.8h0.9v0.9h-0.9zM433.0 243.2h0.9v0.9h-0.9zM444.3 232.9h0.9v0.9h-0.9zM453.1 229.3h0.9v0.9h-0.9zM457.1 243.8h0.9v0.9h-0.9zM439.5 230.8h0.9v0.9h-0.9zM445.7 228.6h0.9v0.9h-0.9zM457.3 214.6h0.9v0.9h-0.9zM448.6 234.4h0.9v0.9h-0.9zM435.1 244.5h0.9v0.9h-0.9zM441.8 242.7h0.9v0.9h-0.9zM442.3 235.1h0.9v0.9h-0.9zM452.7 247.9h0.9v0.9h-0.9zM457.8 237.8h0.9v0.9h-0.9zM463.1 234.5h0.9v0.9h-0.9zM432.3 218.6h0.9v0.9h-0.9zM431.4 229.0h0.9v0.9h-0.9zM427.7 241.4h0.9v0.9h-0.9zM447.4 237.6h0.9v0.9h-0.9zM449.6 236.9h0.9v0.9h-0.9zM444.3 234.7h0.9v0.9h-0.9zM447.5 226.3h0.9v0.9h-0.9zM436.5 247.4h0.9v0.9h-0.9zM429.5 244.3h0.9v0.9h-0.9zM438.9 248.5h0.9v0.9h-0.9zM448.2 247.9h0.9v0.9h-0.9zM453.6 243.5h0.9v0.9h-0.9zM450.9 243.0h0.9v0.9h-0.9zM462.5 235.3h0.9v0.9h-0.9zM465.9 249.3h0.9v0.9h-0.9zM447.9 222.9h0.9v0.9h-0.9zM460.2 234.8h0.9v0.9h-0.9zM448.1 239.3h0.9v0.9h-0.9zM457.4 244.6h0.9v0.9h-0.9zM427.3 231.2h0.9v0.9h-0.9zM450.8 239.8h0.9v0.9h-0.9zM455.6 243.9h0.9v0.9h-0.9zM464.6 230.5h0.9v0.9h-0.9zM461.2 242.0h0.9v0.9h-0.9zM450.3 245.1h0.9v0.9h-0.9zM443.4 245.5h0.9v0.9h-0.9zM444.8 245.5h0.9v0.9h-0.9zM438.8 250.2h0.9v0.9h-0.9zM430.6 231.2h0.9v0.9h-0.9zM446.5 240.5h0.9v0.9h-0.9zM438.4 233.8h0.9v0.9h-0.9zM449.8 248.9h0.9v0.9h-0.9zM461.0 233.1h0.9v0.9h-0.9zM446.3 234.8h0.9v0.9h-0.9zM430.6 233.4h0.9v0.9h-0.9zM459.3 224.0h0.9v0.9h-0.9zM465.8 239.9h0.9v0.9h-0.9zM464.2 232.0h0.9v0.9h-0.9zM460.8 245.9h0.9v0.9h-0.9zM455.5 245.8h0.9v0.9h-0.9zM453.4 244.8h0.9v0.9h-0.9zM460.0 242.4h0.9v0.9h-0.9zM453.9 242.5h0.9v0.9h-0.9zM448.6 229.0h0.9v0.9h-0.9zM427.7 227.5h0.9v0.9h-0.9zM433.7 222.6h0.9v0.9h-0.9zM454.5 234.6h0.9v0.9h-0.9zM455.4 233.2h0.9v0.9h-0.9zM451.2 235.9h0.9v0.9h-0.9zM464.3 251.3h0.9v0.9h-0.9zM456.0 247.3h0.9v0.9h-0.9zM434.4 231.7h0.9v0.9h-0.9zM448.9 235.8h0.9v0.9h-0.9zM441.4 217.2h0.9v0.9h-0.9zM439.0 236.9h0.9v0.9h-0.9zM450.4 226.8h0.9v0.9h-0.9zM448.8 217.6h0.9v0.9h-0.9zM445.1 238.1h0.9v0.9h-0.9zM460.8 240.1h0.9v0.9h-0.9zM461.9 241.5h0.9v0.9h-0.9zM459.7 252.1h0.9v0.9h-0.9zM463.7 240.1h0.9v0.9h-0.9zM433.9 240.1h0.9v0.9h-0.9zM452.2 230.7h0.9v0.9h-0.9zM456.0 236.4h0.9v0.9h-0.9zM455.7 240.0h0.9v0.9h-0.9zM437.0 249.0h0.9v0.9h-0.9zM468.8 247.7h0.9v0.9h-0.9zM450.2 220.1h0.9v0.9h-0.9zM450.6 237.7h0.9v0.9h-0.9zM438.6 218.1h0.9v0.9h-0.9zM451.9 248.2h0.9v0.9h-0.9zM446.8 252.9h0.9v0.9h-0.9zM446.8 227.9h0.9v0.9h-0.9zM446.5 242.6h0.9v0.9h-0.9zM439.2 229.8h0.9v0.9h-0.9zM450.0 247.2h0.9v0.9h-0.9zM444.6 243.2h0.9v0.9h-0.9zM441.7 234.5h0.9v0.9h-0.9zM449.2 248.2h0.9v0.9h-0.9zM464.2 236.8h0.9v0.9h-0.9zM456.1 234.3h0.9v0.9h-0.9zM451.5 223.2h0.9v0.9h-0.9zM439.4 224.0h0.9v0.9h-0.9zM458.2 233.3h0.9v0.9h-0.9zM448.1 238.8h0.9v0.9h-0.9zM444.9 225.8h0.9v0.9h-0.9zM468.0 217.3h0.9v0.9h-0.9zM446.8 245.3h0.9v0.9h-0.9zM445.0 237.0h0.9v0.9h-0.9zM450.5 240.6h0.9v0.9h-0.9zM443.5 249.3h0.9v0.9h-0.9zM452.6 253.8h0.9v0.9h-0.9zM448.1 217.2h0.9v0.9h-0.9zM429.3 232.7h0.9v0.9h-0.9zM452.1 221.0h0.9v0.9h-0.9zM441.1 251.1h0.9v0.9h-0.9zM450.8 230.6h0.9v0.9h-0.9zM446.0 239.3h0.9v0.9h-0.9zM442.6 234.8h0.9v0.9h-0.9zM440.3 240.4h0.9v0.9h-0.9zM464.2 253.3h0.9v0.9h-0.9zM445.9 223.4h0.9v0.9h-0.9zM431.2 239.6h0.9v0.9h-0.9zM449.7 231.4h0.9v0.9h-0.9zM438.6 235.8h0.9v0.9h-0.9zM450.0 245.1h0.9v0.9h-0.9zM453.2 213.2h0.9v0.9h-0.9zM440.8 240.8h0.9v0.9h-0.9zM451.2 246.4h0.9v0.9h-0.9zM434.4 236.0h0.9v0.9h-0.9zM442.2 233.1h0.9v0.9h-0.9zM438.9 246.6h0.9v0.9h-0.9zM455.6 241.8h0.9v0.9h-0.9zM433.5 231.5h0.9v0.9h-0.9zM446.6 242.2h0.9v0.9h-0.9zM441.2 235.3h0.9v0.9h-0.9zM475.3 238.7h0.9v0.9h-0.9zM444.0 212.3h0.9v0.9h-0.9zM456.2 225.6h0.9v0.9h-0.9zM455.6 239.9h0.9v0.9h-0.9zM438.7 246.4h0.9v0.9h-0.9zM440.7 234.9h0.9v0.9h-0.9zM447.4 240.3h0.9v0.9h-0.9zM442.5 241.2h0.9v0.9h-0.9zM447.2 240.1h0.9v0.9h-0.9zM451.3 231.4h0.9v0.9h-0.9zM432.6 237.3h0.9v0.9h-0.9zM460.4 241.5h0.9v0.9h-0.9zM449.6 230.3h0.9v0.9h-0.9zM435.0 225.1h0.9v0.9h-0.9zM437.4 234.2h0.9v0.9h-0.9zM430.7 236.8h0.9v0.9h-0.9zM430.4 244.9h0.9v0.9h-0.9zM446.9 219.6h0.9v0.9h-0.9zM441.3 240.5h0.9v0.9h-0.9zM451.3 246.2h0.9v0.9h-0.9zM443.4 236.5h0.9v0.9h-0.9zM444.7 243.8h0.9v0.9h-0.9zM439.8 236.4h0.9v0.9h-0.9zM448.8 234.4h0.9v0.9h-0.9zM435.7 252.3h0.9v0.9h-0.9zM452.5 228.5h0.9v0.9h-0.9zM468.1 230.1h0.9v0.9h-0.9zM437.9 234.2h0.9v0.9h-0.9zM452.9 253.7h0.9v0.9h-0.9zM461.8 243.9h0.9v0.9h-0.9zM447.9 245.0h0.9v0.9h-0.9zM438.8 230.7h0.9v0.9h-0.9zM452.8 240.2h0.9v0.9h-0.9zM449.7 227.4h0.9v0.9h-0.9zM449.8 223.0h0.9v0.9h-0.9zM457.1 238.2h0.9v0.9h-0.9zM440.3 233.2h0.9v0.9h-0.9zM439.7 252.4h0.9v0.9h-0.9zM447.4 240.8h0.9v0.9h-0.9zM437.0 224.4h0.9v0.9h-0.9zM449.7 233.4h0.9v0.9h-0.9zM452.6 249.2h0.9v0.9h-0.9zM446.0 243.7h0.9v0.9h-0.9zM449.1 240.5h0.9v0.9h-0.9zM441.7 240.6h0.9v0.9h-0.9zM451.8 238.9h0.9v0.9h-0.9zM442.4 222.8h0.9v0.9h-0.9zM458.0 241.2h0.9v0.9h-0.9zM450.3 236.5h0.9v0.9h-0.9zM454.5 248.1h0.9v0.9h-0.9zM444.6 241.3h0.9v0.9h-0.9zM457.4 221.5h0.9v0.9h-0.9zM437.2 232.1h0.9v0.9h-0.9zM434.9 233.5h0.9v0.9h-0.9zM438.2 233.9h0.9v0.9h-0.9zM452.3 225.8h0.9v0.9h-0.9zM448.3 252.5h0.9v0.9h-0.9zM449.2 225.3h0.9v0.9h-0.9zM440.8 250.3h0.9v0.9h-0.9zM444.4 231.5h0.9v0.9h-0.9zM455.5 230.6h0.9v0.9h-0.9zM435.4 244.5h0.9v0.9h-0.9zM447.4 231.3h0.9v0.9h-0.9zM452.2 249.6h0.9v0.9h-0.9zM458.7 239.2h0.9v0.9h-0.9zM452.1 243.3h0.9v0.9h-0.9zM440.2 232.2h0.9v0.9h-0.9zM438.5 228.0h0.9v0.9h-0.9zM458.8 238.1h0.9v0.9h-0.9zM441.1 218.9h0.9v0.9h-0.9zM449.0 237.6h0.9v0.9h-0.9zM436.3 237.1h0.9v0.9h-0.9zM427.8 244.9h0.9v0.9h-0.9zM434.3 243.3h0.9v0.9h-0.9zM448.3 215.9h0.9v0.9h-0.9zM435.4 231.2h0.9v0.9h-0.9zM455.6 244.3h0.9v0.9h-0.9zM444.2 232.8h0.9v0.9h-0.9zM427.3 227.3h0.9v0.9h-0.9zM453.2 229.3h0.9v0.9h-0.9zM438.0 248.1h0.9v0.9h-0.9zM460.9 219.3h0.9v0.9h-0.9zM452.2 238.0h0.9v0.9h-0.9zM456.8 234.5h0.9v0.9h-0.9zM445.9 252.9h0.9v0.9h-0.9zM440.9 242.5h0.9v0.9h-0.9zM453.9 236.9h0.9v0.9h-0.9zM456.5 243.5h0.9v0.9h-0.9zM456.0 220.3h0.9v0.9h-0.9zM436.3 241.2h0.9v0.9h-0.9zM459.6 253.1h0.9v0.9h-0.9zM447.4 230.3h0.9v0.9h-0.9zM435.7 217.7h0.9v0.9h-0.9zM441.9 244.2h0.9v0.9h-0.9zM446.5 222.6h0.9v0.9h-0.9zM446.2 238.6h0.9v0.9h-0.9zM439.3 253.4h0.9v0.9h-0.9zM451.9 249.6h0.9v0.9h-0.9zM448.3 227.9h0.9v0.9h-0.9zM458.7 249.7h0.9v0.9h-0.9zM441.0 224.2h0.9v0.9h-0.9zM455.9 232.2h0.9v0.9h-0.9zM435.0 237.2h0.9v0.9h-0.9zM453.1 230.2h0.9v0.9h-0.9zM447.6 248.5h0.9v0.9h-0.9zM455.1 221.8h0.9v0.9h-0.9zM456.9 237.2h0.9v0.9h-0.9zM451.1 221.6h0.9v0.9h-0.9zM441.0 232.7h0.9v0.9h-0.9zM469.1 238.1h0.9v0.9h-0.9zM460.2 220.8h0.9v0.9h-0.9zM445.1 220.4h0.9v0.9h-0.9zM458.2 214.3h0.9v0.9h-0.9zM466.8 227.0h0.9v0.9h-0.9zM452.9 241.8h0.9v0.9h-0.9zM456.3 227.7h0.9v0.9h-0.9zM456.5 235.2h0.9v0.9h-0.9zM452.7 240.5h0.9v0.9h-0.9zM461.8 224.6h0.9v0.9h-0.9zM432.6 245.0h0.9v0.9h-0.9zM472.2 243.8h0.9v0.9h-0.9zM445.5 245.2h0.9v0.9h-0.9zM434.5 239.1h0.9v0.9h-0.9zM429.5 239.4h0.9v0.9h-0.9zM441.9 247.9h0.9v0.9h-0.9zM461.4 227.1h0.9v0.9h-0.9zM444.3 218.6h0.9v0.9h-0.9zM438.0 242.7h0.9v0.9h-0.9zM454.9 253.2h0.9v0.9h-0.9zM440.8 213.9h0.9v0.9h-0.9zM436.5 244.3h0.9v0.9h-0.9zM447.0 245.5h0.9v0.9h-0.9zM444.1 245.0h0.9v0.9h-0.9zM437.0 227.9h0.9v0.9h-0.9zM445.5 219.7h0.9v0.9h-0.9zM460.2 235.5h0.9v0.9h-0.9zM436.9 229.0h0.9v0.9h-0.9zM437.1 239.4h0.9v0.9h-0.9zM443.4 247.2h0.9v0.9h-0.9zM435.1 237.4h0.9v0.9h-0.9zM431.4 233.2h0.9v0.9h-0.9zM461.5 236.8h0.9v0.9h-0.9zM456.6 237.5h0.9v0.9h-0.9zM435.7 228.8h0.9v0.9h-0.9zM435.4 241.7h0.9v0.9h-0.9zM464.8 247.0h0.9v0.9h-0.9zM436.9 239.3h0.9v0.9h-0.9zM439.6 250.4h0.9v0.9h-0.9zM433.0 246.2h0.9v0.9h-0.9zM434.3 233.2h0.9v0.9h-0.9zM449.0 239.6h0.9v0.9h-0.9zM446.6 237.4h0.9v0.9h-0.9zM438.2 237.0h0.9v0.9h-0.9zM446.5 228.3h0.9v0.9h-0.9zM453.2 240.0h0.9v0.9h-0.9zM439.3 251.8h0.9v0.9h-0.9zM441.2 218.0h0.9v0.9h-0.9zM460.5 234.1h0.9v0.9h-0.9zM462.6 242.7h0.9v0.9h-0.9zM437.8 249.9h0.9v0.9h-0.9zM452.0 247.9h0.9v0.9h-0.9zM457.0 234.6h0.9v0.9h-0.9zM431.4 237.6h0.9v0.9h-0.9zM447.9 227.7h0.9v0.9h-0.9zM445.2 253.9h0.9v0.9h-0.9zM442.2 250.0h0.9v0.9h-0.9zM437.4 227.8h0.9v0.9h-0.9zM457.0 236.3h0.9v0.9h-0.9zM449.5 249.0h0.9v0.9h-0.9zM464.3 225.0h0.9v0.9h-0.9zM453.3 240.5h0.9v0.9h-0.9zM444.6 231.8h0.9v0.9h-0.9zM452.5 216.7h0.9v0.9h-0.9zM451.0 228.7h0.9v0.9h-0.9zM450.6 230.2h0.9v0.9h-0.9zM452.5 235.5h0.9v0.9h-0.9zM439.6 243.8h0.9v0.9h-0.9zM455.0 221.1h0.9v0.9h-0.9zM433.6 235.3h0.9v0.9h-0.9zM443.2 252.1h0.9v0.9h-0.9zM463.8 243.1h0.9v0.9h-0.9zM458.7 234.6h0.9v0.9h-0.9zM432.8 241.3h0.9v0.9h-0.9zM449.8 250.4h0.9v0.9h-0.9zM440.4 221.0h0.9v0.9h-0.9zM445.0 243.3h0.9v0.9h-0.9zM444.9 232.7h0.9v0.9h-0.9zM448.0 236.1h0.9v0.9h-0.9zM461.8 224.2h0.9v0.9h-0.9zM450.0 221.8h0.9v0.9h-0.9zM446.7 242.8h0.9v0.9h-0.9zM450.7 241.3h0.9v0.9h-0.9zM439.2 222.8h0.9v0.9h-0.9zM457.2 234.4h0.9v0.9h-0.9zM454.9 208.3h0.9v0.9h-0.9zM474.3 239.6h0.9v0.9h-0.9zM430.2 248.2h0.9v0.9h-0.9zM450.6 251.3h0.9v0.9h-0.9zM447.3 220.4h0.9v0.9h-0.9zM445.4 233.5h0.9v0.9h-0.9zM450.2 236.1h0.9v0.9h-0.9zM453.0 225.1h0.9v0.9h-0.9zM441.4 232.6h0.9v0.9h-0.9zM451.5 220.0h0.9v0.9h-0.9zM428.2 249.0h0.9v0.9h-0.9zM448.2 248.6h0.9v0.9h-0.9zM447.7 240.8h0.9v0.9h-0.9zM451.0 242.9h0.9v0.9h-0.9zM434.4 236.7h0.9v0.9h-0.9zM466.3 253.1h0.9v0.9h-0.9zM438.2 228.0h0.9v0.9h-0.9zM445.3 249.3h0.9v0.9h-0.9zM456.8 231.8h0.9v0.9h-0.9zM429.6 250.8h0.9v0.9h-0.9zM462.7 245.2h0.9v0.9h-0.9zM453.4 244.1h0.9v0.9h-0.9zM466.5 249.6h0.9v0.9h-0.9zM462.3 225.9h0.9v0.9h-0.9zM441.6 238.0h0.9v0.9h-0.9zM446.9 237.4h0.9v0.9h-0.9zM473.7 235.9h0.9v0.9h-0.9zM445.0 236.8h0.9v0.9h-0.9zM443.5 223.0h0.9v0.9h-0.9zM458.9 238.3h0.9v0.9h-0.9zM450.9 238.4h0.9v0.9h-0.9zM438.9 221.1h0.9v0.9h-0.9zM444.1 243.7h0.9v0.9h-0.9zM445.8 245.8h0.9v0.9h-0.9zM438.8 234.9h0.9v0.9h-0.9zM448.7 237.0h0.9v0.9h-0.9zM448.9 253.3h0.9v0.9h-0.9zM442.7 239.5h0.9v0.9h-0.9zM440.2 243.8h0.9v0.9h-0.9zM449.4 230.2h0.9v0.9h-0.9zM436.5 225.3h0.9v0.9h-0.9zM444.1 239.7h0.9v0.9h-0.9zM441.9 236.9h0.9v0.9h-0.9zM448.5 240.3h0.9v0.9h-0.9zM467.6 242.1h0.9v0.9h-0.9zM454.0 232.7h0.9v0.9h-0.9zM441.3 246.3h0.9v0.9h-0.9zM440.7 231.0h0.9v0.9h-0.9zM431.3 241.2h0.9v0.9h-0.9zM446.1 243.8h0.9v0.9h-0.9zM437.9 224.9h0.9v0.9h-0.9zM458.7 238.3h0.9v0.9h-0.9zM455.4 225.9h0.9v0.9h-0.9zM433.4 211.2h0.9v0.9h-0.9zM450.2 248.6h0.9v0.9h-0.9zM427.8 226.5h0.9v0.9h-0.9zM441.5 229.6h0.9v0.9h-0.9zM444.8 229.5h0.9v0.9h-0.9zM431.6 237.6h0.9v0.9h-0.9zM448.4 229.9h0.9v0.9h-0.9zM447.4 224.2h0.9v0.9h-0.9zM443.6 234.5h0.9v0.9h-0.9zM442.2 237.2h0.9v0.9h-0.9zM433.7 223.8h0.9v0.9h-0.9zM438.3 245.8h0.9v0.9h-0.9zM437.0 228.1h0.9v0.9h-0.9zM468.0 235.3h0.9v0.9h-0.9zM443.0 228.6h0.9v0.9h-0.9zM462.6 243.6h0.9v0.9h-0.9zM434.4 220.1h0.9v0.9h-0.9zM458.7 242.6h0.9v0.9h-0.9zM441.6 246.5h0.9v0.9h-0.9zM433.6 241.8h0.9v0.9h-0.9zM457.4 247.4h0.9v0.9h-0.9zM443.2 233.8h0.9v0.9h-0.9zM442.4 245.4h0.9v0.9h-0.9zM442.8 236.5h0.9v0.9h-0.9zM457.9 236.8h0.9v0.9h-0.9zM449.6 236.7h0.9v0.9h-0.9zM447.1 214.4h0.9v0.9h-0.9zM437.1 241.9h0.9v0.9h-0.9zM440.3 231.5h0.9v0.9h-0.9zM439.0 227.9h0.9v0.9h-0.9zM428.0 242.9h0.9v0.9h-0.9zM446.4 229.1h0.9v0.9h-0.9zM442.7 248.4h0.9v0.9h-0.9zM457.8 241.9h0.9v0.9h-0.9zM459.2 248.8h0.9v0.9h-0.9zM442.1 246.5h0.9v0.9h-0.9zM448.7 246.2h0.9v0.9h-0.9zM433.7 241.9h0.9v0.9h-0.9zM441.5 234.1h0.9v0.9h-0.9zM446.8 237.5h0.9v0.9h-0.9zM465.1 237.4h0.9v0.9h-0.9zM449.6 249.3h0.9v0.9h-0.9zM463.0 227.8h0.9v0.9h-0.9zM450.2 223.9h0.9v0.9h-0.9zM452.2 253.1h0.9v0.9h-0.9zM441.5 235.0h0.9v0.9h-0.9zM459.6 242.7h0.9v0.9h-0.9zM455.5 233.1h0.9v0.9h-0.9zM443.7 234.1h0.9v0.9h-0.9zM463.6 222.1h0.9v0.9h-0.9zM446.3 226.3h0.9v0.9h-0.9zM449.5 235.7h0.9v0.9h-0.9zM445.7 243.3h0.9v0.9h-0.9zM455.4 222.0h0.9v0.9h-0.9zM432.8 237.0h0.9v0.9h-0.9zM434.7 245.1h0.9v0.9h-0.9zM438.0 234.4h0.9v0.9h-0.9zM442.6 242.9h0.9v0.9h-0.9zM433.1 223.1h0.9v0.9h-0.9zM449.0 252.5h0.9v0.9h-0.9zM441.6 242.4h0.9v0.9h-0.9zM449.8 239.2h0.9v0.9h-0.9zM446.8 232.1h0.9v0.9h-0.9zM444.4 250.9h0.9v0.9h-0.9zM451.7 251.7h0.9v0.9h-0.9zM439.3 239.3h0.9v0.9h-0.9zM440.2 223.8h0.9v0.9h-0.9zM456.5 235.0h0.9v0.9h-0.9zM449.5 222.8h0.9v0.9h-0.9zM444.3 236.7h0.9v0.9h-0.9zM442.9 248.9h0.9v0.9h-0.9zM451.8 239.4h0.9v0.9h-0.9zM449.4 233.2h0.9v0.9h-0.9zM439.5 235.0h0.9v0.9h-0.9zM436.2 236.2h0.9v0.9h-0.9zM445.8 250.1h0.9v0.9h-0.9zM441.4 239.4h0.9v0.9h-0.9zM446.7 231.4h0.9v0.9h-0.9zM446.3 219.0h0.9v0.9h-0.9zM458.8 231.8h0.9v0.9h-0.9zM446.7 218.5h0.9v0.9h-0.9zM453.0 224.2h0.9v0.9h-0.9zM461.3 226.8h0.9v0.9h-0.9zM439.2 245.1h0.9v0.9h-0.9zM460.5 216.7h0.9v0.9h-0.9zM451.6 221.7h0.9v0.9h-0.9zM442.3 245.5h0.9v0.9h-0.9zM439.4 239.8h0.9v0.9h-0.9zM459.1 253.9h0.9v0.9h-0.9zM449.5 244.3h0.9v0.9h-0.9zM443.4 237.3h0.9v0.9h-0.9zM440.9 242.2h0.9v0.9h-0.9zM455.8 227.2h0.9v0.9h-0.9zM434.6 238.5h0.9v0.9h-0.9zM468.1 240.4h0.9v0.9h-0.9zM448.3 237.5h0.9v0.9h-0.9zM429.3 230.3h0.9v0.9h-0.9zM462.8 215.3h0.9v0.9h-0.9zM465.9 225.1h0.9v0.9h-0.9zM462.7 236.5h0.9v0.9h-0.9zM453.2 232.1h0.9v0.9h-0.9zM442.2 240.2h0.9v0.9h-0.9zM443.6 226.3h0.9v0.9h-0.9zM444.0 245.0h0.9v0.9h-0.9zM438.8 241.9h0.9v0.9h-0.9zM432.7 239.0h0.9v0.9h-0.9zM434.8 246.3h0.9v0.9h-0.9zM435.9 244.7h0.9v0.9h-0.9zM458.5 229.0h0.9v0.9h-0.9zM447.5 228.7h0.9v0.9h-0.9zM452.0 246.2h0.9v0.9h-0.9zM459.0 252.4h0.9v0.9h-0.9zM460.6 230.1h0.9v0.9h-0.9zM448.1 243.7h0.9v0.9h-0.9zM448.9 223.8h0.9v0.9h-0.9zM447.5 209.8h0.9v0.9h-0.9zM466.2 236.0h0.9v0.9h-0.9zM470.8 226.6h0.9v0.9h-0.9zM452.5 246.6h0.9v0.9h-0.9zM431.7 234.4h0.9v0.9h-0.9zM452.1 245.1h0.9v0.9h-0.9zM451.0 209.6h0.9v0.9h-0.9zM463.7 221.3h0.9v0.9h-0.9zM451.0 248.1h0.9v0.9h-0.9zM436.6 220.8h0.9v0.9h-0.9zM449.7 233.2h0.9v0.9h-0.9zM445.9 235.8h0.9v0.9h-0.9zM445.7 241.3h0.9v0.9h-0.9zM441.3 237.6h0.9v0.9h-0.9zM440.9 228.5h0.9v0.9h-0.9zM450.6 228.9h0.9v0.9h-0.9zM452.5 237.7h0.9v0.9h-0.9zM458.3 244.4h0.9v0.9h-0.9zM453.8 239.2h0.9v0.9h-0.9zM447.3 249.7h0.9v0.9h-0.9zM454.0 223.4h0.9v0.9h-0.9zM447.9 248.9h0.9v0.9h-0.9zM448.5 224.1h0.9v0.9h-0.9zM455.1 244.5h0.9v0.9h-0.9zM459.0 239.8h0.9v0.9h-0.9zM448.1 247.3h0.9v0.9h-0.9zM451.1 240.4h0.9v0.9h-0.9zM454.9 246.6h0.9v0.9h-0.9zM445.7 229.4h0.9v0.9h-0.9zM456.4 248.2h0.9v0.9h-0.9zM450.9 231.2h0.9v0.9h-0.9zM448.0 227.6h0.9v0.9h-0.9zM473.5 230.8h0.9v0.9h-0.9zM437.8 232.1h0.9v0.9h-0.9zM432.9 239.7h0.9v0.9h-0.9zM444.5 238.1h0.9v0.9h-0.9zM447.3 232.8h0.9v0.9h-0.9zM448.1 237.2h0.9v0.9h-0.9zM439.3 234.5h0.9v0.9h-0.9zM440.9 223.9h0.9v0.9h-0.9zM446.6 217.6h0.9v0.9h-0.9zM452.5 237.6h0.9v0.9h-0.9zM448.6 250.6h0.9v0.9h-0.9zM456.9 233.2h0.9v0.9h-0.9zM450.5 250.9h0.9v0.9h-0.9zM445.2 242.1h0.9v0.9h-0.9zM451.3 226.7h0.9v0.9h-0.9zM449.8 233.7h0.9v0.9h-0.9zM444.1 242.7h0.9v0.9h-0.9zM453.8 228.1h0.9v0.9h-0.9zM444.2 235.8h0.9v0.9h-0.9zM436.9 242.0h0.9v0.9h-0.9zM444.7 230.3h0.9v0.9h-0.9zM456.8 237.0h0.9v0.9h-0.9zM434.6 236.9h0.9v0.9h-0.9zM444.9 241.1h0.9v0.9h-0.9zM470.6 243.9h0.9v0.9h-0.9zM462.1 236.1h0.9v0.9h-0.9zM451.8 243.4h0.9v0.9h-0.9zM445.8 240.6h0.9v0.9h-0.9zM442.1 245.5h0.9v0.9h-0.9zM445.5 241.9h0.9v0.9h-0.9zM448.4 220.3h0.9v0.9h-0.9zM451.3 228.3h0.9v0.9h-0.9zM449.0 233.4h0.9v0.9h-0.9zM444.0 221.4h0.9v0.9h-0.9zM433.1 231.9h0.9v0.9h-0.9zM435.6 240.6h0.9v0.9h-0.9zM432.1 240.3h0.9v0.9h-0.9zM452.7 229.8h0.9v0.9h-0.9zM436.8 234.2h0.9v0.9h-0.9zM455.2 253.1h0.9v0.9h-0.9zM469.6 238.9h0.9v0.9h-0.9zM453.4 240.0h0.9v0.9h-0.9zM446.6 226.3h0.9v0.9h-0.9zM443.1 250.1h0.9v0.9h-0.9zM461.4 231.4h0.9v0.9h-0.9zM447.2 242.9h0.9v0.9h-0.9zM445.0 218.3h0.9v0.9h-0.9zM450.2 227.4h0.9v0.9h-0.9zM443.9 231.1h0.9v0.9h-0.9zM462.7 216.6h0.9v0.9h-0.9zM430.6 232.4h0.9v0.9h-0.9zM439.8 246.4h0.9v0.9h-0.9zM463.3 230.0h0.9v0.9h-0.9zM452.9 235.7h0.9v0.9h-0.9zM465.2 229.0h0.9v0.9h-0.9zM453.5 232.3h0.9v0.9h-0.9zM445.8 232.9h0.9v0.9h-0.9zM445.4 238.4h0.9v0.9h-0.9zM440.4 241.0h0.9v0.9h-0.9zM433.2 246.8h0.9v0.9h-0.9zM436.8 217.7h0.9v0.9h-0.9zM455.6 234.2h0.9v0.9h-0.9zM441.2 247.9h0.9v0.9h-0.9zM451.3 222.4h0.9v0.9h-0.9zM441.5 230.6h0.9v0.9h-0.9zM451.6 243.9h0.9v0.9h-0.9zM448.6 213.8h0.9v0.9h-0.9zM441.3 237.6h0.9v0.9h-0.9zM439.4 235.7h0.9v0.9h-0.9zM437.7 225.6h0.9v0.9h-0.9zM459.6 216.7h0.9v0.9h-0.9zM457.7 225.5h0.9v0.9h-0.9zM444.2 216.0h0.9v0.9h-0.9zM453.7 227.0h0.9v0.9h-0.9zM473.1 227.8h0.9v0.9h-0.9zM449.5 245.2h0.9v0.9h-0.9zM436.6 228.9h0.9v0.9h-0.9zM435.6 244.0h0.9v0.9h-0.9zM450.0 249.0h0.9v0.9h-0.9zM431.7 227.8h0.9v0.9h-0.9zM445.6 233.1h0.9v0.9h-0.9zM450.2 250.2h0.9v0.9h-0.9zM448.3 229.2h0.9v0.9h-0.9zM446.4 230.1h0.9v0.9h-0.9zM444.6 237.2h0.9v0.9h-0.9zM433.5 240.6h0.9v0.9h-0.9zM454.5 245.5h0.9v0.9h-0.9zM434.6 239.1h0.9v0.9h-0.9zM456.6 232.8h0.9v0.9h-0.9zM454.3 232.5h0.9v0.9h-0.9zM446.8 231.6h0.9v0.9h-0.9zM431.2 228.8h0.9v0.9h-0.9zM448.7 234.8h0.9v0.9h-0.9zM446.8 231.6h0.9v0.9h-0.9zM456.2 236.0h0.9v0.9h-0.9zM451.0 232.8h0.9v0.9h-0.9zM460.6 236.8h0.9v0.9h-0.9zM451.4 220.9h0.9v0.9h-0.9zM439.8 241.5h0.9v0.9h-0.9zM433.0 221.9h0.9v0.9h-0.9zM445.6 220.7h0.9v0.9h-0.9zM458.3 242.7h0.9v0.9h-0.9zM443.6 251.1h0.9v0.9h-0.9zM439.7 225.0h0.9v0.9h-0.9zM456.4 238.2h0.9v0.9h-0.9zM444.5 249.2h0.9v0.9h-0.9zM445.4 245.0h0.9v0.9h-0.9zM449.2 250.6h0.9v0.9h-0.9zM452.7 232.8h0.9v0.9h-0.9zM462.8 234.1h0.9v0.9h-0.9zM465.2 224.1h0.9v0.9h-0.9zM447.5 213.6h0.9v0.9h-0.9zM452.4 252.6h0.9v0.9h-0.9zM442.7 243.1h0.9v0.9h-0.9zM444.5 253.7h0.9v0.9h-0.9zM450.4 241.8h0.9v0.9h-0.9zM458.5 221.4h0.9v0.9h-0.9zM454.2 239.4h0.9v0.9h-0.9zM460.6 238.3h0.9v0.9h-0.9zM453.3 237.4h0.9v0.9h-0.9zM436.5 232.5h0.9v0.9h-0.9zM445.0 223.5h0.9v0.9h-0.9zM446.4 232.8h0.9v0.9h-0.9zM466.1 235.3h0.9v0.9h-0.9zM448.2 239.0h0.9v0.9h-0.9zM454.2 220.4h0.9v0.9h-0.9zM438.1 228.3h0.9v0.9h-0.9zM459.2 241.2h0.9v0.9h-0.9zM438.4 246.1h0.9v0.9h-0.9zM443.6 241.6h0.9v0.9h-0.9zM436.8 236.9h0.9v0.9h-0.9zM469.5 215.7h0.9v0.9h-0.9zM441.8 241.0h0.9v0.9h-0.9zM444.7 242.8h0.9v0.9h-0.9zM459.1 225.6h0.9v0.9h-0.9zM440.1 252.3h0.9v0.9h-0.9zM467.5 208.8h0.9v0.9h-0.9zM452.6 248.8h0.9v0.9h-0.9zM439.8 228.5h0.9v0.9h-0.9zM435.0 235.8h0.9v0.9h-0.9zM434.9 245.7h0.9v0.9h-0.9zM439.7 243.6h0.9v0.9h-0.9zM430.4 247.6h0.9v0.9h-0.9zM454.0 248.3h0.9v0.9h-0.9zM457.2 238.5h0.9v0.9h-0.9zM463.9 234.1h0.9v0.9h-0.9zM442.1 237.9h0.9v0.9h-0.9zM449.6 240.0h0.9v0.9h-0.9zM444.5 249.0h0.9v0.9h-0.9zM469.7 233.8h0.9v0.9h-0.9zM431.5 232.9h0.9v0.9h-0.9zM432.4 224.1h0.9v0.9h-0.9zM436.1 249.6h0.9v0.9h-0.9zM448.6 245.7h0.9v0.9h-0.9zM445.8 249.1h0.9v0.9h-0.9zM442.7 252.2h0.9v0.9h-0.9zM456.3 240.4h0.9v0.9h-0.9zM431.5 226.0h0.9v0.9h-0.9zM449.7 226.6h0.9v0.9h-0.9zM445.2 236.2h0.9v0.9h-0.9zM461.5 230.6h0.9v0.9h-0.9zM448.4 233.0h0.9v0.9h-0.9zM439.1 242.8h0.9v0.9h-0.9zM457.2 222.5h0.9v0.9h-0.9zM448.6 243.7h0.9v0.9h-0.9zM436.0 233.6h0.9v0.9h-0.9zM450.2 237.0h0.9v0.9h-0.9zM461.5 228.4h0.9v0.9h-0.9zM444.4 243.7h0.9v0.9h-0.9zM446.2 235.3h0.9v0.9h-0.9zM445.8 242.4h0.9v0.9h-0.9zM454.9 226.5h0.9v0.9h-0.9zM437.5 225.7h0.9v0.9h-0.9zM451.6 217.8h0.9v0.9h-0.9zM472.8 232.0h0.9v0.9h-0.9zM447.0 243.4h0.9v0.9h-0.9zM445.0 235.2h0.9v0.9h-0.9zM468.7 216.6h0.9v0.9h-0.9zM449.7 230.0h0.9v0.9h-0.9zM443.4 237.3h0.9v0.9h-0.9zM427.7 244.8h0.9v0.9h-0.9zM449.1 244.1h0.9v0.9h-0.9zM440.7 246.1h0.9v0.9h-0.9zM442.1 246.4h0.9v0.9h-0.9zM461.2 244.8h0.9v0.9h-0.9zM431.9 238.8h0.9v0.9h-0.9zM449.1 224.2h0.9v0.9h-0.9zM431.0 252.4h0.9v0.9h-0.9zM436.5 242.5h0.9v0.9h-0.9zM443.6 236.4h0.9v0.9h-0.9zM442.4 238.1h0.9v0.9h-0.9zM464.0 228.5h0.9v0.9h-0.9zM452.5 243.3h0.9v0.9h-0.9zM440.0 226.1h0.9v0.9h-0.9zM437.7 244.3h0.9v0.9h-0.9zM448.7 249.2h0.9v0.9h-0.9zM450.9 239.3h0.9v0.9h-0.9zM447.2 240.5h0.9v0.9h-0.9zM447.5 245.3h0.9v0.9h-0.9zM438.0 249.7h0.9v0.9h-0.9zM464.2 237.1h0.9v0.9h-0.9zM453.0 225.3h0.9v0.9h-0.9zM448.1 222.5h0.9v0.9h-0.9zM457.5 238.6h0.9v0.9h-0.9zM458.4 250.3h0.9v0.9h-0.9zM439.3 246.9h0.9v0.9h-0.9zM446.0 243.9h0.9v0.9h-0.9zM440.3 244.9h0.9v0.9h-0.9zM453.4 253.7h0.9v0.9h-0.9zM445.5 238.7h0.9v0.9h-0.9zM452.3 236.2h0.9v0.9h-0.9zM468.8 214.1h0.9v0.9h-0.9zM429.0 232.6h0.9v0.9h-0.9zM454.4 238.3h0.9v0.9h-0.9zM451.5 221.7h0.9v0.9h-0.9zM453.3 243.9h0.9v0.9h-0.9zM464.3 247.0h0.9v0.9h-0.9zM440.6 230.1h0.9v0.9h-0.9zM435.1 232.8h0.9v0.9h-0.9zM446.0 251.6h0.9v0.9h-0.9zM464.5 238.9h0.9v0.9h-0.9zM453.4 236.3h0.9v0.9h-0.9zM433.4 243.8h0.9v0.9h-0.9zM439.4 220.7h0.9v0.9h-0.9zM434.9 252.8h0.9v0.9h-0.9zM432.7 237.3h0.9v0.9h-0.9zM452.4 233.8h0.9v0.9h-0.9zM436.9 238.1h0.9v0.9h-0.9zM464.7 245.2h0.9v0.9h-0.9zM449.2 244.2h0.9v0.9h-0.9zM459.6 252.4h0.9v0.9h-0.9zM444.2 228.6h0.9v0.9h-0.9zM436.7 238.7h0.9v0.9h-0.9zM443.9 238.1h0.9v0.9h-0.9zM439.7 253.5h0.9v0.9h-0.9zM438.0 229.6h0.9v0.9h-0.9zM434.7 226.3h0.9v0.9h-0.9zM429.8 229.2h0.9v0.9h-0.9zM444.5 245.6h0.9v0.9h-0.9zM428.2 242.8h0.9v0.9h-0.9zM445.8 238.0h0.9v0.9h-0.9zM454.1 250.4h0.9v0.9h-0.9zM444.0 251.4h0.9v0.9h-0.9zM447.8 228.2h0.9v0.9h-0.9zM452.6 248.6h0.9v0.9h-0.9zM449.5 237.7h0.9v0.9h-0.9zM444.4 245.3h0.9v0.9h-0.9zM428.0 241.3h0.9v0.9h-0.9zM433.4 232.5h0.9v0.9h-0.9zM449.2 251.4h0.9v0.9h-0.9zM446.9 228.1h0.9v0.9h-0.9zM475.9 241.5h0.9v0.9h-0.9zM439.3 231.6h0.9v0.9h-0.9zM448.1 223.6h0.9v0.9h-0.9zM456.3 239.1h0.9v0.9h-0.9zM442.7 240.3h0.9v0.9h-0.9zM434.8 240.2h0.9v0.9h-0.9zM450.8 250.9h0.9v0.9h-0.9zM468.3 231.3h0.9v0.9h-0.9zM451.1 229.6h0.9v0.9h-0.9zM448.4 250.5h0.9v0.9h-0.9zM453.9 234.9h0.9v0.9h-0.9zM466.2 247.7h0.9v0.9h-0.9zM460.1 239.0h0.9v0.9h-0.9zM461.3 236.5h0.9v0.9h-0.9zM456.3 238.5h0.9v0.9h-0.9zM447.0 221.4h0.9v0.9h-0.9zM457.5 244.3h0.9v0.9h-0.9zM440.5 238.8h0.9v0.9h-0.9zM453.5 244.9h0.9v0.9h-0.9zM459.2 239.6h0.9v0.9h-0.9zM449.3 241.1h0.9v0.9h-0.9zM439.9 232.4h0.9v0.9h-0.9zM444.6 221.0h0.9v0.9h-0.9zM458.1 225.4h0.9v0.9h-0.9zM463.2 248.3h0.9v0.9h-0.9zM468.6 231.7h0.9v0.9h-0.9zM443.9 233.2h0.9v0.9h-0.9zM455.6 228.4h0.9v0.9h-0.9zM443.6 213.1h0.9v0.9h-0.9zM447.6 240.3h0.9v0.9h-0.9zM468.3 229.1h0.9v0.9h-0.9zM457.4 244.2h0.9v0.9h-0.9zM456.5 226.2h0.9v0.9h-0.9zM457.4 239.9h0.9v0.9h-0.9zM439.6 233.7h0.9v0.9h-0.9zM463.5 220.1h0.9v0.9h-0.9zM455.0 237.7h0.9v0.9h-0.9zM441.0 218.2h0.9v0.9h-0.9zM452.7 231.5h0.9v0.9h-0.9zM443.0 241.6h0.9v0.9h-0.9zM445.8 250.3h0.9v0.9h-0.9zM436.4 220.9h0.9v0.9h-0.9zM456.6 234.3h0.9v0.9h-0.9zM432.6 249.7h0.9v0.9h-0.9zM452.6 219.4h0.9v0.9h-0.9zM448.3 223.3h0.9v0.9h-0.9zM438.0 253.2h0.9v0.9h-0.9zM463.4 245.6h0.9v0.9h-0.9zM430.8 247.1h0.9v0.9h-0.9zM438.2 232.6h0.9v0.9h-0.9zM441.7 249.9h0.9v0.9h-0.9zM452.6 244.4h0.9v0.9h-0.9zM442.3 232.5h0.9v0.9h-0.9z" fill="#000" fill-opacity="0.42"/>
<path d="M466.6 222.6h0.9v0.9h-0.9zM455.9 233.1h0.9v0.9h-0.9zM456.7 236.9h0.9v0.9h-0.9zM462.5 233.8h0.9v0.9h-0.9zM476.3 223.2h0.9v0.9h-0.9zM474.6 216.5h0.9v0.9h-0.9zM451.9 205.7h0.9v0.9h-0.9zM452.8 220.9h0.9v0.9h-0.9zM463.7 239.4h0.9v0.9h-0.9zM476.4 223.3h0.9v0.9h-0.9zM466.5 226.4h0.9v0.9h-0.9zM455.3 210.6h0.9v0.9h-0.9zM465.0 219.6h0.9v0.9h-0.9zM463.2 222.0h0.9v0.9h-0.9zM461.9 219.5h0.9v0.9h-0.9zM461.2 244.5h0.9v0.9h-0.9zM461.0 215.7h0.9v0.9h-0.9zM451.9 229.3h0.9v0.9h-0.9zM464.5 216.9h0.9v0.9h-0.9zM450.8 213.4h0.9v0.9h-0.9zM472.0 230.7h0.9v0.9h-0.9zM460.7 224.1h0.9v0.9h-0.9zM473.3 233.3h0.9v0.9h-0.9zM457.3 239.1h0.9v0.9h-0.9zM462.7 225.5h0.9v0.9h-0.9zM455.2 228.1h0.9v0.9h-0.9zM469.1 215.2h0.9v0.9h-0.9zM444.9 234.2h0.9v0.9h-0.9zM466.5 241.3h0.9v0.9h-0.9zM462.7 214.4h0.9v0.9h-0.9zM464.6 229.6h0.9v0.9h-0.9zM450.1 213.5h0.9v0.9h-0.9zM445.8 228.7h0.9v0.9h-0.9zM447.8 231.3h0.9v0.9h-0.9zM456.8 233.9h0.9v0.9h-0.9zM465.0 219.7h0.9v0.9h-0.9zM455.1 234.8h0.9v0.9h-0.9zM453.0 237.3h0.9v0.9h-0.9zM462.8 236.2h0.9v0.9h-0.9zM453.3 235.2h0.9v0.9h-0.9zM456.4 230.0h0.9v0.9h-0.9zM463.1 222.9h0.9v0.9h-0.9zM457.7 206.3h0.9v0.9h-0.9zM452.6 233.7h0.9v0.9h-0.9zM449.5 208.7h0.9v0.9h-0.9zM446.7 225.3h0.9v0.9h-0.9zM463.4 232.9h0.9v0.9h-0.9zM446.8 231.7h0.9v0.9h-0.9zM448.4 238.0h0.9v0.9h-0.9zM461.2 222.2h0.9v0.9h-0.9zM454.4 227.3h0.9v0.9h-0.9zM453.5 238.7h0.9v0.9h-0.9zM460.5 222.8h0.9v0.9h-0.9zM461.7 215.4h0.9v0.9h-0.9zM459.3 225.0h0.9v0.9h-0.9zM453.6 227.5h0.9v0.9h-0.9zM459.9 214.6h0.9v0.9h-0.9zM464.3 222.6h0.9v0.9h-0.9zM460.9 243.2h0.9v0.9h-0.9zM449.6 243.2h0.9v0.9h-0.9zM455.3 245.4h0.9v0.9h-0.9zM451.6 237.6h0.9v0.9h-0.9zM453.6 239.5h0.9v0.9h-0.9zM465.1 231.1h0.9v0.9h-0.9zM451.5 237.6h0.9v0.9h-0.9zM461.0 218.1h0.9v0.9h-0.9zM462.4 226.5h0.9v0.9h-0.9zM457.1 219.0h0.9v0.9h-0.9zM459.7 235.9h0.9v0.9h-0.9zM451.5 235.4h0.9v0.9h-0.9zM443.9 229.0h0.9v0.9h-0.9zM460.1 219.2h0.9v0.9h-0.9zM459.3 216.0h0.9v0.9h-0.9zM472.7 231.6h0.9v0.9h-0.9zM466.5 219.5h0.9v0.9h-0.9zM440.5 227.2h0.9v0.9h-0.9zM468.5 226.5h0.9v0.9h-0.9zM467.1 231.7h0.9v0.9h-0.9zM460.6 237.7h0.9v0.9h-0.9zM453.5 224.2h0.9v0.9h-0.9zM466.6 232.2h0.9v0.9h-0.9zM453.9 218.1h0.9v0.9h-0.9zM465.1 226.6h0.9v0.9h-0.9zM448.0 231.7h0.9v0.9h-0.9zM461.7 248.9h0.9v0.9h-0.9zM450.9 235.0h0.9v0.9h-0.9zM454.3 227.5h0.9v0.9h-0.9zM457.4 241.1h0.9v0.9h-0.9zM460.6 226.5h0.9v0.9h-0.9zM453.1 237.2h0.9v0.9h-0.9zM452.7 231.8h0.9v0.9h-0.9zM461.3 234.8h0.9v0.9h-0.9zM464.1 230.6h0.9v0.9h-0.9zM473.2 235.2h0.9v0.9h-0.9zM452.3 219.7h0.9v0.9h-0.9zM452.7 240.2h0.9v0.9h-0.9zM449.7 242.4h0.9v0.9h-0.9zM461.3 222.6h0.9v0.9h-0.9zM450.4 227.1h0.9v0.9h-0.9zM463.8 227.3h0.9v0.9h-0.9zM463.5 229.5h0.9v0.9h-0.9zM468.4 223.5h0.9v0.9h-0.9zM457.0 217.6h0.9v0.9h-0.9zM455.6 218.9h0.9v0.9h-0.9zM446.5 225.9h0.9v0.9h-0.9zM463.2 207.4h0.9v0.9h-0.9zM448.4 215.2h0.9v0.9h-0.9zM460.8 233.2h0.9v0.9h-0.9zM460.5 226.3h0.9v0.9h-0.9zM452.2 229.7h0.9v0.9h-0.9zM451.5 225.9h0.9v0.9h-0.9zM461.1 225.7h0.9v0.9h-0.9zM467.1 208.0h0.9v0.9h-0.9zM446.0 237.1h0.9v0.9h-0.9zM453.8 223.7h0.9v0.9h-0.9zM453.9 227.4h0.9v0.9h-0.9zM456.9 231.3h0.9v0.9h-0.9zM465.0 245.0h0.9v0.9h-0.9zM442.0 227.0h0.9v0.9h-0.9zM451.4 229.9h0.9v0.9h-0.9zM450.4 228.6h0.9v0.9h-0.9zM460.1 227.6h0.9v0.9h-0.9zM459.8 234.0h0.9v0.9h-0.9zM450.1 227.5h0.9v0.9h-0.9zM466.0 236.5h0.9v0.9h-0.9zM465.4 220.4h0.9v0.9h-0.9zM453.0 237.0h0.9v0.9h-0.9zM458.1 230.7h0.9v0.9h-0.9zM455.4 236.3h0.9v0.9h-0.9zM459.3 218.9h0.9v0.9h-0.9zM460.8 224.8h0.9v0.9h-0.9zM456.1 233.2h0.9v0.9h-0.9zM459.1 222.7h0.9v0.9h-0.9zM449.2 223.9h0.9v0.9h-0.9zM457.0 217.1h0.9v0.9h-0.9zM453.4 249.3h0.9v0.9h-0.9zM453.2 228.6h0.9v0.9h-0.9zM448.8 225.0h0.9v0.9h-0.9zM459.9 229.5h0.9v0.9h-0.9zM445.3 228.3h0.9v0.9h-0.9zM450.7 238.0h0.9v0.9h-0.9zM457.3 242.5h0.9v0.9h-0.9zM460.8 217.3h0.9v0.9h-0.9zM465.2 223.5h0.9v0.9h-0.9zM457.2 228.9h0.9v0.9h-0.9zM448.3 238.7h0.9v0.9h-0.9zM459.2 218.5h0.9v0.9h-0.9zM447.7 232.2h0.9v0.9h-0.9zM467.2 231.7h0.9v0.9h-0.9zM460.4 224.2h0.9v0.9h-0.9zM466.3 233.0h0.9v0.9h-0.9zM452.0 222.4h0.9v0.9h-0.9zM441.8 238.5h0.9v0.9h-0.9zM461.3 235.0h0.9v0.9h-0.9zM456.4 247.6h0.9v0.9h-0.9zM450.4 220.3h0.9v0.9h-0.9zM470.2 236.3h0.9v0.9h-0.9zM463.7 227.0h0.9v0.9h-0.9zM457.7 229.3h0.9v0.9h-0.9zM461.2 222.5h0.9v0.9h-0.9zM465.8 243.9h0.9v0.9h-0.9zM454.1 219.3h0.9v0.9h-0.9zM459.0 250.5h0.9v0.9h-0.9zM450.8 240.3h0.9v0.9h-0.9zM453.0 221.1h0.9v0.9h-0.9zM466.2 226.5h0.9v0.9h-0.9zM457.7 234.4h0.9v0.9h-0.9zM466.5 230.2h0.9v0.9h-0.9zM469.7 221.9h0.9v0.9h-0.9zM454.1 234.3h0.9v0.9h-0.9zM462.9 212.2h0.9v0.9h-0.9zM455.7 234.3h0.9v0.9h-0.9zM456.8 244.4h0.9v0.9h-0.9zM446.1 229.9h0.9v0.9h-0.9zM451.7 213.5h0.9v0.9h-0.9zM456.3 227.5h0.9v0.9h-0.9zM454.9 222.3h0.9v0.9h-0.9zM464.5 218.6h0.9v0.9h-0.9zM453.4 215.3h0.9v0.9h-0.9zM466.8 214.7h0.9v0.9h-0.9zM471.0 219.7h0.9v0.9h-0.9zM457.7 242.9h0.9v0.9h-0.9zM450.0 240.1h0.9v0.9h-0.9zM448.2 223.9h0.9v0.9h-0.9zM462.2 231.2h0.9v0.9h-0.9zM460.5 231.0h0.9v0.9h-0.9zM469.8 213.4h0.9v0.9h-0.9zM452.8 236.0h0.9v0.9h-0.9zM447.0 221.8h0.9v0.9h-0.9zM476.4 240.3h0.9v0.9h-0.9zM461.9 228.8h0.9v0.9h-0.9zM456.8 220.1h0.9v0.9h-0.9zM451.4 219.2h0.9v0.9h-0.9zM448.4 229.3h0.9v0.9h-0.9zM461.2 219.6h0.9v0.9h-0.9zM459.0 216.1h0.9v0.9h-0.9zM460.8 225.2h0.9v0.9h-0.9zM457.5 229.9h0.9v0.9h-0.9zM467.8 230.0h0.9v0.9h-0.9zM453.1 229.6h0.9v0.9h-0.9zM461.0 233.0h0.9v0.9h-0.9zM465.9 220.7h0.9v0.9h-0.9zM449.0 233.8h0.9v0.9h-0.9zM449.5 232.3h0.9v0.9h-0.9zM446.9 220.7h0.9v0.9h-0.9zM461.0 225.6h0.9v0.9h-0.9zM463.3 230.4h0.9v0.9h-0.9zM460.5 233.2h0.9v0.9h-0.9zM446.2 238.6h0.9v0.9h-0.9zM447.3 220.1h0.9v0.9h-0.9zM461.1 224.7h0.9v0.9h-0.9zM449.0 208.3h0.9v0.9h-0.9zM462.3 217.7h0.9v0.9h-0.9zM455.2 230.4h0.9v0.9h-0.9zM457.5 231.9h0.9v0.9h-0.9zM470.6 234.6h0.9v0.9h-0.9zM450.4 227.8h0.9v0.9h-0.9zM456.3 220.4h0.9v0.9h-0.9zM463.0 224.7h0.9v0.9h-0.9zM459.8 234.0h0.9v0.9h-0.9zM473.9 222.6h0.9v0.9h-0.9zM463.5 247.8h0.9v0.9h-0.9zM470.1 230.9h0.9v0.9h-0.9zM452.5 229.7h0.9v0.9h-0.9zM453.3 224.4h0.9v0.9h-0.9zM444.9 225.6h0.9v0.9h-0.9zM442.8 237.2h0.9v0.9h-0.9zM462.0 224.5h0.9v0.9h-0.9zM458.3 229.3h0.9v0.9h-0.9zM456.1 230.8h0.9v0.9h-0.9zM456.7 232.3h0.9v0.9h-0.9zM451.9 228.8h0.9v0.9h-0.9zM470.8 220.8h0.9v0.9h-0.9zM451.9 236.8h0.9v0.9h-0.9zM460.5 229.6h0.9v0.9h-0.9zM459.4 224.5h0.9v0.9h-0.9zM454.0 232.9h0.9v0.9h-0.9zM459.4 234.1h0.9v0.9h-0.9zM461.5 248.6h0.9v0.9h-0.9zM458.7 241.0h0.9v0.9h-0.9zM459.2 248.8h0.9v0.9h-0.9zM465.5 221.4h0.9v0.9h-0.9zM470.1 223.1h0.9v0.9h-0.9zM465.8 221.4h0.9v0.9h-0.9zM460.8 229.7h0.9v0.9h-0.9zM468.9 208.7h0.9v0.9h-0.9zM443.4 237.2h0.9v0.9h-0.9zM463.8 223.7h0.9v0.9h-0.9zM458.8 212.4h0.9v0.9h-0.9zM455.2 222.3h0.9v0.9h-0.9zM464.8 230.6h0.9v0.9h-0.9zM456.9 238.9h0.9v0.9h-0.9zM453.1 235.3h0.9v0.9h-0.9zM456.3 232.5h0.9v0.9h-0.9zM455.8 241.1h0.9v0.9h-0.9zM454.7 246.7h0.9v0.9h-0.9zM464.1 220.8h0.9v0.9h-0.9zM454.7 240.6h0.9v0.9h-0.9zM469.3 217.3h0.9v0.9h-0.9zM459.3 234.0h0.9v0.9h-0.9zM476.2 234.5h0.9v0.9h-0.9zM456.5 236.8h0.9v0.9h-0.9zM458.7 220.6h0.9v0.9h-0.9zM457.7 226.4h0.9v0.9h-0.9zM456.4 229.2h0.9v0.9h-0.9zM460.8 221.3h0.9v0.9h-0.9zM463.2 214.1h0.9v0.9h-0.9zM463.2 232.9h0.9v0.9h-0.9zM461.3 214.9h0.9v0.9h-0.9zM454.3 230.3h0.9v0.9h-0.9zM461.6 235.3h0.9v0.9h-0.9zM446.4 228.7h0.9v0.9h-0.9zM466.3 217.9h0.9v0.9h-0.9zM448.8 224.2h0.9v0.9h-0.9zM456.0 226.1h0.9v0.9h-0.9zM467.7 231.0h0.9v0.9h-0.9zM443.5 235.7h0.9v0.9h-0.9zM458.8 236.3h0.9v0.9h-0.9zM457.9 241.1h0.9v0.9h-0.9zM459.2 224.1h0.9v0.9h-0.9zM448.9 236.9h0.9v0.9h-0.9zM457.0 212.6h0.9v0.9h-0.9zM464.5 240.4h0.9v0.9h-0.9zM442.1 233.7h0.9v0.9h-0.9zM463.1 244.2h0.9v0.9h-0.9zM467.5 221.8h0.9v0.9h-0.9zM461.6 235.3h0.9v0.9h-0.9zM446.8 241.7h0.9v0.9h-0.9zM461.9 236.2h0.9v0.9h-0.9zM451.3 236.1h0.9v0.9h-0.9zM457.7 225.8h0.9v0.9h-0.9zM458.3 231.7h0.9v0.9h-0.9zM446.5 228.6h0.9v0.9h-0.9zM460.9 213.9h0.9v0.9h-0.9zM471.1 252.0h0.9v0.9h-0.9zM463.2 228.6h0.9v0.9h-0.9zM450.1 218.5h0.9v0.9h-0.9zM448.7 236.7h0.9v0.9h-0.9zM451.4 230.3h0.9v0.9h-0.9zM454.7 236.8h0.9v0.9h-0.9zM467.8 237.0h0.9v0.9h-0.9zM463.2 238.3h0.9v0.9h-0.9zM471.2 220.7h0.9v0.9h-0.9zM460.1 222.7h0.9v0.9h-0.9zM458.4 226.6h0.9v0.9h-0.9zM459.0 235.1h0.9v0.9h-0.9zM448.1 205.0h0.9v0.9h-0.9zM460.2 238.3h0.9v0.9h-0.9zM455.0 242.1h0.9v0.9h-0.9zM475.4 229.3h0.9v0.9h-0.9zM456.4 233.4h0.9v0.9h-0.9zM463.9 215.1h0.9v0.9h-0.9zM461.9 210.0h0.9v0.9h-0.9zM449.9 230.7h0.9v0.9h-0.9zM460.5 217.9h0.9v0.9h-0.9zM458.4 240.4h0.9v0.9h-0.9zM445.5 233.8h0.9v0.9h-0.9zM467.8 216.5h0.9v0.9h-0.9zM467.2 232.8h0.9v0.9h-0.9zM455.7 228.9h0.9v0.9h-0.9zM457.8 229.0h0.9v0.9h-0.9zM456.5 222.0h0.9v0.9h-0.9zM465.0 244.2h0.9v0.9h-0.9zM456.6 241.6h0.9v0.9h-0.9zM452.1 217.1h0.9v0.9h-0.9zM462.9 230.9h0.9v0.9h-0.9zM461.5 220.0h0.9v0.9h-0.9zM455.0 238.0h0.9v0.9h-0.9zM470.3 231.1h0.9v0.9h-0.9zM453.1 240.6h0.9v0.9h-0.9zM472.7 221.2h0.9v0.9h-0.9zM448.1 224.9h0.9v0.9h-0.9zM453.4 225.4h0.9v0.9h-0.9zM450.6 234.7h0.9v0.9h-0.9zM460.3 216.8h0.9v0.9h-0.9zM445.9 247.7h0.9v0.9h-0.9zM462.4 230.7h0.9v0.9h-0.9zM445.0 248.4h0.9v0.9h-0.9zM450.1 229.9h0.9v0.9h-0.9zM460.6 222.1h0.9v0.9h-0.9zM459.0 224.6h0.9v0.9h-0.9zM442.2 216.1h0.9v0.9h-0.9zM453.2 223.9h0.9v0.9h-0.9zM461.3 243.8h0.9v0.9h-0.9zM456.2 248.7h0.9v0.9h-0.9zM454.7 229.8h0.9v0.9h-0.9zM456.3 213.4h0.9v0.9h-0.9zM457.5 226.9h0.9v0.9h-0.9zM451.6 235.6h0.9v0.9h-0.9zM461.1 226.0h0.9v0.9h-0.9zM451.3 231.5h0.9v0.9h-0.9zM451.8 221.0h0.9v0.9h-0.9zM454.2 237.4h0.9v0.9h-0.9zM455.8 227.3h0.9v0.9h-0.9zM455.4 234.2h0.9v0.9h-0.9zM456.7 236.3h0.9v0.9h-0.9zM456.8 236.5h0.9v0.9h-0.9zM455.7 222.0h0.9v0.9h-0.9zM461.1 226.9h0.9v0.9h-0.9zM454.4 241.9h0.9v0.9h-0.9zM454.1 221.7h0.9v0.9h-0.9zM455.3 241.9h0.9v0.9h-0.9zM447.7 239.4h0.9v0.9h-0.9zM461.8 225.2h0.9v0.9h-0.9zM455.3 222.2h0.9v0.9h-0.9zM442.4 220.3h0.9v0.9h-0.9zM447.2 214.2h0.9v0.9h-0.9zM454.5 234.2h0.9v0.9h-0.9zM450.7 225.8h0.9v0.9h-0.9zM452.0 227.0h0.9v0.9h-0.9zM460.9 239.9h0.9v0.9h-0.9zM462.4 232.2h0.9v0.9h-0.9zM468.3 235.4h0.9v0.9h-0.9zM461.5 234.0h0.9v0.9h-0.9zM464.0 219.4h0.9v0.9h-0.9zM451.0 229.7h0.9v0.9h-0.9zM444.2 226.4h0.9v0.9h-0.9zM455.2 231.8h0.9v0.9h-0.9zM463.0 240.8h0.9v0.9h-0.9zM460.3 242.0h0.9v0.9h-0.9zM453.0 232.7h0.9v0.9h-0.9zM456.6 220.3h0.9v0.9h-0.9zM459.6 237.7h0.9v0.9h-0.9zM455.0 229.7h0.9v0.9h-0.9zM466.0 227.1h0.9v0.9h-0.9zM455.3 231.6h0.9v0.9h-0.9zM461.1 232.6h0.9v0.9h-0.9zM467.1 232.9h0.9v0.9h-0.9zM448.6 214.0h0.9v0.9h-0.9zM456.9 244.2h0.9v0.9h-0.9zM458.0 224.9h0.9v0.9h-0.9zM459.7 233.7h0.9v0.9h-0.9zM467.1 217.2h0.9v0.9h-0.9zM463.5 230.6h0.9v0.9h-0.9zM463.9 238.8h0.9v0.9h-0.9zM440.7 237.3h0.9v0.9h-0.9zM461.4 221.7h0.9v0.9h-0.9zM456.7 238.5h0.9v0.9h-0.9zM446.2 236.9h0.9v0.9h-0.9zM463.7 244.9h0.9v0.9h-0.9zM451.2 223.2h0.9v0.9h-0.9zM465.2 226.3h0.9v0.9h-0.9zM460.7 205.0h0.9v0.9h-0.9zM475.8 211.9h0.9v0.9h-0.9zM445.1 233.5h0.9v0.9h-0.9zM461.4 221.5h0.9v0.9h-0.9zM440.8 233.9h0.9v0.9h-0.9zM459.3 220.5h0.9v0.9h-0.9zM458.6 223.6h0.9v0.9h-0.9zM449.8 235.3h0.9v0.9h-0.9zM457.6 229.2h0.9v0.9h-0.9zM448.1 222.4h0.9v0.9h-0.9zM455.5 223.4h0.9v0.9h-0.9zM460.2 229.2h0.9v0.9h-0.9zM455.9 227.3h0.9v0.9h-0.9zM460.7 238.1h0.9v0.9h-0.9zM449.3 237.6h0.9v0.9h-0.9zM464.4 236.1h0.9v0.9h-0.9zM453.3 230.8h0.9v0.9h-0.9zM473.6 216.7h0.9v0.9h-0.9zM463.9 226.5h0.9v0.9h-0.9zM470.2 230.1h0.9v0.9h-0.9zM464.0 223.2h0.9v0.9h-0.9zM453.8 243.6h0.9v0.9h-0.9zM447.9 224.1h0.9v0.9h-0.9zM455.6 217.4h0.9v0.9h-0.9zM462.3 217.6h0.9v0.9h-0.9zM457.9 226.7h0.9v0.9h-0.9zM440.8 230.2h0.9v0.9h-0.9zM445.8 229.1h0.9v0.9h-0.9zM463.8 231.4h0.9v0.9h-0.9zM466.1 243.8h0.9v0.9h-0.9zM463.2 227.1h0.9v0.9h-0.9zM456.7 234.6h0.9v0.9h-0.9zM448.1 219.3h0.9v0.9h-0.9zM457.5 244.9h0.9v0.9h-0.9zM449.0 231.1h0.9v0.9h-0.9zM452.2 235.4h0.9v0.9h-0.9zM460.2 228.5h0.9v0.9h-0.9zM464.5 226.5h0.9v0.9h-0.9zM444.9 248.1h0.9v0.9h-0.9zM456.7 231.7h0.9v0.9h-0.9zM463.5 221.4h0.9v0.9h-0.9zM454.0 221.9h0.9v0.9h-0.9zM461.9 232.5h0.9v0.9h-0.9zM459.1 216.9h0.9v0.9h-0.9zM451.3 215.6h0.9v0.9h-0.9zM447.1 222.0h0.9v0.9h-0.9zM459.8 233.4h0.9v0.9h-0.9zM443.8 234.6h0.9v0.9h-0.9zM460.3 243.4h0.9v0.9h-0.9zM464.1 215.0h0.9v0.9h-0.9zM461.3 231.0h0.9v0.9h-0.9zM460.0 222.1h0.9v0.9h-0.9zM468.5 229.7h0.9v0.9h-0.9zM453.1 212.2h0.9v0.9h-0.9zM455.6 216.2h0.9v0.9h-0.9zM446.3 243.8h0.9v0.9h-0.9zM457.0 237.8h0.9v0.9h-0.9zM466.0 235.6h0.9v0.9h-0.9zM454.3 218.0h0.9v0.9h-0.9zM456.3 229.9h0.9v0.9h-0.9zM456.4 226.0h0.9v0.9h-0.9zM458.6 215.5h0.9v0.9h-0.9zM465.6 217.9h0.9v0.9h-0.9zM458.5 220.7h0.9v0.9h-0.9zM467.9 223.6h0.9v0.9h-0.9zM450.5 225.4h0.9v0.9h-0.9zM464.3 217.4h0.9v0.9h-0.9zM447.6 223.9h0.9v0.9h-0.9zM464.6 249.7h0.9v0.9h-0.9zM456.2 237.4h0.9v0.9h-0.9zM456.6 211.6h0.9v0.9h-0.9zM454.3 234.5h0.9v0.9h-0.9zM449.0 226.0h0.9v0.9h-0.9zM452.5 232.4h0.9v0.9h-0.9zM476.5 229.5h0.9v0.9h-0.9zM447.6 244.2h0.9v0.9h-0.9zM455.3 224.9h0.9v0.9h-0.9zM461.4 235.8h0.9v0.9h-0.9zM459.2 232.0h0.9v0.9h-0.9zM458.9 217.6h0.9v0.9h-0.9zM463.5 236.9h0.9v0.9h-0.9zM451.5 212.5h0.9v0.9h-0.9zM452.9 230.5h0.9v0.9h-0.9zM468.4 230.8h0.9v0.9h-0.9zM458.0 231.0h0.9v0.9h-0.9zM445.9 225.4h0.9v0.9h-0.9zM458.6 235.2h0.9v0.9h-0.9zM463.8 244.1h0.9v0.9h-0.9zM452.3 224.7h0.9v0.9h-0.9zM454.1 233.3h0.9v0.9h-0.9zM472.9 230.4h0.9v0.9h-0.9zM458.8 220.2h0.9v0.9h-0.9zM447.7 245.3h0.9v0.9h-0.9zM456.9 241.9h0.9v0.9h-0.9zM463.9 224.1h0.9v0.9h-0.9zM459.5 220.3h0.9v0.9h-0.9zM462.4 227.3h0.9v0.9h-0.9zM463.6 240.4h0.9v0.9h-0.9zM453.0 236.2h0.9v0.9h-0.9zM460.9 223.8h0.9v0.9h-0.9zM459.7 240.3h0.9v0.9h-0.9zM458.8 237.8h0.9v0.9h-0.9zM460.2 240.5h0.9v0.9h-0.9zM456.6 225.7h0.9v0.9h-0.9zM462.5 207.4h0.9v0.9h-0.9zM453.6 243.0h0.9v0.9h-0.9zM451.9 246.0h0.9v0.9h-0.9zM470.0 224.1h0.9v0.9h-0.9zM451.8 232.4h0.9v0.9h-0.9zM464.6 245.1h0.9v0.9h-0.9zM469.4 222.1h0.9v0.9h-0.9zM464.3 224.0h0.9v0.9h-0.9zM465.9 233.1h0.9v0.9h-0.9zM468.8 227.9h0.9v0.9h-0.9zM464.0 216.9h0.9v0.9h-0.9zM450.1 233.5h0.9v0.9h-0.9zM458.4 236.9h0.9v0.9h-0.9zM475.5 222.9h0.9v0.9h-0.9zM448.5 218.8h0.9v0.9h-0.9zM452.8 239.6h0.9v0.9h-0.9zM460.6 225.9h0.9v0.9h-0.9zM462.9 227.1h0.9v0.9h-0.9zM459.7 228.5h0.9v0.9h-0.9zM447.2 236.3h0.9v0.9h-0.9zM459.1 249.5h0.9v0.9h-0.9zM458.4 223.1h0.9v0.9h-0.9zM459.1 221.9h0.9v0.9h-0.9zM457.4 225.2h0.9v0.9h-0.9zM460.3 220.1h0.9v0.9h-0.9zM456.8 224.8h0.9v0.9h-0.9zM450.1 228.0h0.9v0.9h-0.9zM463.1 235.5h0.9v0.9h-0.9zM460.1 227.6h0.9v0.9h-0.9zM465.1 226.0h0.9v0.9h-0.9zM462.9 212.5h0.9v0.9h-0.9zM448.4 221.8h0.9v0.9h-0.9zM466.5 226.2h0.9v0.9h-0.9zM461.3 218.3h0.9v0.9h-0.9zM470.6 245.1h0.9v0.9h-0.9zM457.8 222.4h0.9v0.9h-0.9zM459.7 226.3h0.9v0.9h-0.9zM454.1 205.4h0.9v0.9h-0.9zM459.5 207.9h0.9v0.9h-0.9zM453.8 214.2h0.9v0.9h-0.9zM473.3 216.6h0.9v0.9h-0.9zM454.7 232.1h0.9v0.9h-0.9zM455.3 230.9h0.9v0.9h-0.9zM465.0 222.6h0.9v0.9h-0.9zM461.8 227.4h0.9v0.9h-0.9zM447.5 231.3h0.9v0.9h-0.9zM449.4 238.3h0.9v0.9h-0.9zM457.8 230.2h0.9v0.9h-0.9zM465.6 220.8h0.9v0.9h-0.9zM451.6 242.0h0.9v0.9h-0.9zM463.4 232.6h0.9v0.9h-0.9zM442.2 228.8h0.9v0.9h-0.9zM450.4 222.9h0.9v0.9h-0.9zM445.0 213.1h0.9v0.9h-0.9zM454.4 232.1h0.9v0.9h-0.9zM453.8 226.8h0.9v0.9h-0.9zM458.4 241.2h0.9v0.9h-0.9zM453.2 229.7h0.9v0.9h-0.9zM464.3 217.3h0.9v0.9h-0.9zM449.5 224.3h0.9v0.9h-0.9zM468.9 223.8h0.9v0.9h-0.9zM448.0 210.8h0.9v0.9h-0.9zM459.1 238.4h0.9v0.9h-0.9zM451.6 224.7h0.9v0.9h-0.9zM449.1 221.6h0.9v0.9h-0.9zM465.9 223.4h0.9v0.9h-0.9zM449.6 234.2h0.9v0.9h-0.9zM459.9 228.0h0.9v0.9h-0.9zM474.2 231.3h0.9v0.9h-0.9zM467.0 216.8h0.9v0.9h-0.9zM457.3 240.4h0.9v0.9h-0.9zM463.8 237.1h0.9v0.9h-0.9zM446.1 225.8h0.9v0.9h-0.9zM471.2 242.2h0.9v0.9h-0.9zM468.8 236.0h0.9v0.9h-0.9zM458.6 236.0h0.9v0.9h-0.9z" fill="#000" fill-opacity="0.4"/>
</svg></body></html>
